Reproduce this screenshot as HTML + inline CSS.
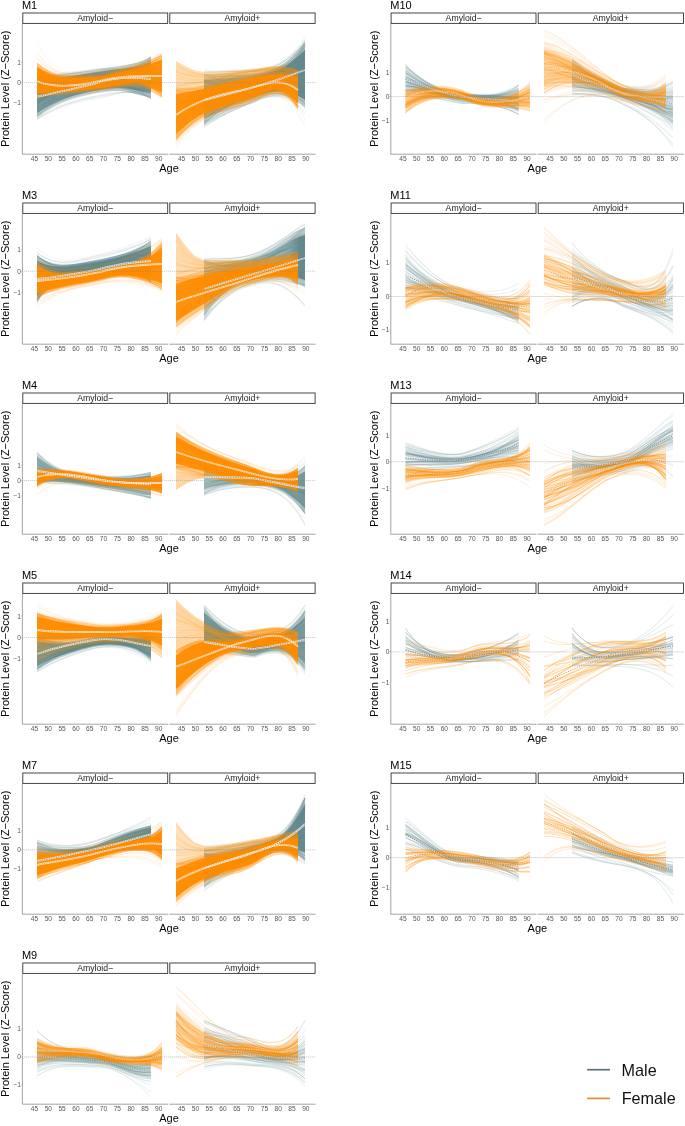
<!DOCTYPE html><html><head><meta charset="utf-8"><style>html,body{margin:0;padding:0;background:#fff;}svg{display:block;}text{font-family:"Liberation Sans",sans-serif;}</style></head><body>
<svg width="685" height="1126" viewBox="0 0 685 1126" style="will-change:transform">
<rect width="685" height="1126" fill="#fff"/>
<g><path fill="#5d8489" fill-opacity="0.338" stroke="none" d="M37 77L44.6 76.2L52.2 75.4L59.8 74.5L67.4 73.6L75 72.6L82.6 71.5L90.2 70.4L97.8 69.3L105.4 68.2L113 67.1L120.6 65.9L128.2 64.6L135.8 63.1L143.4 60.8L151 57L151 97.7L143.4 96.1L135.8 94.3L128.2 92L120.6 90.7L113 91L105.4 91.9L97.8 93.1L90.2 94.5L82.6 96.2L75 98.3L67.4 100.8L59.8 103.8L52.2 107.7L44.6 112.6L37 118Z"/><path fill="#5d8489" fill-opacity="0.75" stroke="none" d="M37 81.9L44.6 80.6L52.2 79.3L59.8 78L67.4 76.8L75 75.6L82.6 74.4L90.2 73.3L97.8 72.2L105.4 71.1L113 70L120.6 68.9L128.2 67.9L135.8 66.8L143.4 65L151 61.9L151 92.8L143.4 91.9L135.8 90.5L128.2 88.7L120.6 87.7L113 88.2L105.4 89.1L97.8 90.3L90.2 91.6L82.6 93.2L75 95.2L67.4 97.5L59.8 100.2L52.2 103.9L44.6 108.2L37 113.1Z"/><path fill="none" stroke="#5d8489" stroke-opacity="0.2" stroke-width="0.8" d="M37 102.8C56 93.8 75 89.6 94 87.5C113 83.4 132 87.8 151 94.2M37 85.8C56 79.1 75 75.7 94 73.1C113 69.5 132 71.6 151 68.9M37 76.4C56 79.1 75 77.7 94 78.2C113 77.3 132 81.6 151 90.9M37 96.1C56 87.8 75 83.8 94 80C113 74.6 132 76.5 151 69M37 87C56 83.2 75 80.2 94 78C113 74.3 132 77 151 75M37 99.8C56 92.4 75 88.7 94 87.3C113 84 132 88.8 151 98.3M37 102.7C56 90.4 75 85.9 94 84.1C113 80.9 132 85.8 151 98M37 83C56 83 75 80.8 94 79.8C113 77 132 80.4 151 82.1M37 77.7C56 72.5 75 72.7 94 69.1C113 67.5 132 71 151 78M37 115.3C56 99.3 75 93.5 94 88.9C113 82.3 132 85.4 151 82.8M37 97.4C56 87.6 75 83.2 94 79C113 73.4 132 75.1 151 66.7M37 84.4C56 86.2 75 84.3 94 83.4C113 80.5 132 84.1 151 85.5M37 91.9C56 85 75 81.1 94 76.5C113 70.6 132 71.3 151 56.3M37 82.8C56 80.1 75 77.4 94 74.9C113 71.2 132 73.2 151 67.5M37 97.9C56 91.8 75 88.2 94 86.5C113 82.7 132 86.9 151 92M37 107.8C56 93.7 75 88.1 94 82.2C113 74.5 132 75.4 151 60.1M37 97.8C56 96.7 75 93.9 94 92.3C113 87.8 132 92 151 93.1M37 101.7C56 88.3 75 83.1 94 77.8C113 71 132 71.9 151 58.7M37 90C56 84.4 75 80.9 94 77.2C113 72 132 73.4 151 62.5M37 92.4C56 93.2 75 91 94 90.4C113 87.2 132 91.9 151 97.6M37 102C56 91.1 75 86.6 94 83.5C113 78.7 132 82.1 151 83.2M37 82.6C56 79.5 75 76.8 94 75.1C113 72.2 132 74.9 151 74.8M37 93.3C56 87 75 83.2 94 78.9C113 72.9 132 74 151 60.3M37 85.3C56 85.5 75 83.3 94 82.3C113 79.3 132 82.8 151 84.6M37 113.5C56 98.1 75 92.4 94 88.2C113 81.9 132 85.2 151 84.2M37 112.2C56 98.8 75 93.6 94 90.7C113 85.6 132 90.1 151 96.2M37 100.5C56 91.9 75 87.5 94 82.6C113 75.8 132 77 151 62.3M37 115.7C56 99.6 75 93.7 94 88.8C113 81.7 132 84.5 151 79.6M37 113.9C56 95.6 75 89.5 94 85.1C113 79.2 132 82.4 151 83.3M37 92.2C56 88.6 75 85.4 94 82.5C113 77.7 132 80 151 73.6M37 77.8C56 83.1 75 82.1 94 82.7C113 81.2 132 85.7 151 93.3M37 99.5C56 88.8 75 84.2 94 80.2C113 74.6 132 76.6 151 69.8M37 77.3C56 78.6 75 76.7 94 75.3C113 72.5 132 74.9 151 71.9M37 81.4C56 83.1 75 81.5 94 82C113 80.8 132 85.7 151 97.1M37 94.4C56 93.2 75 90.3 94 87.6C113 82.5 132 85.2 151 78.4M37 90.9C56 86.7 75 83.6 94 81.6C113 77.8 132 81 151 81.2M37 91.3C56 85.4 75 82 94 79.7C113 75.8 132 78.7 151 78.2M37 114.9C56 93 75 86.1 94 79.6C113 71.9 132 73.1 151 62.6M37 76.4C56 77.2 75 75.6 94 75.8C113 74.8 132 78.9 151 88.1M37 82C56 82.9 75 80.8 94 79.1C113 75.6 132 78.1 151 73.9M37 76.8C56 77.7 75 76 94 75.7C113 74.1 132 77.6 151 82.8M37 98.1C56 88 75 83.8 94 81.5C113 77.8 132 81.6 151 86.9M37 84.6C56 83.6 75 81 94 78.8C113 74.9 132 77.1 151 71.6M37 90.9C56 86.6 75 83.6 94 83C113 80.8 132 85.5 151 96.3M37 90.7C56 80.1 75 75.9 94 72.6C113 68.5 132 70.5 151 67.7M37 95.1C56 90.9 75 87.8 94 86.9C113 83.9 132 88.7 151 97.7M37 98.4C56 89.7 75 85.8 94 84.2C113 80.9 132 85.4 151 94.1M37 100.9C56 90.1 75 85.6 94 81.7C113 76.3 132 78.8 151 74.2M37 93.7C56 86.8 75 83.3 94 82.3C113 79.8 132 84.4 151 95.2M37 94.5C56 90 75 86.6 94 83.9C113 79.2 132 82 151 78.2M37 86.9C56 84.8 75 82.3 94 81.6C113 79.2 132 83.4 151 90.3M37 106.8C56 98.3 75 93.9 94 90.3C113 84.2 132 87.3 151 82.8M37 90.4C56 81.2 75 77.3 94 74.5C113 70.8 132 73.3 151 73M37 78.3C56 75.5 75 72.9 94 70.7C113 67.7 132 69.5 151 65.2M37 112C56 91.9 75 85.4 94 79C113 71.5 132 72.6 151 60.9M37 96.6C56 88.7 75 84.8 94 82.1C113 77.8 132 81 151 81.4M37 89.3C56 89.7 75 87.6 94 87.2C113 84.6 132 89.4 151 96.9M37 103C56 90.9 75 86.1 94 82.9C113 78.1 132 81.5 151 83.1M37 78.8C56 78.4 75 76.3 94 74.8C113 72.2 132 74.8 151 73.6M37 110.9C56 100.8 75 96.1 94 92.4C113 86.1 132 89.7 151 87.1M37 115.1C56 100 75 94.4 94 90.6C113 84.6 132 88.4 151 90.1M37 98.5C56 93.9 75 90.6 94 89.1C113 85.2 132 89.7 151 94.9M37 77.5C56 75.5 75 72.9 94 70.1C113 66.3 132 67.2 151 57M37 86.8C56 82.3 75 79.1 94 75.9C113 71.3 132 72.9 151 64.1M37 77.8C56 81.8 75 80.5 94 79.9C113 77.5 132 80.8 151 81.2M37 105.1C56 91 75 85.5 94 79.6C113 72.2 132 72.8 151 57.1M37 116.2C56 101.2 75 95.4 94 90.4C113 83 132 85.7 151 79M37 104.2C56 90.1 75 85 94 81.6C113 76.7 132 80 151 82M37 100.7C56 89.7 75 84.9 94 79.5C113 72.6 132 73.3 151 57.9M37 117.1C56 98.7 75 92.5 94 88.6C113 82.9 132 87.1 151 92.3M37 90.6C56 81.7 75 77.8 94 74.6C113 70.5 132 72.7 151 69.6M37 102.9C56 89.7 75 84.9 94 82.4C113 78.4 132 82.5 151 89.9M37 113C56 99.1 75 93.8 94 90.1C113 84.3 132 88.2 151 89.9M37 108.9C56 95.3 75 90.2 94 87.4C113 82.7 132 87 151 93.5M37 100.6C56 89.1 75 84.6 94 81.7C113 77.3 132 80.7 151 83.2M37 80.3C56 81.1 75 79.2 94 78.6C113 76.5 132 80.1 151 84.2M37 111.3C56 96.5 75 91.1 94 87.7C113 82.4 132 86.3 151 90.2M37 107C56 96.9 75 92.4 94 89.7C113 84.8 132 89 151 92.9M37 83.1C56 79.2 75 76.1 94 72.7C113 68.1 132 69 151 57.3M37 85.3C56 85.4 75 83.1 94 81.6C113 78.2 132 81.3 151 80M37 92.4C56 81.1 75 76.7 94 73.1C113 68.7 132 70.6 151 66.9M37 104.2C56 89.5 75 84.1 94 78.6C113 71.7 132 72.8 151 60.5M37 81.9C56 84.9 75 83.3 94 82.6C113 79.8 132 83.3 151 84.2M37 92.2C56 83.7 75 79.8 94 76.7C113 72.4 132 74.8 151 71.9M37 85.4C56 79.3 75 76 94 73.1C113 69.4 132 71.2 151 66.7M37 95.7C56 85.3 75 80.8 94 76.2C113 70.3 132 71.4 151 59.6M37 100.9C56 92.2 75 87.8 94 83.5C113 77.3 132 79.1 151 68.9M37 108.7C56 92.1 75 86.2 94 80.3C113 73 132 74.1 151 61.7M37 81.8C56 79.4 75 76.7 94 73.6C113 69.3 132 70.4 151 59.6M37 87.7C56 83.9 75 80.8 94 78C113 73.6 132 75.7 151 69.2"/><path fill="none" stroke="#5d8489" stroke-opacity="0.14" stroke-width="0.6" d="M37 119.2C56 106.7 75 100.4 94 96.4C113 90.9 132 90.1 151 97.9M37 118.9C56 105.8 75 101.3 94 98C113 96.9 132 84.7 151 98.8M37 118.8C56 105.4 75 100.6 94 97.3C113 95.2 132 86.2 151 98.6M37 118.2C56 103.7 75 99.4 94 96.4C113 94.8 132 86.5 151 98.6M37 119.6C56 107.9 75 102.7 94 98.9C113 97.1 132 84.8 151 98.8M37 119.3C56 107.1 75 101.1 94 97.1C113 92.7 132 88.6 151 98.2"/><path fill="#ff8c00" fill-opacity="0.405" stroke="none" d="M37 62.7L45.3 68.4L53.7 73L62 75.4L70.3 75.5L78.7 75.5L87 75.5L95.3 75.5L103.7 74.4L112 72L120.3 69.6L128.7 67.9L137 65.9L145.3 62.7L153.7 58.6L162 54.5L162 97.7L153.7 92.8L145.3 87.4L137 85.1L128.7 86L120.3 87.2L112 88.3L103.7 89.5L95.3 90.7L87 91.6L78.7 92.4L70.3 93.3L62 94.2L53.7 95.3L45.3 96.5L37 97.7Z"/><path fill="#ff8c00" fill-opacity="0.9" stroke="none" d="M37 66.9L45.3 71.7L53.7 75.7L62 77.7L70.3 77.6L78.7 77.5L87 77.4L95.3 77.3L103.7 76.2L112 73.9L120.3 71.7L128.7 70L137 68.2L145.3 65.7L153.7 62.7L162 59.7L162 92.5L153.7 88.7L145.3 84.4L137 82.8L128.7 83.8L120.3 85.1L112 86.3L103.7 87.7L95.3 88.8L87 89.7L78.7 90.4L70.3 91.2L62 92L53.7 92.6L45.3 93.1L37 93.5Z"/><path fill="none" stroke="#ff8c00" stroke-opacity="0.22" stroke-width="0.8" d="M37 64.3C57.8 84.2 78.7 78.1 99.5 79.5C120.3 76.5 141.2 70.7 162 76.9M37 68.9C57.8 83.6 78.7 77.9 99.5 78.1C120.3 73.2 141.2 69.3 162 65.6M37 89.2C57.8 91.8 78.7 89.1 99.5 87.6C120.3 85.3 141.2 76.6 162 93.9M37 68.7C57.8 85.7 78.7 80.3 99.5 81.8C120.3 80.2 141.2 72.2 162 89.6M37 88.2C57.8 93.7 78.7 91.1 99.5 89.9C120.3 88.3 141.2 79.1 162 98.4M37 92.7C57.8 92.3 78.7 89.9 99.5 87.7C120.3 84.4 141.2 76.6 162 88.6M37 85.3C57.8 87.2 78.7 83.3 99.5 80.9C120.3 74.5 141.2 71.1 162 61.9M37 89.6C57.8 92 78.7 89.3 99.5 87.4C120.3 83.9 141.2 76.7 162 86M37 75.8C57.8 85.2 78.7 80.4 99.5 79.9C120.3 75.6 141.2 70.4 162 72.5M37 92.7C57.8 91.1 78.7 88.5 99.5 85.8C120.3 81 141.2 75 162 78M37 81.9C57.8 89.1 78.7 85.3 99.5 84.6C120.3 81.7 141.2 74.3 162 86.1M37 92.2C57.8 92.3 78.7 89.9 99.5 88.1C120.3 85.7 141.2 76.8 162 94.9M37 67C57.8 83 78.7 77.3 99.5 79C120.3 77.3 141.2 69.3 162 87.8M37 67.4C57.8 87.2 78.7 81.7 99.5 83.1C120.3 81.1 141.2 74 162 85.7M37 95.5C57.8 87.3 78.7 84.6 99.5 80.5C120.3 73.1 141.2 69.9 162 59.2M37 98C57.8 91.3 78.7 89.1 99.5 84.5C120.3 76.9 141.2 74.2 162 58.9M37 82.9C57.8 88.2 78.7 84.3 99.5 82.8C120.3 78.1 141.2 72.8 162 73.7M37 68.9C57.8 90.5 78.7 85.5 99.5 87.1C120.3 86.1 141.2 77.8 162 94.7M37 90C57.8 86.3 78.7 82.8 99.5 79.5C120.3 72.1 141.2 69.4 162 56.7M37 63.2C57.8 80.8 78.7 74.3 99.5 75.6C120.3 71.4 141.2 66.9 162 67.7M37 88.2C57.8 91.4 78.7 88.3 99.5 85.9C120.3 81 141.2 75.8 162 74.1M37 98.2C57.8 95 78.7 93.2 99.5 90.5C120.3 87.5 141.2 79 162 93.6M37 71C57.8 84 78.7 78.5 99.5 78.8C120.3 74.6 141.2 69.6 162 71.3M37 66.5C57.8 82.3 78.7 76.1 99.5 76.2C120.3 70 141.2 67.9 162 55.1M37 66.5C57.8 81.3 78.7 75.1 99.5 75.5C120.3 70.3 141.2 66.8 162 61.6M37 79.6C57.8 86.6 78.7 82.2 99.5 80.6C120.3 74.5 141.2 71.3 162 61.9M37 71.7C57.8 86.3 78.7 81.2 99.5 81.6C120.3 78.1 141.2 72.3 162 77.3M37 80.8C57.8 88.9 78.7 84.9 99.5 84.1C120.3 80.7 141.2 74.1 162 81.9M37 76.4C57.8 91.5 78.7 87.3 99.5 87.4C120.3 85.3 141.2 77.8 162 89.2M37 68.5C57.8 80.3 78.7 74.1 99.5 74.7C120.3 68.9 141.2 65.2 162 59.8M37 97.7C57.8 91.6 78.7 89.8 99.5 87.3C120.3 84.7 141.2 75.4 162 95.9M37 97.3C57.8 90.3 78.7 87.9 99.5 83.7C120.3 76.7 141.2 73.2 162 63M37 80.1C57.8 88.5 78.7 84.6 99.5 84.6C120.3 83 141.2 74.1 162 94.7M37 73.5C57.8 87 78.7 82.1 99.5 82.4C120.3 79.2 141.2 72.9 162 80.6M37 70.6C57.8 85.2 78.7 79.8 99.5 80.2C120.3 76.5 141.2 71 162 74.5M37 89.7C57.8 91.8 78.7 89.1 99.5 87.4C120.3 84.6 141.2 76.5 162 90.9M37 87.8C57.8 93.1 78.7 90.3 99.5 88.9C120.3 86.3 141.2 78.2 162 91.8M37 88.8C57.8 89.8 78.7 86.6 99.5 83.9C120.3 77.9 141.2 73.8 162 67.2M37 89.5C57.8 87.8 78.7 84.5 99.5 81.4C120.3 74.6 141.2 71.4 162 61.1M37 83.7C57.8 89.2 78.7 85.4 99.5 83.5C120.3 78.1 141.2 73.8 162 68.4M37 67.6C57.8 86.5 78.7 80.9 99.5 81.9C120.3 78.6 141.2 73 162 76.7M37 97.1C57.8 92.5 78.7 90.5 99.5 87.2C120.3 82.4 141.2 76.1 162 79.5M37 72.3C57.8 89.1 78.7 84.3 99.5 85.1C120.3 83.3 141.2 75.6 162 89.7M37 85.4C57.8 89.5 78.7 86.3 99.5 85.6C120.3 83.8 141.2 74.6 162 96.3M37 77.1C57.8 84.6 78.7 80 99.5 80.1C120.3 77.3 141.2 69.8 162 84.7M37 74.2C57.8 89.5 78.7 84.8 99.5 85.1C120.3 82.3 141.2 75.7 162 83.7M37 82.1C57.8 87.5 78.7 83.7 99.5 83.1C120.3 80.5 141.2 72.5 162 88.2M37 88.5C57.8 90.3 78.7 86.9 99.5 83.5C120.3 75.8 141.2 74.1 162 54.3M37 79.1C57.8 84.1 78.7 79.6 99.5 78.7C120.3 74.1 141.2 68.7 162 72M37 81C57.8 86.9 78.7 82.9 99.5 82.4C120.3 79.6 141.2 71.9 162 86.5M37 82.5C57.8 86.8 78.7 82.8 99.5 81.7C120.3 77.8 141.2 71.4 162 78.7M37 63.4C57.8 83.4 78.7 77.1 99.5 78.6C120.3 75.2 141.2 69.9 162 74M37 82C57.8 85.7 78.7 81.3 99.5 79.2C120.3 72.3 141.2 69.8 162 57M37 70.1C57.8 83.8 78.7 78.1 99.5 78C120.3 72.7 141.2 69.3 162 62.4M37 69.2C57.8 84.9 78.7 79.3 99.5 79.9C120.3 76.2 141.2 70.9 162 74M37 87.7C57.8 91.3 78.7 88.2 99.5 86.2C120.3 81.9 141.2 75.9 162 78.5M37 79C57.8 86.7 78.7 82.4 99.5 81.9C120.3 78.6 141.2 71.8 162 81.5M37 86.7C57.8 88.7 78.7 85.4 99.5 83.8C120.3 80.1 141.2 73.1 162 82.5M37 82.3C57.8 88.8 78.7 84.9 99.5 83.4C120.3 78.4 141.2 73.6 162 71.4M37 75.8C57.8 86.4 78.7 81.6 99.5 81.3C120.3 77.2 141.2 71.7 162 74.6M37 80.3C57.8 85.4 78.7 81.1 99.5 79.8C120.3 74.6 141.2 70 162 68.8M37 75.9C57.8 89.5 78.7 85.1 99.5 85.6C120.3 83.8 141.2 75.6 162 91.6M37 78.3C57.8 88.2 78.7 84 99.5 83.8C120.3 81 141.2 73.7 162 85.7M37 93.3C57.8 89.4 78.7 86.8 99.5 84.1C120.3 79.6 141.2 73.1 162 79.7M37 86.2C57.8 90.7 78.7 87.5 99.5 86C120.3 82.5 141.2 75.6 162 84.1M37 77.3C57.8 86.6 78.7 81.9 99.5 80.6C120.3 74.7 141.2 71.5 162 61.9M37 72.7C57.8 83.9 78.7 78.7 99.5 78.7C120.3 74.7 141.2 69.3 162 73M37 78.3C57.8 89.9 78.7 85.6 99.5 84.6C120.3 79.7 141.2 75.4 162 70.3M37 96.5C57.8 93.5 78.7 91.6 99.5 89.1C120.3 86.2 141.2 77.6 162 93.6M37 71.7C57.8 90.9 78.7 86.2 99.5 87.2C120.3 85.9 141.2 77.8 162 93.4M37 87C57.8 85.6 78.7 81.8 99.5 78.9C120.3 71.8 141.2 69.1 162 56.9M37 69.2C57.8 86.2 78.7 80.7 99.5 81.1C120.3 77.2 141.2 72.3 162 72.5M37 92.1C57.8 89.9 78.7 87.1 99.5 84.3C120.3 79.3 141.2 73.7 162 74.9M37 78.7C57.8 87.7 78.7 83.3 99.5 82.3C120.3 77.4 141.2 72.8 162 70.4M37 69.3C57.8 82.4 78.7 76.6 99.5 77C120.3 72.4 141.2 67.9 162 67.9M37 90C57.8 86.3 78.7 82.9 99.5 79.5C120.3 72.1 141.2 69.5 162 56.2M37 91.8C57.8 89.6 78.7 86.8 99.5 84C120.3 78.7 141.2 73.4 162 73.6M37 86.9C57.8 87.5 78.7 83.9 99.5 81.4C120.3 75.2 141.2 71.4 162 64.7M37 75.7C57.8 87.2 78.7 82.5 99.5 82.6C120.3 79.5 141.2 72.8 162 82.3M37 79.3C57.8 87.6 78.7 83.4 99.5 82.6C120.3 78.6 141.2 72.7 162 77.2M37 69.4C57.8 87.1 78.7 82 99.5 83.7C120.3 83 141.2 73.8 162 96.9M37 73.1C57.8 83.8 78.7 78.5 99.5 78.1C120.3 73 141.2 69 162 65.2M37 77.4C57.8 86.5 78.7 82.2 99.5 82.3C120.3 80 141.2 72 162 88.3M37 69.1C57.8 83.8 78.7 78 99.5 77.9C120.3 72.2 141.2 69.3 162 59.8M37 90C57.8 88.4 78.7 85.3 99.5 82.9C120.3 78.1 141.2 72.3 162 75.6M37 85.9C57.8 90.1 78.7 86.8 99.5 85.2C120.3 81.4 141.2 74.9 162 81.5M37 89.3C57.8 89.3 78.7 86.2 99.5 83.5C120.3 77.8 141.2 73.3 162 69.1M37 77.9C57.8 86.6 78.7 82.2 99.5 81.5C120.3 77.5 141.2 71.8 162 75.6M37 78.1C57.8 88.2 78.7 83.9 99.5 83.5C120.3 80.4 141.2 73.7 162 82.4M37 67C57.8 82.4 78.7 76.3 99.5 76.6C120.3 71.3 141.2 68 162 61.4"/><path fill="none" stroke="#ff8c00" stroke-opacity="0.14" stroke-width="0.6" d="M37 41.8C57.8 84.8 78.7 68.7 99.5 71.9C120.3 69.1 141.2 66 162 54.4M37 58.7C57.8 81.6 78.7 73.3 99.5 74C120.3 69.1 141.2 66.2 162 54.1M37 52.4C57.8 83 78.7 71.7 99.5 73.6C120.3 69.2 141.2 66.6 162 54.5M37 52.8C57.8 82.7 78.7 71.6 99.5 73.1C120.3 69 141.2 65.9 162 54.1M37 56.8C57.8 80.7 78.7 72 99.5 71.7C120.3 68.5 141.2 63.1 162 52.5M37 58.7C57.8 80.7 78.7 72.8 99.5 72.5C120.3 68.6 141.2 64 162 53"/><path fill="none" stroke="#fff" stroke-opacity="0.75" stroke-width="1.8" d="M37 96.6C56 93 75 88.5 94 83.9C113 76.9 132 76.9 151 79"/><path fill="none" stroke="#3f6470" stroke-opacity="0.6" stroke-width="0.9" stroke-dasharray="1.3 1.1" d="M37 96.6C56 93 75 88.5 94 83.9C113 76.9 132 76.9 151 79"/><path fill="none" stroke="#fff" stroke-opacity="0.75" stroke-width="1.8" d="M37 81.4C57.8 89.1 78.7 85.3 99.5 81.1C120.3 74.9 141.2 76.1 162 76"/><path fill="none" stroke="#d97700" stroke-opacity="0.6" stroke-width="0.9" stroke-dasharray="1.3 1.1" d="M37 81.4C57.8 89.1 78.7 85.3 99.5 81.1C120.3 74.9 141.2 76.1 162 76"/><defs><linearGradient id="g1" gradientUnits="userSpaceOnUse" x1="204" y1="0" x2="305" y2="0"><stop offset="0.0" stop-color="#5d8489" stop-opacity="0.5"/><stop offset="0.465" stop-color="#5d8489" stop-opacity="0.55"/><stop offset="0.752" stop-color="#5d8489" stop-opacity="0.85"/><stop offset="1.0" stop-color="#5d8489" stop-opacity="0.92"/></linearGradient></defs><path fill="url(#g1)" fill-opacity="0.45" stroke="none" d="M204 74L210.7 74L217.5 73.9L224.2 73.8L230.9 73.7L237.7 73.5L244.4 73.3L251.1 73L257.9 72.3L264.6 70.9L271.3 69L278.1 66.6L284.8 62.7L291.5 57L298.3 50L305 42L305 107.6L298.3 102.3L291.5 98.2L284.8 95.5L278.1 94.4L271.3 95L264.6 96.8L257.9 99.4L251.1 102L244.4 104.5L237.7 107.3L230.9 110.3L224.2 113.6L217.5 117.2L210.7 121L204 125Z"/><path fill="url(#g1)" stroke="none" d="M204 80.1L210.7 79.6L217.5 79.1L224.2 78.6L230.9 78.1L237.7 77.5L244.4 77L251.1 76.5L257.9 75.5L264.6 74L271.3 72.1L278.1 69.9L284.8 66.7L291.5 62L298.3 56.3L305 49.9L305 99.7L298.3 96L291.5 93.3L284.8 91.6L278.1 91.1L271.3 91.9L264.6 93.7L257.9 96.1L251.1 98.5L244.4 100.7L237.7 103.2L230.9 105.9L224.2 108.9L217.5 112L210.7 115.3L204 118.9Z"/><path fill="none" stroke="#5d8489" stroke-opacity="0.2" stroke-width="0.8" d="M204 94.5C220.8 91.3 237.7 88.2 254.5 85.1C271.3 80.2 288.2 77.1 305 69.2M204 81.5C220.8 85.8 237.7 86.9 254.5 87.1C271.3 86 288.2 81.1 305 103.7M204 108.4C220.8 96.6 237.7 89.2 254.5 83.3C271.3 75.4 288.2 73.3 305 44.1M204 104.8C220.8 103.9 237.7 100.4 254.5 96C271.3 88.9 288.2 88.3 305 93.4M204 123.5C220.8 107.7 237.7 98.6 254.5 93.7C271.3 87.1 288.2 83.9 305 101.1M204 89.7C220.8 74.8 237.7 70.7 254.5 71.9C271.3 71.8 288.2 61.2 305 42.9M204 121.5C220.8 108.2 237.7 100.1 254.5 95.5C271.3 89.2 288.2 86.2 305 108.2M204 108.3C220.8 100.1 237.7 94.5 254.5 90.5C271.3 84.6 288.2 81.8 305 87M204 123.5C220.8 115.6 237.7 107.8 254.5 100.2C271.3 89.1 288.2 90.7 305 82.2M204 100.2C220.8 86.2 237.7 79.5 254.5 75.7C271.3 71 288.2 65.8 305 42M204 109.8C220.8 101.3 237.7 95 254.5 89.7C271.3 82.1 288.2 80.5 305 69.4M204 113.1C220.8 98.8 237.7 90.7 254.5 85.5C271.3 78.6 288.2 75.5 305 63.7M204 80C220.8 81.1 237.7 80.6 254.5 78.7C271.3 75.5 288.2 71.4 305 53.3M204 96.7C220.8 95.3 237.7 93 254.5 91.1C271.3 87.6 288.2 83.9 305 104M204 120.6C220.8 103.7 237.7 94.5 254.5 89.6C271.3 83.3 288.2 79.6 305 87.1M204 94.4C220.8 87.6 237.7 83.2 254.5 79.1C271.3 73.4 288.2 70.1 305 40.9M204 86C220.8 80.6 237.7 77.8 254.5 75.8C271.3 73 288.2 67.6 305 50.4M204 109.4C220.8 96.8 237.7 89.4 254.5 84.1C271.3 77.1 288.2 74.2 305 55.2M204 122.8C220.8 104.9 237.7 94.5 254.5 87.7C271.3 78.9 288.2 76.8 305 59M204 79.9C220.8 75.5 237.7 74.8 254.5 76.7C271.3 78.9 288.2 69.8 305 96.3M204 100.4C220.8 92.9 237.7 87.6 254.5 82.5C271.3 75.3 288.2 73.2 305 43.1M204 117.9C220.8 103.2 237.7 93.9 254.5 86.8C271.3 77.2 288.2 76.1 305 46.4M204 113.5C220.8 102.3 237.7 95.1 254.5 90.3C271.3 83.6 288.2 81 305 82.2M204 106.3C220.8 104.6 237.7 100.3 254.5 94.5C271.3 85.5 288.2 86.1 305 71.7M204 88.5C220.8 90.3 237.7 89.6 254.5 88.1C271.3 85 288.2 81.3 305 92.4M204 112.3C220.8 106.1 237.7 99.8 254.5 93.4C271.3 83.8 288.2 84.1 305 66.5M204 110C220.8 99.2 237.7 92.3 254.5 87.3C271.3 80.3 288.2 77.8 305 67.1M204 124.1C220.8 106.6 237.7 96.9 254.5 91.5C271.3 84.4 288.2 81.3 305 89.4M204 111.7C220.8 97.8 237.7 89.9 254.5 84.6C271.3 77.8 288.2 74.6 305 59.7M204 118.6C220.8 107.4 237.7 99.4 254.5 92.8C271.3 83.6 288.2 83 305 71.3M204 89.2C220.8 87.4 237.7 84.9 254.5 81.2C271.3 75.6 288.2 73 305 45.9M204 87.4C220.8 80.7 237.7 77.5 254.5 75.6C271.3 73 288.2 67.2 305 52.5M204 97.7C220.8 88.3 237.7 83.1 254.5 79.7C271.3 75.1 288.2 70.7 305 55.3M204 121.9C220.8 103.3 237.7 92.9 254.5 86.5C271.3 78.2 288.2 75.6 305 59.3M204 99.9C220.8 93.7 237.7 88.8 254.5 83.7C271.3 76.4 288.2 74.6 305 45.8M204 115.7C220.8 104.6 237.7 96.4 254.5 88.9C271.3 78.5 288.2 78.6 305 45.2M204 118.9C220.8 109.9 237.7 102.9 254.5 97.6C271.3 89.7 288.2 88.6 305 99.8M204 100.7C220.8 93.4 237.7 88.5 254.5 84.7C271.3 79.2 288.2 76 305 65.9M204 76.9C220.8 79.4 237.7 79.7 254.5 78.6C271.3 76.2 288.2 71.7 305 58.8M204 97.9C220.8 88.1 237.7 83.2 254.5 80.8C271.3 77.6 288.2 72.1 305 71.6M204 89.9C220.8 83.7 237.7 80 254.5 77C271.3 72.7 288.2 68.3 305 43.5M204 81.1C220.8 77.9 237.7 76.1 254.5 74.5C271.3 72 288.2 66.6 305 46.3M204 123.6C220.8 108.9 237.7 99.6 254.5 93.2C271.3 84.6 288.2 83.1 305 80.2M204 90.1C220.8 88.9 237.7 87.1 254.5 85.1C271.3 81.6 288.2 77.7 305 79.7M204 104.2C220.8 99.2 237.7 94.9 254.5 91.7C271.3 86.5 288.2 83.6 305 95.5M204 83.5C220.8 81.5 237.7 80.4 254.5 80.1C271.3 79 288.2 72.9 305 80.4M204 81.8C220.8 87.3 237.7 88.1 254.5 86.8C271.3 83.6 288.2 80.4 305 82.9M204 80.1C220.8 89.3 237.7 91 254.5 89C271.3 84.5 288.2 82.9 305 77.9M204 94.4C220.8 93 237.7 90.1 254.5 86C271.3 79.7 288.2 77.9 305 59.1M204 101.7C220.8 95.6 237.7 91.3 254.5 88.3C271.3 83.7 288.2 80.1 305 87.5M204 78.7C220.8 85.8 237.7 87.7 254.5 87.5C271.3 85.7 288.2 81.8 305 96.5M204 78.4C220.8 76.3 237.7 75.5 254.5 74.9C271.3 73.7 288.2 67.5 305 57.7M204 118C220.8 111 237.7 104.6 254.5 99.2C271.3 91.1 288.2 90.5 305 102.8M204 90.6C220.8 80.3 237.7 76 254.5 74.1C271.3 72 288.2 65.3 305 53.8M204 121.9C220.8 103.4 237.7 92.8 254.5 85.5C271.3 76.1 288.2 74.3 305 45.5M204 98.8C220.8 86.4 237.7 80.9 254.5 79.1C271.3 77 288.2 70.3 305 76.4M204 96.2C220.8 92.7 237.7 88.9 254.5 84.3C271.3 77.5 288.2 75.7 305 50.3M204 125.1C220.8 106.6 237.7 96.6 254.5 91.3C271.3 84.6 288.2 81 305 91.9M204 115.8C220.8 101.2 237.7 92.6 254.5 86.8C271.3 79 288.2 76.5 305 61.9M204 73.7C220.8 82.4 237.7 85.4 254.5 86.2C271.3 85.6 288.2 80.9 305 100.1M204 97.2C220.8 93.8 237.7 90.7 254.5 88.1C271.3 83.7 288.2 80.3 305 85.8M204 81.8C220.8 78.1 237.7 76.3 254.5 74.8C271.3 72.6 288.2 66.9 305 50.2M204 75.8C220.8 76.7 237.7 76.8 254.5 76C271.3 74.3 288.2 68.9 305 55.5M204 97.6C220.8 96.2 237.7 92.9 254.5 88.5C271.3 81.7 288.2 80.4 305 65M204 87.9C220.8 87.6 237.7 85.4 254.5 81.6C271.3 75.6 288.2 73.5 305 43M204 113C220.8 99.6 237.7 91.6 254.5 85.9C271.3 78.3 288.2 75.8 305 58.1M204 113C220.8 101.7 237.7 94.3 254.5 88.8C271.3 81.2 288.2 79.1 305 68.4M204 121.7C220.8 114.1 237.7 106.1 254.5 97.7C271.3 85.4 288.2 87.8 305 61.9M204 86.4C220.8 84.6 237.7 82.5 254.5 79.7C271.3 75.3 288.2 71.7 305 50.2M204 104.9C220.8 100.8 237.7 96.9 254.5 93.8C271.3 88.8 288.2 86 305 104.5M204 110.8C220.8 101.5 237.7 95 254.5 89.9C271.3 82.5 288.2 80.6 305 73.1M204 124.6C220.8 112 237.7 103.2 254.5 96.7C271.3 87.5 288.2 86.8 305 88.2M204 121C220.8 97.8 237.7 86.4 254.5 80.3C271.3 73.2 288.2 68.8 305 47.7M204 90.6C220.8 94.7 237.7 94.5 254.5 92.9C271.3 89.1 288.2 86.4 305 104.7M204 121.7C220.8 104 237.7 94.4 254.5 89.1C271.3 82.4 288.2 78.8 305 82.4M204 103.1C220.8 94 237.7 88.5 254.5 84.9C271.3 79.8 288.2 76 305 72M204 112.1C220.8 96.9 237.7 89.2 254.5 85.8C271.3 81.5 288.2 76.3 305 87M204 81.3C220.8 83.4 237.7 83.9 254.5 84.1C271.3 83.4 288.2 77.8 305 96.1M204 114.5C220.8 112.3 237.7 107.9 254.5 101.5C271.3 92.5 288.2 93.9 305 101.5M204 87.1C220.8 83.5 237.7 81.4 254.5 80.1C271.3 77.9 288.2 72.4 305 71.6M204 123.1C220.8 109.5 237.7 100.1 254.5 92.8C271.3 82.8 288.2 82.4 305 66.1M204 94.5C220.8 89.8 237.7 86.4 254.5 83.4C271.3 78.8 288.2 75.1 305 66.3M204 98C220.8 92.5 237.7 88.5 254.5 85.2C271.3 80.2 288.2 76.8 305 71.3M204 95.9C220.8 90.9 237.7 86.8 254.5 82.6C271.3 76.5 288.2 73.9 305 50.2M204 113C220.8 104.7 237.7 98.2 254.5 92.8C271.3 84.8 288.2 83.6 305 79.2M204 115.5C220.8 97.1 237.7 87.6 254.5 82.3C271.3 75.7 288.2 71.7 305 56.4M204 87.7C220.8 85.8 237.7 83.7 254.5 81.3C271.3 77.5 288.2 73.6 305 61.4M204 92.8C220.8 88.8 237.7 85.7 254.5 82.7C271.3 78.1 288.2 74.5 305 62.7M204 82.9C220.8 79.4 237.7 77.4 254.5 75.5C271.3 72.7 288.2 67.5 305 47.9M204 113.1C220.8 101.3 237.7 93.7 254.5 87.8C271.3 79.7 288.2 77.9 305 60.9"/><path fill="none" stroke="#5d8489" stroke-opacity="0.14" stroke-width="0.6" d="M204 73.9C220.8 73.6 237.7 73.1 254.5 71.6C271.3 69.5 288.2 64 305 38.4M204 71.7C220.8 71.8 237.7 71.6 254.5 70.6C271.3 69.2 288.2 63.8 305 39.7M204 72.6C220.8 72.4 237.7 71.8 254.5 70.3C271.3 68.3 288.2 63 305 36.5M204 71.6C220.8 71.9 237.7 71.7 254.5 70.8C271.3 69.5 288.2 64.1 305 40.6M204 71.2C220.8 71.5 237.7 71.4 254.5 70.7C271.3 69.6 288.2 64.2 305 41.3M204 70.1C220.8 70.6 237.7 70.4 254.5 69.8C271.3 68.8 288.2 63.5 305 40.2M204 125.5C220.8 115 237.7 107 254.5 101.2C271.3 92.5 288.2 91.6 305 111.5M204 127C220.8 116.1 237.7 107.9 254.5 102C271.3 92.7 288.2 93 305 113.2M204 126.2C220.8 115.8 237.7 107.8 254.5 102.3C271.3 94.1 288.2 90.6 305 126.8M204 126.9C220.8 115.9 237.7 107.7 254.5 101.7C271.3 92.2 288.2 93.4 305 108.4M204 126C220.8 115.5 237.7 107.5 254.5 101.9C271.3 93.3 288.2 91.3 305 119.3M204 126.4C220.8 115.7 237.7 107.6 254.5 101.8C271.3 92.8 288.2 92.2 305 114.1"/><path fill="#ff8c00" fill-opacity="0.3" stroke="none" d="M176 88L185.4 87.2L194.8 86.2L204.2 85L213.5 83.3L222.9 81.2L232.3 78.9L241.7 76.7L251.1 75L260.5 73.5L269.8 72.3L279.2 72L288.6 72.2L298 73L298 70L288.6 67.4L279.2 66.1L269.8 66.4L260.5 67.8L251.1 69L241.7 69.8L232.3 70.6L222.9 71.3L213.5 71.8L204.2 72L194.8 70.4L185.4 66.2L176 61Z"/><path fill="#ff8c00" fill-opacity="0.405" stroke="none" d="M176 88L184.1 87.3L192.3 86.5L200.4 85.5L208.5 84.3L216.7 82.6L224.8 80.7L232.9 78.7L241.1 76.8L249.2 75.3L257.3 74L265.5 72.8L273.6 72.1L281.7 72L289.9 72.3L298 73L298 107.6L289.9 98.6L281.7 93L273.6 92.3L265.5 94.8L257.3 98.4L249.2 101.6L241.1 104.1L232.9 106.5L224.8 108.9L216.7 111.6L208.5 114.9L200.4 119L192.3 124.8L184.1 132L176 140Z"/><path fill="#ff8c00" fill-opacity="0.9" stroke="none" d="M176 94.2L184.1 92.7L192.3 91.1L200.4 89.5L208.5 88L216.7 86.1L224.8 84.1L232.9 82L241.1 80.1L249.2 78.4L257.3 77L265.5 75.5L273.6 74.5L281.7 74.5L289.9 75.5L298 77.2L298 103.4L289.9 95.5L281.7 90.5L273.6 89.9L265.5 92.1L257.3 95.5L249.2 98.4L241.1 100.9L232.9 103.2L224.8 105.5L216.7 108.1L208.5 111.2L200.4 115L192.3 120.2L184.1 126.7L176 133.8Z"/><path fill="none" stroke="#ff8c00" stroke-opacity="0.22" stroke-width="0.8" d="M176 104.7C196.3 91.1 216.7 86.4 237 79C257.3 72.8 277.7 70.2 298 72.5M176 116.7C196.3 96 216.7 90.5 237 82.3C257.3 75.4 277.7 70.8 298 75M176 105C196.3 95.1 216.7 90.5 237 83.7C257.3 77.6 277.7 71.7 298 74.8M176 137.1C196.3 114 216.7 107.6 237 99.8C257.3 92.7 277.7 75.5 298 88M176 125.3C196.3 110.1 216.7 104.3 237 95.7C257.3 85.6 277.7 75.2 298 72.6M176 138.9C196.3 115.5 216.7 109.2 237 103.6C257.3 100.8 277.7 75.9 298 104.6M176 92C196.3 89.5 216.7 85.9 237 81.5C257.3 79.4 277.7 70.9 298 83.8M176 98.8C196.3 91.5 216.7 87.3 237 80.7C257.3 75 277.7 71 298 73.2M176 121.2C196.3 102.6 216.7 96.9 237 88.8C257.3 80.9 277.7 72.8 298 75.9M176 135.8C196.3 112.4 216.7 106 237 97.8C257.3 90 277.7 75 298 84.4M176 91.6C196.3 95.6 216.7 92.3 237 90.7C257.3 92.6 277.7 73.3 298 100.9M176 116.5C196.3 101.1 216.7 96.1 237 90.8C257.3 88.6 277.7 72.8 298 94.5M176 101C196.3 99.3 216.7 95.3 237 91.8C257.3 90.4 277.7 73.7 298 93.3M176 131.2C196.3 109.5 216.7 103.5 237 97.2C257.3 93.2 277.7 74.4 298 95.4M176 87.8C196.3 90.5 216.7 87.5 237 86.4C257.3 90.2 277.7 71.8 298 104.4M176 93.9C196.3 92 216.7 88.5 237 85.8C257.3 87 277.7 71.7 298 97.2M176 129.5C196.3 104.8 216.7 98.8 237 91.4C257.3 86.3 277.7 72.8 298 88.6M176 88.9C196.3 97.5 216.7 94.6 237 93.7C257.3 96 277.7 74.3 298 102.9M176 100.2C196.3 98.3 216.7 94.6 237 92.4C257.3 94.1 277.7 73.5 298 103.5M176 103.8C196.3 97.9 216.7 93.6 237 89.2C257.3 87.1 277.7 72.9 298 90.5M176 110.9C196.3 101.2 216.7 96.4 237 89.9C257.3 83.8 277.7 73.4 298 79.5M176 114.1C196.3 105.5 216.7 100.9 237 97.5C257.3 97.3 277.7 74.7 298 103.6M176 104.1C196.3 98.1 216.7 93.7 237 88.2C257.3 83.8 277.7 72.9 298 82.4M176 114.2C196.3 97 216.7 91.8 237 84.1C257.3 77.4 277.7 71.5 298 75.8M176 140.5C196.3 115.9 216.7 109.4 237 102C257.3 95.9 277.7 75.9 298 93.1M176 114.6C196.3 105.3 216.7 100.4 237 95.2C257.3 91.4 277.7 74.5 298 90.4M176 138.4C196.3 115.4 216.7 109.2 237 103.8C257.3 101.6 277.7 75.9 298 106.4M176 132.1C196.3 114.2 216.7 108.2 237 102C257.3 97.1 277.7 76.1 298 94.8M176 118.1C196.3 105 216.7 99.7 237 92.6C257.3 85.7 277.7 74.1 298 79.9M176 87.7C196.3 91.2 216.7 88.2 237 86.2C257.3 88 277.7 72.1 298 97.4M176 112.4C196.3 103.8 216.7 99.3 237 96.5C257.3 97.8 277.7 74.3 298 107.4M176 90C196.3 89.1 216.7 85.7 237 82C257.3 81.2 277.7 71 298 87.7M176 90C196.3 88 216.7 84.4 237 79.8C257.3 77.4 277.7 70.6 298 81.4M176 116.2C196.3 101.9 216.7 96.8 237 90.5C257.3 85.8 277.7 73.1 298 86M176 103C196.3 101.8 216.7 97.8 237 94.5C257.3 93.4 277.7 74.5 298 95.9M176 136C196.3 119.4 216.7 111.3 237 106.2C257.3 103.4 277.7 78 298 106.9M176 112.1C196.3 101.5 216.7 97 237 93.5C257.3 93.9 277.7 73.4 298 103.2M176 130.4C196.3 112.7 216.7 106.7 237 99C257.3 91 277.7 75.7 298 82.6M176 105C196.3 96 216.7 91.7 237 87.4C257.3 86.5 277.7 72 298 94M176 89.9C196.3 96.4 216.7 93.3 237 92C257.3 94 277.7 73.8 298 101.4M176 107.5C196.3 99.8 216.7 95.3 237 89.8C257.3 85.7 277.7 73.2 298 84.9M176 100.9C196.3 90.5 216.7 86.4 237 82.3C257.3 82.7 277.7 70.4 298 94.7M176 123.2C196.3 112.5 216.7 107.4 237 103.8C257.3 103 277.7 76.4 298 106.9M176 135.1C196.3 114.5 216.7 108.4 237 102.7C257.3 99.4 277.7 75.9 298 101.3M176 139.4C196.3 105.5 216.7 98.6 237 88.8C257.3 80.5 277.7 72 298 79.6M176 134.4C196.3 111.1 216.7 104.9 237 98.2C257.3 93.5 277.7 74.7 298 94.7M176 97.8C196.3 98.3 216.7 94.5 237 91C257.3 89.3 277.7 73.7 298 91M176 93.8C196.3 91.9 216.7 88.1 237 82.7C257.3 78.3 277.7 71.6 298 76.9M176 136.8C196.3 107.9 216.7 101.2 237 91.6C257.3 82.5 277.7 73.2 298 77.4M176 101.2C196.3 90.7 216.7 86.3 237 79.9C257.3 75.3 277.7 70.4 298 77.1M176 118.5C196.3 104.5 216.7 99.3 237 93.1C257.3 88.4 277.7 73.9 298 87.5M176 98.1C196.3 97.6 216.7 93.9 237 91C257.3 90.8 277.7 73.4 298 96.2M176 108.5C196.3 100.4 216.7 95.8 237 90.8C257.3 87.6 277.7 73.3 298 89M176 100.3C196.3 95.8 216.7 91.9 237 88.8C257.3 89.4 277.7 72.5 298 98.2M176 135.3C196.3 110.2 216.7 103.9 237 95.9C257.3 89 277.7 74.3 298 86.5M176 134.4C196.3 106.5 216.7 100.3 237 93.4C257.3 90 277.7 73 298 96.5M176 94.4C196.3 98.7 216.7 95.4 237 94.6C257.3 97.8 277.7 74.2 298 108M176 103.2C196.3 100.4 216.7 96.5 237 94.5C257.3 96.7 277.7 73.9 298 106.8M176 95.7C196.3 86.4 216.7 82.3 237 76.9C257.3 73.7 277.7 69.5 298 80M176 112.5C196.3 99.1 216.7 94.3 237 89.3C257.3 87.3 277.7 72.4 298 93.6M176 92.8C196.3 97.4 216.7 94.1 237 92.5C257.3 94.2 277.7 73.9 298 101.5M176 117.4C196.3 99.3 216.7 93.9 237 86.2C257.3 79.4 277.7 72 298 77.3M176 121C196.3 109.5 216.7 104.2 237 98.2C257.3 92.6 277.7 75.5 298 87.7M176 108.1C196.3 96.5 216.7 91.9 237 86.9C257.3 84.8 277.7 71.9 298 90.7M176 117.4C196.3 108 216.7 103.1 237 99C257.3 97.3 277.7 75.3 298 99.9M176 100.9C196.3 94.4 216.7 90.5 237 88.5C257.3 92 277.7 71.9 298 108M176 109.9C196.3 98.3 216.7 93.6 237 88.1C257.3 84.6 277.7 72.4 298 87.2M176 96.5C196.3 91.4 216.7 87.6 237 84.3C257.3 84.9 277.7 71.2 298 95.3M176 114.9C196.3 108.8 216.7 104.1 237 100.9C257.3 100.3 277.7 75.9 298 103.7M176 112.1C196.3 98.1 216.7 93.1 237 86.6C257.3 81.8 277.7 72.1 298 82.6M176 104.1C196.3 97.2 216.7 93 237 89.4C257.3 89.3 277.7 72.6 298 97.3M176 137.5C196.3 114.5 216.7 108.3 237 103C257.3 100.9 277.7 75.7 298 106.4M176 140.7C196.3 112 216.7 105.4 237 97.8C257.3 92.5 277.7 74.4 298 94.1M176 113.8C196.3 96.2 216.7 90.9 237 82.9C257.3 75.9 277.7 71.2 298 74.1M176 97C196.3 97.1 216.7 93.3 237 89C257.3 86 277.7 73.3 298 85.5M176 119.5C196.3 110.4 216.7 105.4 237 101.5C257.3 99.8 277.7 76 298 101.9M176 104.7C196.3 98.2 216.7 93.9 237 89.7C257.3 88.2 277.7 72.9 298 92.8M176 107.1C196.3 95.5 216.7 91.2 237 88.3C257.3 91 277.7 71.7 298 106.9M176 134C196.3 110.9 216.7 104.8 237 98.3C257.3 94 277.7 74.7 298 95.8M176 129C196.3 105.9 216.7 99.8 237 91.8C257.3 84.9 277.7 73.3 298 82.7M176 91.4C196.3 89.1 216.7 85.4 237 80.1C257.3 76.1 277.7 70.8 298 76.6M176 111.3C196.3 98.4 216.7 93.5 237 86.5C257.3 80.3 277.7 72.3 298 77.6M176 103C196.3 100 216.7 95.9 237 91.9C257.3 90 277.7 73.8 298 92.1M176 133.3C196.3 112.6 216.7 106.2 237 97.1C257.3 86.6 277.7 75.3 298 74.4M176 140.2C196.3 113.6 216.7 106.9 237 98.9C257.3 91.9 277.7 75 298 88.9M176 92.2C196.3 92.1 216.7 88.8 237 87.2C257.3 90.3 277.7 71.9 298 103.7M176 135C196.3 111.5 216.7 105.4 237 99.4C257.3 96.4 277.7 74.8 298 100.6M176 90.1C196.3 95.7 216.7 92.6 237 90.7C257.3 91.9 277.7 73.5 298 98.1M176 101.3C196.3 91.4 216.7 87.1 237 81.7C257.3 78.8 277.7 70.7 298 84M176 120.9C196.3 107.8 216.7 102.8 237 99C257.3 98.7 277.7 74.9 298 105.8"/><path fill="none" stroke="#ff8c00" stroke-opacity="0.14" stroke-width="0.6" d="M176 82.8C196.3 84.2 216.7 80.4 237 75.6C257.3 72.2 277.7 67.3 298 71.9M176 65.9C196.3 79.1 216.7 74.8 237 72.6C257.3 71 277.7 65.2 298 71.4M176 74.2C196.3 80.5 216.7 76.4 237 73C257.3 70.9 277.7 64 298 70.7M176 70.3C196.3 81.2 216.7 77.1 237 74.2C257.3 71.8 277.7 67.3 298 72.1M176 85.6C196.3 84.5 216.7 80.8 237 75.7C257.3 72.1 277.7 66.7 298 71.6M176 64.2C196.3 78.5 216.7 74.1 237 72.2C257.3 70.8 277.7 64.7 298 71.2M176 86.6C196.3 84.9 216.7 81.2 237 75.9C257.3 72.2 277.7 66.9 298 71.7M176 77.6C196.3 82 216.7 78.1 237 74.1C257.3 71.4 277.7 65.5 298 71.3M176 72.1C196.3 79.3 216.7 75.1 237 72C257.3 70.3 277.7 62.4 298 70.1M176 78.9C196.3 83 216.7 79.1 237 74.9C257.3 71.9 277.7 66.8 298 71.8M176 71.4C196.3 79.3 216.7 75.1 237 72.1C257.3 70.5 277.7 62.9 298 70.3M176 68.9C196.3 80.2 216.7 76 237 73.3C257.3 71.3 277.7 65.9 298 71.6M176 66C196.3 79.4 216.7 75.1 237 72.9C257.3 71.1 277.7 65.7 298 71.5M176 62C196.3 79.1 216.7 74.7 237 73.1C257.3 71.4 277.7 67 298 72.2M176 84.6C196.3 82.9 216.7 79.1 237 74.1C257.3 71.2 277.7 63.9 298 70.5M176 80C196.3 81.7 216.7 77.7 237 73.4C257.3 70.9 277.7 63.6 298 70.5M176 71.5C196.3 80.7 216.7 76.6 237 73.5C257.3 71.3 277.7 65.7 298 71.5M176 85.7C196.3 83.4 216.7 79.6 237 74.5C257.3 71.3 277.7 64.3 298 70.6M176 86.2C196.3 82.9 216.7 79.1 237 73.9C257.3 71 277.7 63 298 70.1M176 64.3C196.3 79.6 216.7 75.3 237 73.3C257.3 71.5 277.7 67 298 72.1M176 84.5C196.3 82.7 216.7 78.9 237 73.9C257.3 71.1 277.7 63.5 298 70.3M176 75C196.3 83 216.7 79.1 237 75.5C257.3 72.4 277.7 68.8 298 72.6M176 144C196.3 117.6 216.7 111.6 237 106.1C257.3 103.8 277.7 76.9 298 108.2M176 143.3C196.3 118 216.7 111.7 237 106.4C257.3 104.2 277.7 77.4 298 109.1M176 147.3C196.3 118.6 216.7 112.7 237 107.1C257.3 104.8 277.7 77.8 298 109.5M176 141.3C196.3 117.6 216.7 111.2 237 106C257.3 103.9 277.7 77.1 298 108.7M176 143.9C196.3 118.4 216.7 112.1 237 106.9C257.3 104.8 277.7 77.9 298 110M176 140.7C196.3 117.5 216.7 111.1 237 106C257.3 103.9 277.7 77.1 298 108.8M176 147.3C196.3 118.2 216.7 112.5 237 106.7C257.3 104.2 277.7 77.2 298 108.6M176 142.1C196.3 117.7 216.7 111.4 237 106.2C257.3 104 277.7 77.2 298 108.9"/><path fill="none" stroke="#fff" stroke-opacity="0.75" stroke-width="1.8" d="M204 100C220.8 96.3 237.7 91.8 254.5 87C271.3 82.1 288.2 76.5 305 70"/><path fill="none" stroke="#3f6470" stroke-opacity="0.6" stroke-width="0.9" stroke-dasharray="1.3 1.1" d="M204 100C220.8 96.3 237.7 91.8 254.5 87C271.3 82.1 288.2 76.5 305 70"/><path fill="none" stroke="#fff" stroke-opacity="0.75" stroke-width="1.8" d="M176 115C196.3 100.5 216.7 95.4 237 91.2C257.3 88.5 277.7 73.4 298 90"/><path fill="none" stroke="#d97700" stroke-opacity="0.6" stroke-width="0.9" stroke-dasharray="1.3 1.1" d="M176 115C196.3 100.5 216.7 95.4 237 91.2C257.3 88.5 277.7 73.4 298 90"/><line x1="22.3" y1="82.6" x2="315.5" y2="82.6" stroke="#8a8a8a" stroke-width="0.6" stroke-dasharray="0.9 1.1"/><line x1="22.4" y1="23.5" x2="22.4" y2="154.2" stroke="#9a9a9a" stroke-width="0.9"/><line x1="22.3" y1="154.2" x2="168.1" y2="154.2" stroke="#9a9a9a" stroke-width="0.9"/><line x1="169.3" y1="154.2" x2="315.5" y2="154.2" stroke="#9a9a9a" stroke-width="0.9"/><rect x="22.8" y="13" width="144.9" height="10.4" fill="#fff" stroke="#333" stroke-width="0.9"/><text x="95.2" y="21.1" font-size="8.7" text-anchor="middle" fill="#1a1a1a">Amyloid−</text><rect x="169.8" y="13" width="145.3" height="10.4" fill="#fff" stroke="#333" stroke-width="0.9"/><text x="242.4" y="21.1" font-size="8.7" text-anchor="middle" fill="#1a1a1a">Amyloid+</text><text x="21.9" y="9.1" font-size="11" fill="#000">M1</text><text x="21" y="64.7" font-size="6.6" text-anchor="end" fill="#555">1</text><line x1="21.2" y1="62.3" x2="22.4" y2="62.3" stroke="#9a9a9a" stroke-width="0.6"/><text x="21" y="85" font-size="6.6" text-anchor="end" fill="#555">0</text><line x1="21.2" y1="82.6" x2="22.4" y2="82.6" stroke="#9a9a9a" stroke-width="0.6"/><text x="21" y="105.3" font-size="6.6" text-anchor="end" fill="#555">−1</text><line x1="21.2" y1="102.9" x2="22.4" y2="102.9" stroke="#9a9a9a" stroke-width="0.6"/><text x="34.5" y="161" font-size="6.6" text-anchor="middle" fill="#555">45</text><text x="48.3" y="161" font-size="6.6" text-anchor="middle" fill="#555">50</text><text x="62.1" y="161" font-size="6.6" text-anchor="middle" fill="#555">55</text><text x="75.9" y="161" font-size="6.6" text-anchor="middle" fill="#555">60</text><text x="89.7" y="161" font-size="6.6" text-anchor="middle" fill="#555">65</text><text x="103.5" y="161" font-size="6.6" text-anchor="middle" fill="#555">70</text><text x="117.3" y="161" font-size="6.6" text-anchor="middle" fill="#555">75</text><text x="131.1" y="161" font-size="6.6" text-anchor="middle" fill="#555">80</text><text x="144.9" y="161" font-size="6.6" text-anchor="middle" fill="#555">85</text><text x="158.7" y="161" font-size="6.6" text-anchor="middle" fill="#555">90</text><text x="181.6" y="161" font-size="6.6" text-anchor="middle" fill="#555">45</text><text x="195.4" y="161" font-size="6.6" text-anchor="middle" fill="#555">50</text><text x="209.2" y="161" font-size="6.6" text-anchor="middle" fill="#555">55</text><text x="223" y="161" font-size="6.6" text-anchor="middle" fill="#555">60</text><text x="236.8" y="161" font-size="6.6" text-anchor="middle" fill="#555">65</text><text x="250.6" y="161" font-size="6.6" text-anchor="middle" fill="#555">70</text><text x="264.4" y="161" font-size="6.6" text-anchor="middle" fill="#555">75</text><text x="278.2" y="161" font-size="6.6" text-anchor="middle" fill="#555">80</text><text x="292" y="161" font-size="6.6" text-anchor="middle" fill="#555">85</text><text x="305.8" y="161" font-size="6.6" text-anchor="middle" fill="#555">90</text><text x="169" y="171.9" font-size="11" text-anchor="middle" fill="#000">Age</text><text x="0" y="0" font-size="11" text-anchor="middle" fill="#000" transform="translate(9.2 88.8) rotate(-90)">Protein Level (Z−Score)</text></g>
<g><path fill="#5d8489" fill-opacity="0.068" stroke="none" d="M405.5 63.8L413 70.5L420.6 76.5L428.1 81.5L435.7 85.6L443.2 89.4L450.8 91.9L458.3 92.6L465.9 93L473.4 93.2L481 93.4L488.5 93.3L496.1 92.3L503.6 90L511.2 87L518.7 83.5L518.7 114L511.2 110.5L503.6 107.4L496.1 104.9L488.5 103.3L481 102.5L473.4 102.1L465.9 101.8L458.3 101.4L450.8 100.4L443.2 97.6L435.7 94.9L428.1 94.4L420.6 94.4L413 94.4L405.5 94.4Z"/><path fill="#5d8489" fill-opacity="0.15" stroke="none" d="M405.5 68.4L413 74.1L420.6 79.2L428.1 83.4L435.7 87L443.2 90.6L450.8 93.2L458.3 93.9L465.9 94.3L473.4 94.6L481 94.7L488.5 94.8L496.1 94.1L503.6 92.6L511.2 90.5L518.7 88.1L518.7 109.4L511.2 107L503.6 104.8L496.1 103L488.5 101.8L481 101.2L473.4 100.8L465.9 100.5L458.3 100.1L450.8 99.2L443.2 96.4L435.7 93.5L428.1 92.5L420.6 91.7L413 90.8L405.5 89.8Z"/><path fill="none" stroke="#5d8489" stroke-opacity="0.224" stroke-width="0.7" d="M405.5 90.3C424.4 89.1 443.2 97.6 462.1 99.9C481 100.2 499.8 101.4 518.7 108.8M405.5 72.9C424.4 83.8 443.2 94.8 462.1 95.1C481 95.8 499.8 97 518.7 88.4M405.5 86.4C424.4 87 443.2 96.7 462.1 97.9C481 98.1 499.8 99.5 518.7 97.6M405.5 82.8C424.4 85.6 443.2 96 462.1 97.1C481 97.9 499.8 98.3 518.7 100.5M405.5 73.1C424.4 83.8 443.2 94.8 462.1 95.4C481 96.7 499.8 97 518.7 94.8M405.5 84.3C424.4 89.2 443.2 97.2 462.1 99.3C481 99 499.8 101.7 518.7 98.3M405.5 76.5C424.4 86.7 443.2 95.8 462.1 97.5C481 98.2 499.8 99.6 518.7 98.6M405.5 79.1C424.4 86.2 443.2 95.9 462.1 97.5C481 98.6 499.8 99.1 518.7 103.8M405.5 90C424.4 88.5 443.2 97.4 462.1 98.9C481 98.6 499.8 100.8 518.7 97.3M405.5 64.1C424.4 87.5 443.2 95 462.1 97.9C481 99.3 499.8 100.8 518.7 103.6M405.5 74.2C424.4 85.2 443.2 95.2 462.1 96.4C481 97.4 499.8 98.3 518.7 96.9M405.5 81.8C424.4 87.3 443.2 96.4 462.1 98.3C481 99.1 499.8 100 518.7 104.7M405.5 76.2C424.4 86.8 443.2 95.8 462.1 97.2C481 97.3 499.8 99.7 518.7 91.4M405.5 73.3C424.4 83.5 443.2 94.7 462.1 95.4C481 97 499.8 96.7 518.7 98.2M405.5 76.7C424.4 84.6 443.2 95.3 462.1 96.1C481 97.2 499.8 97.6 518.7 97.4M405.5 91.5C424.4 88.2 443.2 97.5 462.1 98.3C481 97.2 499.8 100.4 518.7 88.2M405.5 69.9C424.4 88.1 443.2 95.6 462.1 98.5C481 99.7 499.8 101.1 518.7 105.6M405.5 90.8C424.4 91.3 443.2 98.2 462.1 101.3C481 101.1 499.8 103.4 518.7 108.8M405.5 85.2C424.4 88.1 443.2 96.9 462.1 98.8C481 99 499.8 100.6 518.7 101.3M405.5 82C424.4 83.7 443.2 95.5 462.1 95.5C481 96.3 499.8 96.6 518.7 93.2M405.5 86.8C424.4 85.1 443.2 96.3 462.1 96.3C481 96.4 499.8 97.7 518.7 90M405.5 86.6C424.4 89.3 443.2 97.3 462.1 99.8C481 100.1 499.8 101.7 518.7 107.1M405.5 67C424.4 82.1 443.2 93.8 462.1 94C481 95.6 499.8 95.6 518.7 90.8M405.5 93.9C424.4 92.8 443.2 98.2 462.1 101.9C481 101.8 499.8 104.7 518.7 110.2M405.5 91.3C424.4 89.5 443.2 97.8 462.1 99C481 97.4 499.8 101.5 518.7 85.2M405.5 66.7C424.4 81.1 443.2 93.5 462.1 93.8C481 96.3 499.8 94.7 518.7 99.9M405.5 80.9C424.4 86.6 443.2 96.1 462.1 98C481 99.3 499.8 99.4 518.7 108.3M405.5 86.8C424.4 85.9 443.2 96.5 462.1 96.6C481 96 499.8 98.4 518.7 84.9M405.5 82.5C424.4 91.5 443.2 97.6 462.1 101.3C481 101.6 499.8 103.9 518.7 111.7M405.5 78.5C424.4 84 443.2 95.3 462.1 96.2C481 97.9 499.8 97.1 518.7 104.8M405.5 76.8C424.4 85.8 443.2 95.6 462.1 97.5C481 99.3 499.8 98.8 518.7 109.8M405.5 78.5C424.4 81.3 443.2 94.5 462.1 94.1C481 96.1 499.8 94.5 518.7 98.6M405.5 93.2C424.4 91.1 443.2 98.4 462.1 101.3C481 101 499.8 103.2 518.7 109M405.5 80.1C424.4 90.3 443.2 97.1 462.1 100.4C481 101 499.8 102.9 518.7 110.1M405.5 72.2C424.4 86.1 443.2 95.3 462.1 97.1C481 98.2 499.8 99.2 518.7 99.9M405.5 73C424.4 84.8 443.2 95 462.1 96.3C481 97.7 499.8 98 518.7 99.8M405.5 67C424.4 82.4 443.2 93.9 462.1 94.3C481 96.1 499.8 95.9 518.7 93.8M405.5 69.6C424.4 85.8 443.2 95 462.1 96.8C481 98.1 499.8 99 518.7 100.2M405.5 85.6C424.4 87.3 443.2 96.8 462.1 97.9C481 97.7 499.8 99.8 518.7 94M405.5 76.8C424.4 89.4 443.2 96.6 462.1 99.8C481 100.7 499.8 102.2 518.7 110.2M405.5 84.3C424.4 83.6 443.2 95.6 462.1 95.7C481 96.7 499.8 96.4 518.7 96.7M405.5 85.8C424.4 84.6 443.2 96.1 462.1 95.8C481 95.6 499.8 97.3 518.7 85.4M405.5 71.4C424.4 80.3 443.2 93.7 462.1 93.5C481 96 499.8 93.9 518.7 99.9M405.5 82.5C424.4 87.5 443.2 96.5 462.1 97.5C481 96.8 499.8 100 518.7 85.7M405.5 81.8C424.4 86.4 443.2 96.2 462.1 97.8C481 98.7 499.8 99.2 518.7 104.2M405.5 79.6C424.4 83.9 443.2 95.3 462.1 95.5C481 96.2 499.8 96.9 518.7 91.4M405.5 89.4C424.4 86.6 443.2 96.9 462.1 97.3C481 96.8 499.8 99 518.7 89.1M405.5 90.7C424.4 85.2 443.2 96.6 462.1 97.1C481 97.8 499.8 97.7 518.7 101M405.5 81.2C424.4 87.1 443.2 96.3 462.1 97.7C481 97.9 499.8 99.8 518.7 95.4M405.5 65.9C424.4 83.9 443.2 94.2 462.1 95.4C481 97.1 499.8 97.3 518.7 97.7M405.5 90.1C424.4 86.3 443.2 96.8 462.1 97.5C481 97.6 499.8 98.7 518.7 96.2M405.5 85.6C424.4 87.5 443.2 96.8 462.1 98.9C481 99.9 499.8 100.1 518.7 110.3M405.5 68.2C424.4 82.6 443.2 94 462.1 94.9C481 97.1 499.8 96.1 518.7 101.1M405.5 66C424.4 83.5 443.2 94.1 462.1 95.1C481 96.8 499.8 97 518.7 95.9M405.5 81.9C424.4 86.9 443.2 96.3 462.1 98.1C481 98.8 499.8 99.7 518.7 103.4"/><path fill="none" stroke="#5d8489" stroke-opacity="0.2" stroke-width="0.6" d="M405.5 109.9C424.4 88.3 443.2 102.7 462.1 103.5C481 103.2 499.8 104.3 518.7 114.5M405.5 95.1C424.4 91.8 443.2 99 462.1 102.3C481 102.6 499.8 104.5 518.7 114.8M405.5 104.5C424.4 89.3 443.2 101.2 462.1 102.9C481 102.7 499.8 104 518.7 114.3M405.5 107.5C424.4 88.7 443.2 102 462.1 103.2C481 103 499.8 104.2 518.7 114.4M405.5 105.4C424.4 89.1 443.2 101.5 462.1 102.9C481 102.8 499.8 104 518.7 114.3"/><path fill="#ff8c00" fill-opacity="0.113" stroke="none" d="M405.5 87.9L413.8 86.2L422.1 85.1L430.4 84.6L438.7 84.9L447 85.8L455.3 87.1L463.6 89.9L471.9 93.7L480.2 96.8L488.5 97.7L496.8 97L505.1 95.6L513.4 93.5L521.7 88.9L530 82.4L530 110.9L521.7 109.1L513.4 107.9L505.1 107.3L496.8 107L488.5 106.6L480.2 105.5L471.9 102.9L463.6 100.3L455.3 98.8L447 98.9L438.7 99.4L430.4 100.2L422.1 102.7L413.8 107.3L405.5 113Z"/><path fill="#ff8c00" fill-opacity="0.25" stroke="none" d="M405.5 91.7L413.8 89.3L422.1 87.7L430.4 86.9L438.7 87.1L447 87.8L455.3 88.9L463.6 91.5L471.9 95.1L480.2 98.1L488.5 99L496.8 98.5L505.1 97.3L513.4 95.7L521.7 91.9L530 86.7L530 106.6L521.7 106.1L513.4 105.7L505.1 105.5L496.8 105.5L488.5 105.3L480.2 104.2L471.9 101.6L463.6 98.8L455.3 97.1L447 97L438.7 97.2L430.4 97.8L422.1 100.1L413.8 104.1L405.5 109.2Z"/><path fill="none" stroke="#ff8c00" stroke-opacity="0.28" stroke-width="0.7" d="M405.5 104.8C426.2 93.5 447 93.8 467.8 99.8C488.5 108.7 509.2 104.2 530 103.9M405.5 107.8C426.2 91.7 447 91.3 467.8 96.9C488.5 104.6 509.2 103.1 530 89M405.5 93.2C426.2 86.6 447 86.2 467.8 94.3C488.5 103.5 509.2 101.5 530 87M405.5 99.9C426.2 89.4 447 89.1 467.8 96C488.5 104.9 509.2 102.3 530 91.3M405.5 99.7C426.2 88 447 87.6 467.8 95.1C488.5 105 509.2 100.7 530 94.9M405.5 107.5C426.2 95.1 447 95.6 467.8 101.2C488.5 110.5 509.2 104.5 530 110.6M405.5 112.1C426.2 95.1 447 95.3 467.8 100.4C488.5 109.3 509.2 103.9 530 106.9M405.5 107.7C426.2 93.6 447 93.5 467.8 98.8C488.5 106.2 509.2 104.7 530 92.4M405.5 112.6C426.2 94.1 447 93.9 467.8 98.8C488.5 106.6 509.2 103.7 530 96.4M405.5 95.6C426.2 84.9 447 84.1 467.8 92.4C488.5 102.2 509.2 99.3 530 85.6M405.5 105.3C426.2 91.9 447 92.1 467.8 98.7C488.5 108.8 509.2 102.2 530 107.9M405.5 96.5C426.2 88.1 447 87.6 467.8 94.9C488.5 103.2 509.2 102.5 530 83.9M405.5 93.2C426.2 86.2 447 86.1 467.8 94.9C488.5 106.5 509.2 99.6 530 102.8M405.5 112.4C426.2 90.8 447 89.9 467.8 95.3C488.5 103.1 509.2 101.4 530 85.9M405.5 107C426.2 94 447 94.1 467.8 99.6C488.5 107.7 509.2 104.7 530 98.6M405.5 90.2C426.2 86.7 447 86.8 467.8 95.5C488.5 106.3 509.2 101.1 530 99.1M405.5 91.3C426.2 86.5 447 86.3 467.8 94.8C488.5 104.7 509.2 101.3 530 92.1M405.5 96.4C426.2 87.5 447 87.5 467.8 95.8C488.5 107 509.2 100.1 530 104.2M405.5 102.1C426.2 92.7 447 93 467.8 99.4C488.5 108.7 509.2 104 530 103.9M405.5 102.1C426.2 90.9 447 90.9 467.8 97.6C488.5 106.8 509.2 102.7 530 98.5M405.5 104.8C426.2 94.2 447 94.4 467.8 99.9C488.5 107.6 509.2 105.6 530 96.5M405.5 103.2C426.2 91.9 447 92.1 467.8 98.5C488.5 107.8 509.2 103.2 530 101.9M405.5 107.6C426.2 89.5 447 89 467.8 95.7C488.5 105.6 509.2 100.1 530 98.7M405.5 106C426.2 91.4 447 91.3 467.8 97.5C488.5 106.7 509.2 102.3 530 98.9M405.5 104.9C426.2 90.9 447 90.7 467.8 97.1C488.5 106 509.2 102.4 530 95.8M405.5 105.3C426.2 93.5 447 93.6 467.8 99.2C488.5 107.3 509.2 104.7 530 97M405.5 93.8C426.2 86.9 447 86.7 467.8 94.9C488.5 105 509.2 101 530 94.2M405.5 105.9C426.2 94.6 447 95.1 467.8 100.7C488.5 109.4 509.2 105 530 105.3M405.5 103C426.2 90.2 447 90.1 467.8 97C488.5 106.9 509.2 101.6 530 100.9M405.5 112.2C426.2 93.3 447 93.1 467.8 98.5C488.5 107.2 509.2 102.6 530 100.9M405.5 104.9C426.2 90.6 447 90.2 467.8 96.5C488.5 105 509.2 102.4 530 91.6M405.5 110.2C426.2 93.9 447 94.1 467.8 99.7C488.5 109 509.2 103.1 530 107.5M405.5 97.2C426.2 88.8 447 88.6 467.8 96C488.5 105.1 509.2 102.3 530 92M405.5 104.3C426.2 93.8 447 94.3 467.8 100.4C488.5 109.9 509.2 104.1 530 109.1M405.5 96.5C426.2 91.8 447 92 467.8 98.7C488.5 107 509.2 105.2 530 94.5M405.5 105.1C426.2 90.4 447 89.9 467.8 96.2C488.5 104.4 509.2 102.3 530 89.5M405.5 97.9C426.2 87.3 447 86.6 467.8 94.1C488.5 102.9 509.2 101.2 530 85M405.5 102.9C426.2 89.9 447 89.8 467.8 96.9C488.5 107 509.2 101.2 530 102.2M405.5 103.7C426.2 88.3 447 87.7 467.8 94.8C488.5 104.2 509.2 100.3 530 92.4M405.5 110.3C426.2 95.5 447 96 467.8 101.2C488.5 110.4 509.2 104.3 530 110.9M405.5 96.8C426.2 88.4 447 88.4 467.8 96.3C488.5 107 509.2 101 530 102.6M405.5 93.9C426.2 89.3 447 89.3 467.8 96.8C488.5 105.7 509.2 103.5 530 92.1M405.5 104.1C426.2 91.6 447 91.7 467.8 98.2C488.5 108 509.2 102.4 530 104M405.5 95.5C426.2 86.6 447 86.5 467.8 95C488.5 106.3 509.2 99.6 530 101.9M405.5 101.7C426.2 88 447 87.3 467.8 94.5C488.5 103.6 509.2 100.7 530 89M405.5 96.9C426.2 90.3 447 90.5 467.8 97.9C488.5 107.9 509.2 102.9 530 102.5M405.5 113.3C426.2 95.6 447 95.6 467.8 100.1C488.5 107.6 509.2 104.9 530 98.1M405.5 102.7C426.2 88.9 447 88.5 467.8 95.5C488.5 105 509.2 100.9 530 94.4M405.5 104.5C426.2 93.1 447 93.5 467.8 99.6C488.5 109 509.2 103.7 530 106.1M405.5 99.3C426.2 89.5 447 89.2 467.8 96.2C488.5 104.7 509.2 102.8 530 89.7M405.5 95.8C426.2 86.4 447 85.7 467.8 93.5C488.5 102.3 509.2 101 530 82.8M405.5 95.7C426.2 89.5 447 89.6 467.8 97C488.5 106.4 509.2 103 530 96.1M405.5 107.8C426.2 94.5 447 94.8 467.8 100.4C488.5 109.2 509.2 104.4 530 105.6M405.5 96.3C426.2 89.5 447 89.4 467.8 96.6C488.5 105.5 509.2 103.1 530 92.3M405.5 105.3C426.2 92.9 447 92.8 467.8 98.4C488.5 105.9 509.2 104.6 530 91.2"/><path fill="none" stroke="#fff" stroke-opacity="0.5" stroke-width="1.4" d="M405.5 79.2C424.4 85.7 443.2 95.3 462.1 97C481 98.8 499.8 100.1 518.7 101"/><path fill="none" stroke="#3f6470" stroke-opacity="0.7" stroke-width="0.8" stroke-dasharray="1.3 1.1" d="M405.5 79.2C424.4 85.7 443.2 95.3 462.1 97C481 98.8 499.8 100.1 518.7 101"/><path fill="none" stroke="#fff" stroke-opacity="0.5" stroke-width="1.4" d="M405.5 96.8C426.2 88.3 447 89.8 467.8 97.2C488.5 105.8 509.2 101.7 530 97"/><path fill="none" stroke="#d97700" stroke-opacity="0.7" stroke-width="0.8" stroke-dasharray="1.3 1.1" d="M405.5 96.8C426.2 88.3 447 89.8 467.8 97.2C488.5 105.8 509.2 101.7 530 97"/><path fill="#5d8489" fill-opacity="0.068" stroke="none" d="M572 57.2L578.7 62.3L585.5 66.9L592.2 71.1L598.9 74.8L605.7 78.1L612.4 81.6L619.1 84.3L625.9 85.7L632.6 85.7L639.3 85.7L646.1 85.7L652.8 85.5L659.5 84.6L666.3 83.1L673 81.3L673 131.7L666.3 126.2L659.5 121.1L652.8 116.5L646.1 112.2L639.3 108.1L632.6 104.5L625.9 101.6L619.1 99.1L612.4 96.8L605.7 95.2L598.9 94.2L592.2 93.4L585.5 92.8L578.7 92.4L572 92.3Z"/><path fill="#5d8489" fill-opacity="0.15" stroke="none" d="M572 62.5L578.7 66.8L585.5 70.8L592.2 74.5L598.9 77.7L605.7 80.7L612.4 83.8L619.1 86.5L625.9 88.1L632.6 88.5L639.3 89.1L646.1 89.7L652.8 90.2L659.5 90.1L666.3 89.6L673 88.9L673 124.1L666.3 119.8L659.5 115.7L652.8 111.8L646.1 108.2L639.3 104.7L632.6 101.7L625.9 99.2L619.1 96.8L612.4 94.6L605.7 92.6L598.9 91.3L592.2 90.1L585.5 89L578.7 87.9L572 87Z"/><path fill="none" stroke="#5d8489" stroke-opacity="0.224" stroke-width="0.7" d="M572 82.7C588.8 80.3 605.7 85 622.5 89.8C639.3 90.9 656.2 93.4 673 92.2M572 71.3C588.8 78.8 605.7 84.8 622.5 92.3C639.3 97.1 656.2 106.1 673 128.7M572 79.5C588.8 83.1 605.7 87.3 622.5 93.7C639.3 97.7 656.2 105.2 673 116M572 88.3C588.8 86.8 605.7 89.3 622.5 95.4C639.3 99.5 656.2 107.3 673 118.1M572 78.6C588.8 80.9 605.7 85.6 622.5 90.4C639.3 91.5 656.2 93.5 673 83.4M572 77.9C588.8 82.2 605.7 86.6 622.5 91.4C639.3 92.8 656.2 95 673 81M572 67.9C588.8 78.5 605.7 84.8 622.5 91.6C639.3 95.4 656.2 102 673 110.2M572 59.1C588.8 73.3 605.7 81.7 622.5 89.1C639.3 92.9 656.2 99.6 673 114.3M572 80.3C588.8 88.2 605.7 90.8 622.5 97.5C639.3 102.6 656.2 111.4 673 113.4M572 69.9C588.8 78.4 605.7 84.5 622.5 90.5C639.3 93 656.2 97.3 673 96.9M572 87.5C588.8 87.2 605.7 89.6 622.5 95.6C639.3 99.5 656.2 106.9 673 113.5M572 83.8C588.8 86.9 605.7 89.7 622.5 96.4C639.3 101.2 656.2 110.1 673 120.8M572 83.7C588.8 87.6 605.7 90.1 622.5 96.3C639.3 100.4 656.2 107.9 673 109.4M572 85.4C588.8 88 605.7 90.3 622.5 96.6C639.3 101 656.2 109.2 673 114.7M572 60.7C588.8 72.8 605.7 81.2 622.5 87.9C639.3 90.6 656.2 95.3 673 103.9M572 70.1C588.8 79.9 605.7 85.6 622.5 92.1C639.3 95.7 656.2 101.8 673 105.8M572 84.8C588.8 89.7 605.7 91.5 622.5 97.9C639.3 102.7 656.2 111.2 673 112.3M572 76.7C588.8 79.7 605.7 85 622.5 90.5C639.3 92.5 656.2 96.2 673 96.4M572 70C588.8 85.7 605.7 89.7 622.5 97.2C639.3 102.9 656.2 112.5 673 114.6M572 79.1C588.8 78.6 605.7 84 622.5 88.7C639.3 89.5 656.2 91.2 673 87.5M572 75C588.8 79.9 605.7 85.3 622.5 91.6C639.3 94.8 656.2 100.8 673 108.9M572 64.1C588.8 74 605.7 81.9 622.5 88.4C639.3 91.2 656.2 96.2 673 105.8M572 62.6C588.8 76.7 605.7 83.9 622.5 91.2C639.3 95.3 656.2 102.4 673 112.3M572 76.6C588.8 84.8 605.7 88.6 622.5 95.2C639.3 99.6 656.2 107.3 673 110.5M572 75.8C588.8 78.5 605.7 84.3 622.5 90.3C639.3 93.1 656.2 98.3 673 108.6M572 73.4C588.8 82 605.7 86.9 622.5 93.5C639.3 97.6 656.2 104.7 673 110M572 64.7C588.8 75.4 605.7 82.7 622.5 89C639.3 91.6 656.2 95.9 673 99.1M572 59.5C588.8 75.3 605.7 83.1 622.5 90.8C639.3 95.4 656.2 103.4 673 118.5M572 66.8C588.8 82.6 605.7 87.7 622.5 94.9C639.3 99.8 656.2 107.8 673 108.6M572 71.8C588.8 82.4 605.7 87.3 622.5 94.7C639.3 99.9 656.2 109 673 121.6M572 83.5C588.8 80.7 605.7 85.3 622.5 90.2C639.3 91.8 656.2 95.1 673 97.4M572 79C588.8 85.3 605.7 88.8 622.5 95.4C639.3 99.8 656.2 107.8 673 113.2M572 85.3C588.8 89.2 605.7 91.2 622.5 97.8C639.3 102.8 656.2 111.8 673 117.8M572 90C588.8 88.6 605.7 90.4 622.5 96C639.3 99.5 656.2 106 673 106.9M572 69.8C588.8 81.5 605.7 86.8 622.5 94C639.3 98.8 656.2 107 673 115.6M572 79C588.8 86.8 605.7 89.9 622.5 96.3C639.3 100.8 656.2 108.5 673 108.2M572 77.3C588.8 85.8 605.7 89.4 622.5 96.5C639.3 102 656.2 111.6 673 121.7M572 81.2C588.8 86.3 605.7 89.4 622.5 95.8C639.3 100.1 656.2 107.9 673 112.3M572 68.7C588.8 79.4 605.7 85.3 622.5 91.6C639.3 94.7 656.2 99.8 673 98.8M572 61.2C588.8 75.8 605.7 83.4 622.5 91.1C639.3 95.9 656.2 104.2 673 121.1M572 63.9C588.8 76.4 605.7 83.6 622.5 91.3C639.3 96.1 656.2 104.5 673 123.7M572 81.7C588.8 82.2 605.7 86.4 622.5 91.9C639.3 94.3 656.2 98.8 673 100.5M572 85.2C588.8 84.8 605.7 88.1 622.5 93.5C639.3 96.1 656.2 101.3 673 101.5M572 64.6C588.8 78.8 605.7 85.2 622.5 92.7C639.3 97.5 656.2 105.7 673 117M572 91.2C588.8 90 605.7 91.2 622.5 96.2C639.3 98.9 656.2 103.8 673 94M572 79.1C588.8 83.4 605.7 87.4 622.5 93.1C639.3 95.9 656.2 100.9 673 98.1M572 70C588.8 76.9 605.7 83.4 622.5 88.5C639.3 89.6 656.2 91.3 673 82.5M572 88C588.8 91.2 605.7 92.4 622.5 98.8C639.3 103.9 656.2 113 673 116M572 86C588.8 88.5 605.7 90.7 622.5 97.4C639.3 102.5 656.2 112 673 123M572 64.8C588.8 78.1 605.7 84.7 622.5 91.9C639.3 96.1 656.2 103.2 673 111.4M572 90.5C588.8 90.6 605.7 91.7 622.5 97.3C639.3 101.1 656.2 108 673 104.9M572 59.1C588.8 75.9 605.7 83.5 622.5 90.2C639.3 93.5 656.2 98.6 673 97.5M572 60.3C588.8 78.8 605.7 85.5 622.5 93C639.3 97.8 656.2 105.6 673 110.1M572 76.7C588.8 89.7 605.7 92.1 622.5 99.8C639.3 106.5 656.2 118 673 124.6M572 64.9C588.8 75.2 605.7 82.7 622.5 89.3C639.3 92.5 656.2 98 673 107.7"/><path fill="none" stroke="#5d8489" stroke-opacity="0.2" stroke-width="0.6" d="M572 94.4C588.8 95 605.7 94.4 622.5 104.3C639.3 111.8 656.2 122.7 673 144.1M572 94.8C588.8 95.1 605.7 94.6 622.5 103.8C639.3 110.5 656.2 121.6 673 138.1M572 93.6C588.8 94.5 605.7 94 622.5 104C639.3 112 656.2 122.9 673 147.5M572 93.4C588.8 94.3 605.7 94 622.5 103.6C639.3 111.5 656.2 122.4 673 146.1M572 93.4C588.8 94 605.7 93.9 622.5 102.3C639.3 109.1 656.2 120.3 673 137.5"/><path fill="#ff8c00" fill-opacity="0.113" stroke="none" d="M544 41.9L552.1 45.2L560.3 48.9L568.4 53.1L576.5 57.7L584.7 63.1L592.8 68.8L600.9 74L609.1 78.7L617.2 83.1L625.3 86.5L633.5 88.8L641.6 90.7L649.7 91.4L657.9 88.3L666 82L666 110L657.9 106.4L649.7 103.8L641.6 102.5L633.5 101.6L625.3 100.2L617.2 96.7L609.1 92.6L600.9 90L592.8 89.1L584.7 88.4L576.5 88L568.4 88L560.3 89.3L552.1 91.5L544 94.4Z"/><path fill="#ff8c00" fill-opacity="0.25" stroke="none" d="M544 49.8L552.1 52.1L560.3 55L568.4 58.3L576.5 62.2L584.7 66.9L592.8 71.9L600.9 76.4L609.1 80.7L617.2 85.1L625.3 88.5L633.5 90.7L641.6 92.5L649.7 93.2L657.9 91L666 86.2L666 105.8L657.9 103.7L649.7 101.9L641.6 100.7L633.5 99.7L625.3 98.1L617.2 94.7L609.1 90.5L600.9 87.6L592.8 86L584.7 84.6L576.5 83.4L568.4 82.8L560.3 83.2L552.1 84.6L544 86.5Z"/><path fill="none" stroke="#ff8c00" stroke-opacity="0.28" stroke-width="0.7" d="M544 70C564.3 69.2 584.7 77.4 605 84.9C625.3 97.6 645.7 99.7 666 99.5M544 82C564.3 66.2 584.7 71.7 605 80.2C625.3 88.2 645.7 101.7 666 83.5M544 81.9C564.3 73.7 584.7 78.5 605 84.8C625.3 94.4 645.7 101.7 666 91.2M544 57C564.3 62.9 584.7 74.1 605 83C625.3 95.4 645.7 100.2 666 95.6M544 51.2C564.3 57.8 584.7 70.5 605 80.8C625.3 92.5 645.7 100.4 666 91.7M544 59.1C564.3 67.1 584.7 78 605 85.9C625.3 100.9 645.7 98.6 666 106M544 70.7C564.3 65.7 584.7 73.5 605 81.9C625.3 91.3 645.7 101.6 666 87.6M544 77.1C564.3 70.9 584.7 77.1 605 84C625.3 94 645.7 101.4 666 91.4M544 60.7C564.3 64.2 584.7 74.9 605 83.7C625.3 97.5 645.7 98.9 666 101.1M544 63.9C564.3 64.8 584.7 73.7 605 81.9C625.3 90.5 645.7 102.9 666 83.8M544 79.9C564.3 77 584.7 81.9 605 87C625.3 97.3 645.7 102.1 666 94.1M544 52C564.3 64.4 584.7 76.3 605 84.5C625.3 96.9 645.7 100.9 666 96.1M544 54.2C564.3 61.8 584.7 73.6 605 82.7C625.3 94.7 645.7 100.6 666 94.1M544 86C564.3 84.9 584.7 88.1 605 91.3C625.3 104.1 645.7 100.7 666 105.5M544 74C564.3 70.5 584.7 77.6 605 84.7C625.3 96.2 645.7 100.5 666 96.1M544 63.1C564.3 61.6 584.7 72.7 605 82.7C625.3 98.1 645.7 96.9 666 106.1M544 51.4C564.3 58.3 584.7 71.5 605 81.8C625.3 95.8 645.7 98.6 666 99.5M544 68.8C564.3 75 584.7 82.8 605 88.5C625.3 102.4 645.7 99.9 666 105M544 75.7C564.3 67.7 584.7 74.5 605 82.4C625.3 92.2 645.7 101.2 666 89.6M544 83.8C564.3 73 584.7 77.5 605 84.1C625.3 93.4 645.7 101.7 666 90M544 81.5C564.3 71.4 584.7 77.2 605 84.5C625.3 96.5 645.7 99.4 666 98.7M544 59.2C564.3 64.6 584.7 75.6 605 84.2C625.3 98.3 645.7 98.9 666 102.1M544 62.9C564.3 60.4 584.7 71.5 605 81.8C625.3 96.4 645.7 97.3 666 103.2M544 53.9C564.3 63.9 584.7 75.8 605 84.4C625.3 98.2 645.7 99.5 666 100.6M544 77.6C564.3 67.1 584.7 73.3 605 81.4C625.3 89.8 645.7 102 666 85M544 58.4C564.3 59.8 584.7 70.8 605 80.6C625.3 91.3 645.7 100.8 666 89.2M544 68.1C564.3 63.9 584.7 73.3 605 82.5C625.3 95.6 645.7 98.6 666 99.5M544 55.7C564.3 65.1 584.7 76.1 605 84.2C625.3 96.3 645.7 101 666 95.2M544 84.8C564.3 73.3 584.7 77.7 605 84.3C625.3 93.9 645.7 101.3 666 91.5M544 54.2C564.3 57.1 584.7 69.2 605 79.7C625.3 90.5 645.7 100.7 666 88.5M544 63.6C564.3 63.3 584.7 73.3 605 82.3C625.3 94.2 645.7 100 666 94.7M544 90.1C564.3 74.5 584.7 78.2 605 84.7C625.3 95.5 645.7 100 666 96.3M544 92.7C564.3 77.8 584.7 80.1 605 85.5C625.3 94.8 645.7 101.6 666 91.9M544 93.2C564.3 78.6 584.7 80.8 605 86.1C625.3 95.7 645.7 101.4 666 93.7M544 43.2C564.3 45.2 584.7 63.6 605 75.9C625.3 86.2 645.7 99.7 666 83.5M544 89C564.3 79.9 584.7 82.5 605 87C625.3 96.1 645.7 102.5 666 91.7M544 86.9C564.3 77.1 584.7 81.3 605 87C625.3 99.4 645.7 99.5 666 102.1M544 47.4C564.3 53.4 584.7 67.3 605 78.7C625.3 89.7 645.7 100.6 666 87.6M544 64C564.3 64.7 584.7 74.6 605 83.3C625.3 96 645.7 99.5 666 97.9M544 52.8C564.3 56.8 584.7 69.3 605 79.9C625.3 91.3 645.7 100.3 666 90.3M544 78.2C564.3 71.3 584.7 78.1 605 85.4C625.3 99.2 645.7 98.3 666 104.6M544 53.4C564.3 63.2 584.7 75 605 83.7C625.3 96.3 645.7 100.4 666 96.3M544 71C564.3 68.8 584.7 77.2 605 85.1C625.3 99.1 645.7 98.4 666 104.2M544 66.6C564.3 75.7 584.7 82.9 605 87.8C625.3 97.6 645.7 103.6 666 91.3M544 83.4C564.3 80.5 584.7 84 605 88.1C625.3 97.4 645.7 103.1 666 92.2M544 52.1C564.3 60.7 584.7 72.9 605 82.3C625.3 94.2 645.7 100.7 666 93.1M544 65.1C564.3 70.8 584.7 79.9 605 86.9C625.3 101.4 645.7 99.1 666 105.5M544 69C564.3 61.9 584.7 70.5 605 79.9C625.3 89.1 645.7 101.3 666 85.6M544 53.4C564.3 59.7 584.7 72.4 605 82.4C625.3 96.9 645.7 98.3 666 101.4M544 50.8C564.3 49.9 584.7 63.7 605 76.4C625.3 87.4 645.7 99.6 666 86.9M544 52.7C564.3 58.3 584.7 71.3 605 81.7C625.3 95.7 645.7 98.5 666 99.6M544 56C564.3 66.6 584.7 78.1 605 86.2C625.3 101.6 645.7 98.5 666 107.1M544 72.5C564.3 72.7 584.7 80.3 605 87C625.3 101.1 645.7 98.9 666 105.6M544 48.4C564.3 56.9 584.7 71.2 605 82.1C625.3 98.1 645.7 97.1 666 105.5M544 57.2C564.3 61.7 584.7 73.8 605 83.5C625.3 99.4 645.7 97.1 666 107.3"/><path fill="none" stroke="#ff8c00" stroke-opacity="0.2" stroke-width="0.6" d="M544 29.7C564.3 37.5 584.7 57.7 605 73.8C625.3 91.4 645.7 91.9 666 74.5M544 31C564.3 38.9 584.7 58.6 605 74.2C625.3 90.4 645.7 93.7 666 76.3M544 41C564.3 47.7 584.7 63.3 605 76.2C625.3 86.4 645.7 100.8 666 81.9M544 33.6C564.3 41 584.7 59.6 605 74.6C625.3 89.7 645.7 94.9 666 76.9M544 36.2C564.3 43.2 584.7 60.8 605 75.1C625.3 88.8 645.7 96.6 666 78.1M544 100.2C564.3 90.7 584.7 90 605 92.7C625.3 103.8 645.7 102.9 666 111.9M544 102.7C564.3 94.3 584.7 91.8 605 94C625.3 103 645.7 106.2 666 113.6M544 100.2C564.3 93.6 584.7 91.7 605 94C625.3 102.9 645.7 106.6 666 113.9M544 122.4C564.3 100.1 584.7 93 605 94.3C625.3 103.5 645.7 103.5 666 111.5M544 119.6C564.3 100 584.7 93.3 605 94.6C625.3 103.2 645.7 104.9 666 112.3"/><path fill="none" stroke="#fff" stroke-opacity="0.5" stroke-width="1.4" d="M572 75C588.8 80.7 605.7 86.7 622.5 92.7C639.3 97.5 656.2 100.4 673 104"/><path fill="none" stroke="#3f6470" stroke-opacity="0.7" stroke-width="0.8" stroke-dasharray="1.3 1.1" d="M572 75C588.8 80.7 605.7 86.7 622.5 92.7C639.3 97.5 656.2 100.4 673 104"/><path fill="none" stroke="#fff" stroke-opacity="0.5" stroke-width="1.4" d="M544 68C564.3 67.5 584.7 73.4 605 84.9C625.3 99.2 645.7 96.8 666 97"/><path fill="none" stroke="#d97700" stroke-opacity="0.7" stroke-width="0.8" stroke-dasharray="1.3 1.1" d="M544 68C564.3 67.5 584.7 73.4 605 84.9C625.3 99.2 645.7 96.8 666 97"/><line x1="390.7" y1="96.6" x2="683.9" y2="96.6" stroke="#8a8a8a" stroke-width="0.6" stroke-dasharray="0.9 1.1"/><line x1="390.8" y1="23.5" x2="390.8" y2="154.2" stroke="#9a9a9a" stroke-width="0.9"/><line x1="390.7" y1="154.2" x2="536.5" y2="154.2" stroke="#9a9a9a" stroke-width="0.9"/><line x1="537.7" y1="154.2" x2="683.9" y2="154.2" stroke="#9a9a9a" stroke-width="0.9"/><rect x="391.1" y="13" width="144.9" height="10.4" fill="#fff" stroke="#333" stroke-width="0.9"/><text x="463.6" y="21.1" font-size="8.7" text-anchor="middle" fill="#1a1a1a">Amyloid−</text><rect x="538.2" y="13" width="145.3" height="10.4" fill="#fff" stroke="#333" stroke-width="0.9"/><text x="610.8" y="21.1" font-size="8.7" text-anchor="middle" fill="#1a1a1a">Amyloid+</text><text x="390.3" y="9.1" font-size="11" fill="#000">M10</text><text x="389.4" y="74.6" font-size="6.6" text-anchor="end" fill="#555">1</text><line x1="389.6" y1="72.2" x2="390.8" y2="72.2" stroke="#9a9a9a" stroke-width="0.6"/><text x="389.4" y="99" font-size="6.6" text-anchor="end" fill="#555">0</text><line x1="389.6" y1="96.6" x2="390.8" y2="96.6" stroke="#9a9a9a" stroke-width="0.6"/><text x="389.4" y="123.4" font-size="6.6" text-anchor="end" fill="#555">−1</text><line x1="389.6" y1="121" x2="390.8" y2="121" stroke="#9a9a9a" stroke-width="0.6"/><text x="402.9" y="161" font-size="6.6" text-anchor="middle" fill="#555">45</text><text x="416.7" y="161" font-size="6.6" text-anchor="middle" fill="#555">50</text><text x="430.5" y="161" font-size="6.6" text-anchor="middle" fill="#555">55</text><text x="444.3" y="161" font-size="6.6" text-anchor="middle" fill="#555">60</text><text x="458.1" y="161" font-size="6.6" text-anchor="middle" fill="#555">65</text><text x="471.9" y="161" font-size="6.6" text-anchor="middle" fill="#555">70</text><text x="485.7" y="161" font-size="6.6" text-anchor="middle" fill="#555">75</text><text x="499.5" y="161" font-size="6.6" text-anchor="middle" fill="#555">80</text><text x="513.3" y="161" font-size="6.6" text-anchor="middle" fill="#555">85</text><text x="527.1" y="161" font-size="6.6" text-anchor="middle" fill="#555">90</text><text x="550" y="161" font-size="6.6" text-anchor="middle" fill="#555">45</text><text x="563.8" y="161" font-size="6.6" text-anchor="middle" fill="#555">50</text><text x="577.6" y="161" font-size="6.6" text-anchor="middle" fill="#555">55</text><text x="591.4" y="161" font-size="6.6" text-anchor="middle" fill="#555">60</text><text x="605.2" y="161" font-size="6.6" text-anchor="middle" fill="#555">65</text><text x="619" y="161" font-size="6.6" text-anchor="middle" fill="#555">70</text><text x="632.8" y="161" font-size="6.6" text-anchor="middle" fill="#555">75</text><text x="646.6" y="161" font-size="6.6" text-anchor="middle" fill="#555">80</text><text x="660.4" y="161" font-size="6.6" text-anchor="middle" fill="#555">85</text><text x="674.2" y="161" font-size="6.6" text-anchor="middle" fill="#555">90</text><text x="537.4" y="171.9" font-size="11" text-anchor="middle" fill="#000">Age</text><text x="0" y="0" font-size="11" text-anchor="middle" fill="#000" transform="translate(377.6 88.8) rotate(-90)">Protein Level (Z−Score)</text></g>
<g><path fill="#5d8489" fill-opacity="0.365" stroke="none" d="M37 256L44.6 260.3L52.2 263.5L59.8 265L67.4 264.7L75 263.8L82.6 262.5L90.2 261.1L97.8 259.8L105.4 258.3L113 256.5L120.6 254.4L128.2 251.9L135.8 248.7L143.4 245.1L151 241L151 282L143.4 277L135.8 273.1L128.2 270.7L120.6 270L113 270.9L105.4 272.7L97.8 274.6L90.2 276.1L82.6 277L75 277.8L67.4 278.8L59.8 280.3L52.2 285L44.6 292.7L37 302Z"/><path fill="#5d8489" fill-opacity="0.81" stroke="none" d="M37 261.5L44.6 264.2L52.2 266.1L59.8 266.8L67.4 266.4L75 265.5L82.6 264.2L90.2 262.9L97.8 261.6L105.4 260L113 258.2L120.6 256.3L128.2 254.1L135.8 251.7L143.4 248.9L151 245.9L151 277.1L143.4 273.2L135.8 270.2L128.2 268.4L120.6 268.2L113 269.2L105.4 270.9L97.8 272.8L90.2 274.3L82.6 275.3L75 276.1L67.4 277.1L59.8 278.5L52.2 282.4L44.6 288.8L37 296.5Z"/><path fill="none" stroke="#5d8489" stroke-opacity="0.22" stroke-width="0.8" d="M37 277.4C56 274.8 75 273.4 94 272C113 267.5 132 263.6 151 274.8M37 264.7C56 275.1 75 269.5 94 269.7C113 266.9 132 261.5 151 278.8M37 255.3C56 273.8 75 265.6 94 265.1C113 262.4 132 257.2 151 260.8M37 275.3C56 273 75 271.6 94 268.8C113 264 132 260.3 151 260.6M37 298.5C56 275.8 75 278.8 94 275.9C113 268.9 132 269.1 151 279.3M37 268.8C56 271.1 75 268.3 94 266C113 263.3 132 257.1 151 268.1M37 274.2C56 272.8 75 271.1 94 269.1C113 265.3 132 260.4 151 270.8M37 292C56 271.6 75 276.1 94 271.9C113 266.5 132 262.6 151 271.5M37 280.9C56 268.3 75 270.4 94 265C113 260.5 132 255.6 151 252.8M37 283.3C56 267.7 75 270.8 94 265C113 260.5 132 255.4 151 253.3M37 284.1C56 269.5 75 272.2 94 266.4C113 260.5 132 257.3 151 245.8M37 278.5C56 273.9 75 273.2 94 271.7C113 267.9 132 263 151 280.5M37 276.5C56 272.2 75 271.4 94 269.7C113 266.8 132 260.6 151 281.8M37 294.6C56 268.3 75 274.9 94 267.6C113 260.7 132 258 151 244.3M37 263.9C56 275 75 269.1 94 269.3C113 266.6 132 261.2 151 277.9M37 265.5C56 268.9 75 265.8 94 261.5C113 257.9 132 252.7 151 244.1M37 259.7C56 271.6 75 265.6 94 263.9C113 261.5 132 255.5 151 260.9M37 269.9C56 272.9 75 269.7 94 266.6C113 261.3 132 258.5 151 247.3M37 263C56 275.5 75 269.1 94 269.5C113 266.6 132 261.5 151 276.2M37 290.5C56 267 75 272.7 94 265.9C113 260.9 132 256 151 254.4M37 292C56 268.4 75 274 94 267.1C113 260.7 132 257.6 151 245.9M37 300.3C56 269.4 75 277.4 94 271.2C113 265 132 261.4 151 264.4M37 270.5C56 272.7 75 269.8 94 266.6C113 261.3 132 258.4 151 247.6M37 294.3C56 267.6 75 274.3 94 267.1C113 260.9 132 257.3 151 249M37 271.9C56 275.1 75 271.8 94 270.6C113 265.9 132 262.5 151 266.9M37 301.2C56 270.1 75 278.1 94 272.7C113 267 132 262.8 151 273.9M37 283.8C56 274.1 75 275 94 272.6C113 267.3 132 263.9 151 272.4M37 256.8C56 271.1 75 264.3 94 262.9C113 261.4 132 254.4 151 264.7M37 293.1C56 271.1 75 276.2 94 270.3C113 263.1 132 261.3 151 250.1M37 271C56 270.6 75 268.7 94 266C113 263.2 132 257 151 268M37 298.6C56 274.8 75 279.3 94 275.9C113 269.6 132 267.9 151 277.4M37 288C56 268.3 75 272.7 94 266.3C113 260.5 132 256.8 151 248M37 289.2C56 270.6 75 274.5 94 270.8C113 266.7 132 261.2 151 278.8M37 279.8C56 270.4 75 271.4 94 267.7C113 263.8 132 258.4 151 267M37 282.3C56 268.6 75 271 94 265.7C113 261.2 132 256.3 151 255.7M37 272.7C56 272.4 75 270.4 94 268.8C113 266.1 132 259.9 151 278.7M37 293C56 275.1 75 278.7 94 275.9C113 269.5 132 267.2 151 275.7M37 302.4C56 269.7 75 278.3 94 271.9C113 265 132 262.1 151 261.6M37 290.2C56 272.7 75 276.2 94 273.3C113 268.5 132 264 151 281.5M37 256.3C56 272.2 75 264.9 94 262.5C113 258.6 132 254.6 151 241.8M37 292.8C56 272.2 75 276.8 94 273.2C113 268 132 263.9 151 278M37 279.8C56 273 75 273.1 94 270C113 264.7 132 261.4 151 262.1M37 255.1C56 272.8 75 264.9 94 264.2C113 262 132 256.1 151 262.5M37 296.4C56 266.5 75 274.3 94 266.4C113 260.3 132 256.4 151 247.9M37 268.1C56 270.2 75 267.4 94 264.6C113 261.9 132 255.6 151 263.2M37 262C56 271.4 75 266.2 94 265.5C113 264.6 132 256.6 151 280.5M37 301.5C56 267 75 276.3 94 267.6C113 260 132 257.7 151 240.3M37 287.2C56 271.5 75 274.5 94 271.2C113 266.9 132 261.8 151 277.7M37 261C56 273.8 75 267.4 94 267.3C113 265.1 132 259 151 274.7M37 258.2C56 270.4 75 264.3 94 261.2C113 258 132 252.9 151 244.1M37 280.7C56 270.7 75 271.9 94 268.6C113 264.9 132 259.3 151 272.1M37 255.2C56 275.1 75 266.4 94 267.6C113 266.1 132 259.6 151 280M37 299.7C56 271.4 75 278.5 94 273.6C113 267.5 132 264 151 273M37 267C56 274.9 75 270.1 94 270C113 267.1 132 261.8 151 279.1M37 278.4C56 273 75 272.6 94 270.2C113 265.7 132 261.4 151 270M37 288.3C56 271 75 274.5 94 270.2C113 265.1 132 260.9 151 266.8M37 291.8C56 270 75 275 94 269.4C113 263.4 132 260 151 257.1M37 298.6C56 276.1 75 278.6 94 275.9C113 269 132 269.7 151 276.3M37 263.1C56 269.6 75 265.4 94 261.4C113 257.7 132 252.9 151 242.1M37 300.2C56 268.8 75 277 94 269.8C113 262.7 132 260.1 151 251.8M37 256C56 270.4 75 263.6 94 261.6C113 259.7 132 253.1 151 257M37 272.4C56 274.2 75 271.4 94 270.2C113 266.5 132 261.8 151 274.6M37 261.6C56 273.3 75 267.3 94 266.6C113 264.1 132 258.3 151 269.5M37 263.4C56 272.6 75 267.4 94 265.4C113 261.6 132 257.2 151 255.1M37 297.9C56 271.4 75 277.9 94 273.2C113 267.3 132 263.7 151 272.8M37 257.8C56 275.7 75 267.6 94 268.9C113 267.1 132 261 151 282.6M37 284.3C56 266.5 75 270.4 94 264.1C113 260.1 132 254.2 151 255.2M37 281.7C56 274.5 75 274.6 94 272.1C113 266.3 132 263.7 151 265.4M37 265.3C56 269.3 75 266 94 262C113 258.4 132 253.2 151 246M37 294.9C56 270.3 75 276.2 94 270.1C113 263.2 132 260.8 151 252.7M37 262.2C56 272.2 75 266.8 94 265.4C113 262.9 132 256.9 151 265.9M37 261.1C56 273.2 75 267.1 94 265.9C113 263 132 257.8 151 263M37 260.2C56 273 75 266.6 94 265.5C113 262.7 132 257.3 151 262.8M37 264.6C56 277.3 75 270.8 94 272C113 268.8 132 264.2 151 282.2M37 271.5C56 272.1 75 269.8 94 267.5C113 263.9 132 258.8 151 266.6M37 255.9C56 270.3 75 263.5 94 262.8C113 262.7 132 253.9 151 277.1M37 274.8C56 271.5 75 270.5 94 268.5C113 265.8 132 259.3 151 278.9M37 298.8C56 272.4 75 278.8 94 273.4C113 265.7 132 264.4 151 257.7M37 295.7C56 270.3 75 276.5 94 270.1C113 262.7 132 260.8 151 248.6M37 259.9C56 269.3 75 264.2 94 262.1C113 261.2 132 253.1 151 268.2M37 265.4C56 272.3 75 267.9 94 264.9C113 260.3 132 256.8 151 246M37 261.2C56 273.7 75 267.4 94 267.5C113 265.7 132 259.1 151 279.1M37 270.8C56 266.4 75 265.9 94 260.6C113 257.7 132 251.1 151 249.2M37 259.5C56 273.7 75 266.9 94 267C113 265.2 132 258.6 151 276.9M37 300.6C56 270.8 75 278.4 94 273.2C113 267.1 132 263.5 151 272.2M37 279.5C56 268.9 75 270.3 94 264.9C113 259.8 132 255.7 151 247.1M37 256.3C56 272.2 75 264.9 94 264.2C113 262.7 132 255.8 151 269.2M37 268.1C56 271.9 75 268.5 94 264.8C113 259.5 132 256.6 151 240.7M37 261.1C56 272.2 75 266.4 94 264.4C113 261 132 256.2 151 254.2M37 273.4C56 271.8 75 270.2 94 267C113 262.6 132 258.4 151 257.3"/><path fill="none" stroke="#5d8489" stroke-opacity="0.14" stroke-width="0.6" d="M37 252.8C56 268 75 262.1 94 258.1C113 254.3 132 249.6 151 239.5M37 248.1C56 265.2 75 260.4 94 256C113 252.2 132 248.8 151 239.3M37 252.7C56 267.5 75 261.7 94 257C113 252.6 132 247.3 151 238.1M37 253.3C56 267.4 75 261.6 94 256.3C113 251.2 132 245.1 151 236.6M37 255.2C56 269.2 75 262.8 94 258.8C113 254.8 132 249.1 151 239.1M37 251.8C56 267.4 75 261.7 94 257.6C113 253.8 132 249.4 151 239.5"/><path fill="#ff8c00" fill-opacity="0.405" stroke="none" d="M37 262L45.3 267L53.7 270.8L62 272L70.3 271.7L78.7 271.1L87 270.4L95.3 269.5L103.7 268.4L112 266.9L120.3 265.1L128.7 262.9L137 260L145.3 256.2L153.7 250.6L162 242L162 289L153.7 284.9L145.3 282L137 279.4L128.7 277.6L120.3 277L112 278L103.7 279.9L95.3 282.1L87 283.8L78.7 285.3L70.3 286.9L62 288.7L53.7 291.1L45.3 294.1L37 297.4Z"/><path fill="#ff8c00" fill-opacity="0.9" stroke="none" d="M37 266.2L45.3 270.3L53.7 273.2L62 274L70.3 273.5L78.7 272.8L87 272L95.3 271L103.7 269.8L112 268.2L120.3 266.5L128.7 264.7L137 262.3L145.3 259.3L153.7 254.8L162 247.6L162 283.4L153.7 280.8L145.3 278.9L137 277.1L128.7 275.8L120.3 275.6L112 276.7L103.7 278.6L95.3 280.5L87 282.2L78.7 283.6L70.3 285.1L62 286.7L53.7 288.7L45.3 290.8L37 293.2Z"/><path fill="none" stroke="#ff8c00" stroke-opacity="0.22" stroke-width="0.8" d="M37 292.2C57.8 284.7 78.7 281.9 99.5 276.7C120.3 268.4 141.2 274.5 162 258.4M37 278.6C57.8 282.2 78.7 277.2 99.5 275C120.3 270.4 141.2 270.3 162 281.6M37 291.8C57.8 287.4 78.7 284.6 99.5 280.4C120.3 273 141.2 278 162 287.4M37 267.5C57.8 281.7 78.7 274.5 99.5 273.9C120.3 270.1 141.2 269.7 162 279.6M37 269.7C57.8 276.7 78.7 269.9 99.5 268.6C120.3 264.8 141.2 262.5 162 244.9M37 295.8C57.8 288.6 78.7 286.3 99.5 281.4C120.3 273 141.2 279.7 162 284.1M37 277.4C57.8 285.4 78.7 280 99.5 278.1C120.3 272.5 141.2 275.2 162 288.8M37 296.5C57.8 286.7 78.7 284.8 99.5 279.5C120.3 271.1 141.2 277.2 162 274.7M37 287.1C57.8 282.5 78.7 278.8 99.5 274C120.3 266.2 141.2 271.4 162 247.2M37 263.7C57.8 285.6 78.7 277.4 99.5 277.5C120.3 272.4 141.2 275.7 162 286.6M37 283.6C57.8 278.3 78.7 274.3 99.5 270.3C120.3 264.9 141.2 264.9 162 248.7M37 275.7C57.8 277.5 78.7 272.1 99.5 269.3C120.3 264.9 141.2 263.8 162 250.6M37 285.1C57.8 283.9 78.7 280 99.5 276.7C120.3 270.8 141.2 272.9 162 279.8M37 272.7C57.8 282.4 78.7 275.9 99.5 273.7C120.3 267.3 141.2 271.3 162 255.7M37 283.5C57.8 286.4 78.7 281.7 99.5 277.9C120.3 269.4 141.2 277.2 162 261.1M37 275.7C57.8 281.3 78.7 275.6 99.5 272.9C120.3 266.9 141.2 269.6 162 255.9M37 292.3C57.8 287.2 78.7 284.4 99.5 280.1C120.3 272.5 141.2 277.7 162 283.9M37 268.5C57.8 283.4 78.7 276.1 99.5 274.7C120.3 268.7 141.2 272.7 162 263.7M37 284.1C57.8 282.6 78.7 278.5 99.5 275.1C120.3 269.3 141.2 271 162 271.5M37 297.8C57.8 285.1 78.7 283.3 99.5 277C120.3 267.4 141.2 275.3 162 250M37 286.1C57.8 283.4 78.7 279.8 99.5 276.4C120.3 270.7 141.2 272 162 280.7M37 275.5C57.8 280 78.7 274.3 99.5 271.6C120.3 266.2 141.2 267.6 162 254.3M37 281.6C57.8 282.7 78.7 278 99.5 274.3C120.3 267.3 141.2 271.6 162 254.8M37 290.9C57.8 285.7 78.7 282.8 99.5 278.7C120.3 271.8 141.2 275.6 162 282.5M37 275.4C57.8 282.4 78.7 276.7 99.5 274.7C120.3 269.5 141.2 270.9 162 273.3M37 282.6C57.8 284.6 78.7 280.2 99.5 277.2C120.3 271 141.2 274.1 162 279.5M37 289.2C57.8 283.3 78.7 280.1 99.5 275.6C120.3 268.7 141.2 272.2 162 264.8M37 286.9C57.8 283.4 78.7 280 99.5 276.5C120.3 270.9 141.2 272.1 162 281.7M37 266.9C57.8 279.8 78.7 272.4 99.5 270.7C120.3 265.3 141.2 267.6 162 246.6M37 291.7C57.8 284.5 78.7 281.4 99.5 275.8C120.3 266.6 141.2 274.4 162 244.8M37 271.1C57.8 283.1 78.7 276.6 99.5 275.8C120.3 271.9 141.2 271.7 162 289.9M37 264.3C57.8 283.4 78.7 275.4 99.5 275.2C120.3 270.7 141.2 272.4 162 279.3M37 276.7C57.8 279 78.7 273.6 99.5 270.5C120.3 265 141.2 266.2 162 247.4M37 266.2C57.8 281.2 78.7 273.5 99.5 272.2C120.3 266.6 141.2 269.6 162 253.6M37 272.3C57.8 283 78.7 276.6 99.5 275C120.3 269.8 141.2 271.9 162 273.7M37 282.5C57.8 279.7 78.7 275.3 99.5 271.2C120.3 264.6 141.2 267.3 162 242.5M37 268.6C57.8 280.4 78.7 273.4 99.5 271.8C120.3 266.9 141.2 268.3 162 258M37 284.1C57.8 281 78.7 277 99.5 273.1C120.3 267 141.2 269 162 257.8M37 284.4C57.8 283.2 78.7 279.1 99.5 275.3C120.3 268.5 141.2 272.2 162 263.4M37 276.4C57.8 281.4 78.7 275.8 99.5 273.2C120.3 267.5 141.2 269.7 162 259.9M37 283.4C57.8 282.7 78.7 278.4 99.5 274.9C120.3 268.7 141.2 271.4 162 266.1M37 287.4C57.8 286.2 78.7 282.5 99.5 278.9C120.3 271.7 141.2 276.4 162 280.8M37 273.9C57.8 281.8 78.7 276 99.5 274.7C120.3 271 141.2 269.7 162 286.8M37 290.9C57.8 283.8 78.7 280.8 99.5 276C120.3 268.4 141.2 273 162 261.7M37 292.3C57.8 284.3 78.7 281.7 99.5 277.1C120.3 270 141.2 273.5 162 273.1M37 293.6C57.8 283.3 78.7 280.8 99.5 275C120.3 266.4 141.2 272.6 162 246.7M37 289.6C57.8 281.5 78.7 278.3 99.5 273.2C120.3 265.5 141.2 269.8 162 245.1M37 297.8C57.8 280.2 78.7 278.9 99.5 272.8C120.3 266 141.2 267.5 162 252.7M37 271.9C57.8 280.5 78.7 274.1 99.5 272.1C120.3 266.9 141.2 268.4 162 257.9M37 277.2C57.8 284.4 78.7 278.9 99.5 276.9C120.3 271.3 141.2 273.8 162 281.8M37 283C57.8 283.3 78.7 278.6 99.5 274.4C120.3 266.4 141.2 272.7 162 246.4M37 296.3C57.8 282.8 78.7 281 99.5 275.3C120.3 267.6 141.2 271.5 162 258M37 273.6C57.8 282.4 78.7 276.3 99.5 274.5C120.3 269.4 141.2 270.9 162 272.3M37 264.6C57.8 280.3 78.7 272.3 99.5 270.9C120.3 265.2 141.2 268.4 162 244.5M37 266C57.8 279.1 78.7 271.6 99.5 270.4C120.3 266.1 141.2 266.3 162 255.5M37 272.8C57.8 283.5 78.7 277 99.5 274.9C120.3 268.6 141.2 272.8 162 263.3M37 273.6C57.8 283 78.7 276.7 99.5 274.6C120.3 268.7 141.2 272 162 264.8M37 262.8C57.8 284.3 78.7 276.1 99.5 276.5C120.3 272.3 141.2 273.7 162 289.8M37 295.3C57.8 282.5 78.7 280.3 99.5 274.2C120.3 265.4 141.2 271.4 162 241.4M37 264.9C57.8 283.9 78.7 276.1 99.5 276C120.3 271.7 141.2 273.1 162 285.7M37 292.5C57.8 284.2 78.7 281.7 99.5 277.1C120.3 270.3 141.2 273.3 162 275M37 274.6C57.8 285 78.7 278.7 99.5 276.1C120.3 268.4 141.2 275.3 162 257.3M37 289C57.8 284.1 78.7 280.6 99.5 275.4C120.3 266.5 141.2 273.9 162 245.1M37 278.8C57.8 284.9 78.7 279.4 99.5 276.3C120.3 268.6 141.2 275 162 258.9M37 271.5C57.8 282.2 78.7 275.7 99.5 274.4C120.3 269.8 141.2 270.6 162 275.9M37 278.9C57.8 283.1 78.7 277.7 99.5 274.3C120.3 266.8 141.2 272.4 162 250.3M37 293C57.8 286.4 78.7 283.7 99.5 278.7C120.3 270.3 141.2 276.8 162 269.2M37 289.8C57.8 285.8 78.7 282.7 99.5 278.9C120.3 272.2 141.2 275.6 162 285.6M37 298C57.8 279.2 78.7 277.9 99.5 271.4C120.3 264.2 141.2 266.2 162 241.8M37 271C57.8 285 78.7 277.9 99.5 275.7C120.3 268 141.2 275.4 162 253.4M37 283.5C57.8 284.2 78.7 279.8 99.5 276.1C120.3 268.7 141.2 273.8 162 262.4M37 296.3C57.8 280.7 78.7 279 99.5 273.1C120.3 265.8 141.2 268.5 162 249.3M37 283.7C57.8 281.2 78.7 277.1 99.5 273.4C120.3 267.5 141.2 269.2 162 261.1M37 279.9C57.8 284.8 78.7 279.7 99.5 277C120.3 270.6 141.2 274.4 162 275.1M37 295.9C57.8 285.7 78.7 283.8 99.5 278.8C120.3 271.5 141.2 275.4 162 281.1M37 293.8C57.8 284.6 78.7 282.3 99.5 277.5C120.3 270.5 141.2 273.9 162 275.8M37 296.4C57.8 282.7 78.7 280.8 99.5 274.9C120.3 266.9 141.2 271.4 162 253.2M37 286.9C57.8 287.3 78.7 283.5 99.5 280C120.3 272.7 141.2 278.1 162 285.4M37 297.5C57.8 284.8 78.7 282.9 99.5 276.4C120.3 266.6 141.2 274.9 162 244M37 268.5C57.8 282.9 78.7 275.7 99.5 274.5C120.3 269.2 141.2 271.8 162 269.2M37 264.3C57.8 283.4 78.7 275.1 99.5 273.9C120.3 267.1 141.2 273.1 162 250.9M37 276.1C57.8 285.4 78.7 279.6 99.5 277.5C120.3 271.2 141.2 275.4 162 278.4M37 293.6C57.8 284.4 78.7 282.1 99.5 277.5C120.3 270.7 141.2 273.5 162 278.1M37 274.5C57.8 281.9 78.7 275.8 99.5 273.1C120.3 266.6 141.2 270.5 162 251.5M37 274.4C57.8 280 78.7 274.1 99.5 271.8C120.3 266.8 141.2 267.4 162 258.7M37 278.7C57.8 280.4 78.7 275.2 99.5 271.8C120.3 265.4 141.2 268.3 162 246.5M37 264.8C57.8 280.3 78.7 272.5 99.5 271.5C120.3 266.8 141.2 268.1 162 257.1M37 267C57.8 281.7 78.7 274.3 99.5 273.2C120.3 268.2 141.2 270.1 162 264.6M37 266.9C57.8 283.1 78.7 275.6 99.5 274.9C120.3 270.1 141.2 272.1 162 275.4M37 286C57.8 283.8 78.7 279.9 99.5 275.9C120.3 268.8 141.2 273.1 162 264"/><path fill="none" stroke="#ff8c00" stroke-opacity="0.14" stroke-width="0.6" d="M37 258.6C57.8 276.2 78.7 267.4 99.5 266.2C120.3 261.9 141.2 258.2 162 240.1M37 259.3C57.8 276.2 78.7 267.1 99.5 265.4C120.3 261.4 141.2 253.6 162 238.7M37 260C57.8 277.2 78.7 268.6 99.5 267.6C120.3 263 141.2 262.1 162 241.1M37 259.2C57.8 276.2 78.7 267.2 99.5 265.5C120.3 261.5 141.2 254.1 162 238.9M37 255.2C57.8 274.6 78.7 265.4 99.5 264.6C120.3 260.5 141.2 256.3 162 239.7M37 259.1C57.8 276.3 78.7 267.3 99.5 265.9C120.3 261.7 141.2 256 162 239.4M37 306.6C57.8 289.4 78.7 287.9 99.5 283.4C120.3 278.5 141.2 280.3 162 289.7M37 304.8C57.8 290 78.7 287.7 99.5 284C120.3 280.9 141.2 283.7 162 291.1M37 301.7C57.8 288.5 78.7 286.9 99.5 282.2C120.3 275.9 141.2 279.5 162 289.4M37 304.1C57.8 289 78.7 287.4 99.5 282.8C120.3 277.3 141.2 280 162 289.6M37 301.5C57.8 289.2 78.7 287 99.5 283C120.3 278.5 141.2 282.4 162 290.6M37 308.1C57.8 289.4 78.7 288.2 99.5 283.4C120.3 278.4 141.2 279.6 162 289.4"/><path fill="none" stroke="#fff" stroke-opacity="0.75" stroke-width="1.8" d="M37 279C56 277.1 75 274 94 270.4C113 265.2 132 261.7 151 261"/><path fill="none" stroke="#3f6470" stroke-opacity="0.6" stroke-width="0.9" stroke-dasharray="1.3 1.1" d="M37 279C56 277.1 75 274 94 270.4C113 265.2 132 261.7 151 261"/><path fill="none" stroke="#fff" stroke-opacity="0.75" stroke-width="1.8" d="M37 281C57.8 279.3 78.7 276.6 99.5 272.1C120.3 265.8 141.2 264.6 162 264"/><path fill="none" stroke="#d97700" stroke-opacity="0.6" stroke-width="0.9" stroke-dasharray="1.3 1.1" d="M37 281C57.8 279.3 78.7 276.6 99.5 272.1C120.3 265.8 141.2 264.6 162 264"/><defs><linearGradient id="g2" gradientUnits="userSpaceOnUse" x1="204" y1="0" x2="305" y2="0"><stop offset="0.0" stop-color="#5d8489" stop-opacity="0.3"/><stop offset="0.554" stop-color="#5d8489" stop-opacity="0.32"/><stop offset="0.851" stop-color="#5d8489" stop-opacity="0.55"/><stop offset="0.95" stop-color="#5d8489" stop-opacity="0.9"/><stop offset="1.0" stop-color="#5d8489" stop-opacity="0.92"/></linearGradient></defs><path fill="url(#g2)" fill-opacity="0.45" stroke="none" d="M204 260.5L210.7 260.4L217.5 260.3L224.2 260L230.9 259.6L237.7 259.2L244.4 258.4L251.1 256.6L257.9 254L264.6 251L271.3 247.8L278.1 243.7L284.8 239.1L291.5 234.4L298.3 230.4L305 228L305 287L298.3 284.4L291.5 282.5L284.8 281.1L278.1 280.3L271.3 280L264.6 280.3L257.9 281.4L251.1 283.2L244.4 285.4L237.7 288L230.9 291.8L224.2 297.2L217.5 303.7L210.7 311.2L204 319.5Z"/><path fill="url(#g2)" stroke="none" d="M204 267.6L210.7 266.5L217.5 265.5L224.2 264.5L230.9 263.5L237.7 262.6L244.4 261.6L251.1 259.8L257.9 257.3L264.6 254.5L271.3 251.7L278.1 248.1L284.8 244.2L291.5 240.1L298.3 236.9L305 235.1L305 279.9L298.3 277.9L291.5 276.7L284.8 276.1L278.1 275.9L271.3 276.1L264.6 276.8L257.9 278.2L251.1 280L244.4 282.2L237.7 284.5L230.9 288L224.2 292.7L217.5 298.5L210.7 305.1L204 312.4Z"/><path fill="none" stroke="#5d8489" stroke-opacity="0.18" stroke-width="0.8" d="M204 263.8C220.8 262.3 237.7 263.5 254.5 259.8C271.3 257 288.2 249 305 259.9M204 262.2C220.8 268.3 237.7 267.9 254.5 265.7C271.3 263.5 288.2 258.6 305 266.2M204 293.1C220.8 276.2 237.7 271.6 254.5 264.8C271.3 259.1 288.2 244 305 234.1M204 281.5C220.8 275.6 237.7 272.1 254.5 268.9C271.3 265.6 288.2 260.9 305 267M204 263.9C220.8 261.9 237.7 263 254.5 257.6C271.3 253.7 288.2 239.3 305 238M204 269.4C220.8 263.9 237.7 264.1 254.5 258.5C271.3 254.3 288.2 240.1 305 239M204 286.2C220.8 281.8 237.7 276.4 254.5 274.3C271.3 271.4 288.2 270.6 305 277.5M204 302.9C220.8 290 237.7 281.3 254.5 278.7C271.3 274.9 288.2 274.9 305 279.2M204 261.6C220.8 266.1 237.7 266.3 254.5 263C271.3 260.3 288.2 251.7 305 255M204 296.4C220.8 274.3 237.7 270 254.5 262.4C271.3 256.1 288.2 239.5 305 230.8M204 268.5C220.8 278.3 237.7 274.9 254.5 274.3C271.3 272.8 288.2 273 305 279.3M204 299.8C220.8 283.5 237.7 276.7 254.5 272.9C271.3 268.6 288.2 264.9 305 270M204 295.7C220.8 279.3 237.7 273.7 254.5 268.1C271.3 262.8 288.2 252 305 247.1M204 275.3C220.8 268.7 237.7 267.2 254.5 260.8C271.3 255.8 288.2 238.8 305 227.8M204 263.7C220.8 267 237.7 266.8 254.5 262.1C271.3 258.5 288.2 245.3 305 238.9M204 308.7C220.8 293.4 237.7 283.3 254.5 279.1C271.3 274 288.2 268.4 305 259.3M204 295.1C220.8 276.7 237.7 272.1 254.5 268.3C271.3 264.4 288.2 261.7 305 276.4M204 290.8C220.8 276.2 237.7 271.8 254.5 266.2C271.3 261.1 288.2 249.7 305 246M204 319.9C220.8 287.7 237.7 278.5 254.5 272.6C271.3 266.5 288.2 259.8 305 261.8M204 313.8C220.8 288.1 237.7 279 254.5 271.3C271.3 264.3 288.2 248.8 305 230.2M204 307.8C220.8 292.9 237.7 283.2 254.5 280.8C271.3 277.1 288.2 278.8 305 284.6M204 260.8C220.8 267.6 237.7 267.3 254.5 262.2C271.3 258.3 288.2 242 305 227.4M204 267.8C220.8 267 237.7 266.6 254.5 263.2C271.3 260.3 288.2 253.4 305 261.3M204 260.3C220.8 268.3 237.7 268.2 254.5 267.2C271.3 265.8 288.2 265.2 305 280.2M204 293.3C220.8 282.6 237.7 276.3 254.5 271.4C271.3 266.6 288.2 256.9 305 248.5M204 284.1C220.8 267.9 237.7 266.1 254.5 258.6C271.3 252.9 288.2 234.9 305 227M204 275.6C220.8 267.1 237.7 266.1 254.5 261C271.3 256.9 288.2 245.8 305 248.8M204 279.9C220.8 268.9 237.7 267.3 254.5 263.6C271.3 260.2 288.2 255.2 305 269.7M204 271.4C220.8 268.3 237.7 267.4 254.5 265.3C271.3 263.1 288.2 261.6 305 280M204 265.5C220.8 262.7 237.7 263.4 254.5 257.2C271.3 252.7 288.2 235.3 305 227.7M204 273.7C220.8 264.6 237.7 264.4 254.5 258C271.3 253.2 288.2 237.2 305 233.3M204 302.7C220.8 288 237.7 279.9 254.5 277.2C271.3 273.5 288.2 273.9 305 281.7M204 278.5C220.8 268 237.7 266.6 254.5 261.1C271.3 256.7 288.2 244.8 305 246.3M204 298.3C220.8 285.1 237.7 278.1 254.5 275.7C271.3 272.3 288.2 273.3 305 284.6M204 283C220.8 278.7 237.7 274.1 254.5 269.7C271.3 265.6 288.2 255.8 305 248.4M204 295.8C220.8 284.3 237.7 277.6 254.5 275.6C271.3 272.5 288.2 274.3 305 287.1M204 303.9C220.8 287.5 237.7 279.5 254.5 276.6C271.3 272.8 288.2 273.1 305 282.1M204 315.7C220.8 291.6 237.7 281.7 254.5 277.5C271.3 272.5 288.2 270 305 272.7M204 271.2C220.8 274.1 237.7 271.5 254.5 267.4C271.3 263.7 288.2 252.7 305 243.8M204 314.3C220.8 290.7 237.7 281.1 254.5 277.3C271.3 272.5 288.2 271 305 276.5M204 291.9C220.8 275.4 237.7 271.1 254.5 264.8C271.3 259.4 288.2 246 305 239.9M204 294.5C220.8 291.7 237.7 283.1 254.5 282C271.3 279.2 288.2 281.7 305 284.8M204 265.5C220.8 261.8 237.7 262.9 254.5 258.2C271.3 254.7 288.2 243.6 305 249.7M204 315.3C220.8 290.6 237.7 280.8 254.5 274.8C271.3 268.7 288.2 259.2 305 249.6M204 276.7C220.8 270.8 237.7 268.7 254.5 263.5C271.3 259.1 288.2 246.6 305 242M204 280.4C220.8 270.3 237.7 268.1 254.5 262.5C271.3 257.8 288.2 244.9 305 242.1M204 314.2C220.8 292.1 237.7 282.2 254.5 279.1C271.3 274.9 288.2 276.2 305 285.4M204 294.3C220.8 280.9 237.7 275.1 254.5 271.4C271.3 267.4 288.2 263.1 305 268.2M204 292C220.8 274 237.7 270.1 254.5 263.5C271.3 257.9 288.2 244 305 239.1M204 279.2C220.8 269.7 237.7 268 254.5 265C271.3 262 288.2 259.3 305 276.8M204 292.5C220.8 278.5 237.7 273.5 254.5 269.2C271.3 264.9 288.2 258.7 305 262.8M204 316.3C220.8 291.6 237.7 281.5 254.5 275.3C271.3 269 288.2 259 305 247.2M204 301.8C220.8 288.3 237.7 280 254.5 275.6C271.3 270.8 288.2 263.9 305 256.7M204 268.7C220.8 261.6 237.7 262.5 254.5 256.4C271.3 252 288.2 236.5 305 235.9M204 283.2C220.8 273.3 237.7 270.3 254.5 267.6C271.3 264.6 288.2 263.1 305 279.4M204 274.1C220.8 271.4 237.7 269.5 254.5 267.5C271.3 265.2 288.2 264 305 279.8M204 266.1C220.8 264.5 237.7 264.8 254.5 259.7C271.3 255.8 288.2 242.4 305 240.3M204 275.6C220.8 276.1 237.7 272.8 254.5 269.8C271.3 266.7 288.2 260.7 305 260.9M204 296.8C220.8 292.1 237.7 283.2 254.5 281C271.3 277.5 288.2 276.5 305 273M204 277.7C220.8 278.9 237.7 274.8 254.5 273.5C271.3 271.2 288.2 271.4 305 280.6M204 271.7C220.8 269.5 237.7 268 254.5 262.6C271.3 258.3 288.2 243.8 305 234.9M204 267.8C220.8 269.5 237.7 268.5 254.5 266.4C271.3 264.3 288.2 261.6 305 274.2M204 262C220.8 274.8 237.7 272.8 254.5 272.4C271.3 271.3 288.2 271.8 305 280.7M204 286.5C220.8 263.5 237.7 262.8 254.5 255.1C271.3 249.4 288.2 232.9 305 235.5M204 315.6C220.8 287.2 237.7 278.4 254.5 272.9C271.3 267.2 288.2 260.9 305 262.7M204 296.6C220.8 285.1 237.7 278 254.5 274C271.3 269.7 288.2 263.7 305 260.6M204 271.5C220.8 266.8 237.7 266.1 254.5 260.4C271.3 256 288.2 241.4 305 235.9M204 310.4C220.8 281.8 237.7 274.6 254.5 266.2C271.3 259 288.2 241.7 305 227M204 295.2C220.8 281.8 237.7 275.7 254.5 271.2C271.3 266.6 288.2 259.3 305 257.5M204 272.4C220.8 265.7 237.7 265.2 254.5 259.1C271.3 254.5 288.2 238.9 305 233.8M204 289.9C220.8 278 237.7 273.2 254.5 267.8C271.3 262.8 288.2 251.4 305 244.7M204 301.5C220.8 282.8 237.7 276 254.5 270.1C271.3 264.6 288.2 253.8 305 246.5M204 260.5C220.8 267 237.7 267.1 254.5 264.4C271.3 262 288.2 255.3 305 260.3M204 316.6C220.8 300.5 237.7 285 254.5 283.1C271.3 278.7 288.2 273.6 305 261.9M204 273.8C220.8 272.6 237.7 270.2 254.5 265.7C271.3 261.9 288.2 250.7 305 245.1M204 290.5C220.8 276.7 237.7 272.4 254.5 269.2C271.3 265.7 288.2 263.5 305 277.1M204 262.3C220.8 272.8 237.7 271.2 254.5 269.8C271.3 268.1 288.2 265 305 269.8M204 313.5C220.8 281.9 237.7 274.5 254.5 266.8C271.3 260 288.2 246.2 305 239.8M204 267.7C220.8 266.5 237.7 266.2 254.5 261.6C271.3 257.9 288.2 246.2 305 245.4M204 262.3C220.8 262.6 237.7 263.8 254.5 260.5C271.3 258 288.2 251.1 305 262.8M204 266C220.8 262.5 237.7 263.4 254.5 259C271.3 255.7 288.2 245.6 305 252.9M204 260.4C220.8 261 237.7 262.7 254.5 258.4C271.3 255.3 288.2 244.4 305 249.8M204 313C220.8 282.7 237.7 275.1 254.5 266.6C271.3 259.3 288.2 242.1 305 227.6M204 304.3C220.8 283.8 237.7 276.5 254.5 271C271.3 265.5 288.2 256.4 305 252.4M204 274.5C220.8 265.2 237.7 264.8 254.5 259.1C271.3 254.7 288.2 241.4 305 242.3M204 314.9C220.8 285.2 237.7 276.8 254.5 268.5C271.3 261.2 288.2 244.6 305 228.6M204 303.8C220.8 282.8 237.7 275.9 254.5 270.4C271.3 265.1 288.2 256.6 305 254.9M204 277.4C220.8 272.2 237.7 269.6 254.5 264.1C271.3 259.5 288.2 245.6 305 236.7M204 266.9C220.8 265.4 237.7 265.4 254.5 260.7C271.3 257 288.2 245 305 245M204 277.6C220.8 275.4 237.7 272.3 254.5 270.8C271.3 268.7 288.2 269.6 305 285.2"/><path fill="none" stroke="#5d8489" stroke-opacity="0.14" stroke-width="0.6" d="M204 259.2C220.8 258.3 237.7 259.9 254.5 253.7C271.3 248.1 288.2 234.8 305 224M204 259.2C220.8 258.3 237.7 259.7 254.5 253.3C271.3 247 288.2 235.5 305 222.2M204 260.4C220.8 259.3 237.7 260.9 254.5 254.4C271.3 248.6 288.2 235 305 223.9M204 258.5C220.8 257.9 237.7 259.8 254.5 254C271.3 250 288.2 233.5 305 227.6M204 259.1C220.8 258.3 237.7 259.9 254.5 253.8C271.3 248.5 288.2 234.6 305 224.7M204 259.5C220.8 258.6 237.7 260.1 254.5 253.9C271.3 248.2 288.2 234.9 305 224M204 320.4C220.8 298 237.7 287 254.5 284.7C271.3 278.6 288.2 285 305 306.7M204 320.8C220.8 298.5 237.7 287.5 254.5 285.1C271.3 278.6 288.2 286 305 305.4M204 321C220.8 298.7 237.7 287.7 254.5 285.3C271.3 278.6 288.2 286.4 305 305.6M204 319.9C220.8 297.1 237.7 285.8 254.5 283C271.3 278 288.2 281.7 305 291.1M204 319.6C220.8 296.8 237.7 285.5 254.5 282.9C271.3 278.1 288.2 281.3 305 294.5M204 319.7C220.8 297 237.7 285.9 254.5 283.7C271.3 278.6 288.2 282.8 305 306.1"/><path fill="#ff8c00" fill-opacity="0.3" stroke="none" d="M176 278L185.4 275.3L194.8 272.9L204.2 271L213.5 269.4L222.9 268.1L232.3 267L241.7 265.8L251.1 264.8L260.5 263.8L269.8 262.5L279.2 260.5L288.6 258.1L298 255.5L298 252L288.6 253.9L279.2 255.6L269.8 257L260.5 258.3L251.1 259.4L241.7 260L232.3 260L222.9 260L213.5 260L204.2 260L194.8 255.9L185.4 245.6L176 232.5Z"/><path fill="#ff8c00" fill-opacity="0.405" stroke="none" d="M176 278L184.1 275.7L192.3 273.5L200.4 271.7L208.5 270.2L216.7 269L224.8 267.9L232.9 266.9L241.1 265.9L249.2 265L257.3 264.1L265.5 263.2L273.6 261.8L281.7 259.8L289.9 257.7L298 255.5L298 284.7L289.9 279L281.7 277.8L273.6 278.6L265.5 279.6L257.3 281.2L249.2 283.2L241.1 285.6L232.9 289.1L224.8 293.9L216.7 299.6L208.5 305.4L200.4 310.7L192.3 316.1L184.1 321.5L176 327Z"/><path fill="#ff8c00" fill-opacity="0.9" stroke="none" d="M176 283.9L184.1 281.2L192.3 278.6L200.4 276.4L208.5 274.4L216.7 272.7L224.8 271L232.9 269.5L241.1 268.2L249.2 267.2L257.3 266.2L265.5 265.1L273.6 263.8L281.7 262L289.9 260.3L298 259L298 281.2L289.9 276.4L281.7 275.6L273.6 276.6L265.5 277.7L257.3 279.1L249.2 281L241.1 283.3L232.9 286.4L224.8 290.8L216.7 295.9L208.5 301.1L200.4 306L192.3 311L184.1 316L176 321.1Z"/><path fill="none" stroke="#ff8c00" stroke-opacity="0.22" stroke-width="0.8" d="M176 312.2C196.3 301 216.7 288.6 237 280.3C257.3 276.3 277.7 267.2 298 273.5M176 300.7C196.3 287.9 216.7 278.2 237 272.7C257.3 269.2 277.7 264.3 298 262.8M176 277.8C196.3 275.2 216.7 273.5 237 270.4C257.3 269.4 277.7 263.8 298 264.7M176 286.2C196.3 288.9 216.7 286.1 237 280.1C257.3 279.6 277.7 267.7 298 280.9M176 295.9C196.3 283.2 216.7 274.6 237 269.8C257.3 266 277.7 263.2 298 256.8M176 307.1C196.3 290.7 216.7 278.7 237 272.9C257.3 269.1 277.7 264.1 298 263.5M176 306.6C196.3 297.2 216.7 286.1 237 277.9C257.3 272.6 277.7 266.7 298 264.1M176 312.3C196.3 302.7 216.7 290.7 237 281.9C257.3 278.2 277.7 267.9 298 276.8M176 318.3C196.3 300.2 216.7 284.8 237 276.7C257.3 271.3 277.7 265.6 298 264.9M176 290.2C196.3 276.4 216.7 269.7 237 267.1C257.3 265.6 277.7 261.8 298 261M176 282.7C196.3 278.8 216.7 275.3 237 271.2C257.3 269.1 277.7 264.2 298 262.2M176 311.3C196.3 292.7 216.7 279.2 237 273C257.3 268.7 277.7 264 298 262.6M176 298.5C196.3 289.9 216.7 281.1 237 274.5C257.3 270 277.7 265.4 298 261M176 288.3C196.3 285 216.7 280.5 237 275.4C257.3 274 277.7 265.6 298 271.8M176 301.6C196.3 291.7 216.7 283.2 237 277.7C257.3 277.1 277.7 265.8 298 281.3M176 303.9C196.3 295.7 216.7 285.7 237 278.1C257.3 274 277.7 266.7 298 268.2M176 278.1C196.3 284.2 216.7 284.3 237 279.1C257.3 279.3 277.7 267.5 298 280.5M176 312C196.3 300.8 216.7 288.1 237 279.4C257.3 274.1 277.7 267.1 298 267.4M176 287C196.3 283.1 216.7 278.8 237 274.2C257.3 272.7 277.7 265.1 298 269.6M176 317.5C196.3 304.4 216.7 289 237 278.8C257.3 270.4 277.7 267.2 298 255.8M176 301.2C196.3 293.2 216.7 284.4 237 277.8C257.3 275 277.7 266.3 298 272.8M176 304.7C196.3 293.2 216.7 283.3 237 277.2C257.3 275.2 277.7 265.7 298 276M176 288.5C196.3 285.9 216.7 281.2 237 275.6C257.3 273.2 277.7 265.9 298 268.3M176 296.8C196.3 293.7 216.7 286.2 237 278.5C257.3 274 277.7 267.2 298 265.9M176 277.7C196.3 281.2 216.7 281.3 237 277.4C257.3 279 277.7 266.4 298 283.7M176 281C196.3 276.4 216.7 273.3 237 269.9C257.3 268 277.7 263.6 298 261.2M176 320.7C196.3 311.7 216.7 297.3 237 286.5C257.3 281.7 277.7 269.8 298 280.5M176 296.9C196.3 284.6 216.7 275.6 237 270.4C257.3 265.9 277.7 263.6 298 255.4M176 322.8C196.3 297.1 216.7 279.2 237 272.2C257.3 266.3 277.7 263.4 298 258.2M176 277.1C196.3 281.3 216.7 281.3 237 276.8C257.3 276.9 277.7 266.5 298 277.2M176 323.3C196.3 313.4 216.7 298.3 237 287.1C257.3 282.2 277.7 270 298 281.5M176 302.4C196.3 289.1 216.7 278.8 237 273C257.3 269.1 277.7 264.3 298 262.3M176 280.4C196.3 274.9 216.7 272.2 237 269.6C257.3 269 277.7 263.2 298 265.9M176 277.2C196.3 276.1 216.7 275 237 271.9C257.3 271.7 277.7 264.3 298 269.3M176 280.1C196.3 285.2 216.7 284.7 237 279.6C257.3 280.3 277.7 267.5 298 283.6M176 287.8C196.3 282.1 216.7 278.4 237 275.2C257.3 277.1 277.7 264.9 298 284.3M176 299.3C196.3 289.2 216.7 280.4 237 274.5C257.3 271.4 277.7 265.1 298 266.3M176 283.6C196.3 275.5 216.7 271.3 237 268.5C257.3 266.9 277.7 262.7 298 261.3M176 280.2C196.3 287.8 216.7 287.3 237 281C257.3 280.5 277.7 268.4 298 280.5M176 307.7C196.3 305 216.7 295.3 237 285.6C257.3 282.2 277.7 269.7 298 281.8M176 291.1C196.3 285.2 216.7 279.6 237 274.7C257.3 273.1 277.7 265.2 298 271M176 292.2C196.3 280.2 216.7 273.1 237 269.4C257.3 267.2 277.7 262.9 298 262M176 314.5C196.3 302 216.7 287.8 237 278.4C257.3 271.4 277.7 266.9 298 259.9M176 289C196.3 276.4 216.7 270.3 237 267.8C257.3 266.7 277.7 262.1 298 263.2M176 297C196.3 290.2 216.7 282.4 237 275.9C257.3 272.4 277.7 265.9 298 266.2M176 322.7C196.3 301 216.7 283.8 237 275.7C257.3 269.8 277.7 265 298 262.4M176 292.7C196.3 285.4 216.7 278.9 237 273.8C257.3 271.5 277.7 264.9 298 267.3M176 322.5C196.3 302.4 216.7 285.6 237 277.3C257.3 271.8 277.7 265.7 298 266.3M176 278.4C196.3 279.5 216.7 278.8 237 275C257.3 275.4 277.7 265.5 298 276.1M176 300C196.3 289 216.7 280.5 237 275.4C257.3 274.2 277.7 265 298 275.4M176 303.9C196.3 296.3 216.7 287.2 237 280.2C257.3 278.5 277.7 267.1 298 280.3M176 300.8C196.3 287.6 216.7 277.7 237 272.1C257.3 268.2 277.7 264.1 298 260.5M176 302C196.3 292.7 216.7 283.3 237 276.6C257.3 273.2 277.7 265.9 298 268.8M176 320.7C196.3 301.8 216.7 286.3 237 278.7C257.3 275.4 277.7 265.9 298 276.4M176 301.8C196.3 297.5 216.7 289.1 237 281.1C257.3 277.9 277.7 267.9 298 275.4M176 311.8C196.3 299.8 216.7 287.3 237 279.1C257.3 274.6 277.7 266.8 298 270.2M176 321.3C196.3 305.3 216.7 289.1 237 279.4C257.3 272.6 277.7 266.9 298 263.5M176 322.1C196.3 302.5 216.7 285.6 237 276.8C257.3 270.2 277.7 265.7 298 261.2M176 288.7C196.3 279 216.7 272.9 237 269C257.3 266.1 277.7 263 298 257.6M176 317.5C196.3 306.3 216.7 291.9 237 281.7C257.3 275.3 277.7 268.1 298 267.1M176 297.2C196.3 281.4 216.7 273.6 237 271.3C257.3 272.7 277.7 262.7 298 279.7M176 291.5C196.3 275.5 216.7 268 237 265.8C257.3 264.1 277.7 261.1 298 258.6M176 301C196.3 286.6 216.7 277.5 237 273.3C257.3 272.6 277.7 263.9 298 274.8M176 314.5C196.3 303 216.7 290.7 237 282.7C257.3 280.7 277.7 267.7 298 285.1M176 293.3C196.3 285.7 216.7 279.9 237 275.8C257.3 276.4 277.7 265.1 298 281.3M176 321.5C196.3 306.6 216.7 290.3 237 280C257.3 272.6 277.7 267.4 298 261.8M176 281.4C196.3 274.3 216.7 271.3 237 269.2C257.3 269.2 277.7 262.8 298 268M176 290.2C196.3 286.6 216.7 281.2 237 275.5C257.3 272.9 277.7 265.8 298 267.7M176 281.3C196.3 272.5 216.7 268.6 237 266.4C257.3 264.6 277.7 261.9 298 257M176 277.2C196.3 280.6 216.7 281 237 277.3C257.3 279.2 277.7 266.3 298 284.9M176 327.3C196.3 312.9 216.7 295.9 237 285.2C257.3 280 277.7 268.9 298 278.8M176 282.9C196.3 274.6 216.7 270.9 237 268.5C257.3 267.8 277.7 262.6 298 264.6M176 280.1C196.3 282.8 216.7 282.1 237 277.8C257.3 278.8 277.7 266.6 298 282.8M176 316.1C196.3 304.4 216.7 290.1 237 280.1C257.3 273.1 277.7 267.6 298 262.6M176 318.8C196.3 302.5 216.7 287.1 237 278.2C257.3 272.3 277.7 266.4 298 264.7M176 283.9C196.3 278.3 216.7 274.6 237 271.2C257.3 270.3 277.7 263.8 298 267.3M176 280.9C196.3 271 216.7 267.9 237 266.9C257.3 267.8 277.7 261.7 298 268M176 322.5C196.3 305.1 216.7 288.1 237 278.3C257.3 270.8 277.7 266.6 298 259.6M176 293.5C196.3 284.5 216.7 278.1 237 273.9C257.3 273.4 277.7 264.5 298 274.5M176 319C196.3 305.8 216.7 291.7 237 282.8C257.3 279.3 277.7 267.9 298 280.6M176 291.1C196.3 281.7 216.7 274.9 237 270.4C257.3 267.1 277.7 263.6 298 258.6M176 283.1C196.3 280.1 216.7 277.7 237 274.4C257.3 275.3 277.7 264.9 298 278.7M176 286.8C196.3 283.8 216.7 280.3 237 276C257.3 276.3 277.7 265.6 298 278.9M176 326.6C196.3 310.3 216.7 292.6 237 281.8C257.3 274.7 277.7 267.9 298 266.6M176 318.2C196.3 300.7 216.7 285.3 237 276.9C257.3 271.1 277.7 265.8 298 263.6M176 278C196.3 272.8 216.7 270.2 237 267.4C257.3 265.2 277.7 262.7 298 256M176 311.9C196.3 298.5 216.7 285.9 237 278.4C257.3 274.6 277.7 266.3 298 272M176 307.4C196.3 292.4 216.7 280.1 237 273.4C257.3 268.2 277.7 264.6 298 258.9M176 294.8C196.3 291.6 216.7 285.1 237 278.3C257.3 275.5 277.7 266.9 298 271.6M176 297.9C196.3 289.9 216.7 281.5 237 275C257.3 270.9 277.7 265.5 298 263.1"/><path fill="none" stroke="#ff8c00" stroke-opacity="0.14" stroke-width="0.6" d="M176 235.1C196.3 275.1 216.7 260.6 237 263.2C257.3 262.9 277.7 261 298 255.3M176 256.2C196.3 272.2 216.7 264.1 237 264.1C257.3 263 277.7 260.5 298 254.7M176 262.7C196.3 272.7 216.7 265.8 237 265.2C257.3 263.8 277.7 261.7 298 255.4M176 274.4C196.3 271.6 216.7 268 237 266C257.3 264.2 277.7 261.9 298 255.4M176 272.3C196.3 268.7 216.7 266.4 237 263.9C257.3 262.1 277.7 258.7 298 253.2M176 274.4C196.3 267.4 216.7 266.3 237 263.3C257.3 261.4 277.7 257.6 298 252.4M176 241.5C196.3 273.4 216.7 261.3 237 263C257.3 262.4 277.7 260 298 254.6M176 246.5C196.3 269.6 216.7 260.9 237 261.1C257.3 260.3 277.7 256.7 298 252.2M176 272.7C196.3 269.1 216.7 266.6 237 264.2C257.3 262.4 277.7 259.2 298 253.5M176 256.8C196.3 271.8 216.7 264.1 237 263.9C257.3 262.7 277.7 260.1 298 254.4M176 264.9C196.3 272.2 216.7 266.1 237 265.2C257.3 263.7 277.7 261.4 298 255.2M176 248.6C196.3 273.1 216.7 262.8 237 263.7C257.3 262.8 277.7 260.5 298 254.8M176 258.8C196.3 268.6 216.7 263.3 237 262.1C257.3 260.8 277.7 257 298 252.3M176 262.2C196.3 271.3 216.7 265.1 237 264.3C257.3 262.9 277.7 260.2 298 254.4M176 235.6C196.3 272.4 216.7 259.6 237 261.5C257.3 261.2 277.7 258.3 298 253.5M176 252C196.3 272.7 216.7 263.4 237 263.8C257.3 262.9 277.7 260.5 298 254.7M176 248.8C196.3 272.2 216.7 262.5 237 263.1C257.3 262.3 277.7 259.6 298 254.2M176 253.3C196.3 271.7 216.7 263.3 237 263.4C257.3 262.3 277.7 259.6 298 254.1M176 274.3C196.3 267.4 216.7 266.3 237 263.3C257.3 261.4 277.7 257.6 298 252.4M176 246.5C196.3 269.5 216.7 260.9 237 261.1C257.3 260.3 277.7 256.6 298 252.1M176 264.1C196.3 271.3 216.7 265.5 237 264.5C257.3 263.1 277.7 260.4 298 254.5M176 271.8C196.3 270.5 216.7 267 237 265C257.3 263.2 277.7 260.5 298 254.4M176 263.2C196.3 271.9 216.7 265.6 237 264.8C257.3 263.3 277.7 260.9 298 254.9M176 266C196.3 271.1 216.7 265.9 237 264.6C257.3 263.1 277.7 260.4 298 254.5M176 239C196.3 272.7 216.7 260.5 237 262.2C257.3 261.7 277.7 259.1 298 253.9M176 240.7C196.3 274.5 216.7 261.6 237 263.6C257.3 263.1 277.7 261.1 298 255.3M176 329C196.3 315.9 216.7 298.8 237 288.8C257.3 282.7 277.7 271.9 298 299.3M176 327.5C196.3 314.5 216.7 298.1 237 287.3C257.3 282.8 277.7 269.9 298 285.8M176 332.5C196.3 315.3 216.7 299.1 237 288.3C257.3 282.7 277.7 271.3 298 289.1M176 329.1C196.3 315.4 216.7 298.6 237 288.3C257.3 282.7 277.7 271.2 298 294M176 333.5C196.3 315.2 216.7 299.2 237 288.3C257.3 282.7 277.7 271.3 298 287.6M176 332.7C196.3 315.5 216.7 299.2 237 288.6C257.3 282.7 277.7 271.7 298 291.7M176 336C196.3 315.3 216.7 299.6 237 288.5C257.3 282.7 277.7 271.6 298 285.7M176 329.5C196.3 315.4 216.7 298.7 237 288.3C257.3 282.7 277.7 271.2 298 293.3"/><path fill="none" stroke="#fff" stroke-opacity="0.75" stroke-width="1.8" d="M204 289C220.8 283.8 237.7 278.7 254.5 273.7C271.3 268.7 288.2 263.4 305 258"/><path fill="none" stroke="#3f6470" stroke-opacity="0.6" stroke-width="0.9" stroke-dasharray="1.3 1.1" d="M204 289C220.8 283.8 237.7 278.7 254.5 273.7C271.3 268.7 288.2 263.4 305 258"/><path fill="none" stroke="#fff" stroke-opacity="0.75" stroke-width="1.8" d="M176 302C196.3 295.2 216.7 289.1 237 282.9C257.3 276 277.7 268.9 298 265"/><path fill="none" stroke="#d97700" stroke-opacity="0.6" stroke-width="0.9" stroke-dasharray="1.3 1.1" d="M176 302C196.3 295.2 216.7 289.1 237 282.9C257.3 276 277.7 268.9 298 265"/><line x1="22.3" y1="271.2" x2="315.5" y2="271.2" stroke="#8a8a8a" stroke-width="0.6" stroke-dasharray="0.9 1.1"/><line x1="22.4" y1="213.5" x2="22.4" y2="344.2" stroke="#9a9a9a" stroke-width="0.9"/><line x1="22.3" y1="344.2" x2="168.1" y2="344.2" stroke="#9a9a9a" stroke-width="0.9"/><line x1="169.3" y1="344.2" x2="315.5" y2="344.2" stroke="#9a9a9a" stroke-width="0.9"/><rect x="22.8" y="203" width="144.9" height="10.4" fill="#fff" stroke="#333" stroke-width="0.9"/><text x="95.2" y="211.1" font-size="8.7" text-anchor="middle" fill="#1a1a1a">Amyloid−</text><rect x="169.8" y="203" width="145.3" height="10.4" fill="#fff" stroke="#333" stroke-width="0.9"/><text x="242.4" y="211.1" font-size="8.7" text-anchor="middle" fill="#1a1a1a">Amyloid+</text><text x="21.9" y="199.1" font-size="11" fill="#000">M3</text><text x="21" y="252.2" font-size="6.6" text-anchor="end" fill="#555">1</text><line x1="21.2" y1="249.8" x2="22.4" y2="249.8" stroke="#9a9a9a" stroke-width="0.6"/><text x="21" y="273.6" font-size="6.6" text-anchor="end" fill="#555">0</text><line x1="21.2" y1="271.2" x2="22.4" y2="271.2" stroke="#9a9a9a" stroke-width="0.6"/><text x="21" y="295" font-size="6.6" text-anchor="end" fill="#555">−1</text><line x1="21.2" y1="292.6" x2="22.4" y2="292.6" stroke="#9a9a9a" stroke-width="0.6"/><text x="34.5" y="351" font-size="6.6" text-anchor="middle" fill="#555">45</text><text x="48.3" y="351" font-size="6.6" text-anchor="middle" fill="#555">50</text><text x="62.1" y="351" font-size="6.6" text-anchor="middle" fill="#555">55</text><text x="75.9" y="351" font-size="6.6" text-anchor="middle" fill="#555">60</text><text x="89.7" y="351" font-size="6.6" text-anchor="middle" fill="#555">65</text><text x="103.5" y="351" font-size="6.6" text-anchor="middle" fill="#555">70</text><text x="117.3" y="351" font-size="6.6" text-anchor="middle" fill="#555">75</text><text x="131.1" y="351" font-size="6.6" text-anchor="middle" fill="#555">80</text><text x="144.9" y="351" font-size="6.6" text-anchor="middle" fill="#555">85</text><text x="158.7" y="351" font-size="6.6" text-anchor="middle" fill="#555">90</text><text x="181.6" y="351" font-size="6.6" text-anchor="middle" fill="#555">45</text><text x="195.4" y="351" font-size="6.6" text-anchor="middle" fill="#555">50</text><text x="209.2" y="351" font-size="6.6" text-anchor="middle" fill="#555">55</text><text x="223" y="351" font-size="6.6" text-anchor="middle" fill="#555">60</text><text x="236.8" y="351" font-size="6.6" text-anchor="middle" fill="#555">65</text><text x="250.6" y="351" font-size="6.6" text-anchor="middle" fill="#555">70</text><text x="264.4" y="351" font-size="6.6" text-anchor="middle" fill="#555">75</text><text x="278.2" y="351" font-size="6.6" text-anchor="middle" fill="#555">80</text><text x="292" y="351" font-size="6.6" text-anchor="middle" fill="#555">85</text><text x="305.8" y="351" font-size="6.6" text-anchor="middle" fill="#555">90</text><text x="169" y="361.9" font-size="11" text-anchor="middle" fill="#000">Age</text><text x="0" y="0" font-size="11" text-anchor="middle" fill="#000" transform="translate(9.2 278.8) rotate(-90)">Protein Level (Z−Score)</text></g>
<g><path fill="#5d8489" fill-opacity="0.022" stroke="none" d="M405.5 253.8L413 262L420.6 269.3L428.1 275.4L435.7 280.3L443.2 284.4L450.8 287.7L458.3 290.4L465.9 292.7L473.4 294.8L481 296.5L488.5 298L496.1 299.2L503.6 300.4L511.2 301.3L518.7 302L518.7 324L511.2 321.2L503.6 318.6L496.1 316L488.5 313.6L481 311.4L473.4 309.3L465.9 307.3L458.3 305.3L450.8 303.1L443.2 300.8L435.7 298.6L428.1 296.8L420.6 295.3L413 294L405.5 293Z"/><path fill="#5d8489" fill-opacity="0.048" stroke="none" d="M405.5 259.7L413 266.8L420.6 273.2L428.1 278.6L435.7 283L443.2 286.8L450.8 290L458.3 292.6L465.9 294.9L473.4 297L481 298.7L488.5 300.3L496.1 301.8L503.6 303.1L511.2 304.3L518.7 305.3L518.7 320.7L511.2 318.2L503.6 315.8L496.1 313.5L488.5 311.3L481 309.1L473.4 307.1L465.9 305.1L458.3 303L450.8 300.8L443.2 298.3L435.7 295.8L428.1 293.6L420.6 291.4L413 289.2L405.5 287.1Z"/><path fill="none" stroke="#5d8489" stroke-opacity="0.221" stroke-width="0.7" d="M405.5 268.3C424.4 283 443.2 291.5 462.1 296.8C481 302.1 499.8 305.9 518.7 309.1M405.5 263.1C424.4 282.7 443.2 291.1 462.1 297.3C481 303.3 499.8 307.7 518.7 312.7M405.5 254.9C424.4 280.7 443.2 289.4 462.1 296.6C481 303.4 499.8 308.5 518.7 315.6M405.5 282.2C424.4 282.3 443.2 291.5 462.1 294.9C481 299.1 499.8 302.4 518.7 304.9M405.5 257.7C424.4 282.4 443.2 290.8 462.1 297.9C481 304.7 499.8 309.9 518.7 317M405.5 264.6C424.4 279.1 443.2 288.6 462.1 293.8C481 299.4 499.8 303.3 518.7 307.7M405.5 271.6C424.4 286.1 443.2 293.9 462.1 300.3C481 306.4 499.8 311.9 518.7 319.9M405.5 278.4C424.4 287.4 443.2 295.1 462.1 300.7C481 306 499.8 311.1 518.7 317.6M405.5 262.5C424.4 281.9 443.2 290.7 462.1 297.9C481 305 499.8 311.4 518.7 322.6M405.5 279.3C424.4 283.1 443.2 291.9 462.1 296C481 300.5 499.8 304.2 518.7 307.4M405.5 268.3C424.4 279.9 443.2 289.4 462.1 295C481 301 499.8 306.1 518.7 314.1M405.5 287.5C424.4 288 443.2 295.7 462.1 299.3C481 303 499.8 306.1 518.7 306.7M405.5 276.5C424.4 282.2 443.2 291.2 462.1 295C481 299.4 499.8 302.4 518.7 303.7M405.5 260.8C424.4 277 443.2 287.1 462.1 293.3C481 300.1 499.8 305.5 518.7 315.4M405.5 265.3C424.4 281.1 443.2 290 462.1 295.3C481 300.8 499.8 304.6 518.7 307.9M405.5 280.2C424.4 285.5 443.2 293.7 462.1 298.1C481 302.8 499.8 306.7 518.7 310.3M405.5 277.2C424.4 285.9 443.2 293.9 462.1 298.9C481 303.9 499.8 308.2 518.7 312.6M405.5 284.6C424.4 285.6 443.2 294.1 462.1 298.8C481 303.9 499.8 309.2 518.7 317M405.5 276.8C424.4 280.8 443.2 290.2 462.1 294.1C481 298.8 499.8 302.2 518.7 305.6M405.5 277.6C424.4 287 443.2 294.8 462.1 300.6C481 306.2 499.8 311.6 518.7 319M405.5 264C424.4 281.8 443.2 290.6 462.1 297.5C481 304.4 499.8 310.4 518.7 320.9M405.5 280.7C424.4 287.9 443.2 295.5 462.1 301C481 306.3 499.8 311.6 518.7 318.7M405.5 264.6C424.4 278.9 443.2 288.4 462.1 293.2C481 298.4 499.8 301.5 518.7 303.7M405.5 265.6C424.4 282.9 443.2 291.1 462.1 296.1C481 300.8 499.8 303.4 518.7 302.5M405.5 265.9C424.4 285.6 443.2 293.2 462.1 299.6C481 305.4 499.8 310 518.7 314.5M405.5 288.3C424.4 294.2 443.2 300.3 462.1 306.2C481 311.1 499.8 316.8 518.7 323.6M405.5 271C424.4 283.9 443.2 292.4 462.1 298.5C481 304.6 499.8 310.1 518.7 318.6M405.5 267.9C424.4 283.8 443.2 292 462.1 297.1C481 302.1 499.8 305.4 518.7 306.4M405.5 279.8C424.4 286.9 443.2 294.6 462.1 299.1C481 303.4 499.8 306.8 518.7 308.3M405.5 257.8C424.4 277.1 443.2 286.9 462.1 292.8C481 299 499.8 303.3 518.7 308.9M405.5 287.3C424.4 289.7 443.2 296.8 462.1 300.3C481 303.6 499.8 306 518.7 303.8M405.5 282.5C424.4 287.1 443.2 295 462.1 299.7C481 304.4 499.8 308.8 518.7 313.4M405.5 276.5C424.4 292.2 443.2 298.4 462.1 304.8C481 310.1 499.8 315.2 518.7 319.6M405.5 257.9C424.4 280.6 443.2 289.4 462.1 295.6C481 301.7 499.8 305.7 518.7 309.7M405.5 264.4C424.4 280.2 443.2 289.5 462.1 295.6C481 301.9 499.8 307 518.7 315.1M405.5 268.6C424.4 281.6 443.2 290.7 462.1 297.2C481 303.8 499.8 310.1 518.7 321.4M405.5 280.6C424.4 285 443.2 293.5 462.1 298.3C481 303.4 499.8 308.2 518.7 314.6M405.5 259.4C424.4 278.5 443.2 287.9 462.1 293.4C481 299.1 499.8 302.5 518.7 305.3M405.5 287.2C424.4 291.9 443.2 298.6 462.1 303.8C481 308.5 499.8 313.6 518.7 319.1M405.5 286C424.4 287.2 443.2 295.3 462.1 300.2C481 305.2 499.8 310.5 518.7 318.2M405.5 282.1C424.4 288.8 443.2 296.2 462.1 301.5C481 306.5 499.8 311.5 518.7 317.3M405.5 290.2C424.4 285.3 443.2 293.9 462.1 297.2C481 301 499.8 304.7 518.7 308.2M405.5 286.5C424.4 290.8 443.2 297.6 462.1 301.5C481 305 499.8 307.9 518.7 306.5M405.5 266.5C424.4 285.4 443.2 293.2 462.1 299.6C481 305.4 499.8 310.2 518.7 315.4M405.5 292.4C424.4 296.4 443.2 300.9 462.1 306.7C481 310.9 499.8 315.5 518.7 318.5"/><path fill="none" stroke="#5d8489" stroke-opacity="0.22" stroke-width="0.6" d="M405.5 246.4C424.4 267.9 443.2 284.4 462.1 288.2C481 293.6 499.8 293.7 518.7 283.5M405.5 250.1C424.4 272.9 443.2 285.6 462.1 290.5C481 296.4 499.8 298.5 518.7 298.7M405.5 252.4C424.4 273.5 443.2 285.3 462.1 289.9C481 295.2 499.8 296.7 518.7 288.8M405.5 244C424.4 268.4 443.2 285.1 462.1 289.7C481 296.1 499.8 297.5 518.7 301.7M405.5 250C424.4 272.9 443.2 285.6 462.1 290.5C481 296.4 499.8 298.5 518.7 298.7"/><path fill="#ff8c00" fill-opacity="0.036" stroke="none" d="M405.5 282.3L413.8 280.4L422.1 279.4L430.4 279L438.7 279.5L447 280.9L455.3 282.7L463.6 285.3L471.9 288.7L480.2 291.6L488.5 293.3L496.8 294.2L505.1 294.9L513.4 294.6L521.7 289L530 280L530 334.8L521.7 325.9L513.4 319L505.1 314.7L496.8 311.5L488.5 309L480.2 306.8L471.9 304.6L463.6 302.9L455.3 302L447 302L438.7 302L430.4 302L422.1 303.5L413.8 306.7L405.5 310.7Z"/><path fill="#ff8c00" fill-opacity="0.08" stroke="none" d="M405.5 286.6L413.8 284.4L422.1 283L430.4 282.5L438.7 282.9L447 284.1L455.3 285.6L463.6 288L471.9 291.1L480.2 293.9L488.5 295.6L496.8 296.8L505.1 297.8L513.4 298.2L521.7 294.6L530 288.2L530 326.6L521.7 320.4L513.4 315.3L505.1 311.7L496.8 308.9L488.5 306.7L480.2 304.5L471.9 302.2L463.6 300.2L455.3 299.1L447 298.8L438.7 298.6L430.4 298.6L422.1 299.9L413.8 302.7L405.5 306.4Z"/><path fill="none" stroke="#ff8c00" stroke-opacity="0.34" stroke-width="0.7" d="M405.5 291.4C426.2 282.2 447 283.4 467.8 289.7C488.5 293 509.2 308.9 530 279.9M405.5 295.1C426.2 283.8 447 284.5 467.8 290.7C488.5 295.4 509.2 306.8 530 290.8M405.5 294.7C426.2 284.2 447 285.6 467.8 292.1C488.5 298.8 509.2 305.1 530 304.1M405.5 288.4C426.2 282.2 447 285.2 467.8 292.2C488.5 298.6 509.2 306.9 530 300.8M405.5 285.4C426.2 282.9 447 287.8 467.8 294.8C488.5 302 509.2 308 530 309.6M405.5 305.3C426.2 293.1 447 294.4 467.8 296.8C488.5 297 509.2 314.3 530 285M405.5 295.8C426.2 285.7 447 287.2 467.8 292.9C488.5 298 509.2 307.6 530 297.8M405.5 291.4C426.2 287.3 447 292.6 467.8 298.6C488.5 307.2 509.2 307.3 530 327.3M405.5 295.3C426.2 288.4 447 292.3 467.8 297.7C488.5 304.9 509.2 307.7 530 319.5M405.5 303C426.2 293.1 447 296.5 467.8 300.3C488.5 306.9 509.2 308.4 530 325.1M405.5 302.4C426.2 292.7 447 295.9 467.8 299.7C488.5 305.8 509.2 309 530 320.6M405.5 288.7C426.2 282.5 447 285.5 467.8 292.4C488.5 298.3 509.2 307.5 530 299M405.5 301.2C426.2 288.6 447 289.2 467.8 293.4C488.5 295.6 509.2 310.5 530 285.9M405.5 295.4C426.2 283.4 447 284 467.8 290.9C488.5 298.3 509.2 303.3 530 305.6M405.5 289.7C426.2 282.8 447 285.7 467.8 293C488.5 300.9 509.2 305 530 310.9M405.5 287.9C426.2 286.9 447 293.7 467.8 300.1C488.5 309.7 509.2 307.5 530 334.9M405.5 301.3C426.2 286.1 447 285.6 467.8 291.5C488.5 297.9 509.2 303.7 530 303.6M405.5 302.7C426.2 291.8 447 294.1 467.8 297.6C488.5 301.4 509.2 310.7 530 304M405.5 287.9C426.2 282.6 447 286.4 467.8 293.9C488.5 302.9 509.2 304.6 530 317.7M405.5 299.5C426.2 287.8 447 289 467.8 294.2C488.5 299.5 509.2 307.2 530 303.4M405.5 297C426.2 289.2 447 292.7 467.8 297.5C488.5 303.4 509.2 309.1 530 312.7M405.5 302.4C426.2 290.9 447 292.7 467.8 296.6C488.5 300.6 509.2 309.7 530 303.2M405.5 303.9C426.2 293.2 447 295.8 467.8 299C488.5 302.9 509.2 311.1 530 308.1M405.5 298.1C426.2 289.6 447 293.1 467.8 298.3C488.5 306.4 509.2 306.4 530 326.2M405.5 294.7C426.2 287.6 447 291 467.8 296C488.5 300.7 509.2 310.2 530 302.4M405.5 288.4C426.2 285.7 447 291.3 467.8 297.9C488.5 307 509.2 306.7 530 327.5M405.5 296.1C426.2 289.3 447 293 467.8 297.3C488.5 301.2 509.2 311.7 530 302M405.5 302.1C426.2 291.5 447 293.6 467.8 297C488.5 299.7 509.2 311.8 530 297M405.5 305C426.2 295.1 447 298 467.8 300.1C488.5 301.6 509.2 314.7 530 298.6M405.5 306.4C426.2 291.7 447 291.9 467.8 295C488.5 296.9 509.2 310.9 530 289.7M405.5 303.8C426.2 290.6 447 291.9 467.8 296.5C488.5 303.6 509.2 305.5 530 318.9M405.5 306.8C426.2 292.3 447 292.4 467.8 295.1C488.5 295.6 509.2 312.6 530 283.1M405.5 288.2C426.2 280.4 447 282.5 467.8 290.6C488.5 299 509.2 303.2 530 307.6M405.5 307.4C426.2 295.7 447 298.4 467.8 301.1C488.5 306.2 509.2 310.1 530 320.3M405.5 309.3C426.2 296.1 447 297.8 467.8 299.8C488.5 302.3 509.2 312.3 530 304.6M405.5 296.9C426.2 287.5 447 290.3 467.8 296.3C488.5 305.2 509.2 304.4 530 325.6M405.5 308.8C426.2 292 447 291.4 467.8 294.9C488.5 298.7 509.2 307.9 530 300M405.5 306.1C426.2 295.6 447 298.8 467.8 301.3C488.5 305.8 509.2 311.4 530 317M405.5 290.7C426.2 284.7 447 288 467.8 293.7C488.5 297.6 509.2 310.6 530 292.1M405.5 290.6C426.2 288.1 447 293.8 467.8 298.8C488.5 304.4 509.2 311.6 530 311.8M405.5 302.4C426.2 292.1 447 294.8 467.8 298.4C488.5 303.2 509.2 310 530 310.8M405.5 301.6C426.2 289.5 447 290.7 467.8 295.1C488.5 299.5 509.2 308.6 530 301.3M405.5 288.5C426.2 286 447 291.8 467.8 298.2C488.5 307 509.2 307.4 530 326.7M405.5 295.4C426.2 289.3 447 293.5 467.8 298.2C488.5 303.8 509.2 310.2 530 312.1M405.5 307.5C426.2 292.5 447 292.8 467.8 296.1C488.5 299.6 509.2 309.1 530 301"/><path fill="none" stroke="#fff" stroke-opacity="0.5" stroke-width="1.4" d="M405.5 274.3C424.4 285.8 443.2 293.3 462.1 298.3C481 303.3 499.8 307.1 518.7 310.1"/><path fill="none" stroke="#3f6470" stroke-opacity="0.75" stroke-width="0.8" stroke-dasharray="1.3 1.1" d="M405.5 274.3C424.4 285.8 443.2 293.3 462.1 298.3C481 303.3 499.8 307.1 518.7 310.1"/><path fill="none" stroke="#fff" stroke-opacity="0.5" stroke-width="1.4" d="M405.5 293.9C426.2 287.7 447 289.7 467.8 295C488.5 301.1 509.2 306.1 530 307"/><path fill="none" stroke="#d97700" stroke-opacity="0.75" stroke-width="0.8" stroke-dasharray="1.3 1.1" d="M405.5 293.9C426.2 287.7 447 289.7 467.8 295C488.5 301.1 509.2 306.1 530 307"/><path fill="#5d8489" fill-opacity="0.022" stroke="none" d="M572 253.8L578.7 259.1L585.5 264L592.2 268.5L598.9 272.4L605.7 275.8L612.4 278.7L619.1 281.3L625.9 283.9L632.6 287L639.3 290.4L646.1 292.7L652.8 292.4L659.5 288.8L666.3 282.3L673 273.5L673 323.9L666.3 320.5L659.5 317.3L652.8 314.5L646.1 311.9L639.3 309.8L632.6 307.7L625.9 305.6L619.1 302.9L612.4 300.1L605.7 298.1L598.9 297.6L592.2 298.3L585.5 299.9L578.7 302.4L572 306Z"/><path fill="#5d8489" fill-opacity="0.048" stroke="none" d="M572 261.6L578.7 265.6L585.5 269.4L592.2 272.9L598.9 276.2L605.7 279.1L612.4 281.9L619.1 284.6L625.9 287.2L632.6 290.1L639.3 293.3L646.1 295.6L652.8 295.7L659.5 293L666.3 288L673 281.1L673 316.3L666.3 314.8L659.5 313L652.8 311.2L646.1 309.1L639.3 306.9L632.6 304.6L625.9 302.4L619.1 299.7L612.4 296.9L605.7 294.7L598.9 293.9L592.2 293.8L585.5 294.5L578.7 295.9L572 298.2Z"/><path fill="none" stroke="#5d8489" stroke-opacity="0.221" stroke-width="0.7" d="M572 289.5C588.8 285.5 605.7 288.4 622.5 295.6C639.3 301.3 656.2 309.9 673 298.7M572 297.5C588.8 288.9 605.7 290.6 622.5 296.8C639.3 300 656.2 311.5 673 287.1M572 263.6C588.8 271.7 605.7 279.4 622.5 287.4C639.3 299 656.2 303.4 673 309.3M572 292.6C588.8 289.6 605.7 291.1 622.5 300.7C639.3 308.3 656.2 312 673 324.2M572 289.6C588.8 288.9 605.7 290.5 622.5 298.7C639.3 304.1 656.2 312.3 673 303.4M572 285.1C588.8 282.8 605.7 286.6 622.5 294.7C639.3 302.9 656.2 308.4 673 311.1M572 288C588.8 294.2 605.7 293.8 622.5 303.8C639.3 308.5 656.2 316.3 673 310.5M572 259.9C588.8 273.7 605.7 280.5 622.5 288.5C639.3 298.1 656.2 305.7 673 297.8M572 287.2C588.8 284.8 605.7 287.8 622.5 293.6C639.3 296.8 656.2 310.2 673 276.7M572 275.9C588.8 281.3 605.7 285.5 622.5 294C639.3 302.2 656.2 308.7 673 306.8M572 273.8C588.8 278.6 605.7 283.8 622.5 292.6C639.3 302.6 656.2 306.9 673 314.7M572 267.2C588.8 283.9 605.7 287.1 622.5 297.1C639.3 305 656.2 311.9 673 308.7M572 303C588.8 280.4 605.7 285.3 622.5 289.4C639.3 295 656.2 304.4 673 287.9M572 253.8C588.8 267.4 605.7 276.4 622.5 282.3C639.3 291.1 656.2 302.4 673 275.8M572 283.1C588.8 283.9 605.7 287.3 622.5 295.8C639.3 303.4 656.2 309.5 673 309.8M572 271.6C588.8 273.6 605.7 280.6 622.5 286.3C639.3 293.9 656.2 304.1 673 283.6M572 298.2C588.8 280.4 605.7 285.2 622.5 289.5C639.3 294.9 656.2 305.1 673 284.7M572 275.2C588.8 284.2 605.7 287.4 622.5 297.4C639.3 306.2 656.2 310.7 673 318.5M572 276.9C588.8 279.4 605.7 284.5 622.5 293.4C639.3 303.7 656.2 307 673 319.9M572 255.7C588.8 276.5 605.7 282.3 622.5 292.4C639.3 303 656.2 308.1 673 312.3M572 266.9C588.8 284.6 605.7 287.5 622.5 297.9C639.3 305.7 656.2 312.4 673 310.5M572 302.4C588.8 299.4 605.7 294.7 622.5 305C639.3 310 656.2 317.7 673 314.8M572 288.2C588.8 284 605.7 287.4 622.5 294.9C639.3 301.6 656.2 309 673 303M572 270C588.8 279.9 605.7 284.5 622.5 292C639.3 298.4 656.2 308.9 673 288.3M572 258.6C588.8 271.3 605.7 279 622.5 286.2C639.3 295.6 656.2 304.2 673 291M572 262.9C588.8 278.2 605.7 283.5 622.5 293.8C639.3 304.9 656.2 308.1 673 321.2M572 300.4C588.8 291.2 605.7 292.1 622.5 300.8C639.3 307.3 656.2 312 673 319.6M572 278.3C588.8 279.9 605.7 284.8 622.5 293.7C639.3 303.8 656.2 307.1 673 319.4M572 286.7C588.8 290.4 605.7 291.4 622.5 299.6C639.3 303.4 656.2 314 673 294.5M572 270.5C588.8 276 605.7 282.1 622.5 288.1C639.3 294.5 656.2 306.1 673 279.6M572 299.3C588.8 295.5 605.7 294.8 622.5 304.7C639.3 310.2 656.2 315.4 673 321.6M572 255.8C588.8 273.3 605.7 280.2 622.5 289.2C639.3 300 656.2 305.8 673 305.9M572 281.8C588.8 286.1 605.7 288.6 622.5 297.3C639.3 303.8 656.2 311.4 673 305.1M572 284.3C588.8 282.3 605.7 286.2 622.5 292.5C639.3 297.6 656.2 308.6 673 285.9M572 296.6C588.8 287.3 605.7 289.6 622.5 295.4C639.3 298.8 656.2 310.5 673 285.3M572 286.2C588.8 281.7 605.7 285.9 622.5 292.8C639.3 299.7 656.2 307.6 673 298.9M572 290.8C588.8 284.2 605.7 287.5 622.5 292.9C639.3 296.5 656.2 309.2 673 278.6M572 298.1C588.8 289.5 605.7 290.9 622.5 296.6C639.3 298.7 656.2 312 673 279.5M572 271.7C588.8 276.1 605.7 282.2 622.5 289.9C639.3 299.2 656.2 305.6 673 302.9M572 295.4C588.8 286.8 605.7 289.3 622.5 296.3C639.3 301.8 656.2 310 673 300.6M572 271.4C588.8 275 605.7 281.5 622.5 287.7C639.3 295.3 656.2 305.2 673 286.4M572 254.2C588.8 274.3 605.7 280.9 622.5 290.9C639.3 302.4 656.2 306.7 673 314.1M572 275.6C588.8 283.5 605.7 287 622.5 296.9C639.3 306.2 656.2 310.1 673 320.4M572 261.1C588.8 270 605.7 278.2 622.5 285.4C639.3 295.9 656.2 302.8 673 297.4M572 271.8C588.8 279.7 605.7 284.4 622.5 291.4C639.3 297.3 656.2 308.6 673 284.1"/><path fill="none" stroke="#5d8489" stroke-opacity="0.22" stroke-width="0.6" d="M572 243.6C588.8 264.4 605.7 274.3 622.5 280.6C639.3 288.3 656.2 300.6 673 267.5M572 248.1C588.8 265.6 605.7 275.2 622.5 281.1C639.3 288.4 656.2 301.8 673 265.2M572 252.1C588.8 265.7 605.7 275.3 622.5 280.5C639.3 285.4 656.2 303.4 673 248.3M572 249.3C588.8 265.1 605.7 274.9 622.5 280.4C639.3 285.8 656.2 302.6 673 252.1M572 242.1C588.8 263.7 605.7 273.9 622.5 280.2C639.3 287.7 656.2 300.3 673 265.4M572 306C588.8 295.9 605.7 295.3 622.5 305.3C639.3 311.6 656.2 315.8 673 329.6M572 306.5C588.8 296.4 605.7 295.8 622.5 306.4C639.3 313 656.2 317 673 333.4M572 306.3C588.8 296.2 605.7 295.6 622.5 306C639.3 312.4 656.2 316.5 673 331.8M572 306.1C588.8 295.8 605.7 295.2 622.5 304.9C639.3 310.8 656.2 315.1 673 326.9M572 306.4C588.8 296.4 605.7 295.7 622.5 306.3C639.3 312.9 656.2 316.9 673 333.2"/><path fill="#ff8c00" fill-opacity="0.036" stroke="none" d="M544 252L552.1 254.5L560.3 257.3L568.4 260.5L576.5 264.1L584.7 268.5L592.8 273.1L600.9 277L609.1 280.3L617.2 283.3L625.3 285.4L633.5 286.7L641.6 287.7L649.7 288L657.9 284.3L666 277L666 305L657.9 304L649.7 303.1L641.6 302.3L633.5 301.5L625.3 300.9L617.2 300.2L609.1 299.6L600.9 299L592.8 298.5L584.7 298.1L576.5 297.5L568.4 296.4L560.3 294.2L552.1 290.9L544 287Z"/><path fill="#ff8c00" fill-opacity="0.08" stroke="none" d="M544 257.2L552.1 259.9L560.3 262.9L568.4 265.9L576.5 269.1L584.7 272.9L592.8 276.9L600.9 280.3L609.1 283.2L617.2 285.8L625.3 287.7L633.5 288.9L641.6 289.8L649.7 290.2L657.9 287.3L666 281.2L666 300.8L657.9 301L649.7 300.8L641.6 300.1L633.5 299.3L625.3 298.5L617.2 297.7L609.1 296.7L600.9 295.7L592.8 294.7L584.7 293.6L576.5 292.5L568.4 291L560.3 288.6L552.1 285.4L544 281.8Z"/><path fill="none" stroke="#ff8c00" stroke-opacity="0.34" stroke-width="0.7" d="M544 281.5C564.3 291.9 584.7 291.7 605 294C625.3 294.3 645.7 302.1 666 290.8M544 273.3C564.3 279.3 584.7 281.1 605 286C625.3 286.6 645.7 300.7 666 277.4M544 267.2C564.3 274.7 584.7 281.1 605 286.9C625.3 290.1 645.7 300.1 666 286.1M544 275.9C564.3 283 584.7 284.9 605 289.9C625.3 293.1 645.7 300.1 666 293M544 258.6C564.3 262.4 584.7 273 605 283.1C625.3 292.3 645.7 296.8 666 298.9M544 254.2C564.3 265.7 584.7 280.6 605 286.9C625.3 291.2 645.7 300.6 666 286.3M544 265.9C564.3 277 584.7 286.4 605 291.9C625.3 297.1 645.7 300.4 666 300.7M544 256.4C564.3 266.1 584.7 279.5 605 286.5C625.3 292 645.7 299.7 666 290.5M544 265.6C564.3 280.2 584.7 290.8 605 294.4C625.3 297.5 645.7 302.1 666 297.1M544 285.3C564.3 292.4 584.7 288.5 605 291.1C625.3 290.3 645.7 301.7 666 283.3M544 282.1C564.3 290.7 584.7 290.1 605 293.7C625.3 296 645.7 300.9 666 297.7M544 260.8C564.3 270.5 584.7 281.4 605 287.6C625.3 291.9 645.7 300.2 666 289.5M544 275.7C564.3 283.3 584.7 284.9 605 289.3C625.3 290.8 645.7 300.8 666 286.2M544 276.9C564.3 281.4 584.7 282 605 288.2C625.3 292.7 645.7 299 666 295.4M544 276.6C564.3 282.6 584.7 283.3 605 288.5C625.3 291 645.7 300 666 288.9M544 282.9C564.3 294.4 584.7 294.5 605 296.8C625.3 298.5 645.7 302 666 300.6M544 278.7C564.3 289.4 584.7 290.1 605 291.9C625.3 290.1 645.7 302.9 666 279.4M544 282.9C564.3 288.3 584.7 285.7 605 290.4C625.3 292.8 645.7 300 666 293.3M544 258.7C564.3 262.3 584.7 271.9 605 281.2C625.3 287.7 645.7 297.7 666 286.7M544 267.3C564.3 273.5 584.7 279.2 605 285.6C625.3 289.2 645.7 299.6 666 285.4M544 275.6C564.3 284.8 584.7 287.6 605 291.7C625.3 294.2 645.7 301 666 293.3M544 275.1C564.3 285.4 584.7 289.7 605 294.2C625.3 298.7 645.7 300.6 666 304.3M544 284.1C564.3 290.9 584.7 287.9 605 291.2C625.3 291.8 645.7 301.1 666 288.3M544 255.5C564.3 258 584.7 268.6 605 278.6C625.3 285.2 645.7 297.3 666 282.1M544 265.6C564.3 271.7 584.7 278.3 605 285C625.3 288.8 645.7 299.5 666 284.8M544 264.3C564.3 275.6 584.7 285.7 605 291C625.3 295.5 645.7 300.6 666 296.4M544 269.7C564.3 277.7 584.7 283.9 605 290.3C625.3 296.3 645.7 299.3 666 302.1M544 260.7C564.3 265 584.7 274.5 605 283.7C625.3 291.7 645.7 297.4 666 296.2M544 278.8C564.3 285.9 584.7 285.9 605 290.3C625.3 292.2 645.7 300.6 666 290.2M544 256.5C564.3 266 584.7 279.1 605 286.1C625.3 291.3 645.7 299.8 666 288.9M544 267.4C564.3 279.5 584.7 287.8 605 292C625.3 294.9 645.7 301.5 666 293M544 262.7C564.3 270.5 584.7 279.4 605 285.9C625.3 290 645.7 299.8 666 286.3M544 256C564.3 263.1 584.7 275.5 605 283.5C625.3 289.3 645.7 298.9 666 286.9M544 264.2C564.3 270 584.7 277.4 605 284.8C625.3 289.6 645.7 299 666 287.9M544 276.2C564.3 285.4 584.7 287.7 605 291.5C625.3 293 645.7 301.3 666 289.8M544 271.6C564.3 277.7 584.7 281.5 605 287.7C625.3 292 645.7 299.4 666 292.3M544 281.7C564.3 288.5 584.7 287.1 605 291.1C625.3 292.9 645.7 300.6 666 291.8M544 283.4C564.3 295.3 584.7 294.3 605 295C625.3 292.8 645.7 303.5 666 284M544 274.7C564.3 278.6 584.7 279.8 605 286.2C625.3 290 645.7 299 666 289.1M544 274.4C564.3 286.1 584.7 289.9 605 292.5C625.3 292.5 645.7 302.4 666 285.6M544 257.5C564.3 267.4 584.7 280.3 605 287.3C625.3 293.1 645.7 299.7 666 293.3M544 274.5C564.3 278.9 584.7 280.3 605 286.6C625.3 290.3 645.7 299.2 666 289.4M544 265.2C564.3 272.4 584.7 280 605 286.6C625.3 291.2 645.7 299.5 666 290M544 261.4C564.3 275.1 584.7 288.1 605 293.2C625.3 298.9 645.7 300.9 666 302.9M544 258.9C564.3 269.4 584.7 282.6 605 289.8C625.3 297.5 645.7 299.2 666 304"/><path fill="none" stroke="#ff8c00" stroke-opacity="0.22" stroke-width="0.6" d="M544 245.8C564.3 250.2 584.7 265.9 605 275.2C625.3 285 645.7 285.6 666 271M544 232.6C564.3 248.9 584.7 265.4 605 275.8C625.3 283.9 645.7 293.3 666 275.5M544 240.7C564.3 252 584.7 267 605 276.9C625.3 284 645.7 295.1 666 276M544 239C564.3 247.3 584.7 264.4 605 274C625.3 285 645.7 283.1 666 270.1M544 240.5C564.3 250.7 584.7 266.3 605 276.1C625.3 284.3 645.7 291.6 666 274.2M544 227.9C564.3 248 584.7 265 605 275.7C625.3 283.7 645.7 294.8 666 276.4M544 248.4C564.3 251.6 584.7 266.7 605 275.8C625.3 284.9 645.7 287.4 666 271.8M544 248.1C564.3 252.2 584.7 267 605 276.2C625.3 284.8 645.7 289.3 666 272.7M544 227.5C564.3 245.6 584.7 263.6 605 274.1C625.3 284.3 645.7 288 666 273.1M544 249.6C564.3 254.6 584.7 268.4 605 277.7C625.3 284.3 645.7 295.1 666 275.6M544 235.8C564.3 246.4 584.7 263.9 605 273.7C625.3 284.9 645.7 283.3 666 270.3M544 232.4C564.3 246.5 584.7 264.1 605 274.2C625.3 284.5 645.7 286.6 666 272.1M544 304.3C564.3 297.4 584.7 300 605 300.1C625.3 301.4 645.7 303.4 666 306.6M544 304.6C564.3 296.4 584.7 300 605 299.8C625.3 301.1 645.7 302.8 666 305M544 299C564.3 299.8 584.7 299.4 605 300.4C625.3 301.8 645.7 304.1 666 309.1M544 292.9C564.3 300.3 584.7 298.6 605 300.1C625.3 301.5 645.7 303.7 666 308.2M544 307.9C564.3 296.3 584.7 300.4 605 300.1C625.3 301.3 645.7 303.2 666 305.8M544 311.9C564.3 295.9 584.7 300.9 605 300.3C625.3 301.4 645.7 303.5 666 306.2M544 314.9C564.3 295.8 584.7 301.4 605 300.5C625.3 301.6 645.7 303.7 666 306.7"/><path fill="none" stroke="#fff" stroke-opacity="0.5" stroke-width="1.4" d="M572 278C588.8 280.5 605.7 285.7 622.5 294.3C639.3 302 656.2 305 673 298"/><path fill="none" stroke="#3f6470" stroke-opacity="0.75" stroke-width="0.8" stroke-dasharray="1.3 1.1" d="M572 278C588.8 280.5 605.7 285.7 622.5 294.3C639.3 302 656.2 305 673 298"/><path fill="none" stroke="#fff" stroke-opacity="0.5" stroke-width="1.4" d="M544 270C564.3 276.4 584.7 283.6 605 289.1C625.3 295.3 645.7 296.6 666 296"/><path fill="none" stroke="#d97700" stroke-opacity="0.75" stroke-width="0.8" stroke-dasharray="1.3 1.1" d="M544 270C564.3 276.4 584.7 283.6 605 289.1C625.3 295.3 645.7 296.6 666 296"/><line x1="390.7" y1="296.5" x2="683.9" y2="296.5" stroke="#8a8a8a" stroke-width="0.6" stroke-dasharray="0.9 1.1"/><line x1="390.8" y1="213.5" x2="390.8" y2="344.2" stroke="#9a9a9a" stroke-width="0.9"/><line x1="390.7" y1="344.2" x2="536.5" y2="344.2" stroke="#9a9a9a" stroke-width="0.9"/><line x1="537.7" y1="344.2" x2="683.9" y2="344.2" stroke="#9a9a9a" stroke-width="0.9"/><rect x="391.1" y="203" width="144.9" height="10.4" fill="#fff" stroke="#333" stroke-width="0.9"/><text x="463.6" y="211.1" font-size="8.7" text-anchor="middle" fill="#1a1a1a">Amyloid−</text><rect x="538.2" y="203" width="145.3" height="10.4" fill="#fff" stroke="#333" stroke-width="0.9"/><text x="610.8" y="211.1" font-size="8.7" text-anchor="middle" fill="#1a1a1a">Amyloid+</text><text x="390.3" y="199.1" font-size="11" fill="#000">M11</text><text x="389.4" y="265.4" font-size="6.6" text-anchor="end" fill="#555">1</text><line x1="389.6" y1="263" x2="390.8" y2="263" stroke="#9a9a9a" stroke-width="0.6"/><text x="389.4" y="298.9" font-size="6.6" text-anchor="end" fill="#555">0</text><line x1="389.6" y1="296.5" x2="390.8" y2="296.5" stroke="#9a9a9a" stroke-width="0.6"/><text x="389.4" y="332.4" font-size="6.6" text-anchor="end" fill="#555">−1</text><line x1="389.6" y1="330" x2="390.8" y2="330" stroke="#9a9a9a" stroke-width="0.6"/><text x="402.9" y="351" font-size="6.6" text-anchor="middle" fill="#555">45</text><text x="416.7" y="351" font-size="6.6" text-anchor="middle" fill="#555">50</text><text x="430.5" y="351" font-size="6.6" text-anchor="middle" fill="#555">55</text><text x="444.3" y="351" font-size="6.6" text-anchor="middle" fill="#555">60</text><text x="458.1" y="351" font-size="6.6" text-anchor="middle" fill="#555">65</text><text x="471.9" y="351" font-size="6.6" text-anchor="middle" fill="#555">70</text><text x="485.7" y="351" font-size="6.6" text-anchor="middle" fill="#555">75</text><text x="499.5" y="351" font-size="6.6" text-anchor="middle" fill="#555">80</text><text x="513.3" y="351" font-size="6.6" text-anchor="middle" fill="#555">85</text><text x="527.1" y="351" font-size="6.6" text-anchor="middle" fill="#555">90</text><text x="550" y="351" font-size="6.6" text-anchor="middle" fill="#555">45</text><text x="563.8" y="351" font-size="6.6" text-anchor="middle" fill="#555">50</text><text x="577.6" y="351" font-size="6.6" text-anchor="middle" fill="#555">55</text><text x="591.4" y="351" font-size="6.6" text-anchor="middle" fill="#555">60</text><text x="605.2" y="351" font-size="6.6" text-anchor="middle" fill="#555">65</text><text x="619" y="351" font-size="6.6" text-anchor="middle" fill="#555">70</text><text x="632.8" y="351" font-size="6.6" text-anchor="middle" fill="#555">75</text><text x="646.6" y="351" font-size="6.6" text-anchor="middle" fill="#555">80</text><text x="660.4" y="351" font-size="6.6" text-anchor="middle" fill="#555">85</text><text x="674.2" y="351" font-size="6.6" text-anchor="middle" fill="#555">90</text><text x="537.4" y="361.9" font-size="11" text-anchor="middle" fill="#000">Age</text><text x="0" y="0" font-size="11" text-anchor="middle" fill="#000" transform="translate(377.6 278.8) rotate(-90)">Protein Level (Z−Score)</text></g>
<g><path fill="#5d8489" fill-opacity="0.203" stroke="none" d="M37 452.5L44.6 458.8L52.2 464.4L59.8 468.6L67.4 470.9L75 472.6L82.6 474.1L90.2 475.3L97.8 476.2L105.4 476.6L113 476.6L120.6 476.3L128.2 475.8L135.8 475L143.4 473.8L151 472.3L151 498.5L143.4 496.7L135.8 495.1L128.2 493.5L120.6 492L113 490.6L105.4 489.4L97.8 488.1L90.2 486.9L82.6 485.9L75 484.9L67.4 484.2L59.8 483.8L52.2 483.4L44.6 483.1L37 483Z"/><path fill="#5d8489" fill-opacity="0.45" stroke="none" d="M37 456.2L44.6 461.7L52.2 466.6L59.8 470.4L67.4 472.5L75 474.1L82.6 475.5L90.2 476.7L97.8 477.6L105.4 478.1L113 478.2L120.6 478.2L128.2 477.9L135.8 477.4L143.4 476.6L151 475.4L151 495.4L143.4 494L135.8 492.6L128.2 491.3L120.6 490.1L113 488.9L105.4 487.8L97.8 486.7L90.2 485.6L82.6 484.4L75 483.4L67.4 482.6L59.8 481.9L52.2 481.1L44.6 480.2L37 479.3Z"/><path fill="none" stroke="#5d8489" stroke-opacity="0.15" stroke-width="0.8" d="M37 471.3C56 482.3 75 482.4 94 486.9C113 490.3 132 493.8 151 497.6M37 467.3C56 474.4 75 476.6 94 478.5C113 479.9 132 479.3 151 477.1M37 470.5C56 475.9 75 478 94 479.4C113 480.5 132 479.4 151 473.5M37 481.1C56 481.2 75 482.6 94 484.8C113 486.6 132 487.9 151 486.1M37 472.3C56 477.1 75 479 94 481.3C113 483.2 132 484 151 484.1M37 467.4C56 473.9 75 476.3 94 477.7C113 478.7 132 477.4 151 472.5M37 457.5C56 473.8 75 475.3 94 479.8C113 483.6 132 486.6 151 497.7M37 463C56 477.1 75 478.1 94 482.6C113 486.3 132 489.7 151 498.4M37 471.6C56 481 75 481.6 94 485.8C113 489.1 132 492.5 151 497.6M37 457C56 474.6 75 475.8 94 479.4C113 482.2 132 483.1 151 484.6M37 474.1C56 476.3 75 478.7 94 480.2C113 481.5 132 481.1 151 478.5M37 460.5C56 475.6 75 476.8 94 479.5C113 481.3 132 480.7 151 475.3M37 460.8C56 475.9 75 477 94 480.3C113 482.7 132 483.4 151 482.7M37 464C56 476.9 75 478 94 480.9C113 483 132 483.3 151 480.1M37 474.4C56 474.6 75 477.5 94 478.6C113 479.5 132 478.7 151 476.5M37 462.9C56 470.5 75 473 94 475.4C113 477.6 132 474.3 151 474.3M37 480.5C56 477.5 75 480 94 480.6C113 481.1 132 479.8 151 472.9M37 479.3C56 480.6 75 482 94 483.4C113 484.2 132 483.4 151 473.9M37 460.4C56 479.4 75 479.3 94 484.2C113 487.9 132 490.9 151 494.5M37 481.9C56 477.5 75 480.3 94 480.8C113 481.4 132 480.4 151 475M37 476.4C56 479.9 75 481.3 94 483.9C113 486 132 487.4 151 487M37 465.8C56 477.6 75 478.7 94 481.4C113 483.3 132 483.3 151 478.7M37 464.7C56 479.9 75 480.1 94 484.2C113 487.2 132 489.2 151 489.2M37 482.4C56 479.3 75 481.5 94 482.6C113 483.5 132 483.3 151 478.4M37 480.4C56 480.7 75 482.3 94 484.4C113 486.2 132 487.3 151 485.6M37 471.7C56 478.7 75 480.1 94 483.4C113 486.3 132 488.7 151 493.1M37 474.1C56 474.8 75 477.6 94 478.3C113 478.9 132 477.4 151 471.9M37 453.2C56 475.5 75 476 94 481C113 485 132 487.9 151 495.1M37 476.5C56 479.1 75 480.8 94 483.3C113 485.6 132 487.2 151 489.2M37 475.8C56 475 75 478 94 479.7C113 481.6 132 482.6 151 487.6M37 479.7C56 479.1 75 481.1 94 483.2C113 485.2 132 486.6 151 487.9M37 481.9C56 477.4 75 480.2 94 480.9C113 481.7 132 481.1 151 477.3M37 480.2C56 476.8 75 479.6 94 480.3C113 481 132 480.2 151 476.1M37 458.5C56 477.3 75 477.7 94 482.4C113 486 132 488.8 151 494M37 471.5C56 479.2 75 480.4 94 483.5C113 485.9 132 487.6 151 488.3M37 468.3C56 478.4 75 479.5 94 482.9C113 485.6 132 487.5 151 489.5M37 480.9C56 485.7 75 483.8 94 487.9C113 490.9 132 495.3 151 494.2M37 459C56 475.5 75 476.6 94 480C113 482.5 132 483.2 151 482.5M37 468.3C56 476.3 75 478.1 94 480.4C113 482.2 132 482.3 151 480.4M37 458.1C56 475.9 75 476.8 94 481C113 484.4 132 486.5 151 491.1M37 455.1C56 475.8 75 476.4 94 480.6C113 483.8 132 485.4 151 487.3M37 482.7C56 479 75 481.3 94 482.5C113 483.5 132 483.5 151 479.9M37 481.6C56 479.4 75 481.4 94 482.4C113 483.2 132 482.4 151 475.3M37 463.5C56 474.2 75 476.1 94 478.7C113 480.7 132 480.9 151 481.1M37 464.3C56 477.1 75 478.2 94 481C113 482.9 132 482.9 151 478.5M37 474C56 476.8 75 479 94 481.4C113 483.6 132 485.2 151 489.1M37 467.6C56 475.2 75 477.2 94 479.4C113 481.1 132 481 151 479.6M37 463.2C56 477.7 75 478.5 94 482.2C113 485.2 132 486.9 151 488.6M37 459.5C56 481.2 75 480.5 94 486.1C113 490.3 132 494 151 497.7M37 472.2C56 478.5 75 479.9 94 482.1C113 483.7 132 483.7 151 479.2M37 474.8C56 476.9 75 479.2 94 481.4C113 483.5 132 484.8 151 487.9M37 466.9C56 473.6 75 476.1 94 477.4C113 478.5 132 477 151 472.2M37 469.9C56 477.1 75 478.8 94 481.7C113 484.2 132 485.7 151 488.5M37 453.2C56 474.5 75 475.3 94 478.9C113 481.5 132 481.7 151 479.6M37 472.5C56 479.3 75 480.5 94 484C113 487 132 489.8 151 495.1M37 477.7C56 478.4 75 480.4 94 482.1C113 483.5 132 483.7 151 480.8M37 464.9C56 474 75 476.2 94 478.1C113 479.7 132 479 151 476.4M37 459.5C56 471.3 75 473.8 94 475.9C113 477.6 132 476.9 151 476.7M37 470.8C56 482.9 75 482.8 94 487.1C113 490.3 132 493.3 151 494.2M37 459.4C56 476.9 75 477.6 94 482.4C113 486.2 132 489.5 151 497.3M37 469.7C56 480.2 75 480.9 94 485.1C113 488.6 132 492.1 151 498.3M37 452.8C56 473.1 75 474.3 94 477.4C113 479.5 132 478.9 151 475.2M37 474C56 477.8 75 479.6 94 482.1C113 484.2 132 485.5 151 487.2M37 452.5C56 471.4 75 473.1 94 476.2C113 478.5 132 478.3 151 478.5M37 472.6C56 477.4 75 479.2 94 481.5C113 483.4 132 484 151 483.5M37 461.7C56 479 75 479.3 94 483.8C113 487.2 132 489.8 151 492.5M37 459.7C56 478.2 75 478.5 94 483.5C113 487.5 132 490.9 151 497.7M37 459.3C56 476.4 75 477.2 94 480.8C113 483.5 132 484.4 151 483.7M37 469.8C56 479.5 75 480.4 94 483.9C113 486.7 132 488.7 151 490.2M37 463.5C56 475.6 75 477 94 479.5C113 481.3 132 480.8 151 476.7M37 469.8C56 477.8 75 479.2 94 481.3C113 482.7 132 482.1 151 475.4M37 474.9C56 482.3 75 482.8 94 486.9C113 490.2 132 493.8 151 498.7M37 463.8C56 478.4 75 479 94 482.5C113 485.1 132 486.1 151 484.2M37 483.1C56 479.2 75 481.5 94 482.8C113 484 132 484.2 151 481.5M37 474.1C56 475 75 477.7 94 478.8C113 479.8 132 478.9 151 475.8M37 452C56 473.9 75 474.8 94 478.8C113 481.6 132 482.4 151 482.9M37 477.2C56 479.6 75 481.1 94 483.1C113 484.6 132 484.9 151 480.8M37 472.9C56 477.1 75 479.1 94 481.4C113 483.5 132 484.5 151 486.1M37 466.5C56 478.8 75 479.5 94 483.1C113 485.9 132 487.7 151 488.4M37 480.8C56 480.6 75 482.2 94 483.5C113 484.3 132 483.6 151 474.9M37 475.5C56 475.6 75 478.3 94 479C113 479.6 132 478.1 151 472.1M37 463.4C56 475.9 75 477.3 94 480.5C113 483.1 132 484.2 151 485.6M37 475.2C56 478.7 75 480.4 94 482.7C113 484.6 132 485.6 151 485M37 458.8C56 472.3 75 474.4 94 476.5C113 478.1 132 477 151 473.7M37 483.2C56 478.4 75 481 94 481.5C113 481.9 132 480.8 151 473.9M37 464.1C56 476.9 75 478 94 481.6C113 484.5 132 486.4 151 489.6M37 473.8C56 480.5 75 481.4 94 484.1C113 486.1 132 487.1 151 483.7M37 460.7C56 474.9 75 476.3 94 479.3C113 481.5 132 481.8 151 480.8M37 455.2C56 478.4 75 478.2 94 483.8C113 488.1 132 491.8 151 498.3M37 482.7C56 477.6 75 480.4 94 481C113 481.7 132 481 151 476.6"/><path fill="#ff8c00" fill-opacity="0.405" stroke="none" d="M37 469L45.3 469.1L53.7 469.4L62 469.9L70.3 470.6L78.7 471.8L87 473.2L95.3 474.6L103.7 476.1L112 477.2L120.3 478.4L128.7 479L137 478.7L145.3 477.6L153.7 476.1L162 473L162 493L153.7 490.5L145.3 489.2L137 488.4L128.7 487.7L120.3 486.9L112 486.1L103.7 485L95.3 483.6L87 482.2L78.7 480.4L70.3 478.6L62 478.1L53.7 479.4L45.3 482.3L37 486.7Z"/><path fill="#ff8c00" fill-opacity="0.9" stroke="none" d="M37 471.1L45.3 470.7L53.7 470.6L62 470.9L70.3 471.6L78.7 472.9L87 474.2L95.3 475.7L103.7 477.1L112 478.3L120.3 479.4L128.7 480L137 479.8L145.3 479L153.7 477.8L162 475.4L162 490.6L153.7 488.8L145.3 487.8L137 487.3L128.7 486.6L120.3 485.9L112 485L103.7 483.9L95.3 482.6L87 481.1L78.7 479.4L70.3 477.6L62 477.1L53.7 478.2L45.3 480.7L37 484.6Z"/><path fill="none" stroke="#ff8c00" stroke-opacity="0.22" stroke-width="0.8" d="M37 472.4C57.8 468.6 78.7 472.1 99.5 475.7C120.3 479.3 141.2 481.8 162 474.3M37 477.3C57.8 469.2 78.7 474.8 99.5 478.5C120.3 482.9 141.2 482.9 162 484.2M37 472.2C57.8 470.1 78.7 474.2 99.5 479.2C120.3 484.3 141.2 483.7 162 486.8M37 474C57.8 470 78.7 474.7 99.5 479.5C120.3 484.8 141.2 483.6 162 488.9M37 482C57.8 470.7 78.7 478.4 99.5 482.1C120.3 486.8 141.2 485 162 491.8M37 472.7C57.8 470.9 78.7 475.4 99.5 481C120.3 486.8 141.2 484.6 162 492.9M37 478.9C57.8 469.6 78.7 475.8 99.5 478.7C120.3 481.9 141.2 483.5 162 478.4M37 478.9C57.8 468.9 78.7 474.8 99.5 477.2C120.3 479.8 141.2 482.6 162 473.3M37 475.1C57.8 470.8 78.7 476.1 99.5 480.8C120.3 485.3 141.2 484.8 162 487M37 480C57.8 468.7 78.7 475 99.5 477.2C120.3 479.9 141.2 482.5 162 474.2M37 475.2C57.8 469.9 78.7 474.9 99.5 479.4C120.3 484.3 141.2 483.6 162 487.5M37 477.9C57.8 470.3 78.7 476.5 99.5 480.6C120.3 485.1 141.2 484.3 162 487.8M37 483.7C57.8 471.2 78.7 479.7 99.5 483.3C120.3 487.7 141.2 485.7 162 492.8M37 483.6C57.8 471 78.7 479.4 99.5 482C120.3 484.6 141.2 485.7 162 481M37 479C57.8 469.9 78.7 476.2 99.5 479.1C120.3 482 141.2 484 162 477.1M37 484.3C57.8 469.9 78.7 478.1 99.5 480.8C120.3 484.7 141.2 484.1 162 486.7M37 469.3C57.8 471.2 78.7 474.6 99.5 480.9C120.3 486.9 141.2 484.8 162 492.8M37 477.9C57.8 470.6 78.7 476.9 99.5 481.3C120.3 486.5 141.2 484.6 162 491.8M37 475.4C57.8 469 78.7 473.7 99.5 477C120.3 480.4 141.2 482.5 162 476.1M37 485.5C57.8 470.5 78.7 479.4 99.5 482.5C120.3 486.8 141.2 485 162 492M37 482.8C57.8 471.5 78.7 479.8 99.5 482.9C120.3 486 141.2 486.3 162 484.2M37 485.1C57.8 471.1 78.7 480.1 99.5 482.7C120.3 485.5 141.2 485.9 162 483.6M37 475.6C57.8 471.4 78.7 477.1 99.5 481.7C120.3 486 141.2 485.6 162 486.8M37 472.3C57.8 470.8 78.7 475.1 99.5 480.1C120.3 484.6 141.2 484.6 162 484.9M37 485.4C57.8 468.9 78.7 477.1 99.5 478.3C120.3 480.1 141.2 483.1 162 472.8M37 479.1C57.8 471.1 78.7 478 99.5 482C120.3 486.3 141.2 485.4 162 488.2M37 478C57.8 469.3 78.7 475.1 99.5 478.5C120.3 482.4 141.2 483.1 162 481.7M37 473.9C57.8 468.9 78.7 473.2 99.5 476.6C120.3 479.9 141.2 482.4 162 474.6M37 480.7C57.8 469.8 78.7 476.7 99.5 479.9C120.3 483.7 141.2 483.8 162 484.1M37 478.4C57.8 471.8 78.7 478.6 99.5 483.3C120.3 488 141.2 486.2 162 492.3M37 473.5C57.8 468.9 78.7 472.9 99.5 477.2C120.3 482.2 141.2 482.1 162 484.2M37 473.6C57.8 470 78.7 474.6 99.5 479.3C120.3 484.4 141.2 483.7 162 487.2M37 481C57.8 469.5 78.7 476.5 99.5 479.5C120.3 483.5 141.2 483.5 162 484.2M37 475.6C57.8 470.3 78.7 475.6 99.5 480.4C120.3 486 141.2 484 162 492.1M37 474.9C57.8 470.1 78.7 475.2 99.5 479.6C120.3 484.2 141.2 483.9 162 485.9M37 485.6C57.8 470.9 78.7 480 99.5 482.6C120.3 485.8 141.2 485.7 162 485.8M37 475.1C57.8 470.1 78.7 475.2 99.5 479.3C120.3 483.1 141.2 484 162 481.5M37 480.1C57.8 470.3 78.7 477.3 99.5 481.2C120.3 485.9 141.2 484.4 162 490.5M37 472.4C57.8 468.9 78.7 472.6 99.5 476.2C120.3 479.5 141.2 482.3 162 473.4M37 474.1C57.8 471.5 78.7 476.7 99.5 481.7C120.3 486.1 141.2 485.6 162 486.9M37 485.9C57.8 470.6 78.7 479.6 99.5 482C120.3 485 141.2 485.2 162 484.1M37 476.1C57.8 471.4 78.7 477.3 99.5 482.3C120.3 487.4 141.2 485.6 162 492.2M37 470.1C57.8 470.4 78.7 473.9 99.5 479.6C120.3 485.2 141.2 483.9 162 489.5M37 487C57.8 469.7 78.7 478.8 99.5 480C120.3 481.4 141.2 484.3 162 473.6M37 471.5C57.8 471.1 78.7 475.2 99.5 480.3C120.3 484.7 141.2 485 162 483.8M37 484.8C57.8 471.3 78.7 480.1 99.5 482.4C120.3 484.3 141.2 486.2 162 478.3M37 486C57.8 468.8 78.7 477.2 99.5 478.4C120.3 480.3 141.2 483 162 473.9M37 470.2C57.8 470.5 78.7 474.1 99.5 479.7C120.3 485.2 141.2 484.1 162 488.8M37 471.2C57.8 469.9 78.7 473.6 99.5 479.1C120.3 485 141.2 483.3 162 491M37 474.3C57.8 470.9 78.7 476 99.5 481.2C120.3 486.8 141.2 484.7 162 492.7M37 472.5C57.8 469.2 78.7 473 99.5 477.2C120.3 481.3 141.2 482.6 162 479.5M37 486.8C57.8 469.7 78.7 478.7 99.5 480.6C120.3 483.5 141.2 484.1 162 482.1M37 479.7C57.8 470.7 78.7 477.7 99.5 481.7C120.3 486.3 141.2 485 162 490.1M37 483.3C57.8 471 78.7 479.4 99.5 483C120.3 487.6 141.2 485.5 162 492.8M37 476.7C57.8 470.8 78.7 476.8 99.5 481.6C120.3 486.9 141.2 484.8 162 492.5M37 475.6C57.8 471.3 78.7 477 99.5 481.9C120.3 486.8 141.2 485.4 162 490.5M37 480.6C57.8 469.5 78.7 476.3 99.5 479C120.3 482 141.2 483.6 162 478.6M37 475.4C57.8 471.9 78.7 477.8 99.5 482.8C120.3 487.2 141.2 486.3 162 488.9M37 485.6C57.8 470.3 78.7 479.1 99.5 481.4C120.3 484.6 141.2 484.8 162 484M37 476.8C57.8 470.2 78.7 475.9 99.5 480.1C120.3 484.6 141.2 484.1 162 486.5M37 479.4C57.8 471.3 78.7 478.4 99.5 482.3C120.3 486.1 141.2 485.8 162 486.4M37 478.7C57.8 470.6 78.7 477.2 99.5 481.5C120.3 486.5 141.2 484.7 162 491.8M37 477.6C57.8 470.9 78.7 477.3 99.5 481.7C120.3 486.4 141.2 485.1 162 490M37 469.2C57.8 469.9 78.7 472.8 99.5 478.1C120.3 483 141.2 483.2 162 483.5M37 485.7C57.8 470.7 78.7 479.8 99.5 482.4C120.3 485.7 141.2 485.4 162 486.4M37 475.4C57.8 470.3 78.7 475.6 99.5 480.4C120.3 485.8 141.2 484.1 162 491.2M37 470.3C57.8 469.7 78.7 472.9 99.5 478.1C120.3 483.5 141.2 483 162 486.3M37 480.6C57.8 471.2 78.7 478.7 99.5 482.9C120.3 487.7 141.2 485.6 162 492.8M37 479.5C57.8 470.9 78.7 477.8 99.5 481.4C120.3 484.9 141.2 485.2 162 483.7M37 483C57.8 470.2 78.7 478.1 99.5 480.7C120.3 483.7 141.2 484.6 162 481.6M37 483C57.8 469.9 78.7 477.7 99.5 480.8C120.3 484.9 141.2 484.1 162 487.7M37 469.7C57.8 470.1 78.7 473.3 99.5 479C120.3 484.8 141.2 483.4 162 489.7M37 471.4C57.8 467.3 78.7 471.3 99.5 475.1C120.3 479.2 141.2 480.1 162 475.3M37 471.9C57.8 471.5 78.7 476.1 99.5 481.8C120.3 487.3 141.2 485.5 162 492M37 486C57.8 471.5 78.7 481 99.5 483.8C120.3 487 141.2 486.5 162 487.5M37 481C57.8 470.5 78.7 477.8 99.5 481.3C120.3 485.3 141.2 484.8 162 487M37 477.6C57.8 468.9 78.7 474.4 99.5 477.1C120.3 479.9 141.2 482.6 162 474M37 486C57.8 471.2 78.7 480.6 99.5 483.5C120.3 487.3 141.2 486 162 490.3M37 470.6C57.8 469.2 78.7 472.3 99.5 477.3C120.3 482.7 141.2 482.3 162 485.6M37 476.6C57.8 469.2 78.7 474.5 99.5 477.9C120.3 481.8 141.2 482.8 162 480.5M37 468.8C57.8 469.5 78.7 472.2 99.5 477.3C120.3 482.3 141.2 482.7 162 482.4M37 476.8C57.8 470.3 78.7 476.1 99.5 480.1C120.3 484.2 141.2 484.3 162 484.1M37 484.8C57.8 471.3 78.7 480.3 99.5 483.5C120.3 487.5 141.2 486 162 490.9M37 483.3C57.8 470.8 78.7 479 99.5 481.8C120.3 484.8 141.2 485.3 162 483M37 483.7C57.8 470.9 78.7 479.3 99.5 481.4C120.3 483 141.2 485.7 162 475M37 480.3C57.8 470.5 78.7 477.4 99.5 480.1C120.3 482.2 141.2 484.9 162 474.9M37 481C57.8 470.8 78.7 478.3 99.5 482.1C120.3 486.6 141.2 485.1 162 490.4M37 478.4C57.8 471.4 78.7 478.1 99.5 482.3C120.3 486.3 141.2 485.8 162 487.3M37 477.2C57.8 469 78.7 474.5 99.5 478.2C120.3 483 141.2 482.5 162 485.9M37 483.4C57.8 471 78.7 479.3 99.5 482.3C120.3 485.4 141.2 485.6 162 484.3"/><path fill="none" stroke="#ff8c00" stroke-opacity="0.14" stroke-width="0.6" d="M37 488.5C57.8 472.8 78.7 481.9 99.5 484.8C120.3 488.6 141.2 487.4 162 493.5M37 494.2C57.8 476 78.7 483.4 99.5 485.7C120.3 488.9 141.2 488.2 162 493.7M37 490.8C57.8 475.2 78.7 483.5 99.5 486.1C120.3 488.9 141.2 491.1 162 495.7M37 488.1C57.8 473.4 78.7 482.6 99.5 485.4C120.3 488.7 141.2 489.8 162 495M37 489C57.8 473.8 78.7 482.7 99.5 485.5C120.3 488.7 141.2 489.7 162 494.9M37 494.3C57.8 477 78.7 484.3 99.5 486.5C120.3 489.1 141.2 491.1 162 495.5"/><path fill="none" stroke="#fff" stroke-opacity="0.75" stroke-width="1.8" d="M37 471C56 473.9 75 476.7 94 479.3C113 481.8 132 483.3 151 484.4"/><path fill="none" stroke="#3f6470" stroke-opacity="0.6" stroke-width="0.9" stroke-dasharray="1.3 1.1" d="M37 471C56 473.9 75 476.7 94 479.3C113 481.8 132 483.3 151 484.4"/><path fill="none" stroke="#fff" stroke-opacity="0.75" stroke-width="1.8" d="M37 477C57.8 471.2 78.7 475.1 99.5 479.6C120.3 484 141.2 482.9 162 483"/><path fill="none" stroke="#d97700" stroke-opacity="0.6" stroke-width="0.9" stroke-dasharray="1.3 1.1" d="M37 477C57.8 471.2 78.7 475.1 99.5 479.6C120.3 484 141.2 482.9 162 483"/><defs><linearGradient id="g3" gradientUnits="userSpaceOnUse" x1="204" y1="0" x2="305" y2="0"><stop offset="0.0" stop-color="#5d8489" stop-opacity="0.25"/><stop offset="0.653" stop-color="#5d8489" stop-opacity="0.25"/><stop offset="0.851" stop-color="#5d8489" stop-opacity="0.6"/><stop offset="1.0" stop-color="#5d8489" stop-opacity="0.75"/></linearGradient></defs><path fill="url(#g3)" fill-opacity="0.45" stroke="none" d="M204 465.7L210.7 466.3L217.5 467L224.2 467.9L230.9 468.8L237.7 469.9L244.4 471.1L251.1 472.3L257.9 474.1L264.6 476.3L271.3 478.2L278.1 478.8L284.8 477.6L291.5 474.9L298.3 470.9L305 465.7L305 513.9L298.3 506L291.5 499.1L284.8 493.6L278.1 490.1L271.3 488.3L264.6 486.8L257.9 485.8L251.1 485.4L244.4 485.5L237.7 486L230.9 486.8L224.2 487.9L217.5 489.5L210.7 491.5L204 494Z"/><path fill="url(#g3)" stroke="none" d="M204 469.1L210.7 469.3L217.5 469.7L224.2 470.3L230.9 471L237.7 471.9L244.4 472.8L251.1 473.9L257.9 475.5L264.6 477.6L271.3 479.4L278.1 480.1L284.8 479.5L291.5 477.8L298.3 475.1L305 471.5L305 508.1L298.3 501.8L291.5 496.2L284.8 491.7L278.1 488.8L271.3 487.1L264.6 485.5L257.9 484.4L251.1 483.8L244.4 483.8L237.7 484L230.9 484.6L224.2 485.5L217.5 486.8L210.7 488.5L204 490.6Z"/><path fill="none" stroke="#5d8489" stroke-opacity="0.15" stroke-width="0.8" d="M204 488C220.8 482.8 237.7 481.4 254.5 482.1C271.3 483.8 288.2 489.6 305 490.7M204 470.2C220.8 472.1 237.7 474 254.5 476.5C271.3 481.4 288.2 486.1 305 470.6M204 466.7C220.8 470.8 237.7 474.1 254.5 478.3C271.3 485.9 288.2 482.2 305 511.5M204 486.3C220.8 478.6 237.7 477.4 254.5 478.9C271.3 483 288.2 485.2 305 487.2M204 487.4C220.8 479.2 237.7 477.7 254.5 478.8C271.3 482.2 288.2 486.2 305 479.6M204 487.4C220.8 481 237.7 479.8 254.5 481C271.3 484 288.2 487.2 305 493.8M204 476.4C220.8 477.6 237.7 479 254.5 481.7C271.3 486.3 288.2 486.4 305 513.3M204 472.2C220.8 474 237.7 475.9 254.5 478.7C271.3 483.9 288.2 485.5 305 492.7M204 492.4C220.8 484.1 237.7 481.9 254.5 482.4C271.3 484 288.2 489 305 493.7M204 487.1C220.8 483 237.7 481.9 254.5 482.6C271.3 484.1 288.2 490.2 305 492.8M204 489.7C220.8 480.8 237.7 479.2 254.5 480.6C271.3 484.5 288.2 485.3 305 499.9M204 484.2C220.8 482 237.7 481.9 254.5 483.6C271.3 486.4 288.2 488.4 305 513.6M204 471.6C220.8 472.8 237.7 474.9 254.5 478.1C271.3 484.2 288.2 484 305 496.2M204 477.6C220.8 476.9 237.7 477.3 254.5 478.9C271.3 481.8 288.2 488.6 305 473.1M204 488.1C220.8 480.3 237.7 478.6 254.5 479.3C271.3 481.8 288.2 487.7 305 475.1M204 491C220.8 481.6 237.7 479.9 254.5 481.6C271.3 486 288.2 484.3 305 513.4M204 488.7C220.8 482.5 237.7 481.1 254.5 482.2C271.3 484.9 288.2 487.8 305 501.3M204 484.3C220.8 478.8 237.7 478.3 254.5 480.3C271.3 484.8 288.2 485 305 502.1M204 471.2C220.8 476.4 237.7 478.7 254.5 481.3C271.3 485 288.2 488.7 305 499.5M204 494.3C220.8 485.4 237.7 482.7 254.5 482.6C271.3 483.2 288.2 490.5 305 485.5M204 468.7C220.8 469 237.7 471 254.5 474C271.3 480.6 288.2 483.1 305 465.5M204 482.6C220.8 479.3 237.7 479.4 254.5 481.7C271.3 486.1 288.2 485.6 305 513.1M204 469.8C220.8 470.8 237.7 473.2 254.5 476.9C271.3 484.4 288.2 481.8 305 498.9M204 466.5C220.8 471.3 237.7 474.6 254.5 478.6C271.3 485.7 288.2 483.2 305 509.2M204 478C220.8 477.5 237.7 478.4 254.5 480.8C271.3 485 288.2 486.5 305 502.6M204 493.3C220.8 485.4 237.7 483.1 254.5 483.3C271.3 484.2 288.2 490.2 305 494.4M204 467.5C220.8 469.8 237.7 472.6 254.5 476.5C271.3 484.2 288.2 481.8 305 497M204 472.5C220.8 472.5 237.7 474 254.5 476.5C271.3 481.6 288.2 485.3 305 473M204 473.6C220.8 471.7 237.7 473 254.5 476C271.3 482.5 288.2 482.7 305 482.5M204 487.3C220.8 477.1 237.7 475.7 254.5 477.5C271.3 482.9 288.2 482.7 305 487.9M204 479.9C220.8 477.8 237.7 477.8 254.5 479.3C271.3 482.4 288.2 488 305 479.3M204 484.3C220.8 483.5 237.7 483.3 254.5 484.4C271.3 485.8 288.2 490.9 305 507M204 493.8C220.8 482.9 237.7 480.4 254.5 481.2C271.3 484.1 288.2 486.3 305 496.6M204 468C220.8 469.8 237.7 472 254.5 474.9C271.3 480.8 288.2 484.5 305 466.4M204 474.3C220.8 475 237.7 476.4 254.5 479C271.3 483.7 288.2 486 305 491.3M204 466.5C220.8 468.2 237.7 470.8 254.5 474.3C271.3 481.3 288.2 482.6 305 472M204 466.3C220.8 468.4 237.7 471.1 254.5 474.8C271.3 482.2 288.2 482.2 305 479.6M204 469.6C220.8 471.8 237.7 474.5 254.5 478.3C271.3 485.6 288.2 482.4 305 509M204 483.2C220.8 478 237.7 477.2 254.5 478.2C271.3 481 288.2 487.9 305 467.2M204 480.2C220.8 475.4 237.7 475.9 254.5 478.9C271.3 485.7 288.2 481.6 305 511.6M204 486.8C220.8 480.5 237.7 479.7 254.5 481.5C271.3 485.7 288.2 485.4 305 509.4M204 480.1C220.8 477.9 237.7 478.1 254.5 479.9C271.3 483.5 288.2 487.3 305 488.7M204 481.7C220.8 480.7 237.7 480.7 254.5 482.1C271.3 484.1 288.2 489.8 305 493M204 467.1C220.8 468.5 237.7 471.1 254.5 474.7C271.3 482.2 288.2 481.9 305 479.7M204 471.7C220.8 474 237.7 475.8 254.5 478.2C271.3 482.6 288.2 487 305 480.7M204 493.3C220.8 485.4 237.7 482.8 254.5 482.6C271.3 482.8 288.2 491.4 305 481.2M204 470C220.8 471.4 237.7 473.4 254.5 476.3C271.3 481.9 288.2 484.7 305 475.8M204 481.9C220.8 477.5 237.7 477.2 254.5 478.7C271.3 482.4 288.2 486.7 305 479.8M204 480.5C220.8 474 237.7 473.6 254.5 475.4C271.3 480.5 288.2 483.9 305 465.6M204 466.6C220.8 466.9 237.7 469.7 254.5 473.8C271.3 482.6 288.2 479.5 305 485.4M204 470.1C220.8 466.5 237.7 468.7 254.5 472.7C271.3 481.3 288.2 479.3 305 467M204 483.7C220.8 476.7 237.7 476 254.5 477.8C271.3 482.6 288.2 484.2 305 483.9M204 485.5C220.8 482.9 237.7 482.2 254.5 483C271.3 484.3 288.2 490.7 305 494.3M204 483.3C220.8 480.9 237.7 480.8 254.5 482.5C271.3 485.6 288.2 488 305 506.8M204 476.5C220.8 475.7 237.7 476.8 254.5 479.3C271.3 484.2 288.2 485.4 305 495.6M204 468C220.8 471.7 237.7 474.7 254.5 478.7C271.3 485.8 288.2 482.9 305 510M204 488.2C220.8 482.7 237.7 481.4 254.5 482.1C271.3 483.8 288.2 489.5 305 491M204 479C220.8 474.5 237.7 474.6 254.5 476.7C271.3 481.9 288.2 484.2 305 477.1M204 489.5C220.8 481.6 237.7 479.9 254.5 480.8C271.3 483.5 288.2 487.4 305 489.9M204 486C220.8 483.4 237.7 482.9 254.5 484.2C271.3 486.2 288.2 489.6 305 511.5M204 492.9C220.8 482.9 237.7 480.7 254.5 481.7C271.3 484.9 288.2 486.2 305 503.2M204 475.4C220.8 475.4 237.7 476.6 254.5 479.1C271.3 483.9 288.2 485.8 305 492.6M204 484.9C220.8 478.1 237.7 477.1 254.5 478.4C271.3 482.2 288.2 485.9 305 479.2M204 493C220.8 483 237.7 480.8 254.5 481.6C271.3 484.4 288.2 486.8 305 498.4M204 472.7C220.8 471.5 237.7 473.2 254.5 476.5C271.3 483.6 288.2 482 305 492.7M204 478.8C220.8 475.7 237.7 476.3 254.5 478.8C271.3 484.3 288.2 484 305 498.2M204 472.6C220.8 476 237.7 478.1 254.5 481.1C271.3 485.9 288.2 486.5 305 508.9M204 468.4C220.8 473.5 237.7 476.4 254.5 479.8C271.3 485.5 288.2 485.5 305 505.8M204 479C220.8 480.1 237.7 480.9 254.5 482.9C271.3 485.8 288.2 488.9 305 507.8M204 465.3C220.8 471.1 237.7 474.6 254.5 478.6C271.3 485.3 288.2 483.9 305 505.5M204 475C220.8 476.7 237.7 478 254.5 480.3C271.3 484.2 288.2 487.7 305 493.8M204 474.3C220.8 476.7 237.7 478.2 254.5 480.5C271.3 484.1 288.2 488.1 305 493.2M204 474.5C220.8 471.4 237.7 472.3 254.5 474.8C271.3 480.8 288.2 483.3 305 467.8M204 474.2C220.8 472.6 237.7 474.1 254.5 477.3C271.3 484 288.2 482.4 305 496.1M204 485.6C220.8 480.6 237.7 480 254.5 481.8C271.3 485.6 288.2 486.2 305 508.6M204 484.9C220.8 479.2 237.7 478.5 254.5 480.1C271.3 484 288.2 486 305 494.5M204 486.6C220.8 485 237.7 484.4 254.5 485.4C271.3 486.6 288.2 491.1 305 513.7M204 484.1C220.8 479.5 237.7 478.6 254.5 479.4C271.3 481.5 288.2 489.1 305 471M204 492.4C220.8 481.7 237.7 479.3 254.5 480C271.3 482.8 288.2 486.5 305 485M204 471.4C220.8 473.1 237.7 475.1 254.5 478C271.3 483.6 288.2 485 305 490.3M204 482.2C220.8 479.1 237.7 479.3 254.5 481.5C271.3 486.1 288.2 485.5 305 512.6M204 484.7C220.8 479.4 237.7 478.7 254.5 480.3C271.3 483.8 288.2 486.6 305 492.6M204 487.9C220.8 483.5 237.7 482.1 254.5 482.5C271.3 483.2 288.2 491.3 305 484.2M204 481.2C220.8 480 237.7 480.5 254.5 482.6C271.3 486.4 288.2 487.2 305 513.6M204 488.9C220.8 481.7 237.7 480 254.5 480.8C271.3 483.1 288.2 488.2 305 485.9M204 481.6C220.8 479.8 237.7 480 254.5 481.9C271.3 485.3 288.2 487.6 305 504.1M204 468C220.8 471.1 237.7 473.6 254.5 476.6C271.3 482.3 288.2 485.1 305 478.8M204 485.2C220.8 479.6 237.7 478.4 254.5 479.2C271.3 481.4 288.2 488.7 305 470.6M204 480.7C220.8 477 237.7 476.7 254.5 478C271.3 481.1 288.2 487.7 305 468.1M204 474.8C220.8 475.7 237.7 476.9 254.5 478.9C271.3 482.5 288.2 487.8 305 479.9"/><path fill="none" stroke="#5d8489" stroke-opacity="0.14" stroke-width="0.6" d="M204 460.1C220.8 464 237.7 467.1 254.5 471C271.3 478.1 288.2 479.7 305 462.6M204 464.4C220.8 466 237.7 468.7 254.5 472.1C271.3 479 288.2 480.6 305 461.6M204 461.3C220.8 463.9 237.7 466.9 254.5 470.2C271.3 476.4 288.2 478.2 305 455.4M204 464.8C220.8 466.5 237.7 469.2 254.5 472.8C271.3 480.2 288.2 481.6 305 465.4M204 464C220.8 465.8 237.7 468.6 254.5 472.1C271.3 479 288.2 480.6 305 462.2M204 461.4C220.8 464.3 237.7 467.2 254.5 470.7C271.3 477.2 288.2 479 305 458.2M204 495.5C220.8 488.3 237.7 486.7 254.5 487C271.3 488 288.2 492.7 305 519M204 494.9C220.8 488 237.7 486.6 254.5 487.3C271.3 488.8 288.2 493.5 305 526.2M204 494.1C220.8 487.2 237.7 485.1 254.5 485.6C271.3 486.6 288.2 490.5 305 514.2M204 494C220.8 487.4 237.7 485.7 254.5 486.6C271.3 488.2 288.2 492.4 305 524.6M204 495C220.8 488.1 237.7 486.5 254.5 487.1C271.3 488.4 288.2 493 305 523M204 495.3C220.8 488.3 237.7 486.9 254.5 487.4C271.3 488.8 288.2 493.6 305 524.5"/><path fill="#ff8c00" fill-opacity="0.3" stroke="none" d="M176 468L185.4 470L194.8 472L204.2 474L213.5 476.4L222.9 479.1L232.3 481.7L241.7 483.8L251.1 485L260.5 485.4L269.8 485.7L279.2 486.2L288.6 487.6L298 489.8L298 492L288.6 488.5L279.2 486.2L269.8 485.6L260.5 485.4L251.1 485L241.7 483.9L232.3 482.2L222.9 480.2L213.5 478.7L204.2 478L194.8 479.7L185.4 484.2L176 490Z"/><path fill="#ff8c00" fill-opacity="0.405" stroke="none" d="M176 432L184.1 437.1L192.3 441.9L200.4 446.3L208.5 450.1L216.7 453.5L224.8 456.7L232.9 459.7L241.1 462.6L249.2 465.4L257.3 468.5L265.5 471.9L273.6 474.1L281.7 474L289.9 471.9L298 467.9L298 489.8L289.9 487.9L281.7 486.5L273.6 485.8L265.5 485.5L257.3 485.3L249.2 484.9L241.1 483.7L232.9 481.9L224.8 479.7L216.7 477.3L208.5 475.1L200.4 473.2L192.3 471.4L184.1 469.7L176 468Z"/><path fill="#ff8c00" fill-opacity="0.9" stroke="none" d="M176 436.3L184.1 441L192.3 445.5L200.4 449.5L208.5 453.1L216.7 456.4L224.8 459.4L232.9 462.3L241.1 465.1L249.2 467.7L257.3 470.5L265.5 473.5L273.6 475.5L281.7 475.5L289.9 473.8L298 470.5L298 487.2L289.9 486L281.7 485L273.6 484.4L265.5 483.9L257.3 483.3L249.2 482.5L241.1 481.2L232.9 479.2L224.8 476.9L216.7 474.5L208.5 472.1L200.4 470L192.3 467.9L184.1 465.8L176 463.7Z"/><path fill="none" stroke="#ff8c00" stroke-opacity="0.22" stroke-width="0.8" d="M176 451.1C196.3 461.8 216.7 469 237 474.5C257.3 477.5 277.7 484.1 298 474.9M176 446.7C196.3 453.4 216.7 459.8 237 465.6C257.3 470.3 277.7 483 298 471.9M176 459.9C196.3 463.2 216.7 468.4 237 472.8C257.3 475.1 277.7 483.8 298 473.9M176 448.9C196.3 459.8 216.7 467.4 237 474.1C257.3 479.7 277.7 483.2 298 481.2M176 441.6C196.3 454.8 216.7 463.2 237 470.9C257.3 478.2 277.7 482.7 298 481.5M176 467C196.3 467.1 216.7 471.2 237 474.5C257.3 475.1 277.7 484.2 298 472.4M176 434.7C196.3 447.9 216.7 456.5 237 464.9C257.3 473.8 277.7 482 298 479.8M176 458.2C196.3 465.6 216.7 471.7 237 475.2C257.3 474.9 277.7 485 298 468.2M176 451.5C196.3 461 216.7 468.1 237 474.5C257.3 479.6 277.7 483.3 298 480.7M176 453.2C196.3 456.1 216.7 461.3 237 466.5C257.3 470.6 277.7 482.9 298 472.5M176 459.3C196.3 464.1 216.7 469.8 237 474.5C257.3 477.4 277.7 483.7 298 476.5M176 445.9C196.3 450.8 216.7 456.6 237 462.4C257.3 467.3 277.7 482.7 298 469.8M176 435.8C196.3 452.6 216.7 461.9 237 469.9C257.3 477.1 277.7 483 298 479.1M176 438C196.3 451.1 216.7 459.7 237 468.4C257.3 477.7 277.7 481.9 298 484.3M176 462C196.3 469.3 216.7 475.3 237 478.6C257.3 478.2 277.7 485.2 298 471.1M176 441.1C196.3 451 216.7 458.6 237 466.1C257.3 473.7 277.7 482.2 298 478.7M176 453.1C196.3 459.9 216.7 466.3 237 472.5C257.3 477.9 277.7 482.9 298 480.5M176 454.7C196.3 459.3 216.7 464.9 237 470.3C257.3 474.3 277.7 483.2 298 475.5M176 437.3C196.3 454.6 216.7 464.2 237 472.9C257.3 481.4 277.7 482.7 298 485.1M176 441C196.3 458.3 216.7 467.8 237 475.8C257.3 483 277.7 483.2 298 484.6M176 432.6C196.3 447.5 216.7 456.3 237 464C257.3 471.1 277.7 482.7 298 473.7M176 454.9C196.3 458.6 216.7 464 237 469.3C257.3 473.2 277.7 483.1 298 474.6M176 468C196.3 473.8 216.7 477.4 237 483.5C257.3 488 277.7 483.6 298 490.2M176 442.6C196.3 453.4 216.7 461.1 237 468.3C257.3 475 277.7 482.6 298 478.3M176 464.5C196.3 469.1 216.7 475 237 480.9C257.3 486.2 277.7 483.1 298 489.1M176 443.9C196.3 452.8 216.7 459.9 237 466.5C257.3 472.4 277.7 482.7 298 475.1M176 467.1C196.3 465.8 216.7 469.8 237 474.4C257.3 477.9 277.7 483 298 480.3M176 456.2C196.3 459.7 216.7 465.1 237 470.5C257.3 474.9 277.7 483 298 477.1M176 438.3C196.3 450.6 216.7 458.5 237 464.9C257.3 469.8 277.7 483.3 298 469.7M176 441.3C196.3 449.4 216.7 456.2 237 462.7C257.3 468.3 277.7 482.6 298 470.9M176 457.4C196.3 458.8 216.7 463.7 237 468.9C257.3 473.4 277.7 482.8 298 476.3M176 435.3C196.3 449.8 216.7 458.5 237 466.1C257.3 473 277.7 482.8 298 475.4M176 467.5C196.3 471.7 216.7 477.2 237 482.2C257.3 485.5 277.7 483.8 298 485.5M176 452.5C196.3 458.9 216.7 464.9 237 469.4C257.3 471.5 277.7 484 298 469.1M176 463.6C196.3 466.6 216.7 471.3 237 474.2C257.3 473.4 277.7 484.8 298 467.5M176 435.2C196.3 451.6 216.7 461 237 469.8C257.3 478.8 277.7 482.3 298 483.7M176 439.4C196.3 454.4 216.7 463.2 237 470.4C257.3 476.3 277.7 483.3 298 476.8M176 439.2C196.3 449.9 216.7 457.4 237 463.7C257.3 468.5 277.7 483.1 298 469M176 435.3C196.3 450.7 216.7 459.7 237 468C257.3 476.2 277.7 482.5 298 480.1M176 432.5C196.3 449.9 216.7 459.6 237 468.6C257.3 477.7 277.7 482.3 298 482.5M176 443C196.3 457.7 216.7 466.1 237 471.8C257.3 474.9 277.7 484.3 298 471.1M176 440.4C196.3 450.6 216.7 458 237 464.7C257.3 470.7 277.7 482.7 298 473.1M176 440.3C196.3 452.9 216.7 460.9 237 467.5C257.3 472.7 277.7 483.3 298 473.1M176 434.4C196.3 451.3 216.7 461 237 470.3C257.3 480.2 277.7 482 298 486.5M176 432.6C196.3 446 216.7 454.4 237 461.8C257.3 468.5 277.7 482.7 298 470.9M176 452.2C196.3 459.4 216.7 465.7 237 470.9C257.3 474 277.7 483.7 298 473M176 466C196.3 469.6 216.7 474.9 237 480C257.3 483.6 277.7 483.6 298 484.3M176 465.9C196.3 467.8 216.7 472.4 237 475.8C257.3 476.3 277.7 484.4 298 472.7M176 462.7C196.3 462.9 216.7 467.4 237 472.1C257.3 475.6 277.7 483.1 298 477.5M176 461.6C196.3 467.8 216.7 474.2 237 480.7C257.3 486.7 277.7 482.9 298 490.2M176 460.2C196.3 461.7 216.7 466.5 237 471.5C257.3 475.5 277.7 483 298 477.6M176 439.7C196.3 449.9 216.7 457.3 237 464.2C257.3 470.4 277.7 482.6 298 473.2M176 456.8C196.3 465.2 216.7 472.1 237 479C257.3 485.5 277.7 482.9 298 489.1M176 441.3C196.3 450.7 216.7 458.2 237 466.3C257.3 475.2 277.7 481.7 298 482.5M176 462.1C196.3 460 216.7 463.9 237 469C257.3 473.8 277.7 482.4 298 478.5M176 434.5C196.3 445.8 216.7 453.8 237 461.8C257.3 470 277.7 481.9 298 475.7M176 448.4C196.3 461.9 216.7 470.2 237 477C257.3 482.4 277.7 483.6 298 482.4M176 461.9C196.3 468.7 216.7 474.9 237 479.7C257.3 482.4 277.7 484.1 298 480.5M176 437.7C196.3 453.7 216.7 462.9 237 470.9C257.3 478.3 277.7 482.9 298 480.9M176 433.3C196.3 449.6 216.7 459 237 467.9C257.3 476.9 277.7 482.2 298 482.1M176 463C196.3 467.8 216.7 473.5 237 478.7C257.3 482.3 277.7 483.6 298 482.7M176 466.3C196.3 467.3 216.7 471.5 237 474.6C257.3 474.5 277.7 484.5 298 470.5M176 450.3C196.3 463.2 216.7 471.6 237 479.2C257.3 486.4 277.7 483 298 489.4M176 453.8C196.3 464.4 216.7 472 237 479.1C257.3 485.6 277.7 483 298 488.4M176 457.6C196.3 460 216.7 465.2 237 471.5C257.3 477.7 277.7 482.3 298 483.2M176 451.3C196.3 464.7 216.7 473 237 480.4C257.3 486.9 277.7 483.3 298 488.8M176 448.4C196.3 457.3 216.7 464.4 237 471.2C257.3 477.3 277.7 482.8 298 480.3M176 461.6C196.3 459.7 216.7 463.3 237 466.9C257.3 468.7 277.7 483.4 298 468.6M176 467.6C196.3 471.6 216.7 477 237 482.1C257.3 485.7 277.7 483.7 298 486.1M176 454.3C196.3 461.6 216.7 467.9 237 473C257.3 475.9 277.7 483.8 298 474.4M176 456.7C196.3 460.1 216.7 465.3 237 469.6C257.3 471.9 277.7 483.7 298 470.7M176 442.7C196.3 455.2 216.7 463.3 237 470.6C257.3 477 277.7 483 298 479.1M176 441.8C196.3 456 216.7 464.8 237 473.4C257.3 482.1 277.7 482.3 298 487.4M176 433.6C196.3 453.3 216.7 463.7 237 472.7C257.3 481.5 277.7 482.7 298 485M176 457.6C196.3 463.8 216.7 470 237 476C257.3 481 277.7 483.1 298 483.2M176 457.5C196.3 464 216.7 470.1 237 475C257.3 477.7 277.7 483.9 298 476.1M176 457.7C196.3 462.1 216.7 467.6 237 472.4C257.3 475.4 277.7 483.6 298 474.8M176 460.3C196.3 459.2 216.7 463.2 237 467.5C257.3 470.5 277.7 483 298 472M176 431.8C196.3 448.3 216.7 457.9 237 467.4C257.3 477.8 277.7 481.8 298 485M176 441.6C196.3 458.4 216.7 467.8 237 475.7C257.3 482.7 277.7 483.2 298 484.2M176 442C196.3 449.7 216.7 456.3 237 462.3C257.3 467.3 277.7 482.8 298 469M176 452.7C196.3 454.4 216.7 459.3 237 464.3C257.3 468.4 277.7 482.8 298 470.6M176 432.2C196.3 446.8 216.7 455.7 237 463.6C257.3 471.2 277.7 482.5 298 474.7M176 464.9C196.3 473.2 216.7 478.1 237 483.5C257.3 487.3 277.7 484.1 298 484.6M176 433.4C196.3 448.9 216.7 457.8 237 464.7C257.3 469.9 277.7 483.4 298 469.4M176 459.3C196.3 462 216.7 467.2 237 473C257.3 478.2 277.7 482.7 298 481.9M176 448.6C196.3 457.2 216.7 464.3 237 471.1C257.3 477.5 277.7 482.7 298 481M176 461C196.3 465.9 216.7 471.7 237 477.6C257.3 482.6 277.7 483.1 298 485.2M176 440.1C196.3 448.7 216.7 455.7 237 462.5C257.3 468.8 277.7 482.4 298 472.4M176 466.8C196.3 468.8 216.7 473.8 237 478.8C257.3 482.8 277.7 483.3 298 484.5"/><path fill="none" stroke="#ff8c00" stroke-opacity="0.14" stroke-width="0.6" d="M176 426.5C196.3 442.5 216.7 451.4 237 458.3C257.3 464.3 277.7 478.8 298 464.5M176 423.7C196.3 442.4 216.7 451.3 237 458.8C257.3 465.1 277.7 480.5 298 466.2M176 423.8C196.3 443.1 216.7 451.9 237 459.5C257.3 465.9 277.7 482.1 298 467.6M176 427.3C196.3 442.8 216.7 451.7 237 458.5C257.3 464.5 277.7 479 298 464.6M176 426.2C196.3 443 216.7 451.8 237 459C257.3 465.1 277.7 480.2 298 465.7M176 480.3C196.3 473.4 216.7 477.8 237 483.1C257.3 487.9 277.7 481.9 298 491.9M176 472.4C196.3 473.3 216.7 477.4 237 483C257.3 487.8 277.7 482.2 298 491.3M176 477.9C196.3 471.6 216.7 477.8 237 483C257.3 487.6 277.7 483 298 490.3M176 469.1C196.3 473.4 216.7 477.2 237 483C257.3 487.8 277.7 482.3 298 491.1M176 472C196.3 473.1 216.7 477.4 237 483C257.3 487.8 277.7 482.4 298 491.1M176 477.5C196.3 472.1 216.7 477.8 237 483C257.3 487.6 277.7 482.7 298 490.7M176 487.5C196.3 470.5 216.7 478.4 237 483C257.3 487.4 277.7 483.3 298 490M176 480.3C196.3 471.9 216.7 477.9 237 483C257.3 487.6 277.7 482.7 298 490.7M176 471.3C196.3 472.6 216.7 477.4 237 482.9C257.3 487.7 277.7 482.7 298 490.7M176 487.1C196.3 470.8 216.7 478.4 237 483C257.3 487.5 277.7 483.1 298 490.2M176 483C196.3 471.3 216.7 478.1 237 483C257.3 487.5 277.7 483 298 490.4M176 479.4C196.3 472.4 216.7 477.8 237 483C257.3 487.7 277.7 482.5 298 491M176 469.6C196.3 473.9 216.7 477.2 237 483C257.3 487.9 277.7 482 298 491.6M176 476.3C196.3 471.7 216.7 477.7 237 482.9C257.3 487.6 277.7 483 298 490.3M176 472.6C196.3 474.1 216.7 477.4 237 483C257.3 487.9 277.7 481.8 298 492M176 488.7C196.3 471.4 216.7 478.4 237 483C257.3 487.6 277.7 482.7 298 490.8M176 474C196.3 473.3 216.7 477.5 237 483C257.3 487.8 277.7 482.2 298 491.4M176 469.2C196.3 474.1 216.7 477.2 237 483C257.3 487.9 277.7 481.9 298 491.7M176 468.1C196.3 471.9 216.7 477.3 237 482.9C257.3 487.6 277.7 483.2 298 489.9M176 475.4C196.3 472.4 216.7 477.6 237 483C257.3 487.7 277.7 482.6 298 490.8M176 468.1C196.3 472.5 216.7 477.2 237 482.9C257.3 487.7 277.7 482.8 298 490.4M176 489.6C196.3 472.2 216.7 478.4 237 483.1C257.3 487.7 277.7 482.2 298 491.5"/><path fill="none" stroke="#fff" stroke-opacity="0.75" stroke-width="1.8" d="M204 477C220.8 477.1 237.7 477.2 254.5 478.3C271.3 481.6 288.2 485.4 305 488"/><path fill="none" stroke="#3f6470" stroke-opacity="0.6" stroke-width="0.9" stroke-dasharray="1.3 1.1" d="M204 477C220.8 477.1 237.7 477.2 254.5 478.3C271.3 481.6 288.2 485.4 305 488"/><path fill="none" stroke="#fff" stroke-opacity="0.75" stroke-width="1.8" d="M176 452C196.3 459.2 216.7 464.7 237 469.6C257.3 475 277.7 481.5 298 479"/><path fill="none" stroke="#d97700" stroke-opacity="0.6" stroke-width="0.9" stroke-dasharray="1.3 1.1" d="M176 452C196.3 459.2 216.7 464.7 237 469.6C257.3 475 277.7 481.5 298 479"/><line x1="22.3" y1="480.6" x2="315.5" y2="480.6" stroke="#8a8a8a" stroke-width="0.6" stroke-dasharray="0.9 1.1"/><line x1="22.4" y1="403.5" x2="22.4" y2="534.2" stroke="#9a9a9a" stroke-width="0.9"/><line x1="22.3" y1="534.2" x2="168.1" y2="534.2" stroke="#9a9a9a" stroke-width="0.9"/><line x1="169.3" y1="534.2" x2="315.5" y2="534.2" stroke="#9a9a9a" stroke-width="0.9"/><rect x="22.8" y="393" width="144.9" height="10.4" fill="#fff" stroke="#333" stroke-width="0.9"/><text x="95.2" y="401.1" font-size="8.7" text-anchor="middle" fill="#1a1a1a">Amyloid−</text><rect x="169.8" y="393" width="145.3" height="10.4" fill="#fff" stroke="#333" stroke-width="0.9"/><text x="242.4" y="401.1" font-size="8.7" text-anchor="middle" fill="#1a1a1a">Amyloid+</text><text x="21.9" y="389.1" font-size="11" fill="#000">M4</text><text x="21" y="467.7" font-size="6.6" text-anchor="end" fill="#555">1</text><line x1="21.2" y1="465.3" x2="22.4" y2="465.3" stroke="#9a9a9a" stroke-width="0.6"/><text x="21" y="483" font-size="6.6" text-anchor="end" fill="#555">0</text><line x1="21.2" y1="480.6" x2="22.4" y2="480.6" stroke="#9a9a9a" stroke-width="0.6"/><text x="21" y="498.3" font-size="6.6" text-anchor="end" fill="#555">−1</text><line x1="21.2" y1="495.9" x2="22.4" y2="495.9" stroke="#9a9a9a" stroke-width="0.6"/><text x="34.5" y="541" font-size="6.6" text-anchor="middle" fill="#555">45</text><text x="48.3" y="541" font-size="6.6" text-anchor="middle" fill="#555">50</text><text x="62.1" y="541" font-size="6.6" text-anchor="middle" fill="#555">55</text><text x="75.9" y="541" font-size="6.6" text-anchor="middle" fill="#555">60</text><text x="89.7" y="541" font-size="6.6" text-anchor="middle" fill="#555">65</text><text x="103.5" y="541" font-size="6.6" text-anchor="middle" fill="#555">70</text><text x="117.3" y="541" font-size="6.6" text-anchor="middle" fill="#555">75</text><text x="131.1" y="541" font-size="6.6" text-anchor="middle" fill="#555">80</text><text x="144.9" y="541" font-size="6.6" text-anchor="middle" fill="#555">85</text><text x="158.7" y="541" font-size="6.6" text-anchor="middle" fill="#555">90</text><text x="181.6" y="541" font-size="6.6" text-anchor="middle" fill="#555">45</text><text x="195.4" y="541" font-size="6.6" text-anchor="middle" fill="#555">50</text><text x="209.2" y="541" font-size="6.6" text-anchor="middle" fill="#555">55</text><text x="223" y="541" font-size="6.6" text-anchor="middle" fill="#555">60</text><text x="236.8" y="541" font-size="6.6" text-anchor="middle" fill="#555">65</text><text x="250.6" y="541" font-size="6.6" text-anchor="middle" fill="#555">70</text><text x="264.4" y="541" font-size="6.6" text-anchor="middle" fill="#555">75</text><text x="278.2" y="541" font-size="6.6" text-anchor="middle" fill="#555">80</text><text x="292" y="541" font-size="6.6" text-anchor="middle" fill="#555">85</text><text x="305.8" y="541" font-size="6.6" text-anchor="middle" fill="#555">90</text><text x="169" y="551.9" font-size="11" text-anchor="middle" fill="#000">Age</text><text x="0" y="0" font-size="11" text-anchor="middle" fill="#000" transform="translate(9.2 468.8) rotate(-90)">Protein Level (Z−Score)</text></g>
<g><path fill="#5d8489" fill-opacity="0.022" stroke="none" d="M405.5 446L413 448.4L420.6 450.5L428.1 452.4L435.7 454L443.2 455.7L450.8 456.6L458.3 456.4L465.9 455.1L473.4 453.1L481 450.6L488.5 448.1L496.1 445L503.6 441.2L511.2 436.8L518.7 432L518.7 457.8L511.2 458.8L503.6 459.8L496.1 460.8L488.5 461.7L481 462.6L473.4 463.5L465.9 464.4L458.3 465.2L450.8 465.7L443.2 466.1L435.7 466.5L428.1 466.8L420.6 467.2L413 467.6L405.5 468Z"/><path fill="#5d8489" fill-opacity="0.048" stroke="none" d="M405.5 449.3L413 451.3L420.6 453L428.1 454.6L435.7 455.9L443.2 457.2L450.8 458L458.3 457.7L465.9 456.5L473.4 454.6L481 452.4L488.5 450.2L496.1 447.4L503.6 444L511.2 440.1L518.7 435.9L518.7 453.9L511.2 455.5L503.6 457L496.1 458.4L488.5 459.7L481 460.8L473.4 462L465.9 463L458.3 463.9L450.8 464.4L443.2 464.6L435.7 464.6L428.1 464.7L420.6 464.7L413 464.7L405.5 464.7Z"/><path fill="none" stroke="#5d8489" stroke-opacity="0.221" stroke-width="0.7" d="M405.5 465.1C424.4 464.4 443.2 465.2 462.1 463.2C481 460.4 499.8 457.1 518.7 450.8M405.5 461.5C424.4 462.5 443.2 464.4 462.1 462.6C481 460.1 499.8 457 518.7 453.1M405.5 457C424.4 455.7 443.2 460.4 462.1 457.2C481 452.6 499.8 445.9 518.7 431.5M405.5 455.4C424.4 459.4 443.2 463 462.1 460.7C481 457.6 499.8 453.1 518.7 442.3M405.5 461.8C424.4 460.1 443.2 462.7 462.1 459.8C481 455.6 499.8 449.8 518.7 435.5M405.5 447.3C424.4 450.9 443.2 458.3 462.1 455.9C481 452.3 499.8 446.6 518.7 440.3M405.5 453.1C424.4 455.5 443.2 460.7 462.1 458.5C481 455.3 499.8 450.5 518.7 444.9M405.5 458.4C424.4 459.7 443.2 462.9 462.1 460.7C481 457.7 499.8 453.5 518.7 446.6M405.5 447C424.4 453.5 443.2 460.1 462.1 458.3C481 455.7 499.8 451.5 518.7 448.1M405.5 465.4C424.4 463.9 443.2 464.8 462.1 461.7C481 457.4 499.8 451.8 518.7 433.1M405.5 454.9C424.4 455.4 443.2 460.4 462.1 457.7C481 453.7 499.8 447.9 518.7 437.8M405.5 464.1C424.4 465.3 443.2 465.9 462.1 463.6C481 460.6 499.8 456.8 518.7 444.9M405.5 454.1C424.4 456.5 443.2 461.2 462.1 458.8C481 455.2 499.8 450 518.7 440.2M405.5 448.7C424.4 454.6 443.2 460.5 462.1 458.4C481 455.2 499.8 450.3 518.7 441.6M405.5 451.9C424.4 457 443.2 461.8 462.1 460.1C481 457.6 499.8 453.9 518.7 450.2M405.5 455.2C424.4 458.3 443.2 462.3 462.1 460C481 456.8 499.8 452.1 518.7 442.8M405.5 451.3C424.4 456.4 443.2 461.5 462.1 459.5C481 456.7 499.8 452.4 518.7 445.8M405.5 462.2C424.4 460.3 443.2 463 462.1 461.2C481 458.8 499.8 455.7 518.7 457.9M405.5 461.3C424.4 460.2 443.2 462.9 462.1 460C481 456 499.8 450.6 518.7 437.6M405.5 464.7C424.4 464.9 443.2 465.6 462.1 463.1C481 459.8 499.8 455.6 518.7 442.5M405.5 452C424.4 455.4 443.2 460.8 462.1 458.8C481 455.8 499.8 451.3 518.7 446.6M405.5 453.6C424.4 458.3 443.2 462.5 462.1 461.1C481 459.1 499.8 456.2 518.7 456.1M405.5 462.5C424.4 461.5 443.2 463.6 462.1 460.8C481 457.1 499.8 452 518.7 439.5M405.5 458.5C424.4 460.3 443.2 463.3 462.1 461.3C481 458.7 499.8 455.1 518.7 450.6M405.5 452.1C424.4 458.2 443.2 462.6 462.1 460.8C481 458.3 499.8 454.6 518.7 448.2M405.5 453.5C424.4 457.8 443.2 462.2 462.1 460.5C481 458.2 499.8 454.8 518.7 452.7M405.5 450.1C424.4 453.4 443.2 459.7 462.1 457.3C481 453.7 499.8 448.2 518.7 440.2M405.5 449.8C424.4 455.2 443.2 460.8 462.1 459C481 456.4 499.8 452.3 518.7 448.3M405.5 462.5C424.4 459.8 443.2 462.5 462.1 459.6C481 455.7 499.8 450.2 518.7 439.8M405.5 459C424.4 458.9 443.2 462.3 462.1 459.4C481 455.4 499.8 449.7 518.7 436.1M405.5 463.2C424.4 462.6 443.2 464.3 462.1 462C481 458.9 499.8 454.8 518.7 446.9M405.5 448.3C424.4 454.1 443.2 460.3 462.1 458.4C481 455.6 499.8 451.2 518.7 446.6M405.5 458C424.4 461.7 443.2 464.2 462.1 462.8C481 460.8 499.8 458.2 518.7 456.4M405.5 452C424.4 457 443.2 461.8 462.1 460C481 457.5 499.8 453.7 518.7 449.5M405.5 452.3C424.4 457.1 443.2 461.8 462.1 459.6C481 456.5 499.8 451.9 518.7 442.9M405.5 462.1C424.4 460.9 443.2 463.2 462.1 460.3C481 456.2 499.8 450.7 518.7 436.3M405.5 453.8C424.4 457.2 443.2 461.8 462.1 459.7C481 456.7 499.8 452.3 518.7 445.5M405.5 459.3C424.4 459.9 443.2 462.9 462.1 460.9C481 458.1 499.8 454.4 518.7 450.5M405.5 459.2C424.4 458.9 443.2 462.3 462.1 459.5C481 455.7 499.8 450.3 518.7 438.4M405.5 453.7C424.4 456.9 443.2 461.5 462.1 459C481 455.5 499.8 450.2 518.7 439.1M405.5 453C424.4 457 443.2 461.7 462.1 459.5C481 456.4 499.8 451.8 518.7 443.5M405.5 446.7C424.4 452.1 443.2 459.2 462.1 457.2C481 454.3 499.8 449.6 518.7 446M405.5 454.5C424.4 454.2 443.2 459.7 462.1 456.7C481 452.4 499.8 446 518.7 434.4M405.5 463.6C424.4 465.1 443.2 465.8 462.1 463.4C481 460.2 499.8 456.1 518.7 442.6M405.5 462.1C424.4 460.4 443.2 462.9 462.1 460.4C481 456.9 499.8 452.1 518.7 443.9"/><path fill="none" stroke="#5d8489" stroke-opacity="0.22" stroke-width="0.6" d="M405.5 442.8C424.4 449.7 443.2 456.2 462.1 453.3C481 447.7 499.8 441.4 518.7 429.9M405.5 444.1C424.4 450.1 443.2 456.9 462.1 453.6C481 447.9 499.8 440.4 518.7 429M405.5 442.8C424.4 449.9 443.2 456.6 462.1 454.1C481 449.4 499.8 444.3 518.7 432M405.5 445.3C424.4 450.6 443.2 457.6 462.1 454.3C481 448.8 499.8 440.7 518.7 428.9M405.5 445.4C424.4 450.5 443.2 457.4 462.1 453.6C481 447.4 499.8 438.1 518.7 427M405.5 468.4C424.4 468 443.2 467.2 462.1 466C481 464.7 499.8 463.2 518.7 459.9M405.5 469.9C424.4 467.3 443.2 467 462.1 465.3C481 463.3 499.8 461 518.7 458.2M405.5 471.8C424.4 468 443.2 467.7 462.1 466.1C481 464.4 499.8 462.4 518.7 459.2M405.5 476.8C424.4 468.3 443.2 468.6 462.1 466.6C481 464.8 499.8 462.1 518.7 458.8M405.5 476.1C424.4 468.7 443.2 468.7 462.1 467C481 465.5 499.8 463.3 518.7 459.8"/><path fill="#ff8c00" fill-opacity="0.036" stroke="none" d="M405.5 464L413.8 465.6L422.1 466.8L430.4 467.8L438.7 468.4L447 468.9L455.3 468.9L463.6 467.3L471.9 465L480.2 461.8L488.5 459.5L496.8 458.6L505.1 457.6L513.4 455.5L521.7 449.9L530 442L530 475.5L521.7 470.9L513.4 468.1L505.1 468L496.8 469.1L488.5 470.6L480.2 472.1L471.9 474L463.6 475.9L455.3 477.5L447 478.2L438.7 478.5L430.4 479.1L422.1 480.2L413.8 482.1L405.5 484.4Z"/><path fill="#ff8c00" fill-opacity="0.08" stroke="none" d="M405.5 467.1L413.8 468L422.1 468.9L430.4 469.4L438.7 469.9L447 470.3L455.3 470.2L463.6 468.6L471.9 466.4L480.2 463.4L488.5 461.2L496.8 460.1L505.1 459.2L513.4 457.4L521.7 453L530 447L530 470.5L521.7 467.7L513.4 466.2L505.1 466.5L496.8 467.5L488.5 468.9L480.2 470.6L471.9 472.7L463.6 474.6L455.3 476.2L447 476.8L438.7 477L430.4 477.4L422.1 478.2L413.8 479.6L405.5 481.3Z"/><path fill="none" stroke="#ff8c00" stroke-opacity="0.34" stroke-width="0.7" d="M405.5 482.6C426.2 475.4 447 479.7 467.8 473.8C488.5 469.2 509.2 461.8 530 469.4M405.5 477.3C426.2 473 447 477.5 467.8 471.5C488.5 464.8 509.2 463.1 530 461.5M405.5 478.1C426.2 472.8 447 477.4 467.8 470.8C488.5 460.9 509.2 466.5 530 450.3M405.5 477.8C426.2 471.7 447 476.5 467.8 469.8C488.5 459.4 509.2 466 530 449.2M405.5 470.6C426.2 470.2 447 474.9 467.8 469.2C488.5 461.2 509.2 463.3 530 456.6M405.5 479.5C426.2 475.7 447 479.8 467.8 474.1C488.5 469.1 509.2 463.5 530 466.3M405.5 477.8C426.2 472.3 447 477 467.8 470.9C488.5 463.8 509.2 462.7 530 460.8M405.5 474.6C426.2 470.6 447 475.4 467.8 468.9C488.5 458.6 509.2 465.5 530 449.2M405.5 479.1C426.2 471.6 447 476.5 467.8 469.6C488.5 459.2 509.2 465.7 530 449.5M405.5 470.2C426.2 469.1 447 474 467.8 467.9C488.5 458.1 509.2 464.3 530 450.9M405.5 469.8C426.2 471 447 475.4 467.8 469.8C488.5 461.1 509.2 465.1 530 453.5M405.5 471.9C426.2 470.6 447 475.3 467.8 469.5C488.5 461.5 509.2 463.4 530 456.8M405.5 477.6C426.2 469 447 474.4 467.8 467.3C488.5 456.1 509.2 464.2 530 448M405.5 471.7C426.2 467.4 447 472.8 467.8 466.3C488.5 455.9 509.2 462.9 530 450.4M405.5 478C426.2 472.3 447 477 467.8 470.2C488.5 459.1 509.2 467.5 530 446.2M405.5 468.5C426.2 471.8 447 476 467.8 471.1C488.5 465.3 509.2 462.9 530 462.8M405.5 476.3C426.2 471.3 447 476.1 467.8 470.3C488.5 464.8 509.2 460 530 466.9M405.5 469.4C426.2 467.4 447 472.7 467.8 466.5C488.5 456.1 509.2 463.4 530 449.8M405.5 475C426.2 473.7 447 477.9 467.8 472.5C488.5 466.9 509.2 463.1 530 464.3M405.5 475.3C426.2 472.9 447 477.3 467.8 471.4C488.5 463.5 509.2 464.9 530 456.7M405.5 473.4C426.2 470.7 447 475.4 467.8 468.9C488.5 457 509.2 467.8 530 443.1M405.5 475.8C426.2 472.7 447 477.2 467.8 471.1C488.5 462.5 509.2 465.4 530 454.6M405.5 476.2C426.2 475.4 447 479.3 467.8 474.4C488.5 472.1 509.2 460.6 530 475.5M405.5 481.6C426.2 474.9 447 479.2 467.8 473C488.5 466.1 509.2 464.3 530 460.9M405.5 468.4C426.2 472.2 447 476.3 467.8 472C488.5 469.9 509.2 458.8 530 476.2M405.5 470.7C426.2 471.3 447 475.7 467.8 470.6C488.5 465.1 509.2 461.4 530 465.2M405.5 472.5C426.2 470.9 447 475.6 467.8 470C488.5 463.3 509.2 462 530 461.7M405.5 470.8C426.2 471 447 475.5 467.8 470.2C488.5 463.9 509.2 462 530 462.5M405.5 475.9C426.2 474.2 447 478.4 467.8 473.1C488.5 468.3 509.2 462.4 530 467.3M405.5 466.5C426.2 470.4 447 474.8 467.8 469.7C488.5 462.7 509.2 463.3 530 458.7M405.5 470.3C426.2 470.1 447 474.7 467.8 468.7C488.5 458.5 509.2 465.8 530 448.7M405.5 475C426.2 471.7 447 476.4 467.8 471C488.5 466.9 509.2 459.1 530 471.5M405.5 479.8C426.2 470.9 447 476 467.8 468.8C488.5 457.4 509.2 465.9 530 446.7M405.5 473.7C426.2 472.1 447 476.6 467.8 471C488.5 464.3 509.2 463 530 461.3M405.5 476C426.2 473.4 447 477.7 467.8 472.1C488.5 466.4 509.2 462.7 530 464.5M405.5 465.8C426.2 468.2 447 473 467.8 467.3C488.5 456.7 509.2 465.3 530 447.4M405.5 473.1C426.2 470.1 447 475 467.8 469C488.5 461.1 509.2 462.5 530 457.8M405.5 480.9C426.2 474.8 447 479.1 467.8 473.3C488.5 468.7 509.2 461.6 530 469M405.5 466C426.2 468.6 447 473.3 467.8 468C488.5 460.3 509.2 462.2 530 457.6M405.5 481.5C426.2 472.8 447 477.6 467.8 470.5C488.5 459.4 509.2 467.1 530 447.2M405.5 477.4C426.2 474.4 447 478.6 467.8 473.3C488.5 469.4 509.2 461.2 530 471M405.5 468.4C426.2 471.4 447 475.7 467.8 470.3C488.5 462.1 509.2 465.4 530 454.2M405.5 475.7C426.2 470.7 447 475.6 467.8 469.2C488.5 459.7 509.2 464.3 530 452.7M405.5 472.3C426.2 471.9 447 476.4 467.8 471.2C488.5 466.8 509.2 460.5 530 468.9M405.5 480.2C426.2 472.9 447 477.6 467.8 471.2C488.5 463.7 509.2 463.3 530 459.7"/><path fill="none" stroke="#ff8c00" stroke-opacity="0.22" stroke-width="0.6" d="M405.5 486.6C426.2 479.2 447 481.4 467.8 476.5C488.5 472.7 509.2 471 530 487.2M405.5 488.9C426.2 480.1 447 481.4 467.8 476.3C488.5 473.1 509.2 466.6 530 480.3M405.5 489.9C426.2 480.4 447 481.3 467.8 476.1C488.5 473.2 509.2 463.6 530 475.9M405.5 488.1C426.2 479.7 447 481.3 467.8 476.3C488.5 472.9 509.2 467.5 530 481.9M405.5 489.4C426.2 480 447 481.3 467.8 476C488.5 473.1 509.2 463.2 530 475.7"/><path fill="none" stroke="#fff" stroke-opacity="0.5" stroke-width="1.4" d="M405.5 458C424.4 459.3 443.2 462.1 462.1 460.3C481 456.8 499.8 452 518.7 444"/><path fill="none" stroke="#3f6470" stroke-opacity="0.75" stroke-width="0.8" stroke-dasharray="1.3 1.1" d="M405.5 458C424.4 459.3 443.2 462.1 462.1 460.3C481 456.8 499.8 452 518.7 444"/><path fill="none" stroke="#fff" stroke-opacity="0.5" stroke-width="1.4" d="M405.5 475C426.2 470.3 447 476.9 467.8 470.6C488.5 463.6 509.2 461.9 530 460"/><path fill="none" stroke="#d97700" stroke-opacity="0.75" stroke-width="0.8" stroke-dasharray="1.3 1.1" d="M405.5 475C426.2 470.3 447 476.9 467.8 470.6C488.5 463.6 509.2 461.9 530 460"/><path fill="#5d8489" fill-opacity="0.022" stroke="none" d="M572 452.5L578.7 455.1L585.5 457.1L592.2 458.4L598.9 459L605.7 458.8L612.4 458L619.1 456.7L625.9 455L632.6 452.1L639.3 447.2L646.1 441.6L652.8 436.7L659.5 431.9L666.3 427L673 422L673 450.4L666.3 451.7L659.5 453.5L652.8 455.7L646.1 458.2L639.3 461.9L632.6 465.7L625.9 468.2L619.1 469.5L612.4 470.4L605.7 471.4L598.9 472.8L592.2 474.5L585.5 476.4L578.7 478.6L572 481Z"/><path fill="#5d8489" fill-opacity="0.048" stroke="none" d="M572 456.8L578.7 458.6L585.5 460L592.2 460.8L598.9 461L605.7 460.7L612.4 459.9L619.1 458.6L625.9 457L632.6 454.2L639.3 449.4L646.1 444.1L652.8 439.5L659.5 435.1L666.3 430.7L673 426.3L673 446.1L666.3 448L659.5 450.3L652.8 452.8L646.1 455.7L639.3 459.7L632.6 463.7L625.9 466.2L619.1 467.6L612.4 468.6L605.7 469.5L598.9 470.7L592.2 472L585.5 473.5L578.7 475.1L572 476.7Z"/><path fill="none" stroke="#5d8489" stroke-opacity="0.221" stroke-width="0.7" d="M572 457.1C588.8 469.4 605.7 466.9 622.5 465.8C639.3 462 656.2 448.1 673 442.7M572 474.2C588.8 470.5 605.7 468.3 622.5 465C639.3 459.7 656.2 444.5 673 438.4M572 458.4C588.8 463.8 605.7 463.2 622.5 460.2C639.3 456.3 656.2 440.8 673 440.1M572 463.7C588.8 467.2 605.7 465.7 622.5 462.4C639.3 457.5 656.2 441.2 673 432.9M572 477.2C588.8 469 605.7 467.3 622.5 462.4C639.3 456.1 656.2 438.5 673 427.3M572 467.6C588.8 468.2 605.7 466.5 622.5 462.7C639.3 457.3 656.2 440.4 673 429.6M572 453C588.8 461.9 605.7 461.9 622.5 458.2C639.3 453.9 656.2 436.4 673 429.4M572 465.5C588.8 464.6 605.7 464.1 622.5 459.3C639.3 453.9 656.2 435.9 673 426.5M572 471.6C588.8 469.6 605.7 467.5 622.5 464.7C639.3 460 656.2 445.5 673 443.1M572 455.9C588.8 463.7 605.7 463.1 622.5 459.7C639.3 455.2 656.2 438.2 673 430.5M572 455.5C588.8 464.5 605.7 463.6 622.5 461.2C639.3 457.4 656.2 442.2 673 440M572 464.5C588.8 466.4 605.7 465.2 622.5 460.9C639.3 455.4 656.2 437.5 673 425M572 470.2C588.8 469.6 605.7 467.5 622.5 463.8C639.3 458.1 656.2 441.4 673 429.4M572 472.4C588.8 468.9 605.7 467.1 622.5 463.3C639.3 457.8 656.2 441.6 673 433.8M572 465.6C588.8 468.1 605.7 466.4 622.5 463.7C639.3 459.3 656.2 444.6 673 441.4M572 462.6C588.8 465.4 605.7 464.5 622.5 461.4C639.3 457.2 656.2 441.9 673 440.4M572 461.9C588.8 461 605.7 461.5 622.5 456.4C639.3 451.5 656.2 433.3 673 428.7M572 464.9C588.8 467.3 605.7 465.8 622.5 462.7C639.3 458 656.2 442.3 673 436.8M572 472.7C588.8 469.4 605.7 467.5 622.5 464.7C639.3 460.1 656.2 446 673 445.8M572 461C588.8 469.7 605.7 467.3 622.5 465.6C639.3 461.4 656.2 447.2 673 440.9M572 475.5C588.8 469.2 605.7 467.4 622.5 463C639.3 457.1 656.2 440.3 673 431M572 469.3C588.8 468.9 605.7 467 622.5 463.6C639.3 458.4 656.2 442.4 673 434.5M572 480.7C588.8 475.3 605.7 471.2 622.5 469.3C639.3 464.4 656.2 451.8 673 448.9M572 463.9C588.8 460.9 605.7 461.6 622.5 456.2C639.3 451.3 656.2 433 673 429.1M572 475.3C588.8 471.9 605.7 469.2 622.5 466.1C639.3 460.7 656.2 445.6 673 437.9M572 460.5C588.8 465.1 605.7 464.2 622.5 460.4C639.3 455.5 656.2 438.4 673 429.4M572 465.9C588.8 466.7 605.7 465.4 622.5 462.1C639.3 457.3 656.2 441.6 673 437.1M572 468.2C588.8 463.4 605.7 463.4 622.5 457.6C639.3 451.8 656.2 432.7 673 422.5M572 464.3C588.8 465.8 605.7 464.8 622.5 460.8C639.3 455.8 656.2 438.9 673 430.9M572 466C588.8 467.4 605.7 465.9 622.5 463.4C639.3 459.2 656.2 444.9 673 444.9M572 461C588.8 468.1 605.7 466.2 622.5 463.6C639.3 458.9 656.2 443.2 673 434.1M572 456.7C588.8 461.2 605.7 461.5 622.5 457.3C639.3 453 656.2 435.5 673 431.2M572 477.4C588.8 469.3 605.7 467.6 622.5 462.8C639.3 456.7 656.2 439.5 673 429.2M572 460.5C588.8 467.9 605.7 466 622.5 464.1C639.3 460 656.2 445.6 673 442.1M572 466.8C588.8 461.8 605.7 462.3 622.5 456.7C639.3 451.4 656.2 433 673 427.7M572 480.4C588.8 471.6 605.7 469.2 622.5 465.4C639.3 459.6 656.2 444.1 673 437.4M572 468.1C588.8 469.3 605.7 467.3 622.5 463.3C639.3 457.5 656.2 439.9 673 424.7M572 471.9C588.8 466.7 605.7 465.6 622.5 461C639.3 455.5 656.2 438.4 673 431.2M572 459C588.8 462.3 605.7 462.3 622.5 458.7C639.3 454.8 656.2 438.8 673 439.2M572 468.4C588.8 466.3 605.7 465.2 622.5 461.4C639.3 456.6 656.2 440.6 673 437.1M572 466.4C588.8 467.4 605.7 465.9 622.5 463.1C639.3 458.6 656.2 443.8 673 442M572 458.2C588.8 467.3 605.7 465.5 622.5 464.1C639.3 460.7 656.2 447.2 673 447.7M572 463.7C588.8 466.3 605.7 465.1 622.5 461.6C639.3 456.9 656.2 440.6 673 434.3M572 466.2C588.8 467.6 605.7 466 622.5 462.9C639.3 458.2 656.2 442.8 673 438M572 476.8C588.8 468.3 605.7 466.9 622.5 462.5C639.3 456.9 656.2 440.7 673 435.6"/><path fill="none" stroke="#5d8489" stroke-opacity="0.22" stroke-width="0.6" d="M572 450.6C588.8 458.3 605.7 459.2 622.5 454.2C639.3 449.4 656.2 430.5 673 421.7M572 450.4C588.8 457.7 605.7 458.6 622.5 452.6C639.3 446.8 656.2 426 673 414.2M572 450.5C588.8 458.1 605.7 459 622.5 453.8C639.3 448.9 656.2 429.6 673 420.2M572 450.6C588.8 457.9 605.7 458.8 622.5 453C639.3 447.4 656.2 427 673 415.8M572 452.1C588.8 459.7 605.7 460.3 622.5 455.3C639.3 450.4 656.2 431 673 420.5M572 482.7C588.8 476.3 605.7 474 622.5 472.4C639.3 468.4 656.2 457.6 673 466.1M572 481.5C588.8 475.1 605.7 472.2 622.5 470.7C639.3 466.9 656.2 454.3 673 464.9M572 482.4C588.8 475.9 605.7 473.2 622.5 471.2C639.3 466.4 656.2 455.6 673 455.8M572 481.3C588.8 474.9 605.7 472.2 622.5 471.1C639.3 468.4 656.2 454.9 673 476M572 482.8C588.8 476.5 605.7 474.4 622.5 473.2C639.3 470.2 656.2 459 673 476.9"/><path fill="#ff8c00" fill-opacity="0.036" stroke="none" d="M544 476.6L552.1 471.4L560.3 467.1L568.4 464.2L576.5 463L584.7 462.4L592.8 462L600.9 461.3L609.1 460.2L617.2 458.8L625.3 457.3L633.5 455.8L641.6 454.2L649.7 452.3L657.9 449.9L666 447L666 483L657.9 473L649.7 467.9L641.6 468.2L633.5 469.1L625.3 470.3L617.2 472.8L609.1 476.7L600.9 481L592.8 486.7L584.7 493.7L576.5 500.2L568.4 504.8L560.3 508.6L552.1 511.7L544 513.9Z"/><path fill="#ff8c00" fill-opacity="0.08" stroke="none" d="M544 482.2L552.1 477.5L560.3 473.3L568.4 470.3L576.5 468.6L584.7 467.1L592.8 465.7L600.9 464.3L609.1 462.7L617.2 460.9L625.3 459.3L633.5 457.8L641.6 456.3L649.7 454.7L657.9 453.4L666 452.4L666 477.6L657.9 469.6L649.7 465.6L641.6 466.1L633.5 467.1L625.3 468.4L617.2 470.7L609.1 474.2L600.9 478.1L592.8 483L584.7 489L576.5 494.6L568.4 498.7L560.3 502.4L552.1 505.6L544 508.3Z"/><path fill="none" stroke="#ff8c00" stroke-opacity="0.34" stroke-width="0.7" d="M544 480.9C564.3 465.5 584.7 466.4 605 463.3C625.3 460.9 645.7 452.9 666 458.5M544 512.7C564.3 508 584.7 487.8 605 475.6C625.3 467 645.7 456.4 666 469.6M544 503.8C564.3 498.7 584.7 484.8 605 473.5C625.3 465.2 645.7 457.2 666 463.8M544 497.2C564.3 483.4 584.7 471.3 605 465.4C625.3 457.9 645.7 456.9 666 446.9M544 510C564.3 505.2 584.7 486.1 605 473.9C625.3 463.4 645.7 458.9 666 457.7M544 507.9C564.3 506.4 584.7 491.1 605 477.6C625.3 469.7 645.7 456.2 666 475.8M544 495C564.3 485.7 584.7 478.5 605 470.8C625.3 467.4 645.7 452.5 666 474.9M544 493C564.3 486 584.7 480.3 605 471.2C625.3 465.8 645.7 455.1 666 467.5M544 485.9C564.3 469.5 584.7 468.1 605 465.7C625.3 467.8 645.7 447.3 666 482.4M544 509.3C564.3 507.1 584.7 489.8 605 476.4C625.3 466.7 645.7 458.1 666 466.2M544 482.4C564.3 470.5 584.7 472.4 605 467.5C625.3 467.2 645.7 450.4 666 476.7M544 477.6C564.3 465.2 584.7 469.7 605 465.1C625.3 462.4 645.7 453.7 666 460.6M544 484C564.3 470.8 584.7 469.6 605 464.7C625.3 460.3 645.7 454.9 666 454.5M544 511.5C564.3 503.1 584.7 482.3 605 472.3C625.3 463.8 645.7 456.4 666 462.3M544 484.2C564.3 477.4 584.7 479.3 605 471.3C625.3 469.2 645.7 452.3 666 478.8M544 489.8C564.3 481.8 584.7 479 605 471.1C625.3 468.2 645.7 452.5 666 476.5M544 493.5C564.3 478.8 584.7 470 605 465.2C625.3 460.3 645.7 454.4 666 455.8M544 498.6C564.3 485 584.7 472 605 465.9C625.3 458.6 645.7 456.5 666 449.1M544 483C564.3 463.1 584.7 461.4 605 460.6C625.3 459.7 645.7 451.1 666 458.5M544 500.1C564.3 490.6 584.7 479.6 605 471.7C625.3 468.7 645.7 451.5 666 479.5M544 492.1C564.3 486.7 584.7 482.1 605 472.2C625.3 466.4 645.7 455.6 666 468.1M544 503.4C564.3 498.4 584.7 484.8 605 473.4C625.3 464.6 645.7 457.7 666 461.8M544 505.2C564.3 490.9 584.7 473 605 466.8C625.3 459.9 645.7 455.3 666 454.3M544 504.7C564.3 496.4 584.7 481.4 605 472.1C625.3 466 645.7 454.6 666 469.4M544 495.5C564.3 481.4 584.7 471.1 605 465.7C625.3 460.2 645.7 454.9 666 454.8M544 495.8C564.3 491.5 584.7 485 605 474.5C625.3 469.8 645.7 453.9 666 478.5M544 507.4C564.3 505.9 584.7 490.9 605 477.5C625.3 469.5 645.7 456.3 666 475.3M544 497C564.3 491 584.7 482 605 471.8C625.3 464.3 645.7 457 666 461.5M544 484.3C564.3 472.8 584.7 472.4 605 466.8C625.3 463.4 645.7 453.7 666 463.3M544 484.9C564.3 472 584.7 471.6 605 467.1C625.3 466.4 645.7 450.5 666 474.9M544 479.7C564.3 466.2 584.7 469 605 464.9C625.3 463.2 645.7 452.4 666 464.3M544 488.9C564.3 479.4 584.7 477.2 605 470.3C625.3 468.7 645.7 451.2 666 479.5M544 487.1C564.3 474.4 584.7 470.7 605 465.2C625.3 459.6 645.7 455.9 666 451.9M544 504.9C564.3 494.8 584.7 479.5 605 471.3C625.3 466.5 645.7 453 666 472.9M544 486.7C564.3 481.4 584.7 480.8 605 471.4C625.3 465.9 645.7 455.8 666 466.5M544 497.1C564.3 491.4 584.7 483.3 605 473.4C625.3 468.6 645.7 453.9 666 475.8M544 498.1C564.3 484.4 584.7 472.4 605 466.5C625.3 460.9 645.7 454.8 666 456.8M544 504.2C564.3 490.7 584.7 475.6 605 469.7C625.3 467.8 645.7 449.8 666 480.2M544 488.2C564.3 473.5 584.7 469.1 605 464.9C625.3 461.4 645.7 453.4 666 459.4M544 502.9C564.3 491.4 584.7 475.9 605 468.3C625.3 460.5 645.7 456.5 666 453.9M544 497.5C564.3 486.5 584.7 475.8 605 468.5C625.3 462.3 645.7 455.3 666 459.4M544 481.6C564.3 472 584.7 475.3 605 469.2C625.3 468.6 645.7 450.8 666 479.4M544 490C564.3 483.2 584.7 480.1 605 471.3C625.3 466.6 645.7 454.5 666 470.1M544 497C564.3 489.8 584.7 480.9 605 471.6C625.3 465.5 645.7 455.4 666 466.6M544 499.8C564.3 492.5 584.7 481.6 605 472.2C625.3 466.4 645.7 454.7 666 469.7"/><path fill="none" stroke="#ff8c00" stroke-opacity="0.22" stroke-width="0.6" d="M544 471.1C564.3 458.9 584.7 461.6 605 459.4C625.3 455.9 645.7 452.5 666 444.2M544 444.7C564.3 458.6 584.7 456 605 456.3C625.3 453.7 645.7 449 666 441M544 463.8C564.3 459.4 584.7 460.3 605 458.9C625.3 455.7 645.7 452.4 666 444.5M544 449.8C564.3 461.2 584.7 458.1 605 458.6C625.3 455.9 645.7 453.3 666 446.4M544 472.7C564.3 458.1 584.7 461.6 605 459.1C625.3 455.6 645.7 451.7 666 443M544 521.3C564.3 515.1 584.7 493 605 480.7C625.3 470.8 645.7 465.6 666 487M544 523.9C564.3 516.5 584.7 493.2 605 481.5C625.3 470.2 645.7 471.2 666 489.2M544 519.1C564.3 514 584.7 492.8 605 480C625.3 471.3 645.7 461.1 666 485.3M544 525C564.3 515.3 584.7 493.2 605 480.6C625.3 472.1 645.7 461.1 666 484.7M544 525.4C564.3 516.4 584.7 493.3 605 481.4C625.3 470.8 645.7 468.7 666 487.9"/><path fill="none" stroke="#fff" stroke-opacity="0.5" stroke-width="1.4" d="M572 468C588.8 466.5 605.7 464.8 622.5 462C639.3 457.6 656.2 441.3 673 436"/><path fill="none" stroke="#3f6470" stroke-opacity="0.75" stroke-width="0.8" stroke-dasharray="1.3 1.1" d="M572 468C588.8 466.5 605.7 464.8 622.5 462C639.3 457.6 656.2 441.3 673 436"/><path fill="none" stroke="#fff" stroke-opacity="0.5" stroke-width="1.4" d="M544 492C564.3 484.3 584.7 475.3 605 468.7C625.3 462.9 645.7 457 666 462"/><path fill="none" stroke="#d97700" stroke-opacity="0.75" stroke-width="0.8" stroke-dasharray="1.3 1.1" d="M544 492C564.3 484.3 584.7 475.3 605 468.7C625.3 462.9 645.7 457 666 462"/><line x1="390.7" y1="461.7" x2="683.9" y2="461.7" stroke="#8a8a8a" stroke-width="0.6" stroke-dasharray="0.9 1.1"/><line x1="390.8" y1="403.5" x2="390.8" y2="534.2" stroke="#9a9a9a" stroke-width="0.9"/><line x1="390.7" y1="534.2" x2="536.5" y2="534.2" stroke="#9a9a9a" stroke-width="0.9"/><line x1="537.7" y1="534.2" x2="683.9" y2="534.2" stroke="#9a9a9a" stroke-width="0.9"/><rect x="391.1" y="393" width="144.9" height="10.4" fill="#fff" stroke="#333" stroke-width="0.9"/><text x="463.6" y="401.1" font-size="8.7" text-anchor="middle" fill="#1a1a1a">Amyloid−</text><rect x="538.2" y="393" width="145.3" height="10.4" fill="#fff" stroke="#333" stroke-width="0.9"/><text x="610.8" y="401.1" font-size="8.7" text-anchor="middle" fill="#1a1a1a">Amyloid+</text><text x="390.3" y="389.1" font-size="11" fill="#000">M13</text><text x="389.4" y="437.5" font-size="6.6" text-anchor="end" fill="#555">1</text><line x1="389.6" y1="435.1" x2="390.8" y2="435.1" stroke="#9a9a9a" stroke-width="0.6"/><text x="389.4" y="464.1" font-size="6.6" text-anchor="end" fill="#555">0</text><line x1="389.6" y1="461.7" x2="390.8" y2="461.7" stroke="#9a9a9a" stroke-width="0.6"/><text x="389.4" y="490.7" font-size="6.6" text-anchor="end" fill="#555">−1</text><line x1="389.6" y1="488.3" x2="390.8" y2="488.3" stroke="#9a9a9a" stroke-width="0.6"/><text x="402.9" y="541" font-size="6.6" text-anchor="middle" fill="#555">45</text><text x="416.7" y="541" font-size="6.6" text-anchor="middle" fill="#555">50</text><text x="430.5" y="541" font-size="6.6" text-anchor="middle" fill="#555">55</text><text x="444.3" y="541" font-size="6.6" text-anchor="middle" fill="#555">60</text><text x="458.1" y="541" font-size="6.6" text-anchor="middle" fill="#555">65</text><text x="471.9" y="541" font-size="6.6" text-anchor="middle" fill="#555">70</text><text x="485.7" y="541" font-size="6.6" text-anchor="middle" fill="#555">75</text><text x="499.5" y="541" font-size="6.6" text-anchor="middle" fill="#555">80</text><text x="513.3" y="541" font-size="6.6" text-anchor="middle" fill="#555">85</text><text x="527.1" y="541" font-size="6.6" text-anchor="middle" fill="#555">90</text><text x="550" y="541" font-size="6.6" text-anchor="middle" fill="#555">45</text><text x="563.8" y="541" font-size="6.6" text-anchor="middle" fill="#555">50</text><text x="577.6" y="541" font-size="6.6" text-anchor="middle" fill="#555">55</text><text x="591.4" y="541" font-size="6.6" text-anchor="middle" fill="#555">60</text><text x="605.2" y="541" font-size="6.6" text-anchor="middle" fill="#555">65</text><text x="619" y="541" font-size="6.6" text-anchor="middle" fill="#555">70</text><text x="632.8" y="541" font-size="6.6" text-anchor="middle" fill="#555">75</text><text x="646.6" y="541" font-size="6.6" text-anchor="middle" fill="#555">80</text><text x="660.4" y="541" font-size="6.6" text-anchor="middle" fill="#555">85</text><text x="674.2" y="541" font-size="6.6" text-anchor="middle" fill="#555">90</text><text x="537.4" y="551.9" font-size="11" text-anchor="middle" fill="#000">Age</text><text x="0" y="0" font-size="11" text-anchor="middle" fill="#000" transform="translate(377.6 468.8) rotate(-90)">Protein Level (Z−Score)</text></g>
<g><path fill="#5d8489" fill-opacity="0.315" stroke="none" d="M37 638L44.6 639.8L52.2 641.1L59.8 641.9L67.4 641.9L75 641.1L82.6 639.7L90.2 638.2L97.8 636.8L105.4 636.1L113 636.1L120.6 636.6L128.2 637L135.8 636.9L143.4 636.6L151 636L151 660L143.4 654.3L135.8 649.9L128.2 647.7L120.6 646.4L113 645.7L105.4 645.6L97.8 646.3L90.2 647.8L82.6 649.9L75 652.3L67.4 654.8L59.8 657.6L52.2 661.1L44.6 665.4L37 670Z"/><path fill="#5d8489" fill-opacity="0.7" stroke="none" d="M37 641.8L44.6 642.8L52.2 643.5L59.8 643.8L67.4 643.5L75 642.4L82.6 640.9L90.2 639.3L97.8 638L105.4 637.2L113 637.3L120.6 637.8L128.2 638.3L135.8 638.5L143.4 638.7L151 638.9L151 657.1L143.4 652.2L135.8 648.3L128.2 646.4L120.6 645.3L113 644.5L105.4 644.4L97.8 645.2L90.2 646.7L82.6 648.6L75 650.9L67.4 653.3L59.8 655.7L52.2 658.7L44.6 662.3L37 666.2Z"/><path fill="none" stroke="#5d8489" stroke-opacity="0.18" stroke-width="0.8" d="M37 665.5C56 652 75 648.5 94 643.2C113 640.1 132 641.2 151 651.4M37 661.1C56 653.4 75 648.9 94 643.9C113 640.2 132 642.4 151 647.9M37 640.8C56 646 75 643.5 94 639.1C113 636.2 132 639.7 151 642.1M37 641.9C56 650.9 75 646.3 94 643.2C113 642 132 641.7 151 656.6M37 670.5C56 654.3 75 650 94 644.4C113 640.6 132 642.2 151 649.5M37 639.3C56 644.3 75 642.5 94 637.8C113 634.6 132 639 151 638.5M37 656.4C56 651.6 75 647.6 94 642.9C113 640 132 641.6 151 649.7M37 664.4C56 654 75 649.5 94 644.6C113 641.6 132 642.3 151 653.2M37 655.5C56 651.8 75 647.7 94 643.5C113 641.7 132 641.4 151 656.4M37 668.9C56 655 75 650.3 94 644.8C113 640.8 132 642.8 151 648.5M37 638.2C56 645.7 75 643.2 94 639.4C113 637.6 132 639.3 151 648.3M37 667.9C56 655 75 650.3 94 645.4C113 642.9 132 642.4 151 657.6M37 642.1C56 646.4 75 643.8 94 639.5C113 637 132 639.7 151 645.1M37 642.9C56 652.2 75 647 94 643.9C113 642.2 132 642.5 151 654.8M37 666.6C56 652.5 75 648.7 94 642.9C113 638.6 132 641.7 151 644.1M37 639.4C56 646.6 75 643.8 94 639.9C113 638.1 132 639.8 151 648.5M37 654.4C56 651.5 75 647.4 94 642.8C113 639.8 132 641.7 151 648.5M37 662.9C56 650 75 647.2 94 641.4C113 637.4 132 640.6 151 643.4M37 661.5C56 653.5 75 648.9 94 643.6C113 639.2 132 642.7 151 643M37 659.8C56 654.2 75 649.2 94 644.4C113 640.8 132 643 151 648.2M37 641.7C56 645.9 75 643.6 94 639.9C113 639.1 132 638.9 151 654.6M37 651.3C56 650.6 75 646.6 94 641.9C113 638.2 132 641.6 151 643.1M37 669.8C56 653.5 75 649.4 94 643.1C113 637.7 132 642.4 151 638.6M37 651.9C56 649.4 75 646.1 94 641.1C113 637.5 132 641 151 642.5M37 659.6C56 650 75 646.9 94 641.5C113 637.8 132 640.7 151 644.7M37 666.1C56 654.3 75 649.7 94 644.6C113 641.4 132 642.4 151 651.9M37 642.6C56 647.9 75 644.6 94 640.5C113 637.8 132 640.5 151 645.1M37 665C56 648.9 75 646.7 94 640.5C113 636.1 132 639.9 151 640.8M37 637.5C56 646.9 75 643.9 94 640.8C113 640.6 132 639.6 151 658.2M37 644.6C56 646.1 75 643.8 94 639.2C113 636.5 132 639.4 151 644.1M37 643.6C56 648.8 75 645.2 94 641.5C113 639.9 132 640.6 151 652.6M37 637.5C56 645.5 75 643 94 638.8C113 635.9 132 639.7 151 641M37 660.7C56 650.9 75 647.4 94 641.4C113 636.2 132 641.6 151 635.9M37 658.6C56 652.2 75 648.1 94 643.4C113 640.6 132 641.7 151 651.4M37 663.3C56 649.6 75 647 94 641.1C113 637.2 132 640.2 151 643.9M37 652.1C56 648.2 75 645.4 94 640C113 635.6 132 640.5 151 637M37 648.8C56 648.4 75 645.4 94 641.1C113 639.2 132 640.1 151 651.4M37 653.9C56 649.1 75 646.1 94 641.3C113 638.8 132 640.3 151 649.4M37 647.2C56 645.8 75 644 94 639.6C113 638.2 132 638.7 151 652.2M37 663.7C56 649.5 75 646.9 94 640.9C113 636.6 132 640.3 151 641.3M37 638.6C56 645.2 75 643 94 639.2C113 637.9 132 639 151 650.5M37 656.5C56 647.7 75 645.5 94 640C113 636.5 132 639.6 151 643.3M37 666.3C56 654.6 75 650 94 645.3C113 643.1 132 642.2 151 658.6M37 668.9C56 656.9 75 651.2 94 646C113 641.6 132 644 151 648.1M37 668.3C56 652.9 75 649 94 642.9C113 637.8 132 642.1 151 640.2M37 666.9C56 653.8 75 649.5 94 644.1C113 640.3 132 642.3 151 648.5M37 665.2C56 655.5 75 650.4 94 646C113 644 132 642.8 151 660.4M37 639.6C56 649.9 75 645.6 94 642.7C113 642 132 641.2 151 658.1M37 642.6C56 644.5 75 642.9 94 638.3C113 636 132 638.6 151 644.7M37 642C56 647.6 75 644.5 94 640.7C113 639.2 132 640.1 151 651.4M37 646.1C56 648.4 75 645.1 94 640.7C113 637.8 132 640.6 151 644.9M37 647.3C56 648.6 75 645.4 94 641C113 638.5 132 640.5 151 647.8M37 641.3C56 648.5 75 644.9 94 641.1C113 639 132 640.8 151 648.9M37 663.1C56 649.8 75 647 94 641C113 636.6 132 640.6 151 640.7M37 650.8C56 653.4 75 648.2 94 644.8C113 643.3 132 642.5 151 658.8M37 653.8C56 648.3 75 645.6 94 640C113 635.8 132 640.4 151 638.2M37 651.2C56 650.2 75 646.6 94 642.7C113 641.5 132 640.7 151 657.8M37 664.3C56 651.7 75 648.3 94 643.4C113 641.3 132 640.8 151 656.8M37 647.8C56 650.6 75 646.5 94 642.9C113 641.5 132 641.2 151 656.3M37 656.1C56 646.7 75 645 94 639.5C113 636.6 132 638.9 151 645.6M37 637.9C56 642.9 75 642.2 94 637.1C113 633.9 132 638.3 151 638.7M37 642C56 644.8 75 642.9 94 638.2C113 635.3 132 638.9 151 641.3M37 662.9C56 654.8 75 649.8 94 645.1C113 642.2 132 642.8 151 653.8M37 668C56 654.5 75 649.8 94 644C113 638.9 132 643 151 641.3M37 651.4C56 650.3 75 646.7 94 642.9C113 641.8 132 640.7 151 659M37 645.3C56 648.5 75 645.3 94 641.5C113 640.2 132 640.2 151 654.7M37 661.3C56 656.3 75 650.5 94 646.2C113 643.4 132 643.7 151 655.1M37 657.5C56 650.7 75 647.2 94 642.3C113 639.3 132 641 151 648.9M37 650.6C56 650.1 75 646.3 94 641.5C113 637.7 132 641.5 151 641.7M37 654.4C56 650.7 75 647.1 94 643.1C113 642.1 132 640.6 151 660.1M37 661.3C56 652.1 75 648.2 94 643C113 639.4 132 641.7 151 647.2M37 668.4C56 654.1 75 649.7 94 644.1C113 639.9 132 642.4 151 646.8M37 663.3C56 652.1 75 648.3 94 642.5C113 637.7 132 641.9 151 640.6M37 657.7C56 653.3 75 648.7 94 644.5C113 642.4 132 642.2 151 656.3M37 659.1C56 650 75 646.8 94 641.1C113 636.5 132 641 151 638.9M37 657.5C56 653.3 75 648.5 94 643.9C113 640.5 132 642.6 151 648.4M37 655.4C56 654.3 75 649.1 94 645.3C113 643.7 132 642.7 151 659.4M37 653C56 648.8 75 645.8 94 640.5C113 636.3 132 640.7 151 639.2M37 639.1C56 650.8 75 646 94 643.3C113 642.5 132 641.8 151 658.2M37 668.6C56 652.1 75 648.6 94 642.3C113 637.1 132 641.6 151 638.9M37 657.4C56 653.1 75 648.5 94 644C113 641.3 132 642.3 151 652M37 639.8C56 648.8 75 645 94 641.7C113 640.5 132 640.8 151 654M37 647.4C56 652.8 75 647.7 94 644.3C113 642.7 132 642.5 151 656.7M37 668.3C56 657.4 75 651.6 94 646.9C113 644 132 643.8 151 657M37 646.7C56 646 75 643.9 94 638.9C113 635.6 132 639.4 151 640.6M37 661.2C56 652.6 75 648.6 94 643.9C113 641.7 132 641.6 151 655.6M37 653.7C56 652.4 75 647.9 94 644C113 642.1 132 641.9 151 656.3M37 651.2C56 650.8 75 646.9 94 643.2C113 642.1 132 641 151 659.2M37 647.8C56 648.3 75 645.3 94 640.9C113 638.4 132 640.3 151 647.9M37 650.4C56 651.1 75 646.9 94 642.6C113 639.7 132 641.8 151 647.9"/><path fill="none" stroke="#5d8489" stroke-opacity="0.14" stroke-width="0.6" d="M37 635.6C56 638 75 637.5 94 634.7C113 632.6 132 634.3 151 632.5M37 635.2C56 637.4 75 638.1 94 635.2C113 633 132 636.3 151 634.5M37 637.8C56 642.9 75 639.6 94 635.7C113 632.9 132 634.4 151 631.8M37 636.5C56 640.1 75 638.5 94 635.2C113 632.8 132 634.6 151 632.4M37 636.9C56 641.2 75 639.8 94 636C113 633.2 132 636.3 151 633.9M37 636.9C56 641.2 75 639.3 94 635.7C113 633 132 635.4 151 633M37 671.9C56 660 75 653.4 94 648.2C113 644.8 132 645.6 151 660.7M37 670.9C56 658.8 75 653 94 648.1C113 644.6 132 646.5 151 661.4M37 672.1C56 660.3 75 653.7 94 648.5C113 644.8 132 646.4 151 661.1M37 670.2C56 657.8 75 652.5 94 647.8C113 644.5 132 646.6 151 661.6M37 671.4C56 659.7 75 654.1 94 649C113 644.6 132 649.9 151 663M37 671.7C56 659.6 75 653 94 647.9C113 644.8 132 644.4 151 660.1"/><path fill="#ff8c00" fill-opacity="0.22" stroke="none" d="M37 643L46.6 642.8L56.2 642.4L65.8 641.9L75.5 641L85.1 639.8L94.7 638.7L104.3 638.1L113.9 638L123.5 638L133.2 638.2L142.8 640.2L152.4 643.6L162 650L162 658L152.4 650.7L142.8 646.8L133.2 644.4L123.5 643.5L113.9 643.1L104.3 643.1L94.7 644L85.1 645.8L75.5 648L65.8 650.5L56.2 653.4L46.6 657.4L37 662Z"/><path fill="#ff8c00" fill-opacity="0.405" stroke="none" d="M37 613L45.3 615.5L53.7 617.7L62 619.6L70.3 621.2L78.7 622.8L87 624.2L95.3 625.3L103.7 625.9L112 625.9L120.3 625.2L128.7 624.2L137 623L145.3 621.5L153.7 619L162 614L162 650L153.7 644.2L145.3 641L137 638.7L128.7 638L120.3 638L112 638L103.7 638.1L95.3 638.7L87 639.6L78.7 640.6L70.3 641.5L62 642.1L53.7 642.5L45.3 642.8L37 643Z"/><path fill="#ff8c00" fill-opacity="0.9" stroke="none" d="M37 616.6L45.3 618.8L53.7 620.7L62 622.3L70.3 623.6L78.7 624.9L87 626L95.3 626.9L103.7 627.4L112 627.4L120.3 626.7L128.7 625.8L137 624.9L145.3 623.8L153.7 622L162 618.3L162 645.7L153.7 641.2L145.3 638.7L137 636.8L128.7 636.3L120.3 636.5L112 636.5L103.7 636.6L95.3 637.1L87 637.7L78.7 638.5L70.3 639.1L62 639.4L53.7 639.5L45.3 639.5L37 639.4Z"/><path fill="none" stroke="#ff8c00" stroke-opacity="0.22" stroke-width="0.8" d="M37 632.5C57.8 634.8 78.7 634 99.5 632.5C120.3 629.4 141.2 632.3 162 616.4M37 613.5C57.8 621.7 78.7 626.1 99.5 628.6C120.3 631 141.2 626.8 162 635.8M37 641.9C57.8 634.3 78.7 630.8 99.5 630C120.3 627.8 141.2 628.1 162 620.5M37 640.9C57.8 635.9 78.7 633.2 99.5 632.3C120.3 631.6 141.2 629.1 162 632.7M37 624.5C57.8 629.5 78.7 631.4 99.5 632.1C120.3 633.8 141.2 629.1 162 641.3M37 623.5C57.8 627.7 78.7 629.1 99.5 629.3C120.3 627.5 141.2 629.6 162 615.5M37 618.4C57.8 629.6 78.7 633.5 99.5 634.2C120.3 636.7 141.2 631.1 162 647.7M37 619.4C57.8 626.5 78.7 629.2 99.5 630C120.3 629.5 141.2 629.6 162 623.5M37 615.2C57.8 623.5 78.7 626.9 99.5 628.2C120.3 627.1 141.2 629 162 615.3M37 615.7C57.8 624 78.7 628.3 99.5 630.5C120.3 633.7 141.2 627.5 162 644.8M37 640.9C57.8 636.2 78.7 633.2 99.5 631.6C120.3 628.9 141.2 630.2 162 619.9M37 631C57.8 635.8 78.7 636.4 99.5 635.7C120.3 637.3 141.2 631.6 162 648.7M37 631.3C57.8 635.6 78.7 635.8 99.5 634.7C120.3 634.4 141.2 632.2 162 636.3M37 631.1C57.8 636.6 78.7 637 99.5 635.8C120.3 635.9 141.2 632.9 162 640.4M37 639.1C57.8 635.8 78.7 633 99.5 631.4C120.3 627.9 141.2 630.8 162 614.3M37 622.5C57.8 629.9 78.7 632.5 99.5 633C120.3 634.7 141.2 630.2 162 641.9M37 624.1C57.8 630.1 78.7 631.8 99.5 631.8C120.3 631.5 141.2 630.6 162 628.5M37 631.6C57.8 635.3 78.7 635.6 99.5 634.9C120.3 635.8 141.2 631.3 162 643.7M37 621.3C57.8 631.8 78.7 634.8 99.5 634.7C120.3 635.7 141.2 632.3 162 640.8M37 638.7C57.8 638.2 78.7 636 99.5 634C120.3 631.6 141.2 632.4 162 624.9M37 614.1C57.8 620.7 78.7 625.3 99.5 628.5C120.3 632.9 141.2 625 162 647.6M37 625.2C57.8 630.4 78.7 631.8 99.5 631.8C120.3 631.2 141.2 630.5 162 627.9M37 629.1C57.8 633 78.7 633.6 99.5 633.1C120.3 632.8 141.2 631 162 632.9M37 642.7C57.8 645.1 78.7 640.6 99.5 638.7C120.3 638.3 141.2 636.7 162 643.3M37 618.6C57.8 624.2 78.7 626.9 99.5 628.3C120.3 628 141.2 628 162 621.2M37 615.3C57.8 626.1 78.7 630.5 99.5 632C120.3 634.5 141.2 629.6 162 642.6M37 620.8C57.8 626.9 78.7 629.4 99.5 630.2C120.3 630.3 141.2 629.2 162 627.6M37 623C57.8 626.2 78.7 627.8 99.5 628.8C120.3 628.4 141.2 628 162 622.7M37 618C57.8 623 78.7 625.5 99.5 627C120.3 625.9 141.2 627.6 162 614.2M37 635.6C57.8 637.3 78.7 636.5 99.5 635.3C120.3 635.6 141.2 631.7 162 642.1M37 641.7C57.8 642.4 78.7 640.2 99.5 637.8C120.3 637.4 141.2 633.6 162 644.5M37 621.4C57.8 628.1 78.7 630.9 99.5 632C120.3 634.2 141.2 629 162 643M37 630.3C57.8 635.4 78.7 636.2 99.5 635.5C120.3 636.7 141.2 631.8 162 645.8M37 641.2C57.8 639.3 78.7 636.6 99.5 634.5C120.3 632.6 141.2 632.1 162 629.3M37 623.3C57.8 624.9 78.7 626.3 99.5 627.7C120.3 627.7 141.2 626.7 162 623.4M37 635C57.8 636.9 78.7 636.4 99.5 635.7C120.3 637.3 141.2 631 162 650M37 623.7C57.8 625 78.7 626.1 99.5 627.3C120.3 626.2 141.2 627.1 162 616.5M37 628C57.8 629.8 78.7 630.2 99.5 630.2C120.3 629 141.2 629.3 162 622M37 627.5C57.8 636.2 78.7 637.7 99.5 636.6C120.3 637.3 141.2 633.6 162 643.9M37 628.2C57.8 629.2 78.7 629.7 99.5 630.2C120.3 630.4 141.2 628.2 162 629.9M37 616.7C57.8 624.1 78.7 627.3 99.5 628.7C120.3 628.6 141.2 628.5 162 622.3M37 629.7C57.8 633 78.7 633.6 99.5 633.5C120.3 634.5 141.2 630.2 162 641.2M37 615.3C57.8 624.6 78.7 629.2 99.5 631.4C120.3 635.3 141.2 627.9 162 649.7M37 636.8C57.8 639.6 78.7 638.1 99.5 635.6C120.3 633 141.2 634.2 162 625.7M37 633.8C57.8 637.5 78.7 636.5 99.5 634C120.3 630 141.2 634.3 162 614M37 613.8C57.8 623.8 78.7 628.2 99.5 629.9C120.3 631.2 141.2 628.8 162 631.7M37 630.9C57.8 627.6 78.7 626.8 99.5 627.6C120.3 626.7 141.2 626.4 162 620.1M37 636.4C57.8 640.8 78.7 639.8 99.5 637.3C120.3 635.9 141.2 634.8 162 635.5M37 624.3C57.8 631.3 78.7 633.3 99.5 633.4C120.3 634.2 141.2 631 162 638.3M37 641C57.8 640.4 78.7 637.5 99.5 634.6C120.3 630.5 141.2 633.9 162 616.8M37 612.8C57.8 626.7 78.7 632 99.5 633.3C120.3 636 141.2 630.9 162 645.3M37 634.1C57.8 634.1 78.7 632.8 99.5 631.6C120.3 628.8 141.2 631 162 617.1M37 619.3C57.8 627.5 78.7 630 99.5 630.2C120.3 628.4 141.2 630.9 162 615.9M37 630.4C57.8 633.2 78.7 633.7 99.5 633.7C120.3 635.3 141.2 629.9 162 645M37 615.3C57.8 617.9 78.7 622.8 99.5 625.3C120.3 625.4 141.2 624.2 162 616.9M37 638.8C57.8 636.5 78.7 634 99.5 632.4C120.3 629.6 141.2 631.1 162 620M37 613.2C57.8 623.6 78.7 628.5 99.5 630.6C120.3 633.5 141.2 628.2 162 642.1M37 624.4C57.8 629.7 78.7 631.3 99.5 631.4C120.3 631 141.2 630.2 162 627.6M37 627.2C57.8 631.4 78.7 632.4 99.5 632.3C120.3 632.2 141.2 630.4 162 632M37 612.8C57.8 621.2 78.7 625.8 99.5 628.3C120.3 630.3 141.2 626.9 162 633M37 615.5C57.8 622.9 78.7 626.5 99.5 628.2C120.3 628.4 141.2 628 162 622.7M37 639.4C57.8 637.6 78.7 635.2 99.5 633.3C120.3 631 141.2 631.6 162 624.2M37 612.7C57.8 620.6 78.7 625.2 99.5 628.2C120.3 631.1 141.2 626 162 638M37 636C57.8 638.8 78.7 638 99.5 636.3C120.3 636.3 141.2 632.8 162 641.9M37 627.3C57.8 629.1 78.7 630.4 99.5 631.6C120.3 634.3 141.2 627.4 162 647M37 628.2C57.8 630.2 78.7 631 99.5 631.7C120.3 633.2 141.2 628.4 162 640.6M37 627.1C57.8 627.1 78.7 627.3 99.5 627.9C120.3 626.1 141.2 627.7 162 614.6M37 617.6C57.8 620.2 78.7 623 99.5 625.6C120.3 626.5 141.2 624.9 162 623M37 634.8C57.8 638.7 78.7 637.8 99.5 635.6C120.3 633.5 141.2 634 162 628.2M37 637.3C57.8 638 78.7 636.9 99.5 635.8C120.3 636.9 141.2 631.3 162 647.9M37 619.6C57.8 626.7 78.7 629.5 99.5 630.2C120.3 630 141.2 629.6 162 625.4M37 618.7C57.8 625.2 78.7 628.2 99.5 629.7C120.3 630.6 141.2 628.3 162 630.8M37 628.7C57.8 633.2 78.7 633.5 99.5 632.4C120.3 630.1 141.2 632.1 162 619.5M37 642.5C57.8 639.4 78.7 636.3 99.5 634.4C120.3 632.7 141.2 631.6 162 631M37 635.2C57.8 637.3 78.7 636.3 99.5 634.8C120.3 633.8 141.2 632.3 162 633.5M37 631.3C57.8 635.7 78.7 636.2 99.5 635.4C120.3 636.6 141.2 631.6 162 645.9M37 632.7C57.8 635.5 78.7 635.2 99.5 634.2C120.3 633.9 141.2 631.6 162 635.8M37 619.2C57.8 625.5 78.7 628.5 99.5 630C120.3 631.6 141.2 628 162 635.2M37 635.9C57.8 634.6 78.7 632.7 99.5 631.4C120.3 628.4 141.2 630.8 162 616.3M37 641.9C57.8 641.1 78.7 638.7 99.5 636.5C120.3 635.9 141.2 632.7 162 640.9M37 622.1C57.8 624.7 78.7 626.6 99.5 628.3C120.3 629.2 141.2 626.6 162 629.5M37 616.8C57.8 622.3 78.7 626.2 99.5 629.2C120.3 633.6 141.2 625.3 162 649.6M37 635.7C57.8 634.1 78.7 633 99.5 632.7C120.3 633.5 141.2 629 162 640.2M37 621.9C57.8 627.7 78.7 629.7 99.5 630.1C120.3 629.2 141.2 629.8 162 621.6M37 643.5C57.8 641.9 78.7 638.7 99.5 635.9C120.3 633.2 141.2 633.6 162 627.8M37 628.3C57.8 633.6 78.7 634 99.5 632.9C120.3 630.6 141.2 632.5 162 620.4M37 635.3C57.8 632.9 78.7 631.3 99.5 630.7C120.3 629 141.2 629.2 162 622.4M37 632.5C57.8 632.5 78.7 631.6 99.5 630.9C120.3 628.8 141.2 630.1 162 619.2M37 642.5C57.8 642.3 78.7 640 99.5 637.6C120.3 637.5 141.2 633.2 162 645.8M37 630.3C57.8 634.1 78.7 634.3 99.5 633.5C120.3 632.9 141.2 631.5 162 632.2"/><path fill="none" stroke="#ff8c00" stroke-opacity="0.14" stroke-width="0.6" d="M37 610.1C57.8 619.3 78.7 622.6 99.5 625.1C120.3 625 141.2 625.5 162 613.3M37 606.6C57.8 618.8 78.7 621.6 99.5 624.2C120.3 624.9 141.2 623 162 611.4M37 610.9C57.8 619.3 78.7 622.8 99.5 625.3C120.3 625.1 141.2 625.7 162 613.4M37 606.1C57.8 619.2 78.7 621.7 99.5 624.6C120.3 624.8 141.2 624.8 162 613.2M37 612.8C57.8 619.2 78.7 623.1 99.5 625.3C120.3 625.2 141.2 625.1 162 612.6M37 603.4C57.8 618.4 78.7 620.8 99.5 623.5C120.3 624.7 141.2 621.3 162 610.1M37 652.8C57.8 646.4 78.7 643.1 99.5 640.2C120.3 640.3 141.2 635.3 162 651.8M37 651.9C57.8 645.5 78.7 642.6 99.5 639.5C120.3 639.5 141.2 634.1 162 650.1M37 649.2C57.8 646.1 78.7 642.8 99.5 640.4C120.3 640.8 141.2 636.3 162 653.8M37 644.7C57.8 645.2 78.7 642.1 99.5 640C120.3 640.8 141.2 636.4 162 654.6M37 651.4C57.8 645.5 78.7 642.5 99.5 639.6C120.3 639.6 141.2 634.3 162 650.4M37 645.8C57.8 645.2 78.7 642.2 99.5 639.9C120.3 640.5 141.2 636 162 653.9M37 660C57.8 647.8 78.7 644.3 99.5 640.8C120.3 640.3 141.2 635 162 650.5M37 653.7C57.8 646.8 78.7 643.4 99.5 640.5C120.3 640.5 141.2 635.6 162 652.3M37 650.4C57.8 647.7 78.7 643.9 99.5 641.7C120.3 642.3 141.2 638.6 162 657.4M37 655C57.8 647.1 78.7 643.7 99.5 640.7C120.3 640.6 141.2 635.7 162 652.3M37 651.6C57.8 648.2 78.7 644.2 99.5 642C120.3 642.6 141.2 638.9 162 657.9M37 659.5C57.8 648.7 78.7 644.9 99.5 641.6C120.3 641.5 141.2 636.8 162 653.4M37 653.1C57.8 647.1 78.7 643.6 99.5 640.8C120.3 641 141.2 636.4 162 653.7M37 645.9C57.8 646.6 78.7 643 99.5 641.2C120.3 642.1 141.2 638.4 162 657.7"/><path fill="none" stroke="#fff" stroke-opacity="0.75" stroke-width="1.8" d="M37 654C56 647.1 75 643.2 94 640C113 636.8 132 642.7 151 646"/><path fill="none" stroke="#3f6470" stroke-opacity="0.6" stroke-width="0.9" stroke-dasharray="1.3 1.1" d="M37 654C56 647.1 75 643.2 94 640C113 636.8 132 642.7 151 646"/><path fill="none" stroke="#fff" stroke-opacity="0.75" stroke-width="1.8" d="M37 630C57.8 632.9 78.7 631.8 99.5 632C120.3 632.8 141.2 629.5 162 632"/><path fill="none" stroke="#d97700" stroke-opacity="0.6" stroke-width="0.9" stroke-dasharray="1.3 1.1" d="M37 630C57.8 632.9 78.7 631.8 99.5 632C120.3 632.8 141.2 629.5 162 632"/><path fill="#5d8489" fill-opacity="0.315" stroke="none" d="M204 607L210.7 614.2L217.5 620.5L224.2 625.7L230.9 629.4L237.7 632.6L244.4 635L251.1 636L257.9 635.8L264.6 635.4L271.3 634.7L278.1 633.8L284.8 630.9L291.5 625.4L298.3 618.2L305 610L305 670L298.3 662.4L291.5 656.2L284.8 651.9L278.1 650L271.3 650.7L264.6 652.6L257.9 654.6L251.1 655.6L244.4 654.6L237.7 652.6L230.9 651.1L224.2 650.6L217.5 650.3L210.7 650.1L204 650Z"/><path fill="#5d8489" fill-opacity="0.7" stroke="none" d="M204 612.2L210.7 618.5L217.5 624.1L224.2 628.7L230.9 632L237.7 635L244.4 637.4L251.1 638.4L257.9 638.1L264.6 637.5L271.3 636.6L278.1 635.8L284.8 633.4L291.5 629.1L298.3 623.5L305 617.2L305 662.8L298.3 657.1L291.5 652.5L284.8 649.4L278.1 648.1L271.3 648.8L264.6 650.5L257.9 652.4L251.1 653.2L244.4 652.3L237.7 650.2L230.9 648.5L224.2 647.6L217.5 646.7L210.7 645.8L204 644.8Z"/><path fill="none" stroke="#5d8489" stroke-opacity="0.18" stroke-width="0.8" d="M204 616.4C220.8 635.6 237.7 643.3 254.5 644.3C271.3 640.2 288.2 642.9 305 622.5M204 648.3C220.8 646.8 237.7 652.5 254.5 653.9C271.3 647.7 288.2 644.6 305 665.9M204 629.8C220.8 640.6 237.7 647.4 254.5 648.8C271.3 644.1 288.2 643.6 305 645.1M204 645.9C220.8 649.4 237.7 654.4 254.5 655.2C271.3 645.5 288.2 650.1 305 643.6M204 637.2C220.8 641.2 237.7 648 254.5 648.9C271.3 644.6 288.2 642 305 651.2M204 640.8C220.8 647.1 237.7 652.7 254.5 654.6C271.3 647.4 288.2 647.2 305 659.6M204 620.5C220.8 631.2 237.7 639.8 254.5 639.8C271.3 638.8 288.2 636.7 305 625.2M204 644.4C220.8 643 237.7 649.4 254.5 649.1C271.3 642.9 288.2 643.5 305 639.1M204 632.9C220.8 640.9 237.7 647.8 254.5 649.8C271.3 646.5 288.2 641.7 305 662.7M204 648.1C220.8 648.4 237.7 653.8 254.5 655.2C271.3 647.8 288.2 646.7 305 663M204 629.2C220.8 639.9 237.7 646.9 254.5 648.7C271.3 645 288.2 642.2 305 653M204 622.2C220.8 632 237.7 640.5 254.5 639.6C271.3 637 288.2 638.6 305 611.1M204 644.9C220.8 642.2 237.7 648.7 254.5 647.9C271.3 641.7 288.2 643 305 632.9M204 636C220.8 633.6 237.7 641.8 254.5 639.6C271.3 636.4 288.2 637.2 305 610.9M204 640.5C220.8 648 237.7 653.4 254.5 655.7C271.3 648.4 288.2 647.9 305 663.9M204 645.1C220.8 639 237.7 646.1 254.5 644.1C271.3 638.8 288.2 640.5 305 620M204 621.8C220.8 633.7 237.7 641.9 254.5 643.1C271.3 642 288.2 637.8 305 642.1M204 623.3C220.8 632.3 237.7 640.8 254.5 641.3C271.3 640.8 288.2 636.2 305 637.6M204 615.3C220.8 636.4 237.7 644 254.5 646.5C271.3 644 288.2 641.9 305 646.6M204 649.8C220.8 639.4 237.7 646.5 254.5 644.3C271.3 639.1 288.2 639.6 305 623.9M204 618.3C220.8 637 237.7 644.4 254.5 646.6C271.3 643.6 288.2 642.1 305 644.2M204 635.6C220.8 638.3 237.7 645.5 254.5 644.3C271.3 638.7 288.2 642.3 305 615.7M204 631C220.8 641.8 237.7 648.4 254.5 651.2C271.3 647.9 288.2 642.4 305 669.6M204 631.7C220.8 633.6 237.7 641.8 254.5 641C271.3 639.1 288.2 636.7 305 627.5M204 634.4C220.8 637 237.7 644.6 254.5 644.9C271.3 642.4 288.2 638.5 305 643.9M204 638.3C220.8 641.8 237.7 648.4 254.5 648.6C271.3 642.8 288.2 643.7 305 637.8M204 619C220.8 632.2 237.7 640.7 254.5 641.2C271.3 639.9 288.2 637.9 305 629.2M204 632C220.8 641.4 237.7 648.1 254.5 650.6C271.3 647.5 288.2 641.8 305 668.4M204 647.5C220.8 642.9 237.7 649.2 254.5 647.1C271.3 638.8 288.2 645.1 305 612.4M204 632C220.8 638.9 237.7 646 254.5 645.3C271.3 639.2 288.2 643.7 305 616.4M204 627.6C220.8 642 237.7 648.5 254.5 650.3C271.3 644.5 288.2 645.8 305 643.6M204 607.4C220.8 636.1 237.7 643.8 254.5 648.6C271.3 648 288.2 641.2 305 670.9M204 638.5C220.8 648.6 237.7 654.5 254.5 655.9C271.3 647.8 288.2 649.5 305 666.8M204 614.4C220.8 635.8 237.7 643.6 254.5 647.1C271.3 646.4 288.2 639.8 305 664.5M204 635.4C220.8 637.9 237.7 645.2 254.5 644.4C271.3 639.8 288.2 641 305 624.1M204 632C220.8 642.8 237.7 649.3 254.5 651.8C271.3 647.5 288.2 643.8 305 665.2M204 648.8C220.8 646.5 237.7 652.3 254.5 652.8C271.3 645.7 288.2 645.4 305 652.8M204 647.9C220.8 645 237.7 650.9 254.5 649.2C271.3 640 288.2 647.1 305 615.8M204 631.3C220.8 641.2 237.7 648 254.5 650.5C271.3 647.3 288.2 641.9 305 667.4M204 619.4C220.8 630.7 237.7 639.4 254.5 638.7C271.3 636.8 288.2 637.6 305 611.6M204 631.9C220.8 640 237.7 646.9 254.5 647.8C271.3 643.1 288.2 642.8 305 640.7M204 625.3C220.8 634.7 237.7 642.7 254.5 643.2C271.3 641.2 288.2 638.6 305 636.5M204 620.8C220.8 638.1 237.7 645.4 254.5 647.6C271.3 644.4 288.2 642.5 305 648.3M204 640.9C220.8 638.1 237.7 645.5 254.5 645.3C271.3 642.6 288.2 638 305 646.5M204 634.6C220.8 640.1 237.7 647 254.5 646.9C271.3 641.4 288.2 643.2 305 630.1M204 644.4C220.8 639.2 237.7 646.4 254.5 645.1C271.3 640.6 288.2 639.8 305 631.8M204 625.8C220.8 640.5 237.7 647.4 254.5 650.4C271.3 647.5 288.2 642.3 305 667.7M204 641.2C220.8 643.2 237.7 649.5 254.5 649.5C271.3 642.8 288.2 644.7 305 636.5M204 632.5C220.8 633 237.7 641.3 254.5 639.4C271.3 636.7 288.2 637.1 305 612.5M204 644C220.8 641.3 237.7 648.1 254.5 647.7C271.3 642.7 288.2 641.5 305 641.5M204 612.6C220.8 627.9 237.7 637.2 254.5 637.2C271.3 637.4 288.2 635.3 305 618.8M204 626.7C220.8 631 237.7 639.7 254.5 638.1C271.3 636.1 288.2 636.4 305 610.1M204 625.3C220.8 644.4 237.7 650.4 254.5 653.9C271.3 648.3 288.2 647.2 305 663.9M204 648C220.8 643.9 237.7 650.1 254.5 648.6C271.3 640.6 288.2 645.2 305 622.8M204 617.2C220.8 631 237.7 639.7 254.5 640.6C271.3 640.5 288.2 636.3 305 635.8M204 642.7C220.8 650.8 237.7 654.3 254.5 655.9C271.3 647.5 288.2 649.8 305 667.2M204 614.8C220.8 635.9 237.7 643.6 254.5 645.9C271.3 643.3 288.2 641.8 305 642.4M204 611.4C220.8 628.4 237.7 637.6 254.5 637.6C271.3 637.1 288.2 636.6 305 614.5M204 613.5C220.8 632.5 237.7 640.8 254.5 641.8C271.3 639.7 288.2 639.8 305 624.9M204 636.2C220.8 640.8 237.7 647.4 254.5 646.2C271.3 638.7 288.2 645.4 305 610.4M204 642.8C220.8 646.9 237.7 652.6 254.5 654.6C271.3 648.4 288.2 645.8 305 667.7M204 638.8C220.8 638.4 237.7 645.7 254.5 645.7C271.3 642.4 288.2 639.1 305 643.6M204 646.5C220.8 643.1 237.7 649.4 254.5 647.5C271.3 639.2 288.2 645.5 305 613.9M204 644.5C220.8 643.4 237.7 649.7 254.5 650C271.3 644.4 288.2 643 305 649M204 630.3C220.8 632.8 237.7 641.1 254.5 639.8C271.3 637.5 288.2 637 305 617.6M204 630.8C220.8 640.9 237.7 647.7 254.5 649C271.3 644 288.2 643.7 305 644.7M204 610.7C220.8 633.4 237.7 641.5 254.5 642.2C271.3 638.4 288.2 642.7 305 611.8M204 609.7C220.8 633.1 237.7 641.4 254.5 644.7C271.3 645.1 288.2 638.3 305 658.8M204 623C220.8 636.1 237.7 643.9 254.5 645.6C271.3 643.8 288.2 639.6 305 649.8M204 646.9C220.8 647.6 237.7 653.1 254.5 654.7C271.3 648 288.2 645.8 305 665.8M204 632.4C220.8 643.4 237.7 649.7 254.5 651.9C271.3 646.6 288.2 645.1 305 657.8M204 637.1C220.8 638.1 237.7 645.5 254.5 645.2C271.3 641.5 288.2 639.8 305 636.9M204 634.8C220.8 644.1 237.7 650.2 254.5 651.8C271.3 645.5 288.2 646 305 649.9M204 621.7C220.8 634 237.7 642.2 254.5 644.5C271.3 645 288.2 636.3 305 662.6M204 623.1C220.8 635.7 237.7 643.4 254.5 643.7C271.3 639.9 288.2 641.3 305 624M204 638C220.8 641.9 237.7 648.4 254.5 648.2C271.3 641.5 288.2 644.7 305 628.5M204 620.5C220.8 632.1 237.7 640.6 254.5 640.9C271.3 639.5 288.2 637.5 305 627.9M204 623.1C220.8 642.9 237.7 649.3 254.5 653.2C271.3 648.9 288.2 645.4 305 670.3M204 648.1C220.8 642.8 237.7 649.1 254.5 647.2C271.3 639.3 288.2 644.5 305 616.4M204 606.7C220.8 635.8 237.7 643.5 254.5 647.9C271.3 646.8 288.2 641.6 305 663.5M204 638.9C220.8 641.8 237.7 648.4 254.5 648.7C271.3 643.3 288.2 643.2 305 641.6M204 642.4C220.8 639.2 237.7 646.4 254.5 645.8C271.3 641.8 288.2 639.7 305 638.7M204 623.3C220.8 629.5 237.7 638.6 254.5 638.4C271.3 639.2 288.2 633.4 305 633.2M204 638.1C220.8 645.3 237.7 651.2 254.5 653.2C271.3 647.2 288.2 645.6 305 661M204 614.9C220.8 631.1 237.7 639.7 254.5 640C271.3 638.4 288.2 638.4 305 619.3M204 638.9C220.8 642 237.7 648.6 254.5 649.8C271.3 645.6 288.2 641.9 305 657.7M204 621.2C220.8 637.6 237.7 644.9 254.5 645.1C271.3 639.2 288.2 645 305 613M204 620.6C220.8 629.5 237.7 638.5 254.5 637.7C271.3 636.9 288.2 635.6 305 615.7M204 629C220.8 640.9 237.7 647.6 254.5 649.3C271.3 644.6 288.2 643.8 305 647.7M204 631.9C220.8 639.4 237.7 646.6 254.5 648.6C271.3 646.2 288.2 640 305 664.2"/><path fill="none" stroke="#5d8489" stroke-opacity="0.14" stroke-width="0.6" d="M204 605.4C220.8 623.6 237.7 634.2 254.5 634.2C271.3 634.2 288.2 633.1 305 605M204 605.6C220.8 624 237.7 634.6 254.5 634.7C271.3 634.8 288.2 633.9 305 606.9M204 604.8C220.8 622.7 237.7 633.8 254.5 633.9C271.3 634 288.2 632.9 305 605.2M204 605.9C220.8 624.3 237.7 634.4 254.5 634.4C271.3 634.3 288.2 633.2 305 604.8M204 605.4C220.8 623.9 237.7 634.8 254.5 635C271.3 635.3 288.2 634.7 305 609.1M204 604.8C220.8 622.7 237.7 633.9 254.5 634.1C271.3 634.2 288.2 633.2 305 606M204 651.9C220.8 650.9 237.7 656.8 254.5 657.5C271.3 651.4 288.2 648.2 305 674.5M204 650.2C220.8 648.7 237.7 654.3 254.5 655.8C271.3 649.3 288.2 646.3 305 671.3M204 651.4C220.8 650.1 237.7 655.5 254.5 656.4C271.3 649.7 288.2 646.5 305 671M204 651.6C220.8 650.5 237.7 656.3 254.5 657.1C271.3 650.8 288.2 647.6 305 673.4M204 651.9C220.8 650.7 237.7 656.2 254.5 656.9C271.3 650.3 288.2 647 305 671.8M204 651.4C220.8 650.2 237.7 655.9 254.5 656.9C271.3 650.5 288.2 647.4 305 673"/><path fill="#ff8c00" fill-opacity="0.33" stroke="none" d="M176 650L185.4 644L194.8 639.6L204.2 638L213.5 638.6L222.9 639.6L232.3 639.9L241.7 637.9L251.1 635.5L260.5 633.4L269.8 631.6L279.2 631.1L288.6 632.5L298 635.5L298 632L288.6 628.8L279.2 627.1L269.8 627.4L260.5 628.7L251.1 630L241.7 631.1L232.3 632L222.9 630.9L213.5 627L204.2 622.1L194.8 616.2L185.4 608.6L176 599.7Z"/><path fill="#ff8c00" fill-opacity="0.405" stroke="none" d="M176 650L184.1 644.7L192.3 640.6L200.4 638.3L208.5 638.2L216.7 639L224.8 639.8L232.9 639.8L241.1 638.1L249.2 635.9L257.3 634.1L265.5 632.3L273.6 631.1L281.7 631.3L289.9 632.8L298 635.5L298 664.4L289.9 654.6L281.7 648L273.6 646.8L265.5 647.3L257.3 648.2L249.2 649.2L241.1 650.5L232.9 652.2L224.8 655L216.7 659.8L208.5 665.6L200.4 671.8L192.3 678.7L184.1 686.5L176 695Z"/><path fill="#ff8c00" fill-opacity="0.9" stroke="none" d="M176 655.4L184.1 649.7L192.3 645.2L200.4 642.3L208.5 641.5L216.7 641.5L224.8 641.6L232.9 641.3L241.1 639.6L249.2 637.5L257.3 635.8L265.5 634.1L273.6 633L281.7 633.3L289.9 635.4L298 639L298 660.9L289.9 652L281.7 645.9L273.6 644.9L265.5 645.5L257.3 646.5L249.2 647.6L241.1 649L232.9 650.7L224.8 653.2L216.7 657.3L208.5 662.3L200.4 667.7L192.3 674.1L184.1 681.5L176 689.6Z"/><path fill="none" stroke="#ff8c00" stroke-opacity="0.22" stroke-width="0.8" d="M176 681C196.3 671.9 216.7 657.8 237 651.6C257.3 651.4 277.7 635.5 298 663.4M176 659.9C196.3 645.2 216.7 647.8 237 644.9C257.3 645 277.7 629.7 298 659.1M176 674.9C196.3 652.7 216.7 648.5 237 645.9C257.3 646.1 277.7 629.7 298 662.8M176 681.5C196.3 659.3 216.7 649.5 237 645.4C257.3 639.9 277.7 630.2 298 635.3M176 670.3C196.3 646.8 216.7 645.6 237 642.8C257.3 639.1 277.7 628 298 643.7M176 655.9C196.3 634.6 216.7 642 237 639.6C257.3 634.7 277.7 626.2 298 636.3M176 666.9C196.3 648.3 216.7 647.2 237 643.9C257.3 640.5 277.7 629.2 298 643.8M176 652.8C196.3 634.4 216.7 643.1 237 640.8C257.3 638.5 277.7 626.9 298 647.6M176 687.9C196.3 664.9 216.7 651.9 237 648.2C257.3 646.9 277.7 631.5 298 656.2M176 656.5C196.3 634.2 216.7 642.1 237 640.1C257.3 637.4 277.7 626.2 298 646.8M176 685.6C196.3 662 216.7 650.7 237 647.2C257.3 645.2 277.7 630.8 298 653.3M176 675.5C196.3 660.2 216.7 652.4 237 648.6C257.3 648.7 277.7 632.2 298 660.4M176 657C196.3 640.7 216.7 645.2 237 642.1C257.3 638 277.7 628.2 298 639.3M176 663C196.3 644 216.7 646 237 643.2C257.3 640.8 277.7 628.5 298 648.4M176 688.8C196.3 652.4 216.7 643.9 237 641.5C257.3 635.1 277.7 626.4 298 635.3M176 670.7C196.3 643.8 216.7 643.7 237 641.1C257.3 636 277.7 626.8 298 637.9M176 690C196.3 660.8 216.7 648.3 237 644.7C257.3 639 277.7 629.2 298 636.5M176 677.5C196.3 655.9 216.7 649.2 237 645.8C257.3 643.7 277.7 630.1 298 651.3M176 665.1C196.3 635.5 216.7 640.4 237 638.8C257.3 634.1 277.7 624.7 298 638.6M176 688C196.3 664.8 216.7 651.5 237 647.5C257.3 644.5 277.7 631.3 298 648M176 685.7C196.3 663.5 216.7 651.5 237 647.7C257.3 645.7 277.7 631.3 298 652.5M176 666.9C196.3 653 216.7 650.6 237 647.2C257.3 647.9 277.7 631.3 298 662.2M176 684.8C196.3 654.9 216.7 646.6 237 643.8C257.3 639.7 277.7 628.2 298 644.2M176 656.8C196.3 648.2 216.7 650 237 646.2C257.3 645.8 277.7 631.2 298 654.6M176 652.2C196.3 646.2 216.7 650.4 237 646.9C257.3 648.5 277.7 631.6 298 663.7M176 649.7C196.3 639.9 216.7 647.4 237 644.4C257.3 645.1 277.7 629.7 298 659.6M176 650.7C196.3 638.5 216.7 646.1 237 643.3C257.3 642.8 277.7 628.9 298 654.6M176 695.7C196.3 674.5 216.7 655.6 237 651.4C257.3 651.7 277.7 633.6 298 664.3M176 673.6C196.3 663.7 216.7 654.7 237 650.2C257.3 650.4 277.7 633.8 298 659.5M176 661.9C196.3 649.9 216.7 649.8 237 646.3C257.3 646.2 277.7 631 298 657.4M176 668.8C196.3 644.9 216.7 644.7 237 641.8C257.3 636.8 277.7 627.5 298 637.3M176 672.6C196.3 658.8 216.7 652.3 237 648.4C257.3 648.6 277.7 632.2 298 660.1M176 656.4C196.3 637.5 216.7 644.1 237 641.8C257.3 640.1 277.7 627.4 298 651.2M176 658.7C196.3 643.2 216.7 646.5 237 643.3C257.3 640.7 277.7 628.9 298 645.9M176 692.4C196.3 664.6 216.7 649.9 237 646C257.3 640.6 277.7 630.1 298 637.8M176 684.1C196.3 661.8 216.7 650.8 237 647.1C257.3 644.5 277.7 630.9 298 649.9M176 686.6C196.3 651.2 216.7 643.8 237 641.4C257.3 635.2 277.7 626.4 298 635.5M176 661.8C196.3 644.6 216.7 647.1 237 644.5C257.3 644.7 277.7 629.2 298 660.4M176 688.3C196.3 664.2 216.7 651.3 237 647.6C257.3 645.7 277.7 631.1 298 653.5M176 651.4C196.3 636.4 216.7 644.6 237 641.9C257.3 639.8 277.7 627.9 298 647.8M176 661.9C196.3 642.7 216.7 645.8 237 643.4C257.3 642.4 277.7 628.4 298 655.4M176 680.3C196.3 667.7 216.7 655.3 237 650.8C257.3 651 277.7 633.9 298 660.7M176 678.3C196.3 650 216.7 645.2 237 642.3C257.3 636.7 277.7 627.5 298 636.4M176 687.2C196.3 668.2 216.7 653.8 237 649.6C257.3 648.3 277.7 632.8 298 655.6M176 675.3C196.3 654.8 216.7 648.9 237 645.3C257.3 641.9 277.7 630 298 644.7M176 655.3C196.3 632.1 216.7 641.5 237 640C257.3 638.3 277.7 625.8 298 652.4M176 684C196.3 660.2 216.7 650 237 646.5C257.3 643.9 277.7 630.4 298 650M176 657.1C196.3 639.7 216.7 645 237 642.3C257.3 639.9 277.7 628 298 647.4M176 669.7C196.3 645.7 216.7 645.6 237 643.4C257.3 642.4 277.7 628 298 656.7M176 665.9C196.3 638.7 216.7 642 237 639.8C257.3 634.9 277.7 625.8 298 638.2M176 667.6C196.3 651.8 216.7 649.6 237 646.2C257.3 645.8 277.7 630.6 298 657.4M176 650.9C196.3 635.8 216.7 644.6 237 642.2C257.3 641.3 277.7 627.9 298 653.6M176 691.9C196.3 656 216.7 645.3 237 642.6C257.3 636.7 277.7 627.2 298 637.6M176 669.9C196.3 650.5 216.7 648.3 237 645.4C257.3 644.8 277.7 629.7 298 657.5M176 695.8C196.3 672.5 216.7 654.2 237 650C257.3 648.6 277.7 632.7 298 656.3M176 683.9C196.3 662.7 216.7 651.3 237 647.3C257.3 644.4 277.7 631.3 298 647.8M176 680.1C196.3 654.8 216.7 648.2 237 645.4C257.3 644.1 277.7 629.3 298 656.4M176 660.9C196.3 644.9 216.7 646.7 237 643.2C257.3 639.4 277.7 629 298 640.4M176 656.9C196.3 637.7 216.7 643.9 237 641.4C257.3 638.5 277.7 627.3 298 645.7M176 652.4C196.3 643.2 216.7 648.6 237 645.4C257.3 646.1 277.7 630.4 298 660.3M176 652.9C196.3 638.6 216.7 645.2 237 642C257.3 638.6 277.7 628.3 298 641.2M176 678.3C196.3 653.1 216.7 646.9 237 643.5C257.3 638.4 277.7 628.6 298 637.4M176 650.3C196.3 642 216.7 647.8 237 644.2C257.3 642.2 277.7 630.1 298 646.9M176 685.7C196.3 667.1 216.7 653.8 237 649.8C257.3 649.6 277.7 632.8 298 660.6M176 659.4C196.3 643.5 216.7 646.8 237 644C257.3 643 277.7 629.1 298 654.4M176 666.1C196.3 654.6 216.7 651.5 237 647.6C257.3 647.5 277.7 631.9 298 657.7M176 678.2C196.3 651.3 216.7 646.2 237 643.3C257.3 639.2 277.7 628.1 298 643.1M176 679.8C196.3 659.8 216.7 650.9 237 647.3C257.3 645.7 277.7 631.1 298 653.8M176 691.9C196.3 663.8 216.7 649.7 237 645.9C257.3 641 277.7 630 298 640.2M176 694.6C196.3 671.8 216.7 654 237 649.8C257.3 648.2 277.7 632.7 298 655.2M176 664.6C196.3 648.7 216.7 648.8 237 646C257.3 647.1 277.7 630.2 298 664.6M176 686.8C196.3 667.6 216.7 653.9 237 649.9C257.3 650.1 277.7 632.8 298 662.3M176 668.6C196.3 649.8 216.7 647.9 237 644.7C257.3 642.6 277.7 629.5 298 649.9M176 652.5C196.3 640.9 216.7 647.4 237 644.7C257.3 645.9 277.7 629.6 298 663.3M176 653C196.3 642.7 216.7 647.8 237 644.5C257.3 643.6 277.7 629.9 298 652.6M176 688.4C196.3 661.9 216.7 649.7 237 646.1C257.3 642.4 277.7 630.1 298 645.7M176 680.2C196.3 666.4 216.7 654.8 237 650.6C257.3 651.6 277.7 633.6 298 664.8M176 694.1C196.3 662.8 216.7 648.5 237 645C257.3 639.4 277.7 629.2 298 638M176 685.4C196.3 657.7 216.7 648.2 237 645.2C257.3 642.1 277.7 629.2 298 648.8M176 665.1C196.3 647.8 216.7 647.4 237 643.9C257.3 640.6 277.7 629.3 298 643.5M176 685.3C196.3 662 216.7 650.9 237 647.5C257.3 646.4 277.7 630.9 298 657M176 684.1C196.3 665.9 216.7 653.6 237 649.7C257.3 650 277.7 632.7 298 662.7M176 662.1C196.3 649.7 216.7 650 237 646.8C257.3 648.1 277.7 631 298 664.4M176 680.2C196.3 660.3 216.7 651.3 237 647.7C257.3 647.2 277.7 631.3 298 658.8M176 663.5C196.3 641.7 216.7 644.7 237 642.4C257.3 640.6 277.7 627.6 298 651.9M176 653.7C196.3 633.3 216.7 642.2 237 640.1C257.3 637.1 277.7 626.3 298 645.1M176 655.6C196.3 633.5 216.7 641.5 237 639.2C257.3 634.3 277.7 625.8 298 636.3M176 685.8C196.3 664.3 216.7 652.2 237 648.7C257.3 648.5 277.7 631.8 298 661.5M176 694.1C196.3 666.1 216.7 650.8 237 647.2C257.3 644.1 277.7 630.6 298 649.3M176 680.4C196.3 660.1 216.7 650.7 237 646.9C257.3 644.2 277.7 631 298 648.3"/><path fill="none" stroke="#ff8c00" stroke-opacity="0.14" stroke-width="0.6" d="M176 604.9C196.3 623.8 216.7 635.1 237 634C257.3 632.2 277.7 623.8 298 633.8M176 634.9C196.3 623.2 216.7 638.1 237 634.5C257.3 631.3 277.7 622.7 298 632.2M176 614.8C196.3 625.5 216.7 636.5 237 635.2C257.3 632.7 277.7 624.3 298 634.2M176 641.8C196.3 627.7 216.7 639.9 237 637C257.3 633 277.7 624.6 298 634.1M176 627.7C196.3 623.4 216.7 637.4 237 634.4C257.3 631.5 277.7 623 298 632.7M176 614.7C196.3 624.4 216.7 636.3 237 634.6C257.3 632.2 277.7 623.8 298 633.7M176 604.3C196.3 622.9 216.7 634.8 237 633.5C257.3 631.8 277.7 623.4 298 633.5M176 606.6C196.3 626.9 216.7 636 237 635.7C257.3 633.4 277.7 625.2 298 635.3M176 646C196.3 624.8 216.7 639.6 237 635.6C257.3 631.7 277.7 623.1 298 632.5M176 613C196.3 626.1 216.7 636.5 237 635.4C257.3 632.9 277.7 624.7 298 634.6M176 643.9C196.3 630.2 216.7 640.7 237 638.4C257.3 634 277.7 625.7 298 635.2M176 633.9C196.3 623.5 216.7 638 237 634.6C257.3 631.4 277.7 622.9 298 632.4M176 640.4C196.3 628.6 216.7 640 237 637.5C257.3 633.4 277.7 625.1 298 634.6M176 608.2C196.3 626.1 216.7 636 237 635.3C257.3 633.1 277.7 624.8 298 634.9M176 638C196.3 624.8 216.7 638.8 237 635.4C257.3 631.9 277.7 623.4 298 632.9M176 606.9C196.3 620.6 216.7 634.5 237 632.4C257.3 630.8 277.7 622.3 298 632.2M176 647.7C196.3 628.7 216.7 640.7 237 637.7C257.3 633.3 277.7 624.9 298 634.3M176 619.3C196.3 626.1 216.7 637.1 237 635.6C257.3 632.8 277.7 624.5 298 634.3M176 612.7C196.3 626.3 216.7 636.5 237 635.5C257.3 633 277.7 624.8 298 634.7M176 619.6C196.3 627.4 216.7 637.5 237 636.3C257.3 633.3 277.7 625.1 298 634.9M176 642.4C196.3 624.9 216.7 639.3 237 635.6C257.3 631.8 277.7 623.3 298 632.7M176 618.4C196.3 624.3 216.7 636.6 237 634.7C257.3 632.1 277.7 623.7 298 633.5M176 631.1C196.3 624.7 216.7 638 237 635.2C257.3 632 277.7 623.5 298 633.1M176 602.1C196.3 624.2 216.7 634.9 237 634.2C257.3 632.4 277.7 624.1 298 634.2M176 647.6C196.3 629.2 216.7 640.9 237 638C257.3 633.5 277.7 625.2 298 634.6M176 610.7C196.3 625.6 216.7 636.1 237 635.1C257.3 632.8 277.7 624.5 298 634.5M176 612.1C196.3 626.4 216.7 636.5 237 635.5C257.3 633.1 277.7 624.8 298 634.8M176 620C196.3 625.9 216.7 637.2 237 635.5C257.3 632.7 277.7 624.4 298 634.2M176 623.2C196.3 626.2 216.7 637.6 237 635.7C257.3 632.8 277.7 624.4 298 634.2M176 620.2C196.3 623.3 216.7 636.5 237 634.1C257.3 631.6 277.7 623.2 298 632.9M176 710.8C196.3 681.5 216.7 658.6 237 653.8C257.3 654.5 277.7 631.9 298 670.3M176 695.8C196.3 677.4 216.7 657.2 237 653.2C257.3 656.1 277.7 629.3 298 675.6M176 697.4C196.3 676.2 216.7 656.5 237 652.4C257.3 653.8 277.7 631.7 298 669.6M176 712.8C196.3 684.4 216.7 660.1 237 655.3C257.3 657.5 277.7 629.2 298 677.7M176 711.4C196.3 680.5 216.7 658.1 237 653.2C257.3 652.8 277.7 633.6 298 666M176 716.8C196.3 682.3 216.7 658.8 237 653.6C257.3 652.6 277.7 634.2 298 665M176 695.8C196.3 677 216.7 657 237 653C257.3 655.6 277.7 629.7 298 674.4M176 715.8C196.3 684.2 216.7 659.8 237 654.8C257.3 655.8 277.7 631.1 298 673.1M176 714.8C196.3 683.8 216.7 659.7 237 654.7C257.3 655.8 277.7 631 298 673.2M176 696.9C196.3 677 216.7 656.9 237 652.9C257.3 655 277.7 630.4 298 672.8"/><path fill="none" stroke="#fff" stroke-opacity="0.75" stroke-width="1.8" d="M204 642C220.8 643.9 237.7 648.7 254.5 648.9C271.3 646.5 288.2 642.9 305 640"/><path fill="none" stroke="#3f6470" stroke-opacity="0.6" stroke-width="0.9" stroke-dasharray="1.3 1.1" d="M204 642C220.8 643.9 237.7 648.7 254.5 648.9C271.3 646.5 288.2 642.9 305 640"/><path fill="none" stroke="#fff" stroke-opacity="0.75" stroke-width="1.8" d="M176 666.7C196.3 659.4 216.7 650.2 237 643.8C257.3 640.1 277.7 625.9 298 646.7"/><path fill="none" stroke="#d97700" stroke-opacity="0.6" stroke-width="0.9" stroke-dasharray="1.3 1.1" d="M176 666.7C196.3 659.4 216.7 650.2 237 643.8C257.3 640.1 277.7 625.9 298 646.7"/><line x1="22.3" y1="637.5" x2="315.5" y2="637.5" stroke="#8a8a8a" stroke-width="0.6" stroke-dasharray="0.9 1.1"/><line x1="22.4" y1="593.5" x2="22.4" y2="724.2" stroke="#9a9a9a" stroke-width="0.9"/><line x1="22.3" y1="724.2" x2="168.1" y2="724.2" stroke="#9a9a9a" stroke-width="0.9"/><line x1="169.3" y1="724.2" x2="315.5" y2="724.2" stroke="#9a9a9a" stroke-width="0.9"/><rect x="22.8" y="583" width="144.9" height="10.4" fill="#fff" stroke="#333" stroke-width="0.9"/><text x="95.2" y="591.1" font-size="8.7" text-anchor="middle" fill="#1a1a1a">Amyloid−</text><rect x="169.8" y="583" width="145.3" height="10.4" fill="#fff" stroke="#333" stroke-width="0.9"/><text x="242.4" y="591.1" font-size="8.7" text-anchor="middle" fill="#1a1a1a">Amyloid+</text><text x="21.9" y="579.1" font-size="11" fill="#000">M5</text><text x="21" y="618.5" font-size="6.6" text-anchor="end" fill="#555">1</text><line x1="21.2" y1="616.1" x2="22.4" y2="616.1" stroke="#9a9a9a" stroke-width="0.6"/><text x="21" y="639.9" font-size="6.6" text-anchor="end" fill="#555">0</text><line x1="21.2" y1="637.5" x2="22.4" y2="637.5" stroke="#9a9a9a" stroke-width="0.6"/><text x="21" y="661.3" font-size="6.6" text-anchor="end" fill="#555">−1</text><line x1="21.2" y1="658.9" x2="22.4" y2="658.9" stroke="#9a9a9a" stroke-width="0.6"/><text x="34.5" y="731" font-size="6.6" text-anchor="middle" fill="#555">45</text><text x="48.3" y="731" font-size="6.6" text-anchor="middle" fill="#555">50</text><text x="62.1" y="731" font-size="6.6" text-anchor="middle" fill="#555">55</text><text x="75.9" y="731" font-size="6.6" text-anchor="middle" fill="#555">60</text><text x="89.7" y="731" font-size="6.6" text-anchor="middle" fill="#555">65</text><text x="103.5" y="731" font-size="6.6" text-anchor="middle" fill="#555">70</text><text x="117.3" y="731" font-size="6.6" text-anchor="middle" fill="#555">75</text><text x="131.1" y="731" font-size="6.6" text-anchor="middle" fill="#555">80</text><text x="144.9" y="731" font-size="6.6" text-anchor="middle" fill="#555">85</text><text x="158.7" y="731" font-size="6.6" text-anchor="middle" fill="#555">90</text><text x="181.6" y="731" font-size="6.6" text-anchor="middle" fill="#555">45</text><text x="195.4" y="731" font-size="6.6" text-anchor="middle" fill="#555">50</text><text x="209.2" y="731" font-size="6.6" text-anchor="middle" fill="#555">55</text><text x="223" y="731" font-size="6.6" text-anchor="middle" fill="#555">60</text><text x="236.8" y="731" font-size="6.6" text-anchor="middle" fill="#555">65</text><text x="250.6" y="731" font-size="6.6" text-anchor="middle" fill="#555">70</text><text x="264.4" y="731" font-size="6.6" text-anchor="middle" fill="#555">75</text><text x="278.2" y="731" font-size="6.6" text-anchor="middle" fill="#555">80</text><text x="292" y="731" font-size="6.6" text-anchor="middle" fill="#555">85</text><text x="305.8" y="731" font-size="6.6" text-anchor="middle" fill="#555">90</text><text x="169" y="741.9" font-size="11" text-anchor="middle" fill="#000">Age</text><text x="0" y="0" font-size="11" text-anchor="middle" fill="#000" transform="translate(9.2 658.8) rotate(-90)">Protein Level (Z−Score)</text></g>
<g><path fill="none" stroke="#5d8489" stroke-opacity="0.288" stroke-width="0.7" d="M405.5 647.4C424.4 654.2 443.2 661 462.1 659.4C481 657.7 499.8 654.6 518.7 644.5M405.5 629.1C424.4 655.1 443.2 657.2 462.1 658.9C481 659.2 499.8 660.2 518.7 660M405.5 649.2C424.4 656.2 443.2 662.6 462.1 661.9C481 661.2 499.8 658.9 518.7 648.1M405.5 654.8C424.4 653.8 443.2 662.5 462.1 659.8C481 657.5 499.8 653.3 518.7 640.4M405.5 648.1C424.4 651.9 443.2 659.8 462.1 657.5C481 655.4 499.8 653.1 518.7 648.3M405.5 642.5C424.4 654 443.2 659.7 462.1 659.1C481 658.2 499.8 657.2 518.7 652.9M405.5 637.1C424.4 655.1 443.2 659.1 462.1 659.3C481 658.6 499.8 656.9 518.7 649.2M405.5 637.9C424.4 651.9 443.2 657.5 462.1 656C481 654.1 499.8 651.9 518.7 647.6M405.5 635.9C424.4 657.1 443.2 660 462.1 661.4C481 661.8 499.8 661.2 518.7 654M405.5 638.7C424.4 651.6 443.2 657.5 462.1 655.5C481 653.1 499.8 649.7 518.7 642.4M405.5 632.3C424.4 654.1 443.2 657.4 462.1 657.7C481 657 499.8 656 518.7 651.8M405.5 632.1C424.4 651.9 443.2 656.2 462.1 654.3C481 651.3 499.8 646 518.7 633.5M405.5 643.8C424.4 654.1 443.2 660.1 462.1 659C481 657.6 499.8 655 518.7 646.5M405.5 641.4C424.4 656.5 443.2 660.9 462.1 661.5C481 661.4 499.8 660.4 518.7 652.8M405.5 640.8C424.4 654.4 443.2 659.6 462.1 659.3C481 658.6 499.8 657.5 518.7 652.7M405.5 640.4C424.4 650.3 443.2 657.2 462.1 653.9C481 650.4 499.8 645.1 518.7 634.7M405.5 636.2C424.4 651.9 443.2 657.1 462.1 654.7C481 651.5 499.8 645.9 518.7 632.6M405.5 639.6C424.4 655.2 443.2 659.7 462.1 659.9C481 659.5 499.8 658.6 518.7 652.9M405.5 627.9C424.4 655.8 443.2 657.4 462.1 658.1C481 657.1 499.8 653.8 518.7 641.1M405.5 643.1C424.4 652 443.2 658.8 462.1 656.6C481 654.3 499.8 651.1 518.7 643.6M405.5 653.4C424.4 654.7 443.2 662.7 462.1 660.4C481 658.4 499.8 654 518.7 639.5M405.5 656.5C424.4 656.1 443.2 664.2 462.1 662.4C481 660.9 499.8 657.1 518.7 642.1M405.5 643.7C424.4 654.5 443.2 660.3 462.1 659.1C481 657.5 499.8 654.3 518.7 643.4M405.5 650.6C424.4 654.8 443.2 662.1 462.1 660.2C481 658.3 499.8 654.1 518.7 640.2M405.5 646.9C424.4 655.4 443.2 661.5 462.1 661.5C481 661.5 499.8 661.7 518.7 658.7M405.5 632.5C424.4 651.4 443.2 655.9 462.1 655.1C481 653.5 499.8 652.3 518.7 651.3"/><path fill="none" stroke="#ff8c00" stroke-opacity="0.36" stroke-width="0.7" d="M405.5 662.8C426.2 661.1 447 664.2 467.8 658.4C488.5 654.1 509.2 648.6 530 667.8M405.5 659.8C426.2 657.5 447 661.3 467.8 654.4C488.5 643.7 509.2 654.2 530 643.4M405.5 668C426.2 659.9 447 661.8 467.8 654.2C488.5 643.2 509.2 652.1 530 645.5M405.5 659.5C426.2 657 447 660.8 467.8 655.6C488.5 654.9 509.2 640.7 530 681.9M405.5 665.9C426.2 658.2 447 660.6 467.8 653C488.5 642 509.2 651.4 530 645M405.5 660.1C426.2 656.7 447 660.4 467.8 654.4C488.5 649.5 509.2 645.4 530 666.1M405.5 667.5C426.2 662.8 447 664.9 467.8 658.3C488.5 651.1 509.2 651.4 530 658.6M405.5 666.6C426.2 662 447 664.2 467.8 657.2C488.5 647.3 509.2 654.3 530 648.3M405.5 663C426.2 659.6 447 662.7 467.8 656.4C488.5 650.1 509.2 649 530 661.2M405.5 660.4C426.2 659.3 447 663 467.8 657.4C488.5 654.1 509.2 646.6 530 671.3M405.5 660.6C426.2 658.6 447 662.2 467.8 655.6C488.5 646.8 509.2 652.7 530 650.4M405.5 655.5C426.2 654.9 447 659.7 467.8 653.1C488.5 643.3 509.2 652.7 530 645.3M405.5 665.7C426.2 661.1 447 663.6 467.8 656.3C488.5 644.9 509.2 655.9 530 642.2M405.5 663C426.2 658.5 447 661.6 467.8 655C488.5 647.8 509.2 648.8 530 657.9M405.5 670.9C426.2 662.9 447 664.3 467.8 657.9C488.5 654.5 509.2 644.2 530 675M405.5 665C426.2 660.5 447 663.1 467.8 657.3C488.5 655 509.2 643.7 530 676.8M405.5 654.7C426.2 655.3 447 660.2 467.8 654.8C488.5 651 509.2 645.8 530 668.1M405.5 658.2C426.2 655.1 447 659.3 467.8 652.7C488.5 644.3 509.2 649.2 530 652.2M405.5 662.8C426.2 657.5 447 660.6 467.8 653.4C488.5 643.3 509.2 651.4 530 646.9M405.5 654.1C426.2 653.6 447 658.7 467.8 652.4C488.5 643.6 509.2 650.5 530 649.4M405.5 654C426.2 655.8 447 660.9 467.8 655.3C488.5 649 509.2 650.2 530 658.2M405.5 659.5C426.2 658.1 447 662 467.8 656.6C488.5 654.6 509.2 643.9 530 676.3M405.5 660.8C426.2 655.5 447 659 467.8 651.6C488.5 639.9 509.2 652.2 530 640.7M405.5 665.8C426.2 662.5 447 665 467.8 659.1C488.5 655.3 509.2 647.7 530 670.9M405.5 663.2C426.2 659.8 447 662.9 467.8 656.4C488.5 649.2 509.2 650.4 530 657.5M405.5 663.6C426.2 660.6 447 663.6 467.8 658C488.5 655.6 509.2 644.9 530 676"/><path fill="none" stroke="#ff8c00" stroke-opacity="0.3" stroke-width="0.6" d="M405.5 644.3C426.2 648.5 447 655.7 467.8 649.1C488.5 638.2 509.2 650.1 530 635.4M405.5 649.4C426.2 649.9 447 656.2 467.8 649.4C488.5 638.4 509.2 650 530 635.2M405.5 640.3C426.2 645.7 447 654.5 467.8 648.2C488.5 639.6 509.2 643.8 530 633.7M405.5 677.4C426.2 667.9 447 668.5 467.8 663.2C488.5 660 509.2 652.7 530 683.2M405.5 674.2C426.2 667 447 667.8 467.8 662.6C488.5 659.2 509.2 652.6 530 683.5M405.5 673.5C426.2 667.1 447 667.8 467.8 662.8C488.5 658.4 509.2 656 530 684.3"/><path fill="none" stroke="#fff" stroke-opacity="0.4" stroke-width="1.4" d="M405.5 650.1C424.4 655.5 443.2 658.9 462.1 657.6C481 654.7 499.8 652.1 518.7 649.9"/><path fill="none" stroke="#3f6470" stroke-opacity="0.8" stroke-width="0.9" stroke-dasharray="1.3 1.1" d="M405.5 650.1C424.4 655.5 443.2 658.9 462.1 657.6C481 654.7 499.8 652.1 518.7 649.9"/><path fill="none" stroke="#fff" stroke-opacity="0.4" stroke-width="1.4" d="M405.5 662C426.2 658.6 447 662.4 467.8 655.5C488.5 648.1 509.2 649.1 530 662"/><path fill="none" stroke="#d97700" stroke-opacity="0.8" stroke-width="0.9" stroke-dasharray="1.3 1.1" d="M405.5 662C426.2 658.6 447 662.4 467.8 655.5C488.5 648.1 509.2 649.1 530 662"/><path fill="none" stroke="#5d8489" stroke-opacity="0.288" stroke-width="0.7" d="M572 657.2C588.8 657 605.7 658.2 622.5 653.6C639.3 651.1 656.2 645.9 673 643M572 644C588.8 658.8 605.7 658.2 622.5 655.5C639.3 654.3 656.2 649.1 673 641.9M572 655C588.8 662 605.7 662 622.5 659.6C639.3 659 656.2 657.4 673 654.9M572 634C588.8 657.3 605.7 655.9 622.5 654.4C639.3 653.8 656.2 649.5 673 644.1M572 650.5C588.8 658.3 605.7 658.5 622.5 655.2C639.3 653.6 656.2 649.2 673 645.1M572 636.1C588.8 654.3 605.7 653.7 622.5 650.7C639.3 649 656.2 642.5 673 636.8M572 659.6C588.8 662.7 605.7 663.1 622.5 659.9C639.3 658.7 656.2 655.8 673 650.7M572 639.7C588.8 655.6 605.7 655.2 622.5 652C639.3 650.2 656.2 643.6 673 636.7M572 657C588.8 659.3 605.7 660 622.5 655.6C639.3 653.2 656.2 647.2 673 639.7M572 647.1C588.8 658.5 605.7 658.4 622.5 655.9C639.3 654.9 656.2 651.9 673 649.7M572 637.3C588.8 654.2 605.7 653.8 622.5 651.7C639.3 650.8 656.2 647.7 673 649M572 633.9C588.8 655.2 605.7 654.3 622.5 652.3C639.3 651.4 656.2 646.9 673 643.6M572 653.2C588.8 660.1 605.7 660.3 622.5 656.5C639.3 654.5 656.2 648.6 673 639.7M572 646.2C588.8 657.6 605.7 657.5 622.5 655.1C639.3 654.3 656.2 651.8 673 651.7M572 642.8C588.8 659.7 605.7 658.9 622.5 657.9C639.3 658.2 656.2 657.8 673 658.6M572 644.9C588.8 653 605.7 653.7 622.5 649.4C639.3 646.9 656.2 640.4 673 637.6M572 646.7C588.8 655.7 605.7 656 622.5 651.9C639.3 649.6 656.2 642.7 673 636.5M572 649.8C588.8 652.8 605.7 654.1 622.5 650C639.3 647.9 656.2 644.1 673 647.8M572 663.2C588.8 662.6 605.7 663.4 622.5 660.1C639.3 659 656.2 657.3 673 655.3M572 643.7C588.8 658.1 605.7 657.7 622.5 655.3C639.3 654.5 656.2 650.9 673 647.8M572 658.9C588.8 660.4 605.7 661.2 622.5 657.8C639.3 656.5 656.2 654.1 673 652.8M572 644.3C588.8 659.4 605.7 658.7 622.5 656.3C639.3 655.3 656.2 650.9 673 644.3M572 642.6C588.8 660 605.7 659.1 622.5 657.8C639.3 657.8 656.2 656.2 673 654.2M572 637C588.8 657.7 605.7 656.7 622.5 656C639.3 656.5 656.2 656.1 673 658.7M572 657.9C588.8 662.3 605.7 662.6 622.5 659.8C639.3 658.9 656.2 656.9 673 653.7M572 633.4C588.8 654.8 605.7 653.9 622.5 651.9C639.3 651 656.2 646.5 673 643.6"/><path fill="none" stroke="#5d8489" stroke-opacity="0.3" stroke-width="0.6" d="M572 628.3C588.8 650 605.7 649.6 622.5 644.3C639.3 640.4 656.2 626.9 673 606M572 628.4C588.8 650.3 605.7 649.8 622.5 645.3C639.3 642 656.2 630.3 673 615M572 627.7C588.8 650.1 605.7 649.6 622.5 645.7C639.3 643 656.2 632.9 673 624.6M572 665.1C588.8 665.5 605.7 666.1 622.5 666.5C639.3 668.2 656.2 670.4 673 687.4M572 664.6C588.8 664.8 605.7 665.4 622.5 664.4C639.3 665.3 656.2 666.5 673 676.3M572 665.7C588.8 665.6 605.7 666.2 622.5 664.6C639.3 664.2 656.2 665.3 673 665.5"/><path fill="none" stroke="#ff8c00" stroke-opacity="0.36" stroke-width="0.7" d="M544 683.8C564.3 676.7 584.7 667.6 605 659.8C625.3 651.3 645.7 650.3 666 652.4M544 693.6C564.3 682 584.7 668.3 605 659.8C625.3 650.5 645.7 650 666 652.4M544 692.5C564.3 682.7 584.7 669.5 605 659.8C625.3 647.3 645.7 652.9 666 642.8M544 674.7C564.3 657.7 584.7 645.7 605 643.5C625.3 638.6 645.7 648.3 666 638.8M544 666.3C564.3 659.8 584.7 655.2 605 651.6C625.3 647.3 645.7 648.6 666 649.5M544 684.2C564.3 670.2 584.7 657.3 605 651.5C625.3 643.3 645.7 650.2 666 642.1M544 677.3C564.3 669.1 584.7 660.6 605 654.2C625.3 645.3 645.7 651.4 666 642.3M544 696.4C564.3 688.4 584.7 676.2 605 666.1C625.3 656.9 645.7 649.6 666 661.6M544 695.1C564.3 684 584.7 670.1 605 661C625.3 650.8 645.7 650.6 666 651.8M544 670.7C564.3 655.8 584.7 646 605 644.4C625.3 641.2 645.7 647.3 666 644.3M544 699.1C564.3 686 584.7 670.8 605 662.2C625.3 654.4 645.7 648.1 666 661.3M544 686.5C564.3 681.8 584.7 673.9 605 665.6C625.3 659.4 645.7 648 666 667.5M544 677.6C564.3 663.5 584.7 651.9 605 647.4C625.3 639.5 645.7 650.6 666 636M544 683.8C564.3 669.1 584.7 656.6 605 652.1C625.3 647 645.7 647.4 666 652.3M544 675.6C564.3 666.4 584.7 657.4 605 651.5C625.3 642.1 645.7 652.1 666 636.7M544 683.5C564.3 670.9 584.7 658.3 605 651.4C625.3 640.6 645.7 652.5 666 634.3M544 685.9C564.3 677.4 584.7 666.2 605 657.1C625.3 644.2 645.7 654 666 636.2M544 683.2C564.3 679.5 584.7 672.5 605 664C625.3 656.3 645.7 649.7 666 660.1M544 666.5C564.3 663 584.7 660.3 605 656C625.3 652.7 645.7 647.7 666 658.4M544 669.5C564.3 657.5 584.7 648.9 605 645.8C625.3 639.6 645.7 650 666 637.1M544 687.2C564.3 675.8 584.7 664.4 605 658.2C625.3 653 645.7 647.1 666 660.8M544 693.1C564.3 686.3 584.7 675 605 664.8C625.3 654 645.7 651.3 666 654.6M544 687.8C564.3 682.1 584.7 673.5 605 665.2C625.3 658.8 645.7 647.9 666 666.9M544 680.9C564.3 677.7 584.7 672 605 664.6C625.3 659.6 645.7 647.6 666 668.3M544 678.7C564.3 668.5 584.7 658.7 605 652.6C625.3 643.9 645.7 651.2 666 640.9M544 677.3C564.3 659.5 584.7 646.4 605 643.7C625.3 638.1 645.7 648.7 666 637.6"/><path fill="none" stroke="#ff8c00" stroke-opacity="0.3" stroke-width="0.6" d="M544 657.3C564.3 649.7 584.7 644.8 605 642.8C625.3 639.5 645.7 645.8 666 631.9M544 635.6C564.3 648.4 584.7 641.8 605 642C625.3 639 645.7 647.1 666 632.9M544 641.1C564.3 648.2 584.7 642.4 605 642C625.3 639.4 645.7 645.8 666 632.2M544 716.5C564.3 697.8 584.7 681.5 605 670.6C625.3 660.8 645.7 652 666 669.5M544 706.4C564.3 696 584.7 680.4 605 670.1C625.3 659.5 645.7 655.3 666 671.6M544 712.8C564.3 697.7 584.7 681.4 605 670.8C625.3 659.8 645.7 656.8 666 671.8"/><path fill="none" stroke="#fff" stroke-opacity="0.4" stroke-width="1.4" d="M572 658C588.8 657.8 605.7 657.3 622.5 654.6C639.3 652.2 656.2 648.4 673 646"/><path fill="none" stroke="#3f6470" stroke-opacity="0.8" stroke-width="0.9" stroke-dasharray="1.3 1.1" d="M572 658C588.8 657.8 605.7 657.3 622.5 654.6C639.3 652.2 656.2 648.4 673 646"/><path fill="none" stroke="#fff" stroke-opacity="0.4" stroke-width="1.4" d="M544 683C564.3 673.4 584.7 663.4 605 656.7C625.3 649.8 645.7 646.8 666 654"/><path fill="none" stroke="#d97700" stroke-opacity="0.8" stroke-width="0.9" stroke-dasharray="1.3 1.1" d="M544 683C564.3 673.4 584.7 663.4 605 656.7C625.3 649.8 645.7 646.8 666 654"/><line x1="390.7" y1="651.9" x2="683.9" y2="651.9" stroke="#8a8a8a" stroke-width="0.6" stroke-dasharray="0.9 1.1"/><line x1="390.8" y1="593.5" x2="390.8" y2="724.2" stroke="#9a9a9a" stroke-width="0.9"/><line x1="390.7" y1="724.2" x2="536.5" y2="724.2" stroke="#9a9a9a" stroke-width="0.9"/><line x1="537.7" y1="724.2" x2="683.9" y2="724.2" stroke="#9a9a9a" stroke-width="0.9"/><rect x="391.1" y="583" width="144.9" height="10.4" fill="#fff" stroke="#333" stroke-width="0.9"/><text x="463.6" y="591.1" font-size="8.7" text-anchor="middle" fill="#1a1a1a">Amyloid−</text><rect x="538.2" y="583" width="145.3" height="10.4" fill="#fff" stroke="#333" stroke-width="0.9"/><text x="610.8" y="591.1" font-size="8.7" text-anchor="middle" fill="#1a1a1a">Amyloid+</text><text x="390.3" y="579.1" font-size="11" fill="#000">M14</text><text x="389.4" y="623.6" font-size="6.6" text-anchor="end" fill="#555">1</text><line x1="389.6" y1="621.2" x2="390.8" y2="621.2" stroke="#9a9a9a" stroke-width="0.6"/><text x="389.4" y="654.3" font-size="6.6" text-anchor="end" fill="#555">0</text><line x1="389.6" y1="651.9" x2="390.8" y2="651.9" stroke="#9a9a9a" stroke-width="0.6"/><text x="389.4" y="685" font-size="6.6" text-anchor="end" fill="#555">−1</text><line x1="389.6" y1="682.6" x2="390.8" y2="682.6" stroke="#9a9a9a" stroke-width="0.6"/><text x="402.9" y="731" font-size="6.6" text-anchor="middle" fill="#555">45</text><text x="416.7" y="731" font-size="6.6" text-anchor="middle" fill="#555">50</text><text x="430.5" y="731" font-size="6.6" text-anchor="middle" fill="#555">55</text><text x="444.3" y="731" font-size="6.6" text-anchor="middle" fill="#555">60</text><text x="458.1" y="731" font-size="6.6" text-anchor="middle" fill="#555">65</text><text x="471.9" y="731" font-size="6.6" text-anchor="middle" fill="#555">70</text><text x="485.7" y="731" font-size="6.6" text-anchor="middle" fill="#555">75</text><text x="499.5" y="731" font-size="6.6" text-anchor="middle" fill="#555">80</text><text x="513.3" y="731" font-size="6.6" text-anchor="middle" fill="#555">85</text><text x="527.1" y="731" font-size="6.6" text-anchor="middle" fill="#555">90</text><text x="550" y="731" font-size="6.6" text-anchor="middle" fill="#555">45</text><text x="563.8" y="731" font-size="6.6" text-anchor="middle" fill="#555">50</text><text x="577.6" y="731" font-size="6.6" text-anchor="middle" fill="#555">55</text><text x="591.4" y="731" font-size="6.6" text-anchor="middle" fill="#555">60</text><text x="605.2" y="731" font-size="6.6" text-anchor="middle" fill="#555">65</text><text x="619" y="731" font-size="6.6" text-anchor="middle" fill="#555">70</text><text x="632.8" y="731" font-size="6.6" text-anchor="middle" fill="#555">75</text><text x="646.6" y="731" font-size="6.6" text-anchor="middle" fill="#555">80</text><text x="660.4" y="731" font-size="6.6" text-anchor="middle" fill="#555">85</text><text x="674.2" y="731" font-size="6.6" text-anchor="middle" fill="#555">90</text><text x="537.4" y="741.9" font-size="11" text-anchor="middle" fill="#000">Age</text><text x="0" y="0" font-size="11" text-anchor="middle" fill="#000" transform="translate(377.6 658.8) rotate(-90)">Protein Level (Z−Score)</text></g>
<g><defs><linearGradient id="g4" gradientUnits="userSpaceOnUse" x1="37" y1="0" x2="151" y2="0"><stop offset="0.0" stop-color="#5d8489" stop-opacity="0.25"/><stop offset="0.465" stop-color="#5d8489" stop-opacity="0.3"/><stop offset="0.772" stop-color="#5d8489" stop-opacity="0.6"/><stop offset="1.0" stop-color="#5d8489" stop-opacity="0.85"/></linearGradient></defs><path fill="url(#g4)" fill-opacity="0.45" stroke="none" d="M37 842L44.6 844.6L52.2 846.7L59.8 847.8L67.4 848L75 847.6L82.6 847L90.2 845.9L97.8 843.2L105.4 840L113 837.2L120.6 834.3L128.2 831.6L135.8 829.3L143.4 827.3L151 825.5L151 844L143.4 844.4L135.8 845.2L128.2 846.3L120.6 848.3L113 850.7L105.4 852.6L97.8 853.9L90.2 855.1L82.6 856.3L75 857.6L67.4 859.1L59.8 861.3L52.2 864.3L44.6 868L37 872Z"/><path fill="url(#g4)" stroke="none" d="M37 845.6L44.6 847.4L52.2 848.8L59.8 849.4L67.4 849.3L75 848.8L82.6 848.1L90.2 847L97.8 844.5L105.4 841.5L113 838.8L120.6 835.9L128.2 833.3L135.8 831.2L143.4 829.3L151 827.7L151 841.8L143.4 842.3L135.8 843.3L128.2 844.5L120.6 846.6L113 849L105.4 851L97.8 852.7L90.2 854L82.6 855.2L75 856.4L67.4 857.8L59.8 859.7L52.2 862.2L44.6 865.2L37 868.4Z"/><path fill="none" stroke="#5d8489" stroke-opacity="0.16" stroke-width="0.8" d="M37 847.1C56 852.1 75 850.8 94 847.3C113 841.5 132 834.6 151 834.6M37 862.4C56 856.5 75 854.4 94 850.5C113 845 132 835.4 151 831.5M37 853.9C56 852.5 75 851.8 94 847C113 839.6 132 830.8 151 826.1M37 851.7C56 854.5 75 852.3 94 848.7C113 842.8 132 834 151 830.2M37 865.7C56 856 75 854.6 94 850.3C113 844.6 132 835.3 151 832.2M37 843.5C56 853.9 75 851.2 94 847.8C113 841.7 132 832.7 151 827.5M37 843.2C56 853.4 75 850.9 94 848.6C113 844.4 132 838.2 151 840.2M37 862.7C56 854.8 75 853.7 94 849.8C113 844.6 132 836.8 151 837M37 865C56 856.5 75 854.6 94 851.5C113 847.6 132 840.1 151 842M37 871.7C56 858.8 75 856.3 94 853.2C113 849.6 132 840.6 151 840.6M37 863.1C56 852.1 75 852.7 94 846.9C113 838.9 132 830.2 151 826M37 869.7C56 860.7 75 856.9 94 854.6C113 852.1 132 842.4 151 841.7M37 858.5C56 856 75 853.7 94 850.1C113 844.7 132 835.4 151 831.8M37 865.8C56 859.7 75 856 94 853.5C113 850.2 132 840.3 151 838.1M37 862.3C56 852 75 852.6 94 846.8C113 838.6 132 829.9 151 825.4M37 854.3C56 851.5 75 851.4 94 846.2C113 838.4 132 830 151 825.8M37 862.7C56 852.5 75 852.8 94 847.6C113 840.4 132 832.3 151 830.1M37 843.6C56 849.1 75 849.2 94 844.4C113 836.3 132 829.4 151 826.8M37 842.3C56 853 75 850.6 94 848.3C113 843.9 132 837.7 151 839.7M37 841.6C56 852.6 75 850.4 94 848.1C113 843.7 132 837.8 151 840.5M37 871.8C56 858.4 75 856.2 94 853C113 849.2 132 840.4 151 840.5M37 868.1C56 858.9 75 856 94 853.3C113 850.1 132 841.3 151 841.5M37 869.7C56 857.4 75 855.6 94 850.9C113 844.7 132 833.7 151 826.8M37 862.6C56 856.1 75 854.3 94 850.3C113 844.8 132 835.5 151 832.1M37 844.9C56 855.5 75 851.9 94 849.3C113 844.3 132 835.3 151 831.1M37 858.6C56 857.3 75 854.2 94 852C113 849 132 841.3 151 843M37 848.5C56 855.9 75 852.5 94 850.5C113 846.8 132 839.1 151 839.3M37 852.9C56 855 75 852.7 94 849.3C113 844 132 835.4 151 832.7M37 848.7C56 853.2 75 851.4 94 848.8C113 844.6 132 838.9 151 842.6M37 856.7C56 855.9 75 853.5 94 850.9C113 847.1 132 839.8 151 841.6M37 861.6C56 855 75 853.7 94 850.5C113 846.3 132 839.6 151 842.7M37 861.3C56 857.4 75 854.6 94 851.8C113 848.1 132 839.6 151 839.4M37 849.5C56 853.8 75 851.8 94 848.7C113 843.8 132 836.5 151 836.5M37 846.4C56 850.7 75 850.2 94 845.7C113 838.4 132 830.9 151 828.2M37 855.8C56 855.3 75 853.1 94 849.9C113 845.1 132 836.9 151 835.8M37 851.5C56 854 75 852.1 94 849.1C113 844.3 132 837.1 151 837.8M37 844.3C56 854.7 75 851.5 94 849.1C113 844.5 132 836.7 151 835.2M37 842.9C56 851.8 75 850.2 94 847.2C113 841.9 132 835.7 151 837M37 856.4C56 856.6 75 853.7 94 850.6C113 845.8 132 836.6 151 833.4M37 858.3C56 854.7 75 853.2 94 849.3C113 843.7 132 835.2 151 833.1M37 860.3C56 857.3 75 854.5 94 850.6C113 844.8 132 833.9 151 826.8M37 869.3C56 855.2 75 854.7 94 849.5C113 842.7 132 832.9 151 828.2M37 861.3C56 852.7 75 852.7 94 847.4C113 839.9 132 831.2 151 827.4M37 851.5C56 854.4 75 852.3 94 849.2C113 844.4 132 836.9 151 836.7M37 865.3C56 855.3 75 854.2 94 850.4C113 845.4 132 837.6 151 838.3M37 848.9C56 850.6 75 850.4 94 846.3C113 840 132 834 151 835.5M37 855C56 854.5 75 852.7 94 849.3C113 844.2 132 836.5 151 836.1M37 864.5C56 857.1 75 854.9 94 851.5C113 847.2 132 838.3 151 837.2M37 871.6C56 858.6 75 856.3 94 853C113 849.3 132 840.3 151 840.1M37 849.3C56 852.6 75 851.3 94 847.7C113 842 132 835 151 835M37 872.1C56 855.1 75 854.9 94 849.4C113 842.2 132 832.4 151 827.5M37 842.1C56 854.1 75 851.1 94 847.9C113 842 132 832.8 151 827.2M37 844.4C56 856.4 75 852.2 94 850.6C113 847.1 132 838.9 151 837.6M37 853.4C56 859.9 75 854.7 94 853.6C113 851.5 132 842.4 151 841.5M37 849.1C56 852 75 851 94 846.9C113 840.3 132 832.7 151 830.6M37 863.9C56 858.4 75 855.3 94 852.4C113 848.6 132 839.3 151 837.5M37 866.9C56 856.6 75 854.9 94 850.7C113 845 132 835.3 151 831.5M37 842.4C56 849.2 75 849.2 94 844.6C113 836.9 132 830.3 151 828.5M37 851.7C56 854.5 75 852.3 94 849C113 843.8 132 835.6 151 833.7M37 842.2C56 852.2 75 850.3 94 847.6C113 842.6 132 836.5 151 838.1M37 865.9C56 856.2 75 854.6 94 851.3C113 847.1 132 839.6 151 841.4M37 855.7C56 856.2 75 853.4 94 850.9C113 847 132 839.3 151 839.8M37 866.5C56 855.9 75 854.6 94 850.3C113 844.5 132 835.2 151 832.2M37 867.6C56 859 75 856 94 853.3C113 850.1 132 841.1 151 841M37 846.5C56 854.1 75 851.6 94 848.4C113 842.9 132 834.6 151 831.6M37 855.4C56 853.8 75 852.5 94 848.6C113 842.9 132 835.1 151 833.8M37 852.3C56 851.7 75 851.3 94 846.7C113 839.6 132 832 151 829.7M37 843.2C56 847.5 75 850 94 844.4C113 836.9 132 827.8 151 825.9M37 847.4C56 853.9 75 851.6 94 848C113 841.8 132 832.9 151 828.2M37 859.3C56 853.2 75 852.7 94 848C113 841.1 132 832.7 151 829.7M37 861.4C56 854.6 75 853.5 94 849.3C113 843.4 132 834.9 151 832.9M37 865C56 852.3 75 853 94 847.3C113 839.5 132 831 151 827.8M37 844.8C56 854.1 75 851.4 94 849C113 844.8 132 837.9 151 838.8M37 855.5C56 852.8 75 852.1 94 847.3C113 840.1 132 831.3 151 826.9M37 864.7C56 859.1 75 855.7 94 853C113 849.5 132 839.9 151 837.9M37 852.7C56 853.1 75 851.9 94 847.6C113 841 132 832.5 151 828.8M37 854.2C56 856.1 75 853.2 94 851C113 847.7 132 840.5 151 842.6M37 847.5C56 854.2 75 851.7 94 848.8C113 843.9 132 836.2 151 835.3M37 850.7C56 857 75 853.2 94 851.3C113 848 132 839.9 151 839.6M37 850.9C56 852 75 851.2 94 846.9C113 840.2 132 832.6 151 830.6M37 866.6C56 861.3 75 857 94 854.9C113 852.4 132 844.1 151 843.4M37 849.3C56 851.9 75 851 94 846.7C113 839.9 132 832.2 151 829.8M37 863.8C56 858.2 75 855.2 94 852.6C113 849.3 132 840.7 151 840.8M37 847.6C56 853.4 75 851.4 94 848C113 842.2 132 834.2 151 831.7M37 866.8C56 854.3 75 854 94 848.6C113 841.3 132 831.8 151 826.8M37 845C56 852.7 75 850.8 94 848.2C113 843.7 132 837.8 151 840.6M37 866.6C56 855.3 75 854.4 94 849.8C113 843.6 132 834.4 151 831.2M37 869.1C56 854.3 75 854.3 94 848.6C113 840.9 132 831.1 151 825.5M37 865.4C56 856.7 75 854.8 94 851C113 845.8 132 836.4 151 833.5M37 865C56 857.6 75 855.1 94 851.1C113 845.4 132 834.7 151 828.6"/><path fill="none" stroke="#5d8489" stroke-opacity="0.14" stroke-width="0.6" d="M37 840.1C56 847.6 75 846.8 94 841.5C113 835.9 132 827.6 151 822.8M37 840.1C56 847.5 75 846.5 94 840.7C113 835.2 132 827.2 151 819.8M37 841C56 848.4 75 847.4 94 841.3C113 834.8 132 827.6 151 817.4M37 840.2C56 847.6 75 846.8 94 841.6C113 835.9 132 827.6 151 822.8M37 841.8C56 849.3 75 848.3 94 842.2C113 834.8 132 828.1 151 816.7M37 841.1C56 848.7 75 847.7 94 842.1C113 835.4 132 828 151 819.7"/><path fill="#ff8c00" fill-opacity="0.405" stroke="none" d="M37 851L45.3 851.7L53.7 851.9L62 852L70.3 851.8L78.7 851L87 849.9L95.3 847.9L103.7 845.5L112 843.5L120.3 841.9L128.7 840.3L137 838.8L145.3 837.2L153.7 834.1L162 826L162 860L153.7 851.8L145.3 851L137 851L128.7 851L120.3 852.2L112 854.4L103.7 856.8L95.3 859.7L87 862.7L78.7 865L70.3 867.2L62 869.6L53.7 872.5L45.3 875.6L37 879Z"/><path fill="#ff8c00" fill-opacity="0.9" stroke="none" d="M37 854.4L45.3 854.5L53.7 854.4L62 854.1L70.3 853.6L78.7 852.6L87 851.4L95.3 849.3L103.7 846.9L112 844.8L120.3 843.1L128.7 841.6L137 840.2L145.3 838.8L153.7 836.2L162 830.1L162 855.9L153.7 849.7L145.3 849.3L137 849.5L128.7 849.7L120.3 851L112 853.1L103.7 855.4L95.3 858.3L87 861.1L78.7 863.3L70.3 865.3L62 867.5L53.7 870L45.3 872.7L37 875.6Z"/><path fill="none" stroke="#ff8c00" stroke-opacity="0.22" stroke-width="0.8" d="M37 864.4C57.8 861.1 78.7 860.1 99.5 853.6C120.3 850.5 141.2 839.2 162 856.4M37 871C57.8 864.8 78.7 862.8 99.5 855.3C120.3 850.2 141.2 841.9 162 852.5M37 866.8C57.8 864 78.7 862.4 99.5 855C120.3 848.5 141.2 844.2 162 846.7M37 855.3C57.8 853.8 78.7 853.8 99.5 847.1C120.3 837.9 141.2 846 162 827.7M37 873C57.8 860 78.7 858.1 99.5 850C120.3 840.8 141.2 844.8 162 834M37 852.4C57.8 856.7 78.7 856.8 99.5 850.5C120.3 843.4 141.2 845.1 162 837.5M37 878.3C57.8 865.9 78.7 862.9 99.5 853.8C120.3 842.4 141.2 848.8 162 831.2M37 865.5C57.8 858.6 78.7 857.4 99.5 849.9C120.3 841.5 141.2 844.9 162 834.9M37 854.3C57.8 856.2 78.7 856.3 99.5 850.4C120.3 846 141.2 841.1 162 846.8M37 863.3C57.8 861.1 78.7 860.1 99.5 853.5C120.3 849.6 141.2 840.5 162 853.3M37 870.1C57.8 865.8 78.7 863.8 99.5 856.3C120.3 850.8 141.2 843 162 851.9M37 855C57.8 854.3 78.7 854.6 99.5 848.6C120.3 843.8 141.2 840.7 162 844M37 854.8C57.8 855.9 78.7 856.1 99.5 850.4C120.3 846.8 141.2 839.7 162 849.9M37 870.1C57.8 864 78.7 861.9 99.5 853.5C120.3 842.9 141.2 848.7 162 832.1M37 853.2C57.8 858.7 78.7 858.9 99.5 853.3C120.3 851.2 141.2 839.3 162 857.4M37 859.4C57.8 858.1 78.7 857.4 99.5 850C120.3 839.5 141.2 848.4 162 827.2M37 873.2C57.8 865.6 78.7 863.4 99.5 855.9C120.3 851.9 141.2 840.4 162 857.1M37 877.4C57.8 865.5 78.7 862.7 99.5 853.7C120.3 842.8 141.2 848.3 162 832.5M37 854.3C57.8 855.1 78.7 855.1 99.5 848.2C120.3 838.2 141.2 847.7 162 826M37 872.9C57.8 862.9 78.7 860.8 99.5 852.9C120.3 845.3 141.2 843.9 162 842.2M37 853.1C57.8 857.1 78.7 857.3 99.5 851.7C120.3 848.4 141.2 840.2 162 851.8M37 859.8C57.8 858.9 78.7 858.5 99.5 852.5C120.3 850.6 141.2 837.8 162 858.4M37 871.7C57.8 866.2 78.7 864 99.5 856.1C120.3 849.4 141.2 844.2 162 848.2M37 868.7C57.8 863.2 78.7 861.4 99.5 853.6C120.3 845.6 141.2 845.4 162 840.5M37 870.1C57.8 863.2 78.7 861.5 99.5 854.4C120.3 850.9 141.2 839.4 162 856.8M37 874.9C57.8 862.9 78.7 860.5 99.5 851.7C120.3 840.4 141.2 848.3 162 828.7M37 861.6C57.8 863.9 78.7 862.8 99.5 856.4C120.3 853.3 141.2 840.8 162 858.7M37 867.3C57.8 863.8 78.7 862.3 99.5 855.2C120.3 850.9 141.2 841.2 162 854.5M37 853.7C57.8 860.4 78.7 860.1 99.5 853.6C120.3 846.9 141.2 845.8 162 842.1M37 873.9C57.8 864.6 78.7 862 99.5 853.1C120.3 841.1 141.2 850 162 827.5M37 865.6C57.8 858.5 78.7 857.4 99.5 850C120.3 841.7 141.2 844.6 162 835.6M37 877.9C57.8 869.7 78.7 866.7 99.5 858.5C120.3 853.5 141.2 842.3 162 857M37 869C57.8 861.5 78.7 859.7 99.5 851.4C120.3 840.2 141.2 848.7 162 827.9M37 852.6C57.8 854.9 78.7 855.4 99.5 849.9C120.3 846.8 141.2 839.2 162 850.7M37 854.9C57.8 851.8 78.7 852.5 99.5 846.4C120.3 838 141.2 843.8 162 830.4M37 856.9C57.8 856.2 78.7 856.1 99.5 849.8C120.3 843.9 141.2 842.4 162 841.9M37 864.7C57.8 865.6 78.7 864.1 99.5 857C120.3 852.3 141.2 843 162 854.3M37 871.2C57.8 861.4 78.7 859.5 99.5 851.6C120.3 843.2 141.2 844.7 162 837.9M37 869C57.8 868 78.7 866.2 99.5 858.5C120.3 853.8 141.2 842.4 162 859M37 860.1C57.8 856.2 78.7 855.9 99.5 849.6C120.3 845.1 141.2 839.9 162 847.1M37 856.7C57.8 862 78.7 861.6 99.5 855.6C120.3 853.2 141.2 840.3 162 859.1M37 851.5C57.8 858.6 78.7 858.7 99.5 852.7C120.3 846.9 141.2 844.2 162 844.1M37 855C57.8 856.2 78.7 856.2 99.5 850.1C120.3 844.4 141.2 842.6 162 842.4M37 874.1C57.8 865.4 78.7 863 99.5 854.7C120.3 846.7 141.2 845.2 162 842.7M37 854.6C57.8 858.4 78.7 858.5 99.5 853C120.3 851.3 141.2 838.3 162 858.8M37 867.4C57.8 862.8 78.7 861.3 99.5 854.3C120.3 849.7 141.2 841.1 162 852.8M37 859.8C57.8 860.5 78.7 859.8 99.5 853.3C120.3 848.1 141.2 842.6 162 848.1M37 854.5C57.8 854.3 78.7 854.4 99.5 848C120.3 840.6 141.2 844.2 162 834.3M37 851.1C57.8 859.9 78.7 860 99.5 854C120.3 848.8 141.2 844.1 162 847.3M37 877.7C57.8 865.1 78.7 862.4 99.5 853.7C120.3 844.7 141.2 845.6 162 838.9M37 853.2C57.8 854.1 78.7 854.4 99.5 848.2C120.3 841.4 141.2 843.5 162 836.5M37 876.9C57.8 865.9 78.7 863.4 99.5 855.4C120.3 850.3 141.2 841.1 162 853.7M37 859.5C57.8 858.5 78.7 858.2 99.5 852.4C120.3 851 141.2 837 162 860.1M37 874.3C57.8 866.9 78.7 864.2 99.5 855.7C120.3 846.4 141.2 847.3 162 839.4M37 868.6C57.8 863.6 78.7 861.9 99.5 854.6C120.3 849.2 141.2 842.2 162 850.5M37 862.5C57.8 854.9 78.7 854.3 99.5 847C120.3 837.7 141.2 845.1 162 828.7M37 867C57.8 860.7 78.7 859.2 99.5 851.5C120.3 842.7 141.2 845.8 162 835.6M37 863C57.8 861.1 78.7 860.2 99.5 853.5C120.3 849.3 141.2 841 162 852.1M37 873.1C57.8 864.3 78.7 862 99.5 853.7C120.3 845 141.2 845.9 162 839M37 859.2C57.8 857.3 78.7 856.7 99.5 849.4C120.3 839.5 141.2 847.4 162 828.4M37 865.4C57.8 863.5 78.7 862.1 99.5 855.2C120.3 850.7 141.2 841.7 162 853.4M37 873.1C57.8 862.6 78.7 860.5 99.5 852.3C120.3 843.9 141.2 844.8 162 838.8M37 857C57.8 855.9 78.7 855.8 99.5 849.5C120.3 843.7 141.2 842.1 162 841.9M37 875.5C57.8 866.1 78.7 863.8 99.5 856.3C120.3 853.1 141.2 839.1 162 860.6M37 867C57.8 862.2 78.7 860.6 99.5 852.7C120.3 843.6 141.2 846.9 162 835.5M37 858.7C57.8 861.1 78.7 860.5 99.5 854.4C120.3 851.3 141.2 840.4 162 856.1M37 862.4C57.8 857.4 78.7 856.6 99.5 849.4C120.3 840.8 141.2 845.3 162 833.3M37 872.7C57.8 864.9 78.7 862.5 99.5 853.9C120.3 843.2 141.2 848.7 162 832.5M37 851.7C57.8 856.5 78.7 857 99.5 851.7C120.3 850.2 141.2 838 162 857.5M37 861.4C57.8 862.7 78.7 861.8 99.5 855.4C120.3 852.4 141.2 840.3 162 857.9M37 857.8C57.8 855.5 78.7 855.4 99.5 849.2C120.3 844.4 141.2 840.6 162 845M37 876.8C57.8 871.7 78.7 866 99.5 858.5C120.3 853.8 141.2 842.2 162 859.6M37 863.5C57.8 861.7 78.7 860.5 99.5 853.2C120.3 845.5 141.2 845.5 162 840.3M37 879.2C57.8 862.3 78.7 859.6 99.5 850.5C120.3 838.9 141.2 847.5 162 827.5M37 869.3C57.8 861.2 78.7 859.6 99.5 852C120.3 844.8 141.2 843.5 162 842M37 875.4C57.8 864.3 78.7 861.7 99.5 852.9C120.3 841.5 141.2 848.8 162 829.9M37 853.4C57.8 855.8 78.7 856 99.5 849.8C120.3 843.4 141.2 843.7 162 839.4M37 874.7C57.8 859.3 78.7 857.3 99.5 848.9C120.3 838.9 141.2 845.3 162 830.3M37 870.8C57.8 862.3 78.7 860.3 99.5 852C120.3 841.6 141.2 847.7 162 831.4M37 875.7C57.8 863.8 78.7 861.1 99.5 852.1C120.3 839.9 141.2 849.6 162 826.2M37 867.9C57.8 860.3 78.7 858.8 99.5 851.3C120.3 843.6 141.2 844 162 839.3M37 861.9C57.8 865.1 78.7 863.9 99.5 857.2C120.3 853.4 141.2 842.2 162 857M37 854.7C57.8 857.9 78.7 857.8 99.5 851.6C120.3 846.3 141.2 842.8 162 845.2M37 876.7C57.8 860.6 78.7 858.3 99.5 849.7C120.3 839.5 141.2 845.5 162 831M37 851.1C57.8 851.4 78.7 853 99.5 846.4C120.3 839.7 141.2 842.8 162 834.6M37 868.3C57.8 863.9 78.7 862.3 99.5 855.3C120.3 851.9 141.2 839.9 162 857.8M37 864C57.8 857.6 78.7 856.6 99.5 849C120.3 839.1 141.2 846.6 162 828.9M37 853.5C57.8 859.3 78.7 859.3 99.5 853.8C120.3 851.7 141.2 839.4 162 858M37 866.1C57.8 860.1 78.7 858.8 99.5 851.3C120.3 843.4 141.2 844.6 162 838.3M37 875.9C57.8 867.1 78.7 864.5 99.5 856.4C120.3 850.6 141.2 842.7 162 852.2"/><path fill="none" stroke="#ff8c00" stroke-opacity="0.14" stroke-width="0.6" d="M37 845.3C57.8 851.2 78.7 849.6 99.5 844C120.3 836.9 141.2 839.3 162 823.7M37 850.4C57.8 852.4 78.7 852.5 99.5 846C120.3 837.6 141.2 843.2 162 824.6M37 848C57.8 851.7 78.7 850.9 99.5 844.7C120.3 837.4 141.2 839.3 162 823.3M37 849.8C57.8 851.9 78.7 851.5 99.5 844.7C120.3 838.1 141.2 836.2 162 821.8M37 849.3C57.8 851.8 78.7 851.3 99.5 844.7C120.3 838 141.2 836.8 162 822.1M37 847.3C57.8 851.4 78.7 850.3 99.5 844C120.3 837.6 141.2 836.2 162 822.1M37 881.7C57.8 874 78.7 865.3 99.5 858.8C120.3 856.5 141.2 853.8 162 865M37 880.8C57.8 872.8 78.7 865.5 99.5 858.7C120.3 855.7 141.2 852.7 162 864.8M37 880.6C57.8 872.8 78.7 865.6 99.5 858.7C120.3 855.3 141.2 857.3 162 867M37 881.4C57.8 873 78.7 865.5 99.5 858.5C120.3 856.4 141.2 845 162 861.1M37 879.5C57.8 870.4 78.7 866 99.5 858.4C120.3 854.4 141.2 847.9 162 863.1M37 881.8C57.8 873.4 78.7 865.4 99.5 858.6C120.3 856.7 141.2 845 162 861"/><path fill="none" stroke="#fff" stroke-opacity="0.75" stroke-width="1.8" d="M37 861C56 857.8 75 853.9 94 849.4C113 845.1 132 839.2 151 834.4"/><path fill="none" stroke="#3f6470" stroke-opacity="0.6" stroke-width="0.9" stroke-dasharray="1.3 1.1" d="M37 861C56 857.8 75 853.9 94 849.4C113 845.1 132 839.2 151 834.4"/><path fill="none" stroke="#fff" stroke-opacity="0.75" stroke-width="1.8" d="M37 865C57.8 860.5 78.7 858.7 99.5 852.3C120.3 847.9 141.2 841.3 162 844"/><path fill="none" stroke="#d97700" stroke-opacity="0.6" stroke-width="0.9" stroke-dasharray="1.3 1.1" d="M37 865C57.8 860.5 78.7 858.7 99.5 852.3C120.3 847.9 141.2 841.3 162 844"/><defs><linearGradient id="g5" gradientUnits="userSpaceOnUse" x1="204" y1="0" x2="305" y2="0"><stop offset="0.0" stop-color="#5d8489" stop-opacity="0.3"/><stop offset="0.554" stop-color="#5d8489" stop-opacity="0.35"/><stop offset="0.802" stop-color="#5d8489" stop-opacity="0.7"/><stop offset="0.95" stop-color="#5d8489" stop-opacity="0.9"/><stop offset="1.0" stop-color="#5d8489" stop-opacity="0.92"/></linearGradient></defs><path fill="url(#g5)" fill-opacity="0.45" stroke="none" d="M204 850L210.7 849.5L217.5 848.8L224.2 847.9L230.9 846.9L237.7 845.8L244.4 844.7L251.1 843.5L257.9 842.3L264.6 840.9L271.3 839.1L278.1 836.5L284.8 831L291.5 822L298.3 810.6L305 797.5L305 860L298.3 855.6L291.5 852.5L284.8 850.7L278.1 850L271.3 850.9L264.6 853.7L257.9 857.3L251.1 860.9L244.4 864.2L237.7 867.6L230.9 871.2L224.2 874.9L217.5 878.8L210.7 882.8L204 887Z"/><path fill="url(#g5)" stroke="none" d="M204 854.4L210.7 853.5L217.5 852.4L224.2 851.1L230.9 849.8L237.7 848.5L244.4 847L251.1 845.6L257.9 844.1L264.6 842.4L271.3 840.5L278.1 838.1L284.8 833.3L291.5 825.7L298.3 816L305 805L305 852.5L298.3 850.2L291.5 848.9L284.8 848.3L278.1 848.4L271.3 849.5L264.6 852.1L257.9 855.5L251.1 858.8L244.4 861.9L237.7 865L230.9 868.3L224.2 871.6L217.5 875.2L210.7 878.8L204 882.6Z"/><path fill="none" stroke="#5d8489" stroke-opacity="0.22" stroke-width="0.8" d="M204 858.4C220.8 863 237.7 860.5 254.5 855.6C271.3 847.7 288.2 844.4 305 861.2M204 870.2C220.8 862.4 237.7 855.6 254.5 849.4C271.3 842.1 288.2 843.5 305 807M204 862C220.8 856.5 237.7 851.4 254.5 846.7C271.3 842.5 288.2 839.8 305 808.6M204 869.2C220.8 861.1 237.7 854.9 254.5 849.7C271.3 844.4 288.2 839.8 305 829.1M204 868.3C220.8 863 237.7 856.9 254.5 850.6C271.3 842.6 288.2 844.7 305 811.7M204 877.7C220.8 868.4 237.7 861.2 254.5 855C271.3 846.8 288.2 842.2 305 855.3M204 854.3C220.8 857.8 237.7 855.8 254.5 852.3C271.3 847.6 288.2 839.9 305 858.8M204 855.3C220.8 858.6 237.7 856 254.5 851.8C271.3 845.9 288.2 842.2 305 842.2M204 885.5C220.8 873.6 237.7 864.4 254.5 856.2C271.3 844.6 288.2 847.2 305 834.9M204 850.4C220.8 853.8 237.7 852.2 254.5 849.2C271.3 846.2 288.2 838.3 305 844M204 853.7C220.8 853.4 237.7 850.8 254.5 848C271.3 846.3 288.2 835.8 305 844.8M204 856.4C220.8 854.4 237.7 851.1 254.5 847.8C271.3 845.3 288.2 836.9 305 835.5M204 872.9C220.8 861.7 237.7 854.1 254.5 848C271.3 841.8 288.2 841.5 305 803.9M204 860.6C220.8 855.3 237.7 851 254.5 847.6C271.3 845.5 288.2 835.6 305 837.9M204 856.2C220.8 858.7 237.7 856.2 254.5 852.5C271.3 847.6 288.2 840 305 858.6M204 886C220.8 877.9 237.7 867.8 254.5 859.7C271.3 846.5 288.2 850.2 305 852.2M204 870.9C220.8 861.7 237.7 854.5 254.5 848.2C271.3 841.2 288.2 843.1 305 798.2M204 875.5C220.8 864.5 237.7 857.1 254.5 851.2C271.3 844.8 288.2 840.4 305 834.3M204 867.4C220.8 856.7 237.7 850.4 254.5 846.1C271.3 843.7 288.2 835.7 305 821.1M204 868.3C220.8 862.4 237.7 856.7 254.5 851.3C271.3 845 288.2 841.2 305 835.7M204 857C220.8 852.3 237.7 848.1 254.5 844.5C271.3 842.5 288.2 836.9 305 808.1M204 887.5C220.8 875.3 237.7 866.2 254.5 858.3C271.3 847 288.2 845.6 305 859.5M204 879.5C220.8 864.2 237.7 855.1 254.5 848.4C271.3 841.7 288.2 841.3 305 804.1M204 885.4C220.8 869.9 237.7 860 254.5 852.2C271.3 842.7 288.2 844.5 305 815.5M204 866C220.8 864.5 237.7 859.8 254.5 854.2C271.3 846.1 288.2 844.1 305 846.2M204 850.5C220.8 850.1 237.7 847.9 254.5 845.8C271.3 845.7 288.2 833.9 305 837.6M204 880.7C220.8 871.7 237.7 864 254.5 856.9C271.3 846.8 288.2 844.9 305 856M204 881.9C220.8 865.9 237.7 856.6 254.5 850.1C271.3 843.5 288.2 840.2 305 822.4M204 870.4C220.8 867.4 237.7 861.4 254.5 854.4C271.3 843.8 288.2 848 305 825M204 876.5C220.8 866.8 237.7 858.8 254.5 851.4C271.3 841.9 288.2 846.2 305 806.1M204 876.6C220.8 868.6 237.7 860.8 254.5 853C271.3 842.2 288.2 848.2 305 809.4M204 881.6C220.8 863.9 237.7 854.6 254.5 848.6C271.3 843.7 288.2 837.5 305 823.8M204 864.6C220.8 862.7 237.7 858.5 254.5 853.8C271.3 847.6 288.2 840.7 305 860.8M204 887.1C220.8 870 237.7 859.8 254.5 852.1C271.3 843.2 288.2 843.1 305 821.2M204 856C220.8 859.1 237.7 856.5 254.5 852.3C271.3 846.4 288.2 842 305 847.4M204 879.3C220.8 867.4 237.7 859.1 254.5 852.3C271.3 844.1 288.2 842.8 305 828.6M204 869.1C220.8 859.2 237.7 852.4 254.5 847.2C271.3 842.6 288.2 839.3 305 811M204 883.7C220.8 872.2 237.7 863.7 254.5 856.3C271.3 846.3 288.2 844.6 305 850.9M204 859.4C220.8 856 237.7 851.3 254.5 846.4C271.3 841.3 288.2 841.8 305 797.4M204 874.6C220.8 866.1 237.7 858.9 254.5 852.3C271.3 843.8 288.2 844.1 305 824.9M204 879.6C220.8 866.3 237.7 857.5 254.5 850.5C271.3 842.4 288.2 843.3 305 811.3M204 852.9C220.8 860.5 237.7 859.2 254.5 855C271.3 847.8 288.2 844.1 305 860.5M204 886.9C220.8 871.4 237.7 860.9 254.5 852.1C271.3 840.8 288.2 847.7 305 798.1M204 869.5C220.8 863.1 237.7 857 254.5 851.2C271.3 844.3 288.2 842.3 305 828.4M204 871.1C220.8 862.8 237.7 856.4 254.5 851C271.3 845.1 288.2 840.2 305 836.3M204 881.2C220.8 870.2 237.7 862.1 254.5 855.2C271.3 846.1 288.2 843.4 305 849M204 883C220.8 867.3 237.7 858.1 254.5 851.4C271.3 844.2 288.2 840.6 305 830.3M204 884.2C220.8 867.2 237.7 857 254.5 849.5C271.3 841.3 288.2 843.1 305 801.5M204 868.7C220.8 866.1 237.7 860.7 254.5 854.3C271.3 844.9 288.2 846.1 305 835.4M204 850.6C220.8 850.4 237.7 848.2 254.5 845.9C271.3 845.4 288.2 834.6 305 835.4M204 877.3C220.8 859.9 237.7 850.9 254.5 845.4C271.3 841.7 288.2 836.8 305 803.7M204 868C220.8 861.5 237.7 856.2 254.5 851.8C271.3 847.4 288.2 837.6 305 858.4M204 874.8C220.8 870.2 237.7 863.2 254.5 855.4C271.3 843.4 288.2 849.7 305 822M204 867.5C220.8 862.5 237.7 856.4 254.5 850.1C271.3 841.9 288.2 845.2 305 805.3M204 852.8C220.8 855.9 237.7 853.9 254.5 850.7C271.3 847 288.2 838.8 305 852.5M204 877.6C220.8 872.1 237.7 865.2 254.5 857.8C271.3 846.4 288.2 847.5 305 851.6M204 879.7C220.8 871.1 237.7 863.5 254.5 856.2C271.3 846 288.2 845.6 305 847.3M204 850.4C220.8 852.5 237.7 850.1 254.5 846.5C271.3 843.1 288.2 840 305 812.7M204 861.4C220.8 863.6 237.7 860.3 254.5 855.3C271.3 847.6 288.2 843.7 305 860.4M204 876.5C220.8 860.2 237.7 851.5 254.5 845.9C271.3 841.8 288.2 837.6 305 804.2M204 880.1C220.8 870.1 237.7 862.4 254.5 855.7C271.3 846.8 288.2 843 305 855.4M204 880.2C220.8 871.5 237.7 863.9 254.5 857C271.3 847.1 288.2 844.4 305 859M204 880.6C220.8 867.7 237.7 858.5 254.5 850.7C271.3 841.1 288.2 846 305 799M204 887.3C220.8 865.3 237.7 854.2 254.5 847.2C271.3 841.3 288.2 838.9 305 801.8M204 853.5C220.8 855.8 237.7 853.3 254.5 849.6C271.3 845.2 288.2 840.4 305 834.2M204 870.7C220.8 867.2 237.7 861.5 254.5 855.2C271.3 845.9 288.2 845.2 305 845.5M204 860.8C220.8 856.5 237.7 851.5 254.5 846.7C271.3 842 288.2 840.9 305 803.8M204 852.4C220.8 845.5 237.7 846.3 254.5 842.4C271.3 842.8 288.2 833.9 305 798.1M204 876.4C220.8 864.8 237.7 856.4 254.5 849.3C271.3 841.1 288.2 844.4 305 798.1M204 875.2C220.8 866.6 237.7 859.1 254.5 852.2C271.3 843.2 288.2 845.1 305 818.6M204 858.1C220.8 857.3 237.7 853.8 254.5 849.7C271.3 845.2 288.2 839.8 305 835.4M204 870.4C220.8 862.6 237.7 856.1 254.5 850.3C271.3 843.7 288.2 841.9 305 822.6M204 878.5C220.8 870.1 237.7 862 254.5 853.9C271.3 842.3 288.2 849 305 810.9M204 867.8C220.8 860 237.7 853.9 254.5 848.6C271.3 843.2 288.2 840.4 305 817.4M204 854.7C220.8 860.3 237.7 858.4 254.5 854.1C271.3 847.3 288.2 843.4 305 855.8M204 854.1C220.8 858.3 237.7 855.8 254.5 851.2C271.3 844.5 288.2 844.2 305 827.9M204 862.5C220.8 857.9 237.7 852.8 254.5 847.8C271.3 842.5 288.2 841.3 305 809.3M204 880.1C220.8 866.8 237.7 857.9 254.5 850.7C271.3 842.4 288.2 843.6 305 811.7M204 878.1C220.8 868.4 237.7 860.7 254.5 853.9C271.3 845 288.2 843.9 305 837.2M204 872.4C220.8 869.2 237.7 863.3 254.5 856.6C271.3 846.2 288.2 846.8 305 848.2M204 882.1C220.8 870.2 237.7 861.5 254.5 854.2C271.3 844.6 288.2 844.6 305 833.7M204 872.5C220.8 863.5 237.7 856.9 254.5 851.6C271.3 845.7 288.2 839.7 305 843.1M204 864.6C220.8 859.9 237.7 855.1 254.5 850.7C271.3 846.1 288.2 838.8 305 845M204 854.2C220.8 856.2 237.7 854 254.5 850.9C271.3 847.6 288.2 837.8 305 858.5M204 865.6C220.8 860.8 237.7 855.5 254.5 850.5C271.3 844.7 288.2 840.9 305 832M204 885.9C220.8 875.9 237.7 866.5 254.5 857.2C271.3 842.9 288.2 851.9 305 819.3M204 854.4C220.8 856.2 237.7 853 254.5 848.2C271.3 842.2 288.2 843.7 305 805.2M204 875.2C220.8 866.1 237.7 859.4 254.5 853.9C271.3 847.4 288.2 839.8 305 859.9M204 872.8C220.8 864.2 237.7 857.5 254.5 851.7C271.3 845 288.2 841.3 305 835.5M204 863.5C220.8 859.9 237.7 855.3 254.5 850.6C271.3 845.3 288.2 840.3 305 836.9"/><path fill="none" stroke="#5d8489" stroke-opacity="0.14" stroke-width="0.6" d="M204 848.8C220.8 847.9 237.7 845 254.5 842C271.3 840.8 288.2 836.3 305 796.4M204 849.9C220.8 848.5 237.7 845.3 254.5 842C271.3 840.4 288.2 835.7 305 794.6M204 848.5C220.8 847.5 237.7 844.4 254.5 841.2C271.3 839.8 288.2 835 305 793.9M204 848.4C220.8 847.7 237.7 844.9 254.5 842C271.3 840.9 288.2 836.5 305 797M204 846.6C220.8 846.4 237.7 843.9 254.5 841.3C271.3 840.5 288.2 836.2 305 797.2M204 849.9C220.8 848.8 237.7 845.9 254.5 842.8C271.3 841.5 288.2 837.1 305 797.4M204 890.2C220.8 878.3 237.7 869 254.5 861C271.3 849.2 288.2 848.8 305 862.2M204 890.8C220.8 878.6 237.7 869.3 254.5 861.2C271.3 849.3 288.2 848.8 305 861.9M204 888.6C220.8 877.6 237.7 868.6 254.5 860.9C271.3 849.5 288.2 849.5 305 864.2M204 890.8C220.8 879 237.7 869.8 254.5 862.1C271.3 850.9 288.2 850.6 305 865.5M204 888.5C220.8 877.5 237.7 868.5 254.5 860.9C271.3 849.4 288.2 849.4 305 864.1M204 887.2C220.8 876.7 237.7 867.9 254.5 860.2C271.3 848.7 288.2 848.8 305 863.4"/><path fill="#ff8c00" fill-opacity="0.25" stroke="none" d="M176 864L185.4 860.6L194.8 857.6L204.2 855L213.5 852.8L222.9 851L232.3 849.4L241.7 847.6L251.1 845.7L260.5 843.3L269.8 840.8L279.2 838.5L288.6 836.5L298 834.7L298 830L288.6 832.4L279.2 834.5L269.8 836.5L260.5 838.4L251.1 840L241.7 841.5L232.3 843.2L222.9 844.6L213.5 845.6L204.2 846L194.8 842.4L185.4 833.4L176 822Z"/><path fill="#ff8c00" fill-opacity="0.405" stroke="none" d="M176 864L184.1 861.1L192.3 858.4L200.4 855.9L208.5 853.9L216.7 852.2L224.8 850.7L232.9 849.2L241.1 847.8L249.2 846.1L257.3 844.1L265.5 842L273.6 839.8L281.7 837.9L289.9 836.2L298 834.7L298 861L289.9 855.3L281.7 852.4L273.6 852.5L265.5 856.9L257.3 863.1L249.2 867.5L241.1 870.4L232.9 872.8L224.8 874.9L216.7 877.2L208.5 880.1L200.4 883.8L192.3 888.9L184.1 895L176 901.8Z"/><path fill="#ff8c00" fill-opacity="0.9" stroke="none" d="M176 868.5L184.1 865.2L192.3 862L200.4 859.3L208.5 857.1L216.7 855.2L224.8 853.6L232.9 852.1L241.1 850.5L249.2 848.7L257.3 846.4L265.5 843.8L273.6 841.3L281.7 839.7L289.9 838.5L298 837.9L298 857.8L289.9 853L281.7 850.7L273.6 851L265.5 855.1L257.3 860.8L249.2 865L241.1 867.7L232.9 869.9L224.8 872L216.7 874.2L208.5 876.9L200.4 880.5L192.3 885.2L184.1 891L176 897.3Z"/><path fill="none" stroke="#ff8c00" stroke-opacity="0.22" stroke-width="0.8" d="M176 888.6C196.3 871.7 216.7 865.8 237 860.2C257.3 854.4 277.7 838.4 298 841.8M176 875.3C196.3 869.8 216.7 867.1 237 864.8C257.3 864 277.7 837.4 298 855.1M176 883.7C196.3 872.4 216.7 868.4 237 865.9C257.3 865.7 277.7 836.5 298 860.2M176 900.2C196.3 880.8 216.7 874.9 237 870.3C257.3 867.6 277.7 837.1 298 860.1M176 894.9C196.3 876.7 216.7 871 237 866.3C257.3 863 277.7 837.4 298 854.3M176 894.3C196.3 880 216.7 875.3 237 870.7C257.3 867 277.7 838 298 855.7M176 863.5C196.3 857.5 216.7 854 237 850.7C257.3 847 277.7 838.2 298 835.2M176 891.5C196.3 873.1 216.7 867 237 861.6C257.3 856.6 277.7 837.9 298 845.6M176 864C196.3 861.8 216.7 859.7 237 858.4C257.3 858.5 277.7 837.1 298 850.8M176 887.5C196.3 870.2 216.7 864.3 237 858.7C257.3 853.1 277.7 838.3 298 840.9M176 877.8C196.3 864.5 216.7 859.5 237 855.7C257.3 852.7 277.7 837.3 298 844.2M176 891.3C196.3 875.2 216.7 869.5 237 862.4C257.3 853.2 277.7 840 298 834.2M176 863.5C196.3 864.4 216.7 863.3 237 862.5C257.3 863.4 277.7 837.1 298 855.5M176 877C196.3 867.9 216.7 864.1 237 860.7C257.3 858 277.7 837.8 298 847.6M176 871.4C196.3 865.4 216.7 862.5 237 860.6C257.3 860.5 277.7 836.9 298 853.7M176 868.8C196.3 858.2 216.7 853.7 237 850.8C257.3 848.8 277.7 837 298 841.7M176 890.3C196.3 875.7 216.7 871 237 867.5C257.3 866.1 277.7 836.9 298 859.3M176 893.4C196.3 877.5 216.7 872.3 237 867.6C257.3 863.9 277.7 837.8 298 853.6M176 882C196.3 870.6 216.7 866.2 237 861.4C257.3 856.1 277.7 838.7 298 842.2M176 868.9C196.3 858.8 216.7 854.4 237 850.6C257.3 846.8 277.7 837.8 298 836.3M176 896.9C196.3 877.4 216.7 871.1 237 864.6C257.3 857.6 277.7 838.8 298 843.2M176 895.6C196.3 870 216.7 861.8 237 854.9C257.3 847.9 277.7 838 298 837M176 877.8C196.3 867.2 216.7 863.2 237 860.6C257.3 859.9 277.7 836.7 298 853.6M176 863.5C196.3 858.8 216.7 856 237 854.6C257.3 854.9 277.7 836.6 298 849.1M176 875.1C196.3 865 216.7 860.9 237 857.5C257.3 854.7 277.7 837.6 298 845.1M176 879.5C196.3 864.6 216.7 859.3 237 855.3C257.3 852.2 277.7 837.2 298 844.1M176 878.6C196.3 864 216.7 858.5 237 854.1C257.3 850 277.7 837.7 298 840.2M176 891.1C196.3 873.1 216.7 866.8 237 860C257.3 851.6 277.7 839.4 298 835M176 869.1C196.3 861.7 216.7 858.4 237 857.3C257.3 858.9 277.7 835.9 298 855.8M176 866C196.3 859.8 216.7 856.8 237 856C257.3 858.1 277.7 835.7 298 855.8M176 873.6C196.3 866.7 216.7 863.4 237 860C257.3 856.6 277.7 838.2 298 844.6M176 891C196.3 875.8 216.7 870.5 237 864.5C257.3 857.6 277.7 839.2 298 841.8M176 885.5C196.3 865.2 216.7 858.3 237 852.7C257.3 847.3 277.7 837.7 298 837.5M176 894.9C196.3 877.6 216.7 872.1 237 867.3C257.3 863.7 277.7 837.6 298 854M176 880.8C196.3 868.7 216.7 864.1 237 859.9C257.3 856.1 277.7 838 298 845.1M176 880C196.3 863 216.7 856.9 237 852.4C257.3 848.6 277.7 837.3 298 840.4M176 870.9C196.3 864.2 216.7 861.1 237 859C257.3 858.7 277.7 836.9 298 851.9M176 887.6C196.3 869.6 216.7 863.4 237 857.6C257.3 851.5 277.7 838.4 298 838.9M176 877.8C196.3 868.2 216.7 864.4 237 861.6C257.3 860.4 277.7 837.1 298 852.8M176 867.9C196.3 862.2 216.7 859.2 237 857.1C257.3 856.5 277.7 837 298 849M176 898.4C196.3 876.2 216.7 869.1 237 862.6C257.3 856.1 277.7 838.3 298 843.8M176 879.2C196.3 868.5 216.7 864.5 237 862C257.3 861.6 277.7 836.6 298 855.7M176 864.7C196.3 864.5 216.7 863.3 237 863.3C257.3 866 277.7 836.2 298 861.5M176 891.5C196.3 870.3 216.7 863.5 237 858.4C257.3 854.5 277.7 837.1 298 846.9M176 889.5C196.3 872.7 216.7 866.9 237 861C257.3 854.6 277.7 838.7 298 840.8M176 871.5C196.3 865.2 216.7 862.3 237 861.2C257.3 862.8 277.7 836.1 298 859M176 890.5C196.3 866.5 216.7 858.7 237 852.8C257.3 847.5 277.7 837.3 298 839.2M176 874.9C196.3 860.5 216.7 855 237 850.8C257.3 846.8 277.7 837.5 298 837.4M176 865.8C196.3 858.5 216.7 855.1 237 853.7C257.3 854.6 277.7 836.1 298 850.7M176 896.8C196.3 874.2 216.7 866.8 237 859.3C257.3 850.6 277.7 839.2 298 834.9M176 901.9C196.3 880 216.7 873.1 237 866C257.3 858.4 277.7 838.9 298 843.7M176 894.7C196.3 871.1 216.7 863.5 237 856.6C257.3 849.2 277.7 838.4 298 836.7M176 883.9C196.3 871.7 216.7 867.5 237 864.7C257.3 864.1 277.7 836.6 298 858.2M176 889.9C196.3 875.5 216.7 870.4 237 864.4C257.3 857.4 277.7 839.3 298 841.2M176 871.5C196.3 866.9 216.7 864.5 237 863.1C257.3 863.6 277.7 836.8 298 857.1M176 882.2C196.3 868.8 216.7 863.9 237 859.5C257.3 855.4 277.7 838 298 844.4M176 894.4C196.3 879.5 216.7 874.2 237 867.5C257.3 859.1 277.7 839.9 298 840.4M176 898.2C196.3 874.6 216.7 867 237 860.1C257.3 852.8 277.7 838.5 298 839.9M176 891.2C196.3 873.2 216.7 867.4 237 863.4C257.3 861.3 277.7 836.7 298 855.1M176 895.7C196.3 879.6 216.7 874.5 237 869.9C257.3 866.5 277.7 837.7 298 856.5M176 898.3C196.3 877.5 216.7 871.2 237 867.1C257.3 865.6 277.7 836.3 298 860.9M176 900.3C196.3 878.6 216.7 872 237 867.2C257.3 864.4 277.7 836.8 298 857.7M176 867.6C196.3 867.9 216.7 866.8 237 866.2C257.3 867.7 277.7 836.9 298 860.5M176 877.8C196.3 863.5 216.7 858.2 237 854.3C257.3 851.2 277.7 837.3 298 843M176 872.3C196.3 863.4 216.7 859.8 237 858.3C257.3 859.7 277.7 835.9 298 856.6M176 890.6C196.3 878.6 216.7 874.5 237 870.4C257.3 867.5 277.7 837.9 298 856.6M176 873.5C196.3 862.3 216.7 857.6 237 853.4C257.3 848.9 277.7 838.1 298 837.3M176 868.8C196.3 863.1 216.7 860.3 237 859.6C257.3 861.9 277.7 835.8 298 859.2M176 886.1C196.3 869.4 216.7 863.5 237 858C257.3 852.1 277.7 838.4 298 839.4M176 886.5C196.3 871.9 216.7 867.1 237 864.2C257.3 863.7 277.7 836.3 298 859M176 899.8C196.3 874.5 216.7 866.7 237 860C257.3 853.6 277.7 837.9 298 843M176 883.6C196.3 872.5 216.7 868.3 237 864.2C257.3 860.7 277.7 838 298 849.4M176 874.8C196.3 863.9 216.7 859.5 237 855.6C257.3 852 277.7 837.8 298 841.5M176 872.4C196.3 861.1 216.7 856.9 237 855.7C257.3 858 277.7 835.2 298 857.7M176 864.8C196.3 857 216.7 853.4 237 852.3C257.3 853.8 277.7 835.7 298 851.5M176 884.8C196.3 867.9 216.7 862 237 857C257.3 852.3 277.7 837.8 298 841.9M176 888C196.3 870.7 216.7 865 237 860.8C257.3 858.2 277.7 837 298 851.1M176 893.6C196.3 874.4 216.7 868.3 237 863.6C257.3 860.4 277.7 837.1 298 852.5M176 876.4C196.3 866 216.7 862.1 237 859.9C257.3 860.2 277.7 836.3 298 855.6M176 866.8C196.3 855.1 216.7 850.8 237 847.8C257.3 844.7 277.7 837 298 834.9M176 897.6C196.3 878.5 216.7 872.5 237 867C257.3 862.1 277.7 838 298 851.1M176 901.6C196.3 884.5 216.7 876.4 237 872.3C257.3 869 277.7 838.7 298 860M176 877.8C196.3 862.2 216.7 856.7 237 853.7C257.3 852.7 277.7 836.2 298 848.7M176 896.3C196.3 877.4 216.7 871.5 237 867.2C257.3 864.9 277.7 836.8 298 858.2M176 896.8C196.3 876.4 216.7 869.7 237 862.3C257.3 853.4 277.7 839.5 298 836.3M176 879.7C196.3 862.3 216.7 856 237 851C257.3 846 277.7 837.7 298 836.2M176 864.3C196.3 859.3 216.7 856.5 237 856C257.3 858.5 277.7 835.7 298 856.2M176 873.5C196.3 864.5 216.7 860.8 237 858C257.3 856.5 277.7 837.2 298 848.5M176 895.5C196.3 870.3 216.7 862.3 237 856.2C257.3 850.7 277.7 837.3 298 842.2M176 893.8C196.3 878.8 216.7 874 237 869.4C257.3 865.7 277.7 837.9 298 854.9"/><path fill="none" stroke="#ff8c00" stroke-opacity="0.14" stroke-width="0.6" d="M176 861.3C196.3 856 216.7 851.4 237 848.2C257.3 844.8 277.7 837.7 298 834.5M176 824.9C196.3 855.1 216.7 845.6 237 842.7C257.3 839.3 277.7 835.5 298 830.1M176 855.4C196.3 854.4 216.7 850.3 237 846.4C257.3 842.6 277.7 836.7 298 832.4M176 844.5C196.3 856.5 216.7 848.9 237 846.2C257.3 843.1 277.7 837 298 833.4M176 860.7C196.3 855 216.7 851.2 237 847.5C257.3 843.8 277.7 837.3 298 833.5M176 823.6C196.3 857.8 216.7 845.8 237 844.2C257.3 841.6 277.7 836.5 298 832.6M176 855.3C196.3 856.4 216.7 850.5 237 847.6C257.3 844.4 277.7 837.6 298 834.3M176 836.9C196.3 854.5 216.7 847.4 237 843.9C257.3 840.4 277.7 835.8 298 830.7M176 853.4C196.3 853.3 216.7 849.9 237 845.4C257.3 841.4 277.7 836.2 298 831.2M176 863.1C196.3 855.4 216.7 851.6 237 848.1C257.3 844.5 277.7 837.5 298 834.1M176 837.2C196.3 858.1 216.7 847.9 237 846.3C257.3 843.6 277.7 837.3 298 834.3M176 844.5C196.3 855.5 216.7 848.7 237 845.6C257.3 842.2 277.7 836.6 298 832.4M176 862.8C196.3 852 216.7 851.2 237 845.9C257.3 841.5 277.7 836.1 298 830.8M176 833C196.3 855.2 216.7 846.9 237 843.8C257.3 840.4 277.7 835.9 298 831M176 836.6C196.3 857.3 216.7 847.7 237 845.6C257.3 842.8 277.7 837 298 833.4M176 834.8C196.3 856 216.7 847.3 237 844.6C257.3 841.4 277.7 836.4 298 832M176 837.8C196.3 854.9 216.7 847.6 237 844.3C257.3 840.8 277.7 836 298 831.2M176 851.8C196.3 852.7 216.7 849.5 237 844.8C257.3 840.6 277.7 835.8 298 830.4M176 844.6C196.3 856.3 216.7 848.9 237 846.1C257.3 842.9 277.7 837 298 833.2M176 841.8C196.3 853.4 216.7 848.1 237 843.9C257.3 840 277.7 835.6 298 830.1M176 834.4C196.3 858.4 216.7 847.5 237 846.1C257.3 843.5 277.7 837.3 298 834.3M176 852.4C196.3 853.8 216.7 849.8 237 845.6C257.3 841.7 277.7 836.3 298 831.5M176 823.8C196.3 857.3 216.7 845.7 237 843.9C257.3 841.1 277.7 836.3 298 832.2M176 841.3C196.3 858.2 216.7 848.6 237 846.8C257.3 844.2 277.7 837.6 298 834.7M176 902.7C196.3 883.6 216.7 877.6 237 872.4C257.3 868.6 277.7 840.7 298 862.6M176 903.2C196.3 883.6 216.7 877.5 237 872.3C257.3 868.7 277.7 839.6 298 862.1M176 905.8C196.3 885.3 216.7 878.3 237 872.7C257.3 868.7 277.7 840.3 298 862.2M176 906.2C196.3 885.6 216.7 878.5 237 872.8C257.3 868.7 277.7 840.6 298 862.3M176 903.6C196.3 883.9 216.7 877.6 237 872.4C257.3 868.7 277.7 839.9 298 862.2M176 905.8C196.3 884.8 216.7 877.7 237 872.3C257.3 868.9 277.7 838.1 298 861.1"/><path fill="none" stroke="#fff" stroke-opacity="0.75" stroke-width="1.8" d="M204 868C220.8 862.9 237.7 857.4 254.5 851.9C271.3 847.6 288.2 840.3 305 824"/><path fill="none" stroke="#3f6470" stroke-opacity="0.6" stroke-width="0.9" stroke-dasharray="1.3 1.1" d="M204 868C220.8 862.9 237.7 857.4 254.5 851.9C271.3 847.6 288.2 840.3 305 824"/><path fill="none" stroke="#fff" stroke-opacity="0.75" stroke-width="1.8" d="M176 881C196.3 869.5 216.7 863.3 237 858.1C257.3 853.3 277.7 838.2 298 848"/><path fill="none" stroke="#d97700" stroke-opacity="0.6" stroke-width="0.9" stroke-dasharray="1.3 1.1" d="M176 881C196.3 869.5 216.7 863.3 237 858.1C257.3 853.3 277.7 838.2 298 848"/><line x1="22.3" y1="849.9" x2="315.5" y2="849.9" stroke="#8a8a8a" stroke-width="0.6" stroke-dasharray="0.9 1.1"/><line x1="22.4" y1="783.5" x2="22.4" y2="914.2" stroke="#9a9a9a" stroke-width="0.9"/><line x1="22.3" y1="914.2" x2="168.1" y2="914.2" stroke="#9a9a9a" stroke-width="0.9"/><line x1="169.3" y1="914.2" x2="315.5" y2="914.2" stroke="#9a9a9a" stroke-width="0.9"/><rect x="22.8" y="773" width="144.9" height="10.4" fill="#fff" stroke="#333" stroke-width="0.9"/><text x="95.2" y="781.1" font-size="8.7" text-anchor="middle" fill="#1a1a1a">Amyloid−</text><rect x="169.8" y="773" width="145.3" height="10.4" fill="#fff" stroke="#333" stroke-width="0.9"/><text x="242.4" y="781.1" font-size="8.7" text-anchor="middle" fill="#1a1a1a">Amyloid+</text><text x="21.9" y="769.1" font-size="11" fill="#000">M7</text><text x="21" y="833.3" font-size="6.6" text-anchor="end" fill="#555">1</text><line x1="21.2" y1="830.9" x2="22.4" y2="830.9" stroke="#9a9a9a" stroke-width="0.6"/><text x="21" y="852.3" font-size="6.6" text-anchor="end" fill="#555">0</text><line x1="21.2" y1="849.9" x2="22.4" y2="849.9" stroke="#9a9a9a" stroke-width="0.6"/><text x="21" y="871.3" font-size="6.6" text-anchor="end" fill="#555">−1</text><line x1="21.2" y1="868.9" x2="22.4" y2="868.9" stroke="#9a9a9a" stroke-width="0.6"/><text x="34.5" y="921" font-size="6.6" text-anchor="middle" fill="#555">45</text><text x="48.3" y="921" font-size="6.6" text-anchor="middle" fill="#555">50</text><text x="62.1" y="921" font-size="6.6" text-anchor="middle" fill="#555">55</text><text x="75.9" y="921" font-size="6.6" text-anchor="middle" fill="#555">60</text><text x="89.7" y="921" font-size="6.6" text-anchor="middle" fill="#555">65</text><text x="103.5" y="921" font-size="6.6" text-anchor="middle" fill="#555">70</text><text x="117.3" y="921" font-size="6.6" text-anchor="middle" fill="#555">75</text><text x="131.1" y="921" font-size="6.6" text-anchor="middle" fill="#555">80</text><text x="144.9" y="921" font-size="6.6" text-anchor="middle" fill="#555">85</text><text x="158.7" y="921" font-size="6.6" text-anchor="middle" fill="#555">90</text><text x="181.6" y="921" font-size="6.6" text-anchor="middle" fill="#555">45</text><text x="195.4" y="921" font-size="6.6" text-anchor="middle" fill="#555">50</text><text x="209.2" y="921" font-size="6.6" text-anchor="middle" fill="#555">55</text><text x="223" y="921" font-size="6.6" text-anchor="middle" fill="#555">60</text><text x="236.8" y="921" font-size="6.6" text-anchor="middle" fill="#555">65</text><text x="250.6" y="921" font-size="6.6" text-anchor="middle" fill="#555">70</text><text x="264.4" y="921" font-size="6.6" text-anchor="middle" fill="#555">75</text><text x="278.2" y="921" font-size="6.6" text-anchor="middle" fill="#555">80</text><text x="292" y="921" font-size="6.6" text-anchor="middle" fill="#555">85</text><text x="305.8" y="921" font-size="6.6" text-anchor="middle" fill="#555">90</text><text x="169" y="931.9" font-size="11" text-anchor="middle" fill="#000">Age</text><text x="0" y="0" font-size="11" text-anchor="middle" fill="#000" transform="translate(9.2 848.8) rotate(-90)">Protein Level (Z−Score)</text></g>
<g><path fill="none" stroke="#5d8489" stroke-opacity="0.288" stroke-width="0.7" d="M405.5 833.2C424.4 842.8 443.2 859.7 462.1 859.9C481 860.4 499.8 862.6 518.7 866.7M405.5 833.1C424.4 838.2 443.2 857.9 462.1 857.3C481 857.7 499.8 859.6 518.7 864.8M405.5 838.1C424.4 844.3 443.2 860.1 462.1 861.1C481 862.4 499.8 865.6 518.7 877.8M405.5 833.9C424.4 840.6 443.2 858.8 462.1 858.4C481 858.6 499.8 860.4 518.7 863.6M405.5 824.4C424.4 840.3 443.2 859.3 462.1 860.4C481 862.4 499.8 865.6 518.7 877.1M405.5 833.1C424.4 840 443.2 858.6 462.1 858.1C481 858.3 499.8 860.1 518.7 863M405.5 830.1C424.4 841.8 443.2 859.6 462.1 860.5C481 862.1 499.8 865.2 518.7 876M405.5 824.8C424.4 837.5 443.2 858 462.1 857.6C481 858.2 499.8 860 518.7 862.8M405.5 826.5C424.4 841.1 443.2 859.5 462.1 860.4C481 861.9 499.8 864.8 518.7 873.9M405.5 834C424.4 843.7 443.2 860 462.1 860C481 860.1 499.8 862 518.7 863.3M405.5 825.9C424.4 837.3 443.2 857.9 462.1 857.6C481 858.3 499.8 860.3 518.7 864.7M405.5 833.5C424.4 846.4 443.2 861.2 462.1 862.7C481 864 499.8 867.2 518.7 876.5M405.5 842C424.4 845.1 443.2 860.2 462.1 860.3C481 860.4 499.8 862.6 518.7 867.7M405.5 834.1C424.4 842.1 443.2 859.4 462.1 859.8C481 860.6 499.8 863 518.7 870.2M405.5 837C424.4 847.1 443.2 861.2 462.1 862.1C481 862.6 499.8 865.1 518.7 869.6M405.5 843.4C424.4 847.2 443.2 860.9 462.1 861.4C481 861.6 499.8 864 518.7 869.3M405.5 837.5C424.4 846.3 443.2 860.9 462.1 862.2C481 863.4 499.8 866.5 518.7 876.7M405.5 835.2C424.4 843.3 443.2 859.8 462.1 860.2C481 860.9 499.8 863.3 518.7 869.3M405.5 826C424.4 839.8 443.2 859 462.1 859.4C481 860.5 499.8 863 518.7 869.7M405.5 829C424.4 837 443.2 857.6 462.1 857C481 857.4 499.8 859.1 518.7 863M405.5 830.3C424.4 841.7 443.2 859.5 462.1 860C481 861.1 499.8 863.8 518.7 871.3M405.5 828.5C424.4 838.9 443.2 858.4 462.1 858.7C481 859.9 499.8 862.4 518.7 871M405.5 833.5C424.4 841 443.2 859 462.1 858.9C481 859.4 499.8 861.6 518.7 866.8M405.5 831.9C424.4 841 443.2 859.1 462.1 858.9C481 859.2 499.8 861.1 518.7 864.2M405.5 824.5C424.4 836.8 443.2 857.8 462.1 857.5C481 858.4 499.8 860.4 518.7 865.2M405.5 843.4C424.4 846.6 443.2 860.7 462.1 861.5C481 862.1 499.8 864.9 518.7 874.1"/><path fill="none" stroke="#5d8489" stroke-opacity="0.3" stroke-width="0.6" d="M405.5 821.7C424.4 834.5 443.2 856.8 462.1 856.1C481 856.8 499.8 858.6 518.7 861.7M405.5 817.9C424.4 832.7 443.2 855.3 462.1 855.1C481 856.4 499.8 858.3 518.7 861.7M405.5 820.9C424.4 833.8 443.2 856 462.1 855.3C481 856 499.8 857.7 518.7 860.5M405.5 849.7C424.4 853.2 443.2 865.2 462.1 867.2C481 868.2 499.8 871.7 518.7 881M405.5 849.1C424.4 852.7 443.2 864.4 462.1 866C481 866.7 499.8 869.8 518.7 879.1M405.5 846.7C424.4 852 443.2 863.2 462.1 865.1C481 866.1 499.8 869.6 518.7 879.2"/><path fill="none" stroke="#ff8c00" stroke-opacity="0.36" stroke-width="0.7" d="M405.5 861C426.2 850.8 447 855 467.8 858.2C488.5 861.6 509.2 869 530 861.3M405.5 863.2C426.2 850.6 447 855.8 467.8 858C488.5 860.1 509.2 869.1 530 854.7M405.5 854.1C426.2 854.3 447 855.6 467.8 861.1C488.5 865.1 509.2 871.4 530 866.9M405.5 860.8C426.2 849.7 447 853.6 467.8 856C488.5 858.2 509.2 867.6 530 852.6M405.5 858.9C426.2 853.7 447 857.3 467.8 862.3C488.5 866.8 509.2 871.9 530 872.2M405.5 849.6C426.2 852.5 447 851.5 467.8 857C488.5 861.4 509.2 868.5 530 862.5M405.5 871.6C426.2 851.2 447 860.5 467.8 861.7C488.5 863.1 509.2 871.5 530 858.3M405.5 868.3C426.2 849.6 447 857.2 467.8 859.1C488.5 862 509.2 869.2 530 862.3M405.5 872.6C426.2 850.7 447 860.5 467.8 861.8C488.5 863.9 509.2 871.3 530 862.5M405.5 854.9C426.2 851.2 447 852.5 467.8 856.9C488.5 861.2 509.2 868.1 530 862.9M405.5 871C426.2 850.1 447 859 467.8 860C488.5 861.6 509.2 870.2 530 857M405.5 852.9C426.2 851.7 447 852.1 467.8 856.1C488.5 858.8 509.2 868.1 530 852.8M405.5 853.8C426.2 851.9 447 852.7 467.8 857.2C488.5 860.9 509.2 868.6 530 860M405.5 844.3C426.2 854.7 447 851.4 467.8 858.6C488.5 863.9 509.2 869.9 530 867.8M405.5 852.3C426.2 852.2 447 852.4 467.8 856.8C488.5 859.9 509.2 868.6 530 855.8M405.5 847.9C426.2 851.3 447 849.3 467.8 854.9C488.5 859.8 509.2 866.8 530 861.9M405.5 860.5C426.2 852.6 447 856.9 467.8 861.4C488.5 865.9 509.2 871.1 530 871.6M405.5 868C426.2 851.4 447 858.9 467.8 860.6C488.5 862 509.2 870.9 530 855.7M405.5 854.1C426.2 850.6 447 851.4 467.8 855.4C488.5 858.9 509.2 867.2 530 856.6M405.5 869.9C426.2 850.9 447 859.4 467.8 860.9C488.5 862.8 509.2 870.9 530 859.4M405.5 861.1C426.2 853.5 447 858.1 467.8 862.2C488.5 865.5 509.2 872 530 866.3M405.5 853.2C426.2 849.5 447 849.8 467.8 853.7C488.5 857.7 509.2 865.9 530 856.8M405.5 865C426.2 847.9 447 853.8 467.8 855.7C488.5 859.3 509.2 866.7 530 860.7M405.5 862.9C426.2 848.1 447 852.8 467.8 854.4C488.5 856.8 509.2 866.2 530 851.8M405.5 849.5C426.2 850.4 447 849 467.8 853.6C488.5 857.5 509.2 866.1 530 855.1M405.5 866.7C426.2 853 447 860.6 467.8 863.6C488.5 867 509.2 873.1 530 871.8"/><path fill="none" stroke="#fff" stroke-opacity="0.4" stroke-width="1.4" d="M405.5 835C424.4 843.7 443.2 859.4 462.1 860.1C481 860.8 499.8 863.3 518.7 870"/><path fill="none" stroke="#3f6470" stroke-opacity="0.8" stroke-width="0.9" stroke-dasharray="1.3 1.1" d="M405.5 835C424.4 843.7 443.2 859.4 462.1 860.1C481 860.8 499.8 863.3 518.7 870"/><path fill="none" stroke="#fff" stroke-opacity="0.4" stroke-width="1.4" d="M405.5 858C426.2 851.7 447 854 467.8 858C488.5 861.9 509.2 868.8 530 862"/><path fill="none" stroke="#d97700" stroke-opacity="0.8" stroke-width="0.9" stroke-dasharray="1.3 1.1" d="M405.5 858C426.2 851.7 447 854 467.8 858C488.5 861.9 509.2 868.8 530 862"/><path fill="none" stroke="#5d8489" stroke-opacity="0.288" stroke-width="0.7" d="M572 845.5C588.8 851.3 605.7 855.3 622.5 858.9C639.3 863.2 656.2 869 673 871.9M572 833.3C588.8 841.1 605.7 848 622.5 854.1C639.3 859.7 656.2 866.3 673 871.5M572 849.3C588.8 853.6 605.7 856.3 622.5 859.6C639.3 863.6 656.2 870 673 873.2M572 841C588.8 847.3 605.7 852.1 622.5 856.3C639.3 860.7 656.2 865.3 673 868.4M572 844.9C588.8 849.8 605.7 853.3 622.5 857.1C639.3 861.2 656.2 866.2 673 869.3M572 837.8C588.8 843.5 605.7 849 622.5 854.7C639.3 860 656.2 867.5 673 873.3M572 832.2C588.8 843.1 605.7 851.9 622.5 857.4C639.3 863.4 656.2 870.3 673 873.9M572 834.1C588.8 841 605.7 847.2 622.5 852.9C639.3 857.9 656.2 862.6 673 867.1M572 836.6C588.8 842.8 605.7 848.5 622.5 854.2C639.3 859.4 656.2 865.9 673 871.2M572 845.6C588.8 854.3 605.7 860 622.5 862.9C639.3 867.7 656.2 874.4 673 875.9M572 833.7C588.8 843.8 605.7 851.8 622.5 857.1C639.3 862.7 656.2 869 673 872.3M572 833.6C588.8 842.7 605.7 850.6 622.5 856.6C639.3 862.6 656.2 870.8 673 875.9M572 839.1C588.8 848.2 605.7 854.9 622.5 859.1C639.3 864.3 656.2 870.3 673 872.8M572 841.2C588.8 846.8 605.7 851.1 622.5 855.1C639.3 859.2 656.2 862.4 673 865M572 841.1C588.8 848.6 605.7 854.1 622.5 858C639.3 862.6 656.2 867.6 673 870M572 839.1C588.8 845.7 605.7 850.9 622.5 855.4C639.3 859.9 656.2 864.1 673 867.2M572 836.3C588.8 845.5 605.7 852.9 622.5 858.1C639.3 863.7 656.2 871.2 673 875.1M572 837.9C588.8 846.1 605.7 852.5 622.5 857.1C639.3 862.1 656.2 867.6 673 870.6M572 841.3C588.8 848.5 605.7 853.7 622.5 857.5C639.3 861.8 656.2 866 673 868.2M572 847C588.8 850.5 605.7 853.1 622.5 857C639.3 861 656.2 866.6 673 870.4M572 842.8C588.8 849.1 605.7 853.8 622.5 857.9C639.3 862.6 656.2 868.7 673 872.1M572 833.3C588.8 840.8 605.7 847.3 622.5 853C639.3 858.1 656.2 862.7 673 867M572 842.5C588.8 850 605.7 855.1 622.5 858.4C639.3 862.7 656.2 866.5 673 868M572 844.9C588.8 851.3 605.7 855.6 622.5 859.1C639.3 863.4 656.2 868.6 673 871M572 847.6C588.8 851 605.7 853.2 622.5 856.4C639.3 859.9 656.2 863.4 673 866M572 839.4C588.8 844.5 605.7 848.8 622.5 853.6C639.3 857.8 656.2 861.7 673 865.4"/><path fill="none" stroke="#5d8489" stroke-opacity="0.3" stroke-width="0.6" d="M572 828.4C588.8 835.8 605.7 843.5 622.5 850.1C639.3 855.7 656.2 858.7 673 862.4M572 829.3C588.8 836.6 605.7 843.9 622.5 850.3C639.3 855.7 656.2 858.6 673 862.1M572 826.6C588.8 833.2 605.7 840.4 622.5 847.8C639.3 853.7 656.2 856.7 673 859.1M572 852.4C588.8 859 605.7 862.9 622.5 865.5C639.3 869.5 656.2 871.7 673 903.4M572 851.1C588.8 857.9 605.7 861.8 622.5 864.5C639.3 869 656.2 871.9 673 895.2M572 852.9C588.8 859.2 605.7 862.8 622.5 865.2C639.3 868.2 656.2 874.6 673 891"/><path fill="none" stroke="#ff8c00" stroke-opacity="0.36" stroke-width="0.7" d="M544 824C564.3 829.8 584.7 838.8 605 847.6C625.3 855.4 645.7 860.1 666 857.6M544 814.1C564.3 823.6 584.7 833.8 605 844.6C625.3 856.4 645.7 857.6 666 863M544 806.6C564.3 818.3 584.7 829 605 840.4C625.3 853.4 645.7 857.8 666 857.7M544 823.1C564.3 826.3 584.7 834.8 605 843.5C625.3 851.6 645.7 860.5 666 851.2M544 811.1C564.3 821.9 584.7 832.4 605 843.5C625.3 855.9 645.7 857.5 666 862.2M544 812.2C564.3 820.7 584.7 830.5 605 840.9C625.3 852.2 645.7 858.9 666 854.4M544 803C564.3 820.6 584.7 832.6 605 845.1C625.3 859.2 645.7 856.3 666 868.9M544 818.4C564.3 826.2 584.7 836 605 846.5C625.3 857.8 645.7 857.5 666 865.4M544 823C564.3 830.4 584.7 840 605 849.6C625.3 859.1 645.7 858.3 666 866.1M544 836.3C564.3 836.3 584.7 844.3 605 852.4C625.3 859.7 645.7 858.8 666 866.7M544 819.3C564.3 825.7 584.7 835 605 844.6C625.3 854.3 645.7 859.2 666 857.4M544 804.4C564.3 818.3 584.7 829.8 605 842.3C625.3 857.2 645.7 855.8 666 866.9M544 832.2C564.3 833 584.7 840.9 605 848.8C625.3 855.4 645.7 860.4 666 857.3M544 822C564.3 824.7 584.7 833.2 605 842.2C625.3 851.3 645.7 859.9 666 851.8M544 828.8C564.3 831.9 584.7 840.7 605 850.1C625.3 859.8 645.7 857.6 666 868.7M544 819.4C564.3 828.1 584.7 838 605 848C625.3 858.2 645.7 858.2 666 864.7M544 833.3C564.3 834.5 584.7 842.8 605 851.7C625.3 860.5 645.7 857.8 666 869.6M544 818.2C564.3 823 584.7 832.1 605 841.6C625.3 851.5 645.7 859.6 666 852.3M544 817.9C564.3 823.4 584.7 832.9 605 843.4C625.3 855.3 645.7 857.4 666 861.7M544 804.4C564.3 812.7 584.7 824.9 605 835.8C625.3 850.3 645.7 857 666 855.1M544 813.2C564.3 826.5 584.7 837.5 605 848.8C625.3 861 645.7 856.7 666 871.2M544 823.8C564.3 829.2 584.7 838.6 605 848.8C625.3 860 645.7 856.8 666 870.1M544 828.1C564.3 829.8 584.7 838.3 605 847.6C625.3 857.3 645.7 858 666 864.2M544 830.9C564.3 832.1 584.7 840.3 605 848.6C625.3 856.3 645.7 859.5 666 860M544 825.9C564.3 830.5 584.7 839.5 605 849C625.3 858.6 645.7 858 666 866M544 815.7C564.3 826.3 584.7 836.7 605 847.6C625.3 859.2 645.7 857.2 666 867.8"/><path fill="none" stroke="#ff8c00" stroke-opacity="0.3" stroke-width="0.6" d="M544 794.6C564.3 810.1 584.7 821.7 605 834.1C625.3 849.3 645.7 855.5 666 846.9M544 801C564.3 811.9 584.7 822.1 605 833.5C625.3 850.9 645.7 848 666 841.2M544 799.6C564.3 811.5 584.7 822.1 605 833.7C625.3 850.5 645.7 849.8 666 842.5M544 862.2C564.3 840.5 584.7 850.3 605 856.2C625.3 862.2 645.7 865.7 666 873.2M544 856.2C564.3 839.2 584.7 848.8 605 855.2C625.3 862 645.7 862.7 666 872.3M544 858.4C564.3 839 584.7 849 605 855.2C625.3 862.1 645.7 862.1 666 872.1"/><path fill="none" stroke="#fff" stroke-opacity="0.4" stroke-width="1.4" d="M572 838.4C588.8 847.5 605.7 853.1 622.5 856.8C639.3 861.4 656.2 866.1 673 870"/><path fill="none" stroke="#3f6470" stroke-opacity="0.8" stroke-width="0.9" stroke-dasharray="1.3 1.1" d="M572 838.4C588.8 847.5 605.7 853.1 622.5 856.8C639.3 861.4 656.2 866.1 673 870"/><path fill="none" stroke="#fff" stroke-opacity="0.4" stroke-width="1.4" d="M544 821.5C564.3 829.6 584.7 837.6 605 845.6C625.3 855.6 645.7 858.7 666 859"/><path fill="none" stroke="#d97700" stroke-opacity="0.8" stroke-width="0.9" stroke-dasharray="1.3 1.1" d="M544 821.5C564.3 829.6 584.7 837.6 605 845.6C625.3 855.6 645.7 858.7 666 859"/><line x1="390.7" y1="857.6" x2="683.9" y2="857.6" stroke="#8a8a8a" stroke-width="0.6" stroke-dasharray="0.9 1.1"/><line x1="390.8" y1="783.5" x2="390.8" y2="914.2" stroke="#9a9a9a" stroke-width="0.9"/><line x1="390.7" y1="914.2" x2="536.5" y2="914.2" stroke="#9a9a9a" stroke-width="0.9"/><line x1="537.7" y1="914.2" x2="683.9" y2="914.2" stroke="#9a9a9a" stroke-width="0.9"/><rect x="391.1" y="773" width="144.9" height="10.4" fill="#fff" stroke="#333" stroke-width="0.9"/><text x="463.6" y="781.1" font-size="8.7" text-anchor="middle" fill="#1a1a1a">Amyloid−</text><rect x="538.2" y="773" width="145.3" height="10.4" fill="#fff" stroke="#333" stroke-width="0.9"/><text x="610.8" y="781.1" font-size="8.7" text-anchor="middle" fill="#1a1a1a">Amyloid+</text><text x="390.3" y="769.1" font-size="11" fill="#000">M15</text><text x="389.4" y="829.8" font-size="6.6" text-anchor="end" fill="#555">1</text><line x1="389.6" y1="827.4" x2="390.8" y2="827.4" stroke="#9a9a9a" stroke-width="0.6"/><text x="389.4" y="860" font-size="6.6" text-anchor="end" fill="#555">0</text><line x1="389.6" y1="857.6" x2="390.8" y2="857.6" stroke="#9a9a9a" stroke-width="0.6"/><text x="389.4" y="890.2" font-size="6.6" text-anchor="end" fill="#555">−1</text><line x1="389.6" y1="887.8" x2="390.8" y2="887.8" stroke="#9a9a9a" stroke-width="0.6"/><text x="402.9" y="921" font-size="6.6" text-anchor="middle" fill="#555">45</text><text x="416.7" y="921" font-size="6.6" text-anchor="middle" fill="#555">50</text><text x="430.5" y="921" font-size="6.6" text-anchor="middle" fill="#555">55</text><text x="444.3" y="921" font-size="6.6" text-anchor="middle" fill="#555">60</text><text x="458.1" y="921" font-size="6.6" text-anchor="middle" fill="#555">65</text><text x="471.9" y="921" font-size="6.6" text-anchor="middle" fill="#555">70</text><text x="485.7" y="921" font-size="6.6" text-anchor="middle" fill="#555">75</text><text x="499.5" y="921" font-size="6.6" text-anchor="middle" fill="#555">80</text><text x="513.3" y="921" font-size="6.6" text-anchor="middle" fill="#555">85</text><text x="527.1" y="921" font-size="6.6" text-anchor="middle" fill="#555">90</text><text x="550" y="921" font-size="6.6" text-anchor="middle" fill="#555">45</text><text x="563.8" y="921" font-size="6.6" text-anchor="middle" fill="#555">50</text><text x="577.6" y="921" font-size="6.6" text-anchor="middle" fill="#555">55</text><text x="591.4" y="921" font-size="6.6" text-anchor="middle" fill="#555">60</text><text x="605.2" y="921" font-size="6.6" text-anchor="middle" fill="#555">65</text><text x="619" y="921" font-size="6.6" text-anchor="middle" fill="#555">70</text><text x="632.8" y="921" font-size="6.6" text-anchor="middle" fill="#555">75</text><text x="646.6" y="921" font-size="6.6" text-anchor="middle" fill="#555">80</text><text x="660.4" y="921" font-size="6.6" text-anchor="middle" fill="#555">85</text><text x="674.2" y="921" font-size="6.6" text-anchor="middle" fill="#555">90</text><text x="537.4" y="931.9" font-size="11" text-anchor="middle" fill="#000">Age</text><text x="0" y="0" font-size="11" text-anchor="middle" fill="#000" transform="translate(377.6 848.8) rotate(-90)">Protein Level (Z−Score)</text></g>
<g><path fill="#5d8489" fill-opacity="0.068" stroke="none" d="M37 1042.3L44.6 1045.2L52.2 1047.8L59.8 1050L67.4 1051.7L75 1053L82.6 1054.1L90.2 1055L97.8 1056L105.4 1057.2L113 1058.7L120.6 1060.7L128.2 1061.9L135.8 1061.9L143.4 1061.2L151 1059.8L151 1079.5L143.4 1078.3L135.8 1076.6L128.2 1074.4L120.6 1070.8L113 1067.2L105.4 1065.8L97.8 1065.2L90.2 1064.7L82.6 1064.4L75 1064.1L67.4 1064L59.8 1064.2L52.2 1065.7L44.6 1068L37 1070.7Z"/><path fill="#5d8489" fill-opacity="0.15" stroke="none" d="M37 1046.6L44.6 1048.6L52.2 1050.5L59.8 1052.1L67.4 1053.5L75 1054.6L82.6 1055.6L90.2 1056.5L97.8 1057.4L105.4 1058.5L113 1060L120.6 1062.2L128.2 1063.8L135.8 1064.1L143.4 1063.8L151 1062.8L151 1076.5L143.4 1075.7L135.8 1074.4L128.2 1072.5L120.6 1069.3L113 1065.9L105.4 1064.5L97.8 1063.8L90.2 1063.3L82.6 1062.8L75 1062.5L67.4 1062.2L59.8 1062.1L52.2 1063L44.6 1064.6L37 1066.4Z"/><path fill="none" stroke="#5d8489" stroke-opacity="0.17" stroke-width="0.7" d="M37 1061.6C56 1056.5 75 1059.5 94 1060.9C113 1060.7 132 1074.4 151 1075.1M37 1055.6C56 1055.2 75 1058 94 1059.6C113 1059.9 132 1072 151 1069.4M37 1060.6C56 1060.2 75 1062 94 1063.7C113 1062.4 132 1078 151 1076M37 1065.2C56 1062.3 75 1064.2 94 1065.2C113 1062.9 132 1080.6 151 1078.8M37 1061.8C56 1055.5 75 1058.6 94 1059.5C113 1059.5 132 1071.3 151 1068.3M37 1042.9C56 1051.2 75 1054.1 94 1056.9C113 1058.8 132 1069.7 151 1069.7M37 1043.2C56 1054.3 75 1056.4 94 1059.5C113 1060.5 132 1073.5 151 1073.4M37 1044.8C56 1054.1 75 1056.4 94 1059.2C113 1060.2 132 1073 151 1072.6M37 1047.5C56 1055.7 75 1057.7 94 1060.3C113 1060.7 132 1074 151 1072M37 1062.3C56 1056.6 75 1059.6 94 1060.9C113 1060.6 132 1074.2 151 1074.4M37 1055.8C56 1056.4 75 1058.9 94 1060.8C113 1060.9 132 1074.6 151 1074.7M37 1053.3C56 1051.5 75 1055 94 1056.3C113 1057.8 132 1067.1 151 1063.6M37 1056.9C56 1056 75 1058.8 94 1060.9C113 1061 132 1075.4 151 1078.4M37 1062.8C56 1057.2 75 1059.9 94 1060.7C113 1060.2 132 1072.5 151 1067.6M37 1056.1C56 1053.8 75 1056.9 94 1057.7C113 1058.3 132 1067.9 151 1060.5M37 1065.6C56 1056.3 75 1059.5 94 1059.8C113 1059.4 132 1070.6 151 1065M37 1057.8C56 1055.9 75 1058.4 94 1059.2C113 1059.1 132 1069.4 151 1060.1M37 1058.6C56 1055.7 75 1058.5 94 1059.4C113 1059.4 132 1070.5 151 1064.2M37 1068.1C56 1056.8 75 1060 94 1060.2C113 1059.6 132 1071.3 151 1066.5M37 1052.4C56 1058.1 75 1059.9 94 1062.3C113 1061.9 132 1076.8 151 1075.6M37 1060.3C56 1057.2 75 1059.7 94 1060.5C113 1060 132 1071.9 151 1064.8M37 1060C56 1059.7 75 1061.6 94 1063.3C113 1062.2 132 1077.5 151 1075.7M37 1057.5C56 1055.5 75 1058.3 94 1059.7C113 1059.8 132 1071.8 151 1068.3M37 1049.5C56 1057.4 75 1059 94 1061.5C113 1061.3 132 1075.2 151 1071.7M37 1055.7C56 1055.6 75 1058.2 94 1059.3C113 1059.4 132 1070.5 151 1063.4M37 1049.6C56 1053.6 75 1056.3 94 1058.3C113 1059.2 132 1070.4 151 1067.1M37 1042.9C56 1053.2 75 1055.5 94 1058.4C113 1059.6 132 1071.5 151 1069.8M37 1061.1C56 1056.3 75 1059.2 94 1060.2C113 1060.1 132 1072.6 151 1069.9M37 1042.3C56 1052.4 75 1054.9 94 1057.8C113 1059.3 132 1070.7 151 1069.3M37 1058.6C56 1056.8 75 1059.3 94 1060.4C113 1060.1 132 1072.4 151 1067.2M37 1062.7C56 1059 75 1061.2 94 1062.4C113 1061.4 132 1075.6 151 1072.5M37 1047.8C56 1055.3 75 1057.5 94 1060.4C113 1061 132 1075.1 151 1076.8M37 1053.5C56 1054.5 75 1057.2 94 1058.5C113 1058.9 132 1069.4 151 1062.3M37 1052.6C56 1055.9 75 1058.3 94 1060.4C113 1060.6 132 1074 151 1073M37 1052.3C56 1054.3 75 1057 94 1058.5C113 1059.1 132 1069.9 151 1064.3M37 1047C56 1050.9 75 1054.2 94 1056.3C113 1058.2 132 1068.3 151 1067.4M37 1060.6C56 1055.9 75 1059 94 1060.6C113 1060.7 132 1074.5 151 1076.9M37 1057.1C56 1055.3 75 1058 94 1059.1C113 1059.2 132 1070.2 151 1064M37 1067.5C56 1055.6 75 1059.1 94 1059C113 1058.8 132 1069.2 151 1062.6M37 1053.6C56 1056.5 75 1058.7 94 1060.4C113 1060.4 132 1073 151 1068.3M37 1054.5C56 1056.8 75 1059.1 94 1061.3C113 1061.2 132 1075.5 151 1076.1M37 1065.7C56 1058.3 75 1061 94 1061.9C113 1061 132 1074.7 151 1072.2M37 1068.9C56 1059.5 75 1062 94 1062.1C113 1060.7 132 1073.4 151 1065.8M37 1059.9C56 1051.9 75 1055.9 94 1056.5C113 1057.7 132 1067 151 1064.2M37 1051.7C56 1054.5 75 1057.1 94 1059.2C113 1059.8 132 1072 151 1070.3M37 1060.8C56 1058.5 75 1060.6 94 1061.4C113 1060.4 132 1072.6 151 1063.5M37 1060.7C56 1056.1 75 1059.1 94 1060.3C113 1060.2 132 1073 151 1071.7M37 1047.8C56 1058.2 75 1059.6 94 1062.6C113 1062.3 132 1077.8 151 1077.4M37 1047.7C56 1054.5 75 1056.8 94 1059.1C113 1059.8 132 1071.6 151 1067.6M37 1059.7C56 1056.3 75 1059.1 94 1060.5C113 1060.4 132 1073.5 151 1072.3M37 1058.1C56 1060.1 75 1061.7 94 1063.9C113 1062.7 132 1078.9 151 1078.5M37 1058.5C56 1059.2 75 1061 94 1062.6C113 1061.6 132 1075.9 151 1071.5M37 1049.1C56 1052.1 75 1055.1 94 1056.7C113 1058.1 132 1067.6 151 1062.4M37 1053.5C56 1050.5 75 1054.6 94 1056.4C113 1058.2 132 1068.9 151 1072.2M37 1062.4C56 1059.1 75 1061.4 94 1062.8C113 1061.8 132 1076.8 151 1076"/><path fill="none" stroke="#5d8489" stroke-opacity="0.2" stroke-width="0.6" d="M37 1030.6C56 1049.9 75 1051.1 94 1054C113 1055.8 132 1063 151 1059M37 1030.5C56 1050.1 75 1051.1 94 1054.2C113 1056 132 1064.1 151 1059.5M37 1038.5C56 1049.1 75 1052.1 94 1053.9C113 1056 132 1058.4 151 1056.7M37 1041.1C56 1049.2 75 1052.7 94 1054.3C113 1056.4 132 1059.1 151 1056.8M37 1031.7C56 1048.8 75 1050.8 94 1053.1C113 1055.1 132 1057 151 1056.4M37 1076.1C56 1063.3 75 1066.5 94 1067.3C113 1065.2 132 1079.6 151 1092.1M37 1071.8C56 1062 75 1064.4 94 1065.4C113 1063.3 132 1079.6 151 1081.5M37 1071.2C56 1062.1 75 1064.4 94 1065.5C113 1063.8 132 1079 151 1084.9M37 1072.7C56 1062.9 75 1065.5 94 1066.9C113 1065.8 132 1077.9 151 1096.8M37 1076.1C56 1062.8 75 1066 94 1066.4C113 1063.4 132 1081 151 1081.1"/><path fill="#ff8c00" fill-opacity="0.144" stroke="none" d="M37 1038L45.3 1041.4L53.7 1044.1L62 1045.8L70.3 1046.3L78.7 1046.6L87 1047.1L95.3 1048.9L103.7 1051.5L112 1053.3L120.3 1055L128.7 1056L137 1055.5L145.3 1053.7L153.7 1050.6L162 1042L162 1070L153.7 1066.2L145.3 1065.1L137 1064.7L128.7 1064.3L120.3 1063.9L112 1063.4L103.7 1062.2L95.3 1059.7L87 1058L78.7 1058L70.3 1058L62 1058L53.7 1058.9L45.3 1060.7L37 1063Z"/><path fill="#ff8c00" fill-opacity="0.32" stroke="none" d="M37 1041.8L45.3 1044.3L53.7 1046.4L62 1047.6L70.3 1048.1L78.7 1048.3L87 1048.7L95.3 1050.5L103.7 1053.1L112 1054.8L120.3 1056.4L128.7 1057.2L137 1056.9L145.3 1055.4L153.7 1052.9L162 1046.2L162 1065.8L153.7 1063.8L145.3 1063.4L137 1063.3L128.7 1063.1L120.3 1062.6L112 1061.8L103.7 1060.6L95.3 1058.1L87 1056.4L78.7 1056.3L70.3 1056.3L62 1056.2L53.7 1056.7L45.3 1057.8L37 1059.2Z"/><path fill="none" stroke="#ff8c00" stroke-opacity="0.28" stroke-width="0.7" d="M37 1054.4C57.8 1052.4 78.7 1049.1 99.5 1054.3C120.3 1058.5 141.2 1063.2 162 1051.2M37 1050.1C57.8 1054.3 78.7 1050.2 99.5 1056.9C120.3 1063 141.2 1061.5 162 1060.3M37 1043.8C57.8 1053.6 78.7 1048.1 99.5 1055.4C120.3 1061.3 141.2 1062.5 162 1056.2M37 1043.8C57.8 1053 78.7 1047.6 99.5 1055.5C120.3 1064.5 141.2 1058.3 162 1067M37 1050.9C57.8 1052.4 78.7 1048.4 99.5 1054.1C120.3 1058.7 141.2 1063.3 162 1051.2M37 1043C57.8 1053 78.7 1047.4 99.5 1054.9C120.3 1061.5 141.2 1061.6 162 1057.8M37 1047.9C57.8 1054.8 78.7 1050.2 99.5 1057.5C120.3 1064.5 141.2 1060.8 162 1063.5M37 1056C57.8 1054.9 78.7 1051.8 99.5 1056.4C120.3 1057.2 141.2 1068.1 162 1042.2M37 1056.5C57.8 1053.6 78.7 1050.8 99.5 1055.8C120.3 1059.6 141.2 1063.8 162 1052M37 1055.3C57.8 1053.7 78.7 1050.5 99.5 1055.6C120.3 1058.9 141.2 1064.6 162 1049.6M37 1042C57.8 1053.9 78.7 1048.1 99.5 1056.2C120.3 1063.8 141.2 1060.5 162 1062.7M37 1041.3C57.8 1053.4 78.7 1047.4 99.5 1055.6C120.3 1063.7 141.2 1059.8 162 1063.5M37 1048.1C57.8 1053.7 78.7 1049.2 99.5 1056.7C120.3 1065.9 141.2 1057.5 162 1070.3M37 1045.1C57.8 1051 78.7 1045.8 99.5 1052.4C120.3 1058.5 141.2 1061.6 162 1053.3M37 1052.9C57.8 1053.5 78.7 1049.9 99.5 1056.2C120.3 1063.3 141.2 1059.9 162 1063M37 1043.2C57.8 1051.5 78.7 1045.9 99.5 1052.7C120.3 1057.8 141.2 1063.1 162 1050M37 1048.6C57.8 1053.5 78.7 1049 99.5 1055.4C120.3 1060 141.2 1063.6 162 1052.8M37 1048.1C57.8 1052.4 78.7 1047.8 99.5 1054.2C120.3 1059.7 141.2 1062.2 162 1054.3M37 1043.1C57.8 1052.9 78.7 1047.3 99.5 1054.5C120.3 1059.9 141.2 1063.1 162 1053.2M37 1048.5C57.8 1051.9 78.7 1047.4 99.5 1053.6C120.3 1058.9 141.2 1062.4 162 1052.8M37 1049.2C57.8 1052.8 78.7 1048.5 99.5 1055.3C120.3 1062.9 141.2 1059.5 162 1062.9M37 1051C57.8 1054.8 78.7 1050.8 99.5 1057.2C120.3 1062.4 141.2 1062.8 162 1057.6M37 1060.3C57.8 1057.5 78.7 1055.6 99.5 1061.3C120.3 1067.8 141.2 1060.7 162 1069.2M37 1052.9C57.8 1054.8 78.7 1051.3 99.5 1057.6C120.3 1063.4 141.2 1061.7 162 1060.5M37 1041.8C57.8 1052.3 78.7 1046.4 99.5 1053.8C120.3 1059.8 141.2 1062.2 162 1054.3M37 1052.1C57.8 1056 78.7 1052.3 99.5 1058.7C120.3 1063.5 141.2 1063.5 162 1058.2M37 1061.2C57.8 1055.5 78.7 1053.6 99.5 1058.6C120.3 1063.2 141.2 1062.6 162 1059.1M37 1059.4C57.8 1055.3 78.7 1053.1 99.5 1058.3C120.3 1063.1 141.2 1062.4 162 1059.2M37 1044.9C57.8 1053.7 78.7 1048.5 99.5 1055.7C120.3 1061.6 141.2 1062.3 162 1057M37 1055.6C57.8 1053.8 78.7 1050.7 99.5 1055.7C120.3 1058.6 141.2 1065.2 162 1048.4M37 1052.2C57.8 1053.7 78.7 1050 99.5 1056.2C120.3 1062.3 141.2 1061.3 162 1059.6M37 1043.6C57.8 1056.6 78.7 1051.1 99.5 1059.6C120.3 1067.1 141.2 1060.9 162 1067.2M37 1063.4C57.8 1055.6 78.7 1054.2 99.5 1058.6C120.3 1062.3 141.2 1063.6 162 1056.4M37 1044.6C57.8 1051.1 78.7 1045.8 99.5 1052.2C120.3 1057 141.2 1063.3 162 1048.7M37 1058.5C57.8 1055.6 78.7 1053.1 99.5 1058.5C120.3 1063.3 141.2 1062.6 162 1059.3M37 1052.2C57.8 1055.4 78.7 1051.6 99.5 1057.3C120.3 1059.5 141.2 1066.8 162 1047.5M37 1061.8C57.8 1054.5 78.7 1052.7 99.5 1056.8C120.3 1059.2 141.2 1065.2 162 1049.3M37 1053.9C57.8 1055 78.7 1051.6 99.5 1057.3C120.3 1060.9 141.2 1064.6 162 1052.8M37 1060.4C57.8 1054.6 78.7 1052.5 99.5 1057.5C120.3 1062.8 141.2 1061.6 162 1059.9M37 1056.8C57.8 1053.8 78.7 1051 99.5 1056.2C120.3 1060.6 141.2 1063 162 1054.6M37 1038.9C57.8 1053.3 78.7 1046.9 99.5 1055.3C120.3 1063.1 141.2 1060.5 162 1061.6M37 1050.9C57.8 1052.3 78.7 1048.3 99.5 1054.5C120.3 1061.2 141.2 1060.4 162 1059.1M37 1060.3C57.8 1053.9 78.7 1051.9 99.5 1056.5C120.3 1060.8 141.2 1062.8 162 1055.1M37 1061.7C57.8 1055.5 78.7 1053.6 99.5 1058C120.3 1060.4 141.2 1065.4 162 1051M37 1057.4C57.8 1057.2 78.7 1054.5 99.5 1060.7C120.3 1066.4 141.2 1061.8 162 1065M37 1048.2C57.8 1054.5 78.7 1050 99.5 1057.6C120.3 1065.9 141.2 1058.8 162 1068.5M37 1056.8C57.8 1054.6 78.7 1051.8 99.5 1057.7C120.3 1064.2 141.2 1060.2 162 1064M37 1052.5C57.8 1054.5 78.7 1050.8 99.5 1056.5C120.3 1059.9 141.2 1064.9 162 1050.7M37 1052.5C57.8 1055.1 78.7 1051.5 99.5 1058.3C120.3 1066 141.2 1059.3 162 1068M37 1060.6C57.8 1053.7 78.7 1051.7 99.5 1056.3C120.3 1060.8 141.2 1062.4 162 1055.7M37 1061C57.8 1055.1 78.7 1053.2 99.5 1058C120.3 1062.4 141.2 1062.8 162 1057.5M37 1039.9C57.8 1052.4 78.7 1046.2 99.5 1054C120.3 1060.8 141.2 1061.6 162 1056.7M37 1041.7C57.8 1051.7 78.7 1045.7 99.5 1052.4C120.3 1056.2 141.2 1065.2 162 1044.6M37 1051.1C57.8 1055.1 78.7 1051.1 99.5 1057.6C120.3 1062.9 141.2 1062.7 162 1058.4M37 1050C57.8 1052.8 78.7 1048.6 99.5 1054.5C120.3 1058.8 141.2 1063.7 162 1050.8"/><path fill="none" stroke="#fff" stroke-opacity="0.5" stroke-width="1.4" d="M37 1056C56 1057.4 75 1058.8 94 1060.3C113 1061 132 1071.2 151 1070"/><path fill="none" stroke="#3f6470" stroke-opacity="0.7" stroke-width="0.8" stroke-dasharray="1.3 1.1" d="M37 1056C56 1057.4 75 1058.8 94 1060.3C113 1061 132 1071.2 151 1070"/><path fill="none" stroke="#fff" stroke-opacity="0.5" stroke-width="1.4" d="M37 1050C57.8 1051.4 78.7 1049.9 99.5 1054.2C120.3 1059.4 141.2 1063.9 162 1054"/><path fill="none" stroke="#d97700" stroke-opacity="0.7" stroke-width="0.8" stroke-dasharray="1.3 1.1" d="M37 1050C57.8 1051.4 78.7 1049.9 99.5 1054.2C120.3 1059.4 141.2 1063.9 162 1054"/><path fill="#5d8489" fill-opacity="0.022" stroke="none" d="M204 1027L210.7 1029L217.5 1031.2L224.2 1033.6L230.9 1036.1L237.7 1038.8L244.4 1041.7L251.1 1044.4L257.9 1047.3L264.6 1050.1L271.3 1052.3L278.1 1053L284.8 1051.5L291.5 1047.9L298.3 1042.5L305 1035.7L305 1079.5L298.3 1075L291.5 1071.1L284.8 1068L278.1 1066.2L271.3 1065.4L264.6 1064.9L257.9 1064.5L251.1 1064L244.4 1063.3L237.7 1062.5L230.9 1062L224.2 1062.1L217.5 1062.4L210.7 1063L204 1064Z"/><path fill="#5d8489" fill-opacity="0.048" stroke="none" d="M204 1032.5L210.7 1034.1L217.5 1035.9L224.2 1037.9L230.9 1039.9L237.7 1042.4L244.4 1045L251.1 1047.4L257.9 1049.8L264.6 1052.4L271.3 1054.3L278.1 1054.9L284.8 1053.9L291.5 1051.4L298.3 1047.4L305 1042.3L305 1072.9L298.3 1070.1L291.5 1067.6L284.8 1065.5L278.1 1064.2L271.3 1063.4L264.6 1062.7L257.9 1061.9L251.1 1061.1L244.4 1060L237.7 1058.9L230.9 1058.1L224.2 1057.8L217.5 1057.7L210.7 1057.9L204 1058.5Z"/><path fill="none" stroke="#5d8489" stroke-opacity="0.221" stroke-width="0.7" d="M204 1037.6C220.8 1037.2 237.7 1042.7 254.5 1049.7C271.3 1059.6 288.2 1056.1 305 1061.1M204 1057.6C220.8 1054.4 237.7 1055.8 254.5 1057.5C271.3 1058.3 288.2 1064.8 305 1043.3M204 1059.5C220.8 1054.9 237.7 1055.9 254.5 1058C271.3 1059.5 288.2 1063.9 305 1051.7M204 1056.6C220.8 1055.7 237.7 1058.4 254.5 1061.3C271.3 1063 288.2 1064.6 305 1070.7M204 1037C220.8 1041 237.7 1047.8 254.5 1054.4C271.3 1062.6 288.2 1058.9 305 1074.7M204 1033C220.8 1040.5 237.7 1048.4 254.5 1054.9C271.3 1062.3 288.2 1060.4 305 1070M204 1032.2C220.8 1037.1 237.7 1044 254.5 1050.2C271.3 1058.2 288.2 1059 305 1047.9M204 1031.4C220.8 1032.1 237.7 1038.2 254.5 1045.6C271.3 1056.6 288.2 1055 305 1044.9M204 1058.4C220.8 1054.1 237.7 1055.6 254.5 1058.5C271.3 1061.1 288.2 1062.9 305 1062.4M204 1030.1C220.8 1037.3 237.7 1045.3 254.5 1052.2C271.3 1060.5 288.2 1059.1 305 1061.4M204 1036.3C220.8 1038.6 237.7 1044.6 254.5 1050.9C271.3 1059.4 288.2 1058.1 305 1056.9M204 1062.6C220.8 1060.5 237.7 1062.1 254.5 1064.1C271.3 1064 288.2 1066.2 305 1075M204 1059C220.8 1051 237.7 1051.6 254.5 1055.1C271.3 1059.5 288.2 1060.3 305 1057.4M204 1037C220.8 1042.8 237.7 1049.2 254.5 1054.3C271.3 1059.7 288.2 1061.8 305 1053.4M204 1057.8C220.8 1055.1 237.7 1057.1 254.5 1059.8C271.3 1061.8 288.2 1063.9 305 1064.9M204 1042.7C220.8 1045.2 237.7 1050.3 254.5 1055C271.3 1060.1 288.2 1061.6 305 1056.3M204 1049.8C220.8 1049.8 237.7 1053.2 254.5 1056.5C271.3 1059.4 288.2 1063.2 305 1051M204 1045.2C220.8 1046 237.7 1050.1 254.5 1053.9C271.3 1058.1 288.2 1062 305 1044.8M204 1047.5C220.8 1048 237.7 1052.1 254.5 1056.4C271.3 1061 288.2 1061.8 305 1062M204 1054.8C220.8 1043.9 237.7 1044.4 254.5 1049.4C271.3 1057.6 288.2 1055.8 305 1052.4M204 1037C220.8 1033.5 237.7 1038.1 254.5 1045.3C271.3 1056.8 288.2 1053.7 305 1048.6M204 1056.7C220.8 1054.6 237.7 1056.8 254.5 1059.6C271.3 1061.5 288.2 1064.1 305 1062.9M204 1044.7C220.8 1046.9 237.7 1051.6 254.5 1056C271.3 1060.5 288.2 1062.2 305 1058.4M204 1049.3C220.8 1050 237.7 1054.3 254.5 1059.1C271.3 1063.8 288.2 1061.8 305 1078.9M204 1043.9C220.8 1043.9 237.7 1048 254.5 1052.6C271.3 1058.2 288.2 1060.4 305 1047.7M204 1032.9C220.8 1035.3 237.7 1041.4 254.5 1047.8C271.3 1056.7 288.2 1057.4 305 1041.5M204 1027.4C220.8 1035.2 237.7 1043.4 254.5 1050.1C271.3 1058.5 288.2 1059.1 305 1048.9M204 1059.1C220.8 1054.3 237.7 1056 254.5 1059.4C271.3 1062.7 288.2 1062.3 305 1072.9M204 1058C220.8 1054.4 237.7 1056 254.5 1058.4C271.3 1060.2 288.2 1063.9 305 1055.5M204 1049.1C220.8 1049.2 237.7 1052.7 254.5 1056.1C271.3 1059.2 288.2 1063 305 1050.2M204 1029C220.8 1032.8 237.7 1040 254.5 1047.4C271.3 1057.7 288.2 1056.3 305 1048.9M204 1048.1C220.8 1046.3 237.7 1049.7 254.5 1054.4C271.3 1060 288.2 1060.2 305 1059M204 1040.4C220.8 1041.1 237.7 1046.5 254.5 1052.9C271.3 1061.4 288.2 1057.9 305 1069.5M204 1051.6C220.8 1045.7 237.7 1047.3 254.5 1051.2C271.3 1056.7 288.2 1059.4 305 1041M204 1052.3C220.8 1051.3 237.7 1054.7 254.5 1058.7C271.3 1062.5 288.2 1062.4 305 1070.7M204 1060.4C220.8 1056.9 237.7 1058.7 254.5 1061.8C271.3 1064 288.2 1063.7 305 1078.6M204 1041C220.8 1049.9 237.7 1057.1 254.5 1061.6C271.3 1064.7 288.2 1065.1 305 1078.3M204 1042.3C220.8 1040.4 237.7 1044.5 254.5 1050.1C271.3 1057.9 288.2 1057.8 305 1049.6M204 1052.6C220.8 1052 237.7 1054.8 254.5 1057.6C271.3 1059.8 288.2 1063.9 305 1052.7M204 1058.5C220.8 1055.7 237.7 1057.4 254.5 1059.9C271.3 1061.2 288.2 1064.5 305 1061M204 1037C220.8 1042.4 237.7 1048.7 254.5 1053.7C271.3 1059.2 288.2 1061.7 305 1050.5M204 1032.3C220.8 1034.9 237.7 1041.5 254.5 1048.5C271.3 1058.4 288.2 1056.6 305 1053.1M204 1046.1C220.8 1044.4 237.7 1047.6 254.5 1051.6C271.3 1056.6 288.2 1060.6 305 1038.3M204 1037.8C220.8 1041 237.7 1047.1 254.5 1053.1C271.3 1060.5 288.2 1059.4 305 1061.9M204 1054.6C220.8 1048.8 237.7 1050 254.5 1053.1C271.3 1057 288.2 1061 305 1040.9"/><path fill="none" stroke="#5d8489" stroke-opacity="0.22" stroke-width="0.6" d="M204 1021.1C220.8 1027.3 237.7 1034.3 254.5 1040.7C271.3 1050.5 288.2 1052.8 305 1021.2M204 1022.2C220.8 1027.9 237.7 1034.8 254.5 1041C271.3 1050.5 288.2 1053.1 305 1019.9M204 1020.5C220.8 1027.7 237.7 1035.1 254.5 1042.6C271.3 1053.8 288.2 1054.4 305 1034.7M204 1023C220.8 1028.9 237.7 1036.2 254.5 1043.1C271.3 1053.3 288.2 1054.7 305 1030.5M204 1020.6C220.8 1027.8 237.7 1035.2 254.5 1042.7C271.3 1053.9 288.2 1054.5 305 1035.3M204 1066.8C220.8 1062.3 237.7 1063.7 254.5 1065.6C271.3 1066 288.2 1067.6 305 1083.5M204 1064.6C220.8 1061.3 237.7 1062.7 254.5 1064.9C271.3 1065.4 288.2 1066.8 305 1082.3M204 1066.7C220.8 1061.9 237.7 1063.2 254.5 1065C271.3 1065.2 288.2 1066.5 305 1080.4M204 1069.4C220.8 1063.2 237.7 1064.5 254.5 1065.9C271.3 1066.2 288.2 1067.8 305 1082.5M204 1067.2C220.8 1062.8 237.7 1064.3 254.5 1066.2C271.3 1066.8 288.2 1068.7 305 1086.3"/><path fill="#ff8c00" fill-opacity="0.099" stroke="none" d="M176 1004L184.1 1011.7L192.3 1018.6L200.4 1024.7L208.5 1029.9L216.7 1034.8L224.8 1038.6L232.9 1040.4L241.1 1041.1L249.2 1041.8L257.3 1043.1L265.5 1045.1L273.6 1046.5L281.7 1045.6L289.9 1039.8L298 1031L298 1064L289.9 1061.1L281.7 1058.9L273.6 1057.5L265.5 1056.5L257.3 1055.8L249.2 1055.6L241.1 1055.6L232.9 1055.6L224.8 1056.1L216.7 1057.9L208.5 1059.6L200.4 1059.7L192.3 1057.3L184.1 1052.9L176 1047Z"/><path fill="#ff8c00" fill-opacity="0.22" stroke="none" d="M176 1010.5L184.1 1017.9L192.3 1024.4L200.4 1029.9L208.5 1034.3L216.7 1038.3L224.8 1041.3L232.9 1042.7L241.1 1043.3L249.2 1043.9L257.3 1045L265.5 1046.8L273.6 1048.2L281.7 1047.6L289.9 1043L298 1036L298 1059L289.9 1057.9L281.7 1056.9L273.6 1055.9L265.5 1054.8L257.3 1053.9L249.2 1053.5L241.1 1053.4L232.9 1053.3L224.8 1053.4L216.7 1054.4L208.5 1055.2L200.4 1054.5L192.3 1051.5L184.1 1046.7L176 1040.5Z"/><path fill="none" stroke="#ff8c00" stroke-opacity="0.34" stroke-width="0.7" d="M176 1028.9C196.3 1058.2 216.7 1054.8 237 1054.5C257.3 1054.3 277.7 1057.4 298 1059.5M176 1013.9C196.3 1042.7 216.7 1049.4 237 1049.6C257.3 1048.9 277.7 1058.5 298 1050M176 1026.4C196.3 1046.3 216.7 1047.8 237 1049.1C257.3 1049.7 277.7 1055.5 298 1056.7M176 1024.8C196.3 1043.7 216.7 1046.6 237 1048C257.3 1048.2 277.7 1056 298 1053.8M176 1027.9C196.3 1050.1 216.7 1050 237 1051.1C257.3 1052.6 277.7 1054.7 298 1062.1M176 1029.8C196.3 1054.3 216.7 1052.2 237 1052.7C257.3 1053.8 277.7 1055.3 298 1062.8M176 1037.8C196.3 1058.5 216.7 1051.8 237 1052C257.3 1049.7 277.7 1058.5 298 1051.3M176 1037.9C196.3 1055.3 216.7 1049.6 237 1050.2C257.3 1047.8 277.7 1058.4 298 1048.9M176 1034.8C196.3 1059.3 216.7 1053.4 237 1053.2C257.3 1051 277.7 1058.9 298 1052.3M176 1013.4C196.3 1032.8 216.7 1042.9 237 1044.2C257.3 1042.6 277.7 1058.7 298 1041.1M176 1011.6C196.3 1039.4 216.7 1048.2 237 1049C257.3 1050 277.7 1056.4 298 1055.4M176 1021.2C196.3 1044.5 216.7 1048.4 237 1049.5C257.3 1050.3 277.7 1055.8 298 1057M176 1021.3C196.3 1044.9 216.7 1048.5 237 1049.3C257.3 1049.2 277.7 1056.9 298 1053.4M176 1043.3C196.3 1052.6 216.7 1045.6 237 1046.4C257.3 1040.5 277.7 1061.5 298 1033.3M176 1025.9C196.3 1045.1 216.7 1046.9 237 1047.7C257.3 1045.8 277.7 1058.5 298 1045.8M176 1030.3C196.3 1059 216.7 1054.8 237 1054.4C257.3 1053.2 277.7 1058.3 298 1056.4M176 1014.2C196.3 1039.1 216.7 1046.7 237 1047.1C257.3 1044.6 277.7 1060.1 298 1041.2M176 1021.7C196.3 1049.1 216.7 1050.9 237 1050.6C257.3 1048 277.7 1060.3 298 1045.6M176 1024.1C196.3 1042.8 216.7 1045.8 237 1046.6C257.3 1043.6 277.7 1059.8 298 1040.5M176 1042.6C196.3 1064.6 216.7 1054.2 237 1053.8C257.3 1050.7 277.7 1059.4 298 1051.1M176 1014.5C196.3 1035.4 216.7 1044.1 237 1045C257.3 1042.4 277.7 1059.9 298 1038.6M176 1047.1C196.3 1067.1 216.7 1054.5 237 1054.2C257.3 1051.5 277.7 1058.6 298 1053.5M176 1012.7C196.3 1032 216.7 1042.4 237 1043.5C257.3 1040.7 277.7 1060.2 298 1035.8M176 1030.3C196.3 1060 216.7 1055.5 237 1054.9C257.3 1053.6 277.7 1058.5 298 1056.6M176 1034.6C196.3 1054.4 216.7 1050 237 1050.1C257.3 1046.6 277.7 1060.1 298 1044M176 1021.5C196.3 1045.3 216.7 1048.6 237 1049.2C257.3 1048.3 277.7 1057.9 298 1050.3M176 1005.1C196.3 1028.8 216.7 1043 237 1044C257.3 1042.3 277.7 1059.5 298 1039.1M176 1023.4C196.3 1051.4 216.7 1052.2 237 1052.4C257.3 1052.8 277.7 1056.7 298 1058.7M176 1026.7C196.3 1048.7 216.7 1049 237 1049.3C257.3 1046.7 277.7 1059.5 298 1045.4M176 1035.3C196.3 1052.5 216.7 1048.7 237 1049.5C257.3 1047.8 277.7 1057.7 298 1050.1M176 1015.4C196.3 1041.1 216.7 1048 237 1048.8C257.3 1049 277.7 1057 298 1052.9M176 1021.7C196.3 1041.3 216.7 1045.8 237 1046.8C257.3 1045.1 277.7 1058.4 298 1045.2M176 1012.3C196.3 1038.3 216.7 1047.1 237 1047.9C257.3 1047.9 277.7 1057.4 298 1050.8M176 1007.7C196.3 1032.6 216.7 1045.2 237 1046.8C257.3 1049.3 277.7 1054.5 298 1057.8M176 1026.5C196.3 1052 216.7 1051.5 237 1051.8C257.3 1051.5 277.7 1057.1 298 1056.3M176 1035.8C196.3 1051 216.7 1047.5 237 1048.4C257.3 1046.1 277.7 1058.2 298 1046.9M176 1038.5C196.3 1051.8 216.7 1046.9 237 1047.7C257.3 1043.9 277.7 1059.6 298 1041.3M176 1021.5C196.3 1049.9 216.7 1051.6 237 1051.6C257.3 1050.5 277.7 1058.6 298 1052.1M176 1020C196.3 1034.6 216.7 1041.6 237 1042.8C257.3 1038.7 277.7 1060.9 298 1031.8M176 1021.5C196.3 1047.7 216.7 1050.1 237 1050.3C257.3 1048.8 277.7 1058.8 298 1049.4M176 1046.3C196.3 1065.2 216.7 1053 237 1052.3C257.3 1046.2 277.7 1062.6 298 1039M176 1033.8C196.3 1063 216.7 1056.2 237 1055.4C257.3 1053.3 277.7 1059.3 298 1054.7M176 1011.3C196.3 1036.8 216.7 1046.7 237 1048C257.3 1050 277.7 1055 298 1057.9M176 1034.6C196.3 1051.3 216.7 1047.9 237 1048.3C257.3 1044.3 277.7 1060.4 298 1040.3M176 1018.8C196.3 1049 216.7 1052.3 237 1052.6C257.3 1054.1 277.7 1055.7 298 1062.3"/><path fill="none" stroke="#ff8c00" stroke-opacity="0.22" stroke-width="0.6" d="M176 986.5C196.3 1003.3 216.7 1032.9 237 1036.5C257.3 1035.6 277.7 1055.9 298 1026.5M176 1002.5C196.3 1020.7 216.7 1038.3 237 1040.1C257.3 1037.4 277.7 1059.7 298 1030M176 993.6C196.3 1009.6 216.7 1034.2 237 1037.4C257.3 1035.9 277.7 1056.4 298 1026.7M176 993.8C196.3 1013.9 216.7 1037.4 237 1039.5C257.3 1037.4 277.7 1059.9 298 1030.8M176 987.9C196.3 1004.2 216.7 1032.9 237 1036.5C257.3 1035.5 277.7 1055.7 298 1026.2M176 1051.9C196.3 1069.9 216.7 1055.3 237 1056.8C257.3 1056.6 277.7 1058.3 298 1066.5M176 1076.7C196.3 1063.4 216.7 1057.7 237 1057.2C257.3 1056.6 277.7 1057.6 298 1065.3M176 1072.8C196.3 1065 216.7 1057.2 237 1057.4C257.3 1056.8 277.7 1058.1 298 1065.9M176 1077.4C196.3 1064.2 216.7 1057.6 237 1057.6C257.3 1057 277.7 1058.3 298 1066M176 1056C196.3 1068.7 216.7 1055.7 237 1056.8C257.3 1056.5 277.7 1058 298 1066.1"/><path fill="none" stroke="#fff" stroke-opacity="0.5" stroke-width="1.4" d="M204 1045C220.8 1048.2 237.7 1051.6 254.5 1054.6C271.3 1059.3 288.2 1057.8 305 1058"/><path fill="none" stroke="#3f6470" stroke-opacity="0.75" stroke-width="0.8" stroke-dasharray="1.3 1.1" d="M204 1045C220.8 1048.2 237.7 1051.6 254.5 1054.6C271.3 1059.3 288.2 1057.8 305 1058"/><path fill="none" stroke="#fff" stroke-opacity="0.5" stroke-width="1.4" d="M176 1026C196.3 1044.4 216.7 1047.4 237 1048.4C257.3 1048.1 277.7 1055.3 298 1050"/><path fill="none" stroke="#d97700" stroke-opacity="0.75" stroke-width="0.8" stroke-dasharray="1.3 1.1" d="M176 1026C196.3 1044.4 216.7 1047.4 237 1048.4C257.3 1048.1 277.7 1055.3 298 1050"/><line x1="22.3" y1="1057" x2="315.5" y2="1057" stroke="#8a8a8a" stroke-width="0.6" stroke-dasharray="0.9 1.1"/><line x1="22.4" y1="973.5" x2="22.4" y2="1104.2" stroke="#9a9a9a" stroke-width="0.9"/><line x1="22.3" y1="1104.2" x2="168.1" y2="1104.2" stroke="#9a9a9a" stroke-width="0.9"/><line x1="169.3" y1="1104.2" x2="315.5" y2="1104.2" stroke="#9a9a9a" stroke-width="0.9"/><rect x="22.8" y="963" width="144.9" height="10.4" fill="#fff" stroke="#333" stroke-width="0.9"/><text x="95.2" y="971.1" font-size="8.7" text-anchor="middle" fill="#1a1a1a">Amyloid−</text><rect x="169.8" y="963" width="145.3" height="10.4" fill="#fff" stroke="#333" stroke-width="0.9"/><text x="242.4" y="971.1" font-size="8.7" text-anchor="middle" fill="#1a1a1a">Amyloid+</text><text x="21.9" y="959.1" font-size="11" fill="#000">M9</text><text x="21" y="1031.4" font-size="6.6" text-anchor="end" fill="#555">1</text><line x1="21.2" y1="1029" x2="22.4" y2="1029" stroke="#9a9a9a" stroke-width="0.6"/><text x="21" y="1059.4" font-size="6.6" text-anchor="end" fill="#555">0</text><line x1="21.2" y1="1057" x2="22.4" y2="1057" stroke="#9a9a9a" stroke-width="0.6"/><text x="21" y="1087.4" font-size="6.6" text-anchor="end" fill="#555">−1</text><line x1="21.2" y1="1085" x2="22.4" y2="1085" stroke="#9a9a9a" stroke-width="0.6"/><text x="34.5" y="1111" font-size="6.6" text-anchor="middle" fill="#555">45</text><text x="48.3" y="1111" font-size="6.6" text-anchor="middle" fill="#555">50</text><text x="62.1" y="1111" font-size="6.6" text-anchor="middle" fill="#555">55</text><text x="75.9" y="1111" font-size="6.6" text-anchor="middle" fill="#555">60</text><text x="89.7" y="1111" font-size="6.6" text-anchor="middle" fill="#555">65</text><text x="103.5" y="1111" font-size="6.6" text-anchor="middle" fill="#555">70</text><text x="117.3" y="1111" font-size="6.6" text-anchor="middle" fill="#555">75</text><text x="131.1" y="1111" font-size="6.6" text-anchor="middle" fill="#555">80</text><text x="144.9" y="1111" font-size="6.6" text-anchor="middle" fill="#555">85</text><text x="158.7" y="1111" font-size="6.6" text-anchor="middle" fill="#555">90</text><text x="181.6" y="1111" font-size="6.6" text-anchor="middle" fill="#555">45</text><text x="195.4" y="1111" font-size="6.6" text-anchor="middle" fill="#555">50</text><text x="209.2" y="1111" font-size="6.6" text-anchor="middle" fill="#555">55</text><text x="223" y="1111" font-size="6.6" text-anchor="middle" fill="#555">60</text><text x="236.8" y="1111" font-size="6.6" text-anchor="middle" fill="#555">65</text><text x="250.6" y="1111" font-size="6.6" text-anchor="middle" fill="#555">70</text><text x="264.4" y="1111" font-size="6.6" text-anchor="middle" fill="#555">75</text><text x="278.2" y="1111" font-size="6.6" text-anchor="middle" fill="#555">80</text><text x="292" y="1111" font-size="6.6" text-anchor="middle" fill="#555">85</text><text x="305.8" y="1111" font-size="6.6" text-anchor="middle" fill="#555">90</text><text x="169" y="1121.9" font-size="11" text-anchor="middle" fill="#000">Age</text><text x="0" y="0" font-size="11" text-anchor="middle" fill="#000" transform="translate(9.2 1038.8) rotate(-90)">Protein Level (Z−Score)</text></g>
<line x1="587.1" y1="1069.7" x2="610" y2="1069.7" stroke="#5a7479" stroke-width="1.7"/>
<line x1="587.1" y1="1098.4" x2="610" y2="1098.4" stroke="#dd9030" stroke-width="1.7"/>
<text x="621.6" y="1075.5" font-size="16.2" fill="#111">Male</text>
<text x="621.7" y="1103.6" font-size="16.2" fill="#111">Female</text>
</svg></body></html>
